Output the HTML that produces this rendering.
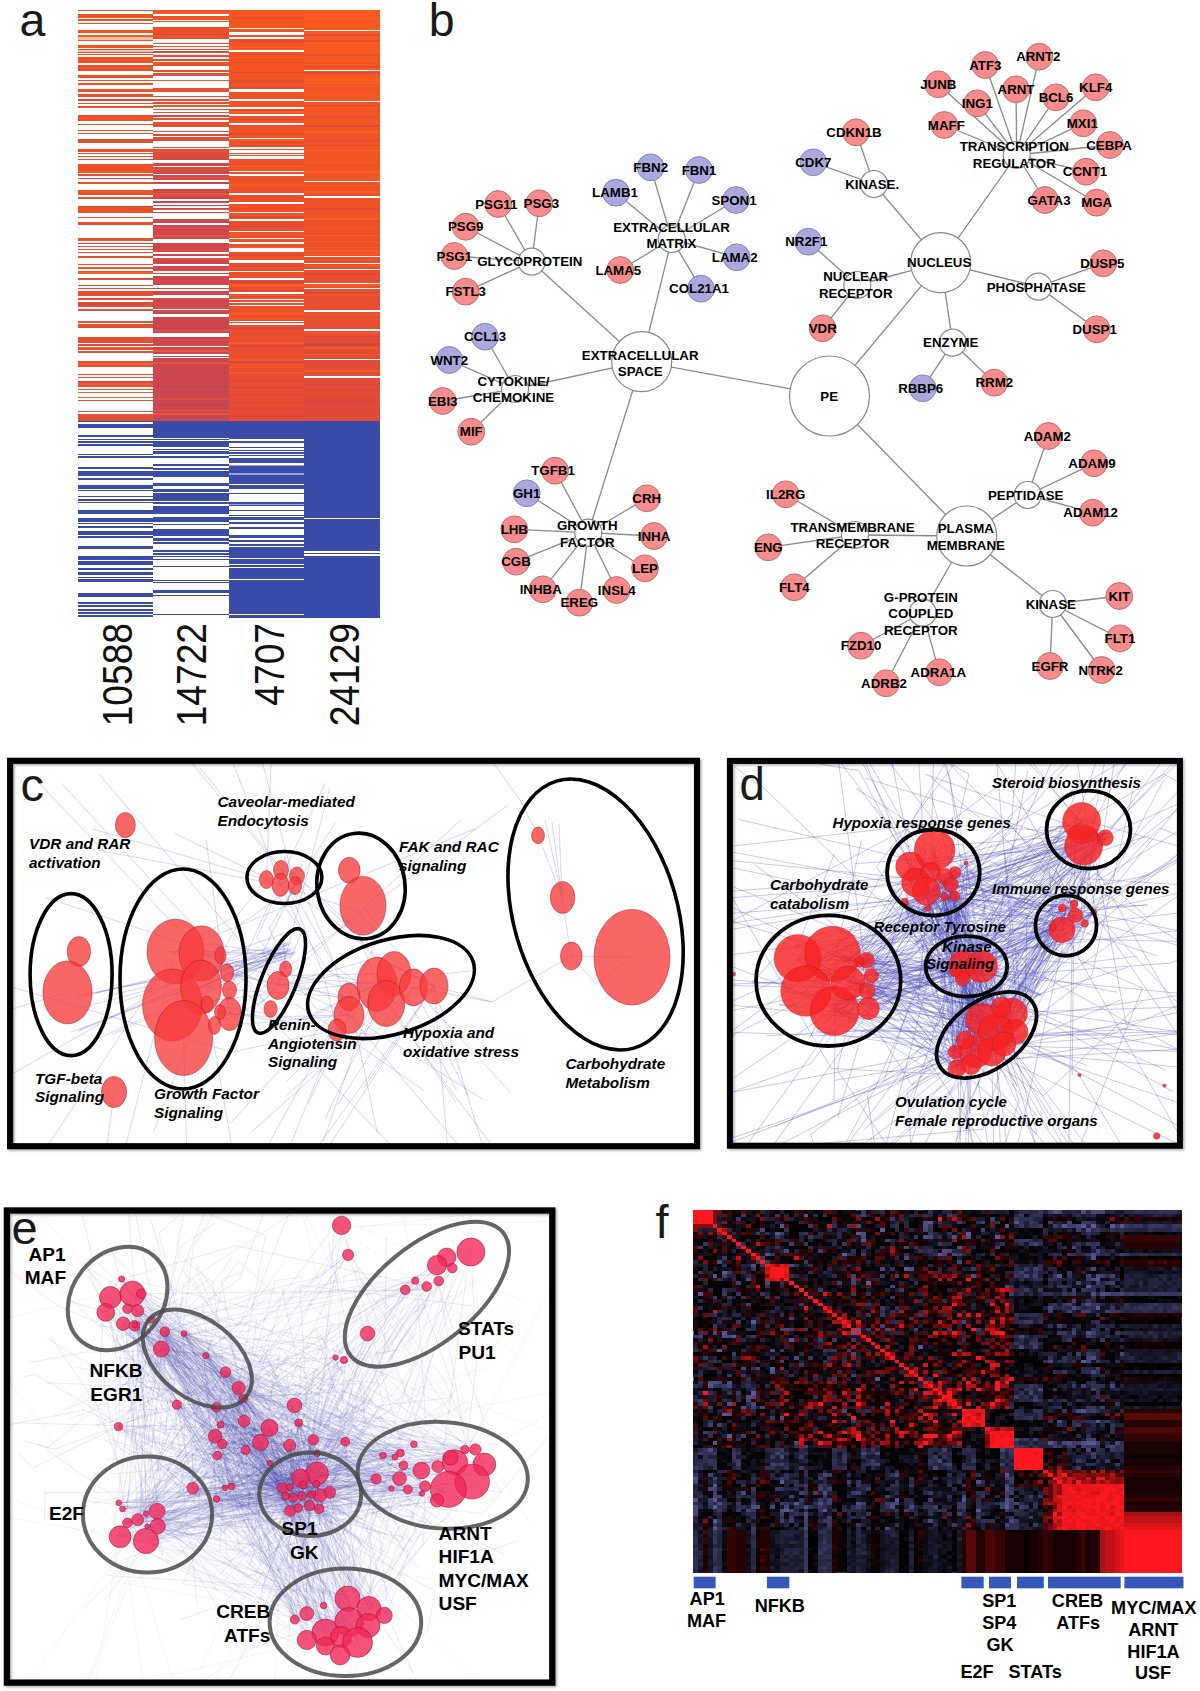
<!DOCTYPE html>
<html><head><meta charset="utf-8"><title>Figure</title>
<style>
html,body{margin:0;padding:0;background:#fff}
svg{display:block}
text{font-family:"Liberation Sans",sans-serif}
.bt{font-weight:bold;font-size:13.3px;fill:#000}
.pl{font-size:44px;fill:#1a1a1a}
.it{font-weight:bold;font-style:italic;font-size:15.35px;fill:#000}
.eb{font-weight:bold;font-size:19.1px;fill:#000}
</style></head><body>
<svg width="1200" height="1691" viewBox="0 0 1200 1691">
<rect width="1200" height="1691" fill="#fff"/>
<defs><filter id="shd" x="-5%" y="-5%" width="110%" height="110%"><feGaussianBlur stdDeviation="1"/></filter></defs>
<g id="pa" shape-rendering="crispEdges">
<defs>
<linearGradient id="ga0" x1="0" y1="0" x2="0" y2="1"><stop offset="0" stop-color="#f4521f"/><stop offset="0.5" stop-color="#ea502a"/><stop offset="1" stop-color="#e2503a"/></linearGradient>
<linearGradient id="ga1" x1="0" y1="0" x2="0" y2="1"><stop offset="0" stop-color="#ee5028"/><stop offset=".3" stop-color="#e84e30"/><stop offset=".42" stop-color="#d2474a"/><stop offset="1" stop-color="#cc4650"/></linearGradient>
<linearGradient id="ga2" x1="0" y1="0" x2="0" y2="1"><stop offset="0" stop-color="#f6551e"/><stop offset="0.5" stop-color="#ee4f28"/><stop offset="1" stop-color="#e84c34"/></linearGradient>
<linearGradient id="ga3" x1="0" y1="0" x2="0" y2="1"><stop offset="0" stop-color="#fb5a1f"/><stop offset="0.55" stop-color="#ee5029"/><stop offset="1" stop-color="#df4a3a"/></linearGradient>
</defs>
<rect x="78" y="9.6" width="74.6" height="411.1" fill="url(#ga0)"/>
<rect x="78" y="420.7" width="74.6" height="44.3" fill="#3b4ba9"/>
<rect x="152.6" y="9.6" width="76.8" height="411.1" fill="url(#ga1)"/>
<rect x="152.6" y="420.7" width="76.8" height="44.3" fill="#3b4ba9"/>
<rect x="229.4" y="9.6" width="74.3" height="411.1" fill="url(#ga2)"/>
<rect x="229.4" y="420.7" width="74.3" height="196.9" fill="#3b4ba9"/>
<rect x="303.7" y="9.6" width="76.3" height="411.1" fill="url(#ga3)"/>
<rect x="303.7" y="420.7" width="76.3" height="196.9" fill="#3b4ba9"/>
<rect x="78" y="18.3" width="74.6" height="2.1" fill="#c04058" fill-opacity="0.18"/>
<rect x="78" y="22.5" width="74.6" height="0.9" fill="#ff6a20" fill-opacity="0.4"/>
<rect x="78" y="25.9" width="74.6" height="0.9" fill="#c04058" fill-opacity="0.25"/>
<rect x="78" y="34.9" width="74.6" height="1.6" fill="#ff6a20" fill-opacity="0.5"/>
<rect x="78" y="43.5" width="74.6" height="1.5" fill="#c04058" fill-opacity="0.35"/>
<rect x="78" y="51.7" width="74.6" height="2" fill="#c04058" fill-opacity="0.35"/>
<rect x="78" y="60.1" width="74.6" height="1.3" fill="#ff6a20" fill-opacity="0.25"/>
<rect x="78" y="65.8" width="74.6" height="1" fill="#c04058" fill-opacity="0.35"/>
<rect x="78" y="68.6" width="74.6" height="1.4" fill="#c04058" fill-opacity="0.25"/>
<rect x="78" y="77.5" width="74.6" height="1.3" fill="#c04058" fill-opacity="0.35"/>
<rect x="78" y="84.9" width="74.6" height="1.2" fill="#ff6a20" fill-opacity="0.4"/>
<rect x="78" y="87.7" width="74.6" height="1.8" fill="#ff6a20" fill-opacity="0.4"/>
<rect x="78" y="94.1" width="74.6" height="1" fill="#c04058" fill-opacity="0.5"/>
<rect x="78" y="99.3" width="74.6" height="1.9" fill="#c04058" fill-opacity="0.5"/>
<rect x="78" y="107.6" width="74.6" height="1.3" fill="#ff6a20" fill-opacity="0.5"/>
<rect x="78" y="114.5" width="74.6" height="1.4" fill="#c04058" fill-opacity="0.35"/>
<rect x="78" y="122.1" width="74.6" height="1.9" fill="#ff6a20" fill-opacity="0.5"/>
<rect x="78" y="125.6" width="74.6" height="2.1" fill="#c04058" fill-opacity="0.5"/>
<rect x="78" y="129.5" width="74.6" height="0.9" fill="#ff6a20" fill-opacity="0.5"/>
<rect x="78" y="135.6" width="74.6" height="0.7" fill="#ff6a20" fill-opacity="0.5"/>
<rect x="78" y="137.2" width="74.6" height="1.9" fill="#ff6a20" fill-opacity="0.25"/>
<rect x="78" y="139.1" width="74.6" height="1.6" fill="#c04058" fill-opacity="0.25"/>
<rect x="78" y="145.8" width="74.6" height="2.1" fill="#ff6a20" fill-opacity="0.25"/>
<rect x="78" y="153.7" width="74.6" height="1" fill="#c04058" fill-opacity="0.18"/>
<rect x="78" y="158.3" width="74.6" height="1.7" fill="#c04058" fill-opacity="0.35"/>
<rect x="78" y="162.5" width="74.6" height="1" fill="#c04058" fill-opacity="0.18"/>
<rect x="78" y="171.2" width="74.6" height="0.6" fill="#ff6a20" fill-opacity="0.25"/>
<rect x="78" y="175.5" width="74.6" height="0.8" fill="#ff6a20" fill-opacity="0.5"/>
<rect x="78" y="178.4" width="74.6" height="1.7" fill="#c04058" fill-opacity="0.18"/>
<rect x="78" y="185.8" width="74.6" height="1" fill="#ff6a20" fill-opacity="0.25"/>
<rect x="78" y="189.9" width="74.6" height="1.6" fill="#ff6a20" fill-opacity="0.25"/>
<rect x="78" y="193.5" width="74.6" height="1.4" fill="#c04058" fill-opacity="0.18"/>
<rect x="78" y="201.8" width="74.6" height="1.8" fill="#ff6a20" fill-opacity="0.5"/>
<rect x="78" y="204.5" width="74.6" height="2.1" fill="#c04058" fill-opacity="0.35"/>
<rect x="78" y="212.3" width="74.6" height="0.6" fill="#ff6a20" fill-opacity="0.25"/>
<rect x="78" y="217.6" width="74.6" height="1.8" fill="#c04058" fill-opacity="0.35"/>
<rect x="78" y="220.2" width="74.6" height="2.1" fill="#c04058" fill-opacity="0.5"/>
<rect x="78" y="226.6" width="74.6" height="1.7" fill="#ff6a20" fill-opacity="0.5"/>
<rect x="78" y="228.5" width="74.6" height="0.7" fill="#c04058" fill-opacity="0.18"/>
<rect x="78" y="233.4" width="74.6" height="1" fill="#ff6a20" fill-opacity="0.5"/>
<rect x="78" y="242" width="74.6" height="2.2" fill="#c04058" fill-opacity="0.5"/>
<rect x="78" y="244" width="74.6" height="0.7" fill="#c04058" fill-opacity="0.35"/>
<rect x="78" y="247.4" width="74.6" height="1.3" fill="#ff6a20" fill-opacity="0.25"/>
<rect x="78" y="250.1" width="74.6" height="1.2" fill="#c04058" fill-opacity="0.18"/>
<rect x="78" y="253.4" width="74.6" height="0.8" fill="#c04058" fill-opacity="0.25"/>
<rect x="78" y="255.7" width="74.6" height="0.6" fill="#ff6a20" fill-opacity="0.4"/>
<rect x="78" y="259.5" width="74.6" height="1.6" fill="#c04058" fill-opacity="0.25"/>
<rect x="78" y="266.4" width="74.6" height="1.3" fill="#ff6a20" fill-opacity="0.5"/>
<rect x="78" y="272.4" width="74.6" height="2" fill="#ff6a20" fill-opacity="0.5"/>
<rect x="78" y="275.2" width="74.6" height="0.8" fill="#ff6a20" fill-opacity="0.4"/>
<rect x="78" y="276.9" width="74.6" height="2.1" fill="#c04058" fill-opacity="0.35"/>
<rect x="78" y="280.6" width="74.6" height="2.2" fill="#c04058" fill-opacity="0.18"/>
<rect x="78" y="288.6" width="74.6" height="1.3" fill="#c04058" fill-opacity="0.25"/>
<rect x="78" y="296.4" width="74.6" height="1.7" fill="#c04058" fill-opacity="0.5"/>
<rect x="78" y="298.4" width="74.6" height="1.6" fill="#c04058" fill-opacity="0.18"/>
<rect x="78" y="299.9" width="74.6" height="0.6" fill="#c04058" fill-opacity="0.18"/>
<rect x="78" y="303.1" width="74.6" height="1.4" fill="#c04058" fill-opacity="0.35"/>
<rect x="78" y="307.5" width="74.6" height="1.3" fill="#ff6a20" fill-opacity="0.4"/>
<rect x="78" y="315.7" width="74.6" height="1" fill="#c04058" fill-opacity="0.35"/>
<rect x="78" y="322" width="74.6" height="2.1" fill="#ff6a20" fill-opacity="0.25"/>
<rect x="78" y="328.1" width="74.6" height="1.4" fill="#c04058" fill-opacity="0.5"/>
<rect x="78" y="331.8" width="74.6" height="2.1" fill="#c04058" fill-opacity="0.35"/>
<rect x="78" y="335.3" width="74.6" height="1.4" fill="#c04058" fill-opacity="0.5"/>
<rect x="78" y="343.8" width="74.6" height="1.9" fill="#c04058" fill-opacity="0.25"/>
<rect x="78" y="346.5" width="74.6" height="1.6" fill="#ff6a20" fill-opacity="0.5"/>
<rect x="78" y="353" width="74.6" height="2.1" fill="#ff6a20" fill-opacity="0.5"/>
<rect x="78" y="355.3" width="74.6" height="1.2" fill="#ff6a20" fill-opacity="0.25"/>
<rect x="78" y="362.8" width="74.6" height="2" fill="#ff6a20" fill-opacity="0.5"/>
<rect x="78" y="371.7" width="74.6" height="1.6" fill="#c04058" fill-opacity="0.35"/>
<rect x="78" y="376.2" width="74.6" height="1.7" fill="#ff6a20" fill-opacity="0.4"/>
<rect x="78" y="381" width="74.6" height="1.4" fill="#c04058" fill-opacity="0.5"/>
<rect x="78" y="383.2" width="74.6" height="1.4" fill="#ff6a20" fill-opacity="0.4"/>
<rect x="78" y="385.9" width="74.6" height="0.9" fill="#ff6a20" fill-opacity="0.25"/>
<rect x="78" y="390.5" width="74.6" height="2.2" fill="#ff6a20" fill-opacity="0.5"/>
<rect x="78" y="397.4" width="74.6" height="1.3" fill="#ff6a20" fill-opacity="0.5"/>
<rect x="78" y="401.8" width="74.6" height="1.8" fill="#c04058" fill-opacity="0.18"/>
<rect x="78" y="406.9" width="74.6" height="1.2" fill="#ff6a20" fill-opacity="0.4"/>
<rect x="78" y="413.7" width="74.6" height="1.4" fill="#ff6a20" fill-opacity="0.4"/>
<rect x="152.6" y="11.7" width="76.8" height="1.9" fill="#ff6a20" fill-opacity="0.5"/>
<rect x="152.6" y="17.9" width="76.8" height="1.2" fill="#ff6a20" fill-opacity="0.5"/>
<rect x="152.6" y="26.2" width="76.8" height="1.1" fill="#ff6a20" fill-opacity="0.4"/>
<rect x="152.6" y="32.6" width="76.8" height="1.9" fill="#c04058" fill-opacity="0.25"/>
<rect x="152.6" y="39.6" width="76.8" height="1.6" fill="#ff6a20" fill-opacity="0.25"/>
<rect x="152.6" y="44" width="76.8" height="1.5" fill="#ff6a20" fill-opacity="0.4"/>
<rect x="152.6" y="51.1" width="76.8" height="1.5" fill="#c04058" fill-opacity="0.25"/>
<rect x="152.6" y="52.6" width="76.8" height="1.7" fill="#c04058" fill-opacity="0.25"/>
<rect x="152.6" y="57.7" width="76.8" height="0.9" fill="#ff6a20" fill-opacity="0.25"/>
<rect x="152.6" y="61.8" width="76.8" height="2" fill="#ff6a20" fill-opacity="0.5"/>
<rect x="152.6" y="68.2" width="76.8" height="1.8" fill="#c04058" fill-opacity="0.35"/>
<rect x="152.6" y="73.2" width="76.8" height="2" fill="#c04058" fill-opacity="0.18"/>
<rect x="152.6" y="79.3" width="76.8" height="1.2" fill="#ff6a20" fill-opacity="0.4"/>
<rect x="152.6" y="82.7" width="76.8" height="1.6" fill="#ff6a20" fill-opacity="0.5"/>
<rect x="152.6" y="85.2" width="76.8" height="0.9" fill="#c04058" fill-opacity="0.5"/>
<rect x="152.6" y="91.8" width="76.8" height="0.8" fill="#c04058" fill-opacity="0.5"/>
<rect x="152.6" y="100.5" width="76.8" height="1.2" fill="#ff6a20" fill-opacity="0.4"/>
<rect x="152.6" y="106.2" width="76.8" height="0.9" fill="#ff6a20" fill-opacity="0.4"/>
<rect x="152.6" y="112.6" width="76.8" height="1.4" fill="#ff6a20" fill-opacity="0.4"/>
<rect x="152.6" y="114.7" width="76.8" height="1.9" fill="#c04058" fill-opacity="0.35"/>
<rect x="152.6" y="121.1" width="76.8" height="1.2" fill="#ff6a20" fill-opacity="0.25"/>
<rect x="152.6" y="126.4" width="76.8" height="0.9" fill="#ff6a20" fill-opacity="0.25"/>
<rect x="152.6" y="133.9" width="76.8" height="1.6" fill="#c04058" fill-opacity="0.25"/>
<rect x="152.6" y="142.5" width="76.8" height="1.5" fill="#ff6a20" fill-opacity="0.25"/>
<rect x="152.6" y="151.2" width="76.8" height="0.8" fill="#ff6a20" fill-opacity="0.4"/>
<rect x="152.6" y="159.1" width="76.8" height="0.9" fill="#c04058" fill-opacity="0.35"/>
<rect x="152.6" y="164" width="76.8" height="0.9" fill="#c04058" fill-opacity="0.35"/>
<rect x="152.6" y="169" width="76.8" height="0.8" fill="#ff6a20" fill-opacity="0.5"/>
<rect x="152.6" y="172.1" width="76.8" height="1" fill="#c04058" fill-opacity="0.25"/>
<rect x="152.6" y="177.1" width="76.8" height="1.8" fill="#ff6a20" fill-opacity="0.25"/>
<rect x="152.6" y="181.3" width="76.8" height="1.9" fill="#c04058" fill-opacity="0.5"/>
<rect x="152.6" y="185.8" width="76.8" height="1.9" fill="#c04058" fill-opacity="0.35"/>
<rect x="152.6" y="192.9" width="76.8" height="1.8" fill="#ff6a20" fill-opacity="0.5"/>
<rect x="152.6" y="200" width="76.8" height="2.2" fill="#c04058" fill-opacity="0.18"/>
<rect x="152.6" y="204.3" width="76.8" height="1.2" fill="#c04058" fill-opacity="0.35"/>
<rect x="152.6" y="209.1" width="76.8" height="0.7" fill="#ff6a20" fill-opacity="0.4"/>
<rect x="152.6" y="217.8" width="76.8" height="0.8" fill="#c04058" fill-opacity="0.35"/>
<rect x="152.6" y="220.5" width="76.8" height="0.7" fill="#ff6a20" fill-opacity="0.5"/>
<rect x="152.6" y="227.8" width="76.8" height="1.3" fill="#ff6a20" fill-opacity="0.25"/>
<rect x="152.6" y="235.4" width="76.8" height="1.6" fill="#ff6a20" fill-opacity="0.4"/>
<rect x="152.6" y="241.7" width="76.8" height="0.8" fill="#c04058" fill-opacity="0.5"/>
<rect x="152.6" y="243.9" width="76.8" height="0.8" fill="#c04058" fill-opacity="0.35"/>
<rect x="152.6" y="246.5" width="76.8" height="1.2" fill="#c04058" fill-opacity="0.25"/>
<rect x="152.6" y="249.9" width="76.8" height="1" fill="#ff6a20" fill-opacity="0.4"/>
<rect x="152.6" y="258.4" width="76.8" height="1.6" fill="#ff6a20" fill-opacity="0.25"/>
<rect x="152.6" y="261.2" width="76.8" height="0.7" fill="#c04058" fill-opacity="0.35"/>
<rect x="152.6" y="263.7" width="76.8" height="1.4" fill="#ff6a20" fill-opacity="0.4"/>
<rect x="152.6" y="270.1" width="76.8" height="1.7" fill="#ff6a20" fill-opacity="0.25"/>
<rect x="152.6" y="279.1" width="76.8" height="1.2" fill="#c04058" fill-opacity="0.35"/>
<rect x="152.6" y="284.7" width="76.8" height="1.6" fill="#c04058" fill-opacity="0.5"/>
<rect x="152.6" y="293.6" width="76.8" height="1.9" fill="#c04058" fill-opacity="0.5"/>
<rect x="152.6" y="298" width="76.8" height="1.3" fill="#ff6a20" fill-opacity="0.4"/>
<rect x="152.6" y="306.9" width="76.8" height="0.8" fill="#ff6a20" fill-opacity="0.5"/>
<rect x="152.6" y="312.2" width="76.8" height="0.9" fill="#c04058" fill-opacity="0.5"/>
<rect x="152.6" y="319.7" width="76.8" height="0.6" fill="#c04058" fill-opacity="0.35"/>
<rect x="152.6" y="322.8" width="76.8" height="0.6" fill="#c04058" fill-opacity="0.18"/>
<rect x="152.6" y="326.8" width="76.8" height="1.9" fill="#c04058" fill-opacity="0.5"/>
<rect x="152.6" y="330.2" width="76.8" height="1.4" fill="#ff6a20" fill-opacity="0.25"/>
<rect x="152.6" y="336.9" width="76.8" height="1.5" fill="#c04058" fill-opacity="0.18"/>
<rect x="152.6" y="344.5" width="76.8" height="1.4" fill="#ff6a20" fill-opacity="0.25"/>
<rect x="152.6" y="347.1" width="76.8" height="1.4" fill="#c04058" fill-opacity="0.18"/>
<rect x="152.6" y="350.4" width="76.8" height="1.3" fill="#ff6a20" fill-opacity="0.5"/>
<rect x="152.6" y="353.6" width="76.8" height="1.2" fill="#ff6a20" fill-opacity="0.4"/>
<rect x="152.6" y="361.8" width="76.8" height="1.7" fill="#ff6a20" fill-opacity="0.5"/>
<rect x="152.6" y="364.6" width="76.8" height="0.8" fill="#ff6a20" fill-opacity="0.5"/>
<rect x="152.6" y="373.2" width="76.8" height="0.9" fill="#c04058" fill-opacity="0.35"/>
<rect x="152.6" y="378" width="76.8" height="1.3" fill="#c04058" fill-opacity="0.35"/>
<rect x="152.6" y="385.6" width="76.8" height="1.5" fill="#c04058" fill-opacity="0.35"/>
<rect x="152.6" y="391" width="76.8" height="1.4" fill="#c04058" fill-opacity="0.5"/>
<rect x="152.6" y="397.8" width="76.8" height="1.7" fill="#ff6a20" fill-opacity="0.25"/>
<rect x="152.6" y="403.8" width="76.8" height="1.8" fill="#c04058" fill-opacity="0.5"/>
<rect x="152.6" y="409.6" width="76.8" height="1.6" fill="#ff6a20" fill-opacity="0.5"/>
<rect x="152.6" y="413.1" width="76.8" height="1.8" fill="#ff6a20" fill-opacity="0.5"/>
<rect x="229.4" y="17.4" width="74.3" height="1.6" fill="#c04058" fill-opacity="0.25"/>
<rect x="229.4" y="26.3" width="74.3" height="0.8" fill="#ff6a20" fill-opacity="0.25"/>
<rect x="229.4" y="33.6" width="74.3" height="0.7" fill="#ff6a20" fill-opacity="0.4"/>
<rect x="229.4" y="39.8" width="74.3" height="2.1" fill="#c04058" fill-opacity="0.35"/>
<rect x="229.4" y="46.5" width="74.3" height="1" fill="#ff6a20" fill-opacity="0.5"/>
<rect x="229.4" y="48.6" width="74.3" height="2" fill="#ff6a20" fill-opacity="0.25"/>
<rect x="229.4" y="53.5" width="74.3" height="1.7" fill="#c04058" fill-opacity="0.35"/>
<rect x="229.4" y="62" width="74.3" height="0.6" fill="#c04058" fill-opacity="0.35"/>
<rect x="229.4" y="67.6" width="74.3" height="1.2" fill="#ff6a20" fill-opacity="0.25"/>
<rect x="229.4" y="72.3" width="74.3" height="0.8" fill="#c04058" fill-opacity="0.5"/>
<rect x="229.4" y="80.3" width="74.3" height="2.2" fill="#c04058" fill-opacity="0.35"/>
<rect x="229.4" y="86.5" width="74.3" height="1.5" fill="#c04058" fill-opacity="0.5"/>
<rect x="229.4" y="94.3" width="74.3" height="1.1" fill="#c04058" fill-opacity="0.35"/>
<rect x="229.4" y="100.4" width="74.3" height="2" fill="#c04058" fill-opacity="0.25"/>
<rect x="229.4" y="107" width="74.3" height="1.1" fill="#c04058" fill-opacity="0.35"/>
<rect x="229.4" y="109.2" width="74.3" height="1.9" fill="#c04058" fill-opacity="0.35"/>
<rect x="229.4" y="111.2" width="74.3" height="1.5" fill="#ff6a20" fill-opacity="0.5"/>
<rect x="229.4" y="115.2" width="74.3" height="1.3" fill="#c04058" fill-opacity="0.18"/>
<rect x="229.4" y="118.9" width="74.3" height="1.5" fill="#c04058" fill-opacity="0.25"/>
<rect x="229.4" y="124.9" width="74.3" height="1.2" fill="#c04058" fill-opacity="0.5"/>
<rect x="229.4" y="133.3" width="74.3" height="1.6" fill="#c04058" fill-opacity="0.25"/>
<rect x="229.4" y="135.9" width="74.3" height="1.1" fill="#ff6a20" fill-opacity="0.25"/>
<rect x="229.4" y="138.9" width="74.3" height="1.7" fill="#ff6a20" fill-opacity="0.5"/>
<rect x="229.4" y="145" width="74.3" height="1.2" fill="#c04058" fill-opacity="0.25"/>
<rect x="229.4" y="150.7" width="74.3" height="1" fill="#c04058" fill-opacity="0.5"/>
<rect x="229.4" y="158.4" width="74.3" height="0.8" fill="#c04058" fill-opacity="0.5"/>
<rect x="229.4" y="163.5" width="74.3" height="1.2" fill="#c04058" fill-opacity="0.25"/>
<rect x="229.4" y="165.4" width="74.3" height="1.4" fill="#ff6a20" fill-opacity="0.5"/>
<rect x="229.4" y="174" width="74.3" height="1.7" fill="#c04058" fill-opacity="0.5"/>
<rect x="229.4" y="178.5" width="74.3" height="1.4" fill="#c04058" fill-opacity="0.35"/>
<rect x="229.4" y="183.9" width="74.3" height="1.9" fill="#ff6a20" fill-opacity="0.5"/>
<rect x="229.4" y="188.9" width="74.3" height="1.7" fill="#c04058" fill-opacity="0.18"/>
<rect x="229.4" y="193.9" width="74.3" height="0.8" fill="#c04058" fill-opacity="0.35"/>
<rect x="229.4" y="197.3" width="74.3" height="0.7" fill="#c04058" fill-opacity="0.35"/>
<rect x="229.4" y="205.8" width="74.3" height="0.8" fill="#ff6a20" fill-opacity="0.25"/>
<rect x="229.4" y="212.4" width="74.3" height="0.8" fill="#ff6a20" fill-opacity="0.25"/>
<rect x="229.4" y="216.2" width="74.3" height="1.7" fill="#c04058" fill-opacity="0.35"/>
<rect x="229.4" y="223.5" width="74.3" height="1.7" fill="#c04058" fill-opacity="0.35"/>
<rect x="229.4" y="225.8" width="74.3" height="1.9" fill="#c04058" fill-opacity="0.35"/>
<rect x="229.4" y="233.3" width="74.3" height="2" fill="#ff6a20" fill-opacity="0.25"/>
<rect x="229.4" y="235" width="74.3" height="1.1" fill="#ff6a20" fill-opacity="0.25"/>
<rect x="229.4" y="239.1" width="74.3" height="2.2" fill="#ff6a20" fill-opacity="0.25"/>
<rect x="229.4" y="247.1" width="74.3" height="0.7" fill="#ff6a20" fill-opacity="0.5"/>
<rect x="229.4" y="254.4" width="74.3" height="1.3" fill="#c04058" fill-opacity="0.25"/>
<rect x="229.4" y="257.1" width="74.3" height="0.7" fill="#ff6a20" fill-opacity="0.5"/>
<rect x="229.4" y="264.8" width="74.3" height="1.7" fill="#c04058" fill-opacity="0.18"/>
<rect x="229.4" y="273.5" width="74.3" height="1.5" fill="#ff6a20" fill-opacity="0.25"/>
<rect x="229.4" y="278.1" width="74.3" height="2.1" fill="#c04058" fill-opacity="0.18"/>
<rect x="229.4" y="281.4" width="74.3" height="1.5" fill="#c04058" fill-opacity="0.5"/>
<rect x="229.4" y="283.5" width="74.3" height="2" fill="#ff6a20" fill-opacity="0.25"/>
<rect x="229.4" y="285.4" width="74.3" height="1.4" fill="#ff6a20" fill-opacity="0.4"/>
<rect x="229.4" y="290.1" width="74.3" height="1.9" fill="#c04058" fill-opacity="0.25"/>
<rect x="229.4" y="295" width="74.3" height="1.2" fill="#ff6a20" fill-opacity="0.5"/>
<rect x="229.4" y="297.9" width="74.3" height="1.9" fill="#ff6a20" fill-opacity="0.5"/>
<rect x="229.4" y="306.5" width="74.3" height="1.9" fill="#ff6a20" fill-opacity="0.25"/>
<rect x="229.4" y="311.8" width="74.3" height="2.2" fill="#ff6a20" fill-opacity="0.25"/>
<rect x="229.4" y="313.4" width="74.3" height="1.7" fill="#ff6a20" fill-opacity="0.5"/>
<rect x="229.4" y="318" width="74.3" height="1.6" fill="#ff6a20" fill-opacity="0.4"/>
<rect x="229.4" y="323" width="74.3" height="1.3" fill="#c04058" fill-opacity="0.25"/>
<rect x="229.4" y="327.2" width="74.3" height="1.6" fill="#c04058" fill-opacity="0.5"/>
<rect x="229.4" y="333.3" width="74.3" height="0.6" fill="#c04058" fill-opacity="0.18"/>
<rect x="229.4" y="342.1" width="74.3" height="1.5" fill="#ff6a20" fill-opacity="0.5"/>
<rect x="229.4" y="345.6" width="74.3" height="1.3" fill="#c04058" fill-opacity="0.5"/>
<rect x="229.4" y="353.9" width="74.3" height="1" fill="#ff6a20" fill-opacity="0.25"/>
<rect x="229.4" y="358.9" width="74.3" height="2.1" fill="#ff6a20" fill-opacity="0.4"/>
<rect x="229.4" y="361.2" width="74.3" height="1.7" fill="#c04058" fill-opacity="0.5"/>
<rect x="229.4" y="363.6" width="74.3" height="1.6" fill="#ff6a20" fill-opacity="0.4"/>
<rect x="229.4" y="365.8" width="74.3" height="1.8" fill="#ff6a20" fill-opacity="0.4"/>
<rect x="229.4" y="371.9" width="74.3" height="1.8" fill="#ff6a20" fill-opacity="0.4"/>
<rect x="229.4" y="380.2" width="74.3" height="1.5" fill="#c04058" fill-opacity="0.25"/>
<rect x="229.4" y="386.7" width="74.3" height="1.6" fill="#c04058" fill-opacity="0.5"/>
<rect x="229.4" y="393.5" width="74.3" height="1.8" fill="#c04058" fill-opacity="0.35"/>
<rect x="229.4" y="401.9" width="74.3" height="1.5" fill="#c04058" fill-opacity="0.35"/>
<rect x="229.4" y="408.4" width="74.3" height="1.7" fill="#c04058" fill-opacity="0.18"/>
<rect x="229.4" y="411.5" width="74.3" height="0.8" fill="#c04058" fill-opacity="0.35"/>
<rect x="229.4" y="415.4" width="74.3" height="1.1" fill="#c04058" fill-opacity="0.35"/>
<rect x="303.7" y="14.7" width="76.3" height="1.6" fill="#c04058" fill-opacity="0.18"/>
<rect x="303.7" y="20.7" width="76.3" height="1.2" fill="#c04058" fill-opacity="0.25"/>
<rect x="303.7" y="27.6" width="76.3" height="0.7" fill="#c04058" fill-opacity="0.5"/>
<rect x="303.7" y="34" width="76.3" height="1.6" fill="#c04058" fill-opacity="0.5"/>
<rect x="303.7" y="40.3" width="76.3" height="1.5" fill="#c04058" fill-opacity="0.35"/>
<rect x="303.7" y="43" width="76.3" height="1.1" fill="#ff6a20" fill-opacity="0.5"/>
<rect x="303.7" y="49" width="76.3" height="1.4" fill="#ff6a20" fill-opacity="0.25"/>
<rect x="303.7" y="54.3" width="76.3" height="1.5" fill="#c04058" fill-opacity="0.35"/>
<rect x="303.7" y="63.1" width="76.3" height="0.9" fill="#c04058" fill-opacity="0.25"/>
<rect x="303.7" y="66.2" width="76.3" height="1.3" fill="#c04058" fill-opacity="0.35"/>
<rect x="303.7" y="72.1" width="76.3" height="1.4" fill="#c04058" fill-opacity="0.5"/>
<rect x="303.7" y="79.4" width="76.3" height="1.8" fill="#ff6a20" fill-opacity="0.5"/>
<rect x="303.7" y="82.3" width="76.3" height="1.7" fill="#ff6a20" fill-opacity="0.4"/>
<rect x="303.7" y="88.5" width="76.3" height="1.9" fill="#c04058" fill-opacity="0.25"/>
<rect x="303.7" y="97.4" width="76.3" height="0.9" fill="#ff6a20" fill-opacity="0.4"/>
<rect x="303.7" y="104.7" width="76.3" height="0.9" fill="#c04058" fill-opacity="0.5"/>
<rect x="303.7" y="110.9" width="76.3" height="0.6" fill="#c04058" fill-opacity="0.18"/>
<rect x="303.7" y="114.7" width="76.3" height="1.5" fill="#c04058" fill-opacity="0.18"/>
<rect x="303.7" y="116.7" width="76.3" height="1.3" fill="#c04058" fill-opacity="0.5"/>
<rect x="303.7" y="125.1" width="76.3" height="1.6" fill="#c04058" fill-opacity="0.5"/>
<rect x="303.7" y="130.6" width="76.3" height="2.1" fill="#ff6a20" fill-opacity="0.5"/>
<rect x="303.7" y="138.1" width="76.3" height="1.1" fill="#c04058" fill-opacity="0.25"/>
<rect x="303.7" y="140.2" width="76.3" height="2.1" fill="#c04058" fill-opacity="0.35"/>
<rect x="303.7" y="145.1" width="76.3" height="0.9" fill="#c04058" fill-opacity="0.35"/>
<rect x="303.7" y="150.1" width="76.3" height="0.7" fill="#ff6a20" fill-opacity="0.5"/>
<rect x="303.7" y="154.2" width="76.3" height="1.1" fill="#ff6a20" fill-opacity="0.25"/>
<rect x="303.7" y="162.1" width="76.3" height="0.8" fill="#ff6a20" fill-opacity="0.25"/>
<rect x="303.7" y="166" width="76.3" height="1" fill="#c04058" fill-opacity="0.18"/>
<rect x="303.7" y="171.3" width="76.3" height="2.1" fill="#ff6a20" fill-opacity="0.5"/>
<rect x="303.7" y="177.4" width="76.3" height="1.2" fill="#ff6a20" fill-opacity="0.5"/>
<rect x="303.7" y="184.5" width="76.3" height="1.1" fill="#ff6a20" fill-opacity="0.25"/>
<rect x="303.7" y="188.5" width="76.3" height="0.8" fill="#c04058" fill-opacity="0.18"/>
<rect x="303.7" y="191.1" width="76.3" height="1.8" fill="#ff6a20" fill-opacity="0.5"/>
<rect x="303.7" y="195.2" width="76.3" height="1.7" fill="#c04058" fill-opacity="0.25"/>
<rect x="303.7" y="204" width="76.3" height="0.8" fill="#ff6a20" fill-opacity="0.25"/>
<rect x="303.7" y="208.1" width="76.3" height="2" fill="#c04058" fill-opacity="0.35"/>
<rect x="303.7" y="215.4" width="76.3" height="1.7" fill="#ff6a20" fill-opacity="0.25"/>
<rect x="303.7" y="217.6" width="76.3" height="2.1" fill="#ff6a20" fill-opacity="0.5"/>
<rect x="303.7" y="220.8" width="76.3" height="1.1" fill="#c04058" fill-opacity="0.25"/>
<rect x="303.7" y="227.3" width="76.3" height="0.9" fill="#ff6a20" fill-opacity="0.25"/>
<rect x="303.7" y="235.1" width="76.3" height="1.1" fill="#ff6a20" fill-opacity="0.5"/>
<rect x="303.7" y="240.8" width="76.3" height="2.1" fill="#ff6a20" fill-opacity="0.25"/>
<rect x="303.7" y="247.2" width="76.3" height="0.7" fill="#ff6a20" fill-opacity="0.4"/>
<rect x="303.7" y="249.8" width="76.3" height="1.8" fill="#ff6a20" fill-opacity="0.5"/>
<rect x="303.7" y="253.3" width="76.3" height="1.5" fill="#ff6a20" fill-opacity="0.25"/>
<rect x="303.7" y="258.7" width="76.3" height="1.5" fill="#ff6a20" fill-opacity="0.25"/>
<rect x="303.7" y="265.1" width="76.3" height="1.6" fill="#ff6a20" fill-opacity="0.5"/>
<rect x="303.7" y="273.7" width="76.3" height="0.8" fill="#c04058" fill-opacity="0.5"/>
<rect x="303.7" y="280.3" width="76.3" height="1.3" fill="#c04058" fill-opacity="0.18"/>
<rect x="303.7" y="284.4" width="76.3" height="1.2" fill="#ff6a20" fill-opacity="0.5"/>
<rect x="303.7" y="291.9" width="76.3" height="1.2" fill="#c04058" fill-opacity="0.5"/>
<rect x="303.7" y="295.1" width="76.3" height="0.8" fill="#ff6a20" fill-opacity="0.5"/>
<rect x="303.7" y="302.9" width="76.3" height="0.9" fill="#c04058" fill-opacity="0.18"/>
<rect x="303.7" y="309.2" width="76.3" height="1.8" fill="#c04058" fill-opacity="0.18"/>
<rect x="303.7" y="313.9" width="76.3" height="1.7" fill="#ff6a20" fill-opacity="0.25"/>
<rect x="303.7" y="318.6" width="76.3" height="0.9" fill="#ff6a20" fill-opacity="0.4"/>
<rect x="303.7" y="326.5" width="76.3" height="0.9" fill="#ff6a20" fill-opacity="0.4"/>
<rect x="303.7" y="332.3" width="76.3" height="2.1" fill="#ff6a20" fill-opacity="0.4"/>
<rect x="303.7" y="336.1" width="76.3" height="1.3" fill="#c04058" fill-opacity="0.5"/>
<rect x="303.7" y="343.3" width="76.3" height="2.2" fill="#c04058" fill-opacity="0.5"/>
<rect x="303.7" y="347" width="76.3" height="1.5" fill="#ff6a20" fill-opacity="0.5"/>
<rect x="303.7" y="353.7" width="76.3" height="1.5" fill="#ff6a20" fill-opacity="0.4"/>
<rect x="303.7" y="362.2" width="76.3" height="2" fill="#c04058" fill-opacity="0.18"/>
<rect x="303.7" y="370.3" width="76.3" height="2" fill="#ff6a20" fill-opacity="0.5"/>
<rect x="303.7" y="376.6" width="76.3" height="0.9" fill="#c04058" fill-opacity="0.18"/>
<rect x="303.7" y="383.6" width="76.3" height="2.2" fill="#c04058" fill-opacity="0.25"/>
<rect x="303.7" y="389" width="76.3" height="2" fill="#c04058" fill-opacity="0.18"/>
<rect x="303.7" y="392.8" width="76.3" height="1.3" fill="#ff6a20" fill-opacity="0.25"/>
<rect x="303.7" y="399.8" width="76.3" height="1.7" fill="#c04058" fill-opacity="0.18"/>
<rect x="303.7" y="404.6" width="76.3" height="0.7" fill="#c04058" fill-opacity="0.35"/>
<rect x="303.7" y="407.8" width="76.3" height="0.9" fill="#c04058" fill-opacity="0.25"/>
<rect x="303.7" y="416" width="76.3" height="2.1" fill="#ff6a20" fill-opacity="0.25"/>
<path fill="#fff" d="M78 10.7h74.6v0.8h-74.6zM78 12.3h74.6v1.3h-74.6zM78 17.9h74.6v1.3h-74.6zM78 20.5h74.6v2.4h-74.6zM78 23.5h74.6v6.7h-74.6zM78 33.3h74.6v1.3h-74.6zM78 40.5h74.6v4.8h-74.6zM78 47.5h74.6v1.6h-74.6zM78 52.5h74.6v1.6h-74.6zM78 54.9h74.6v1.6h-74.6zM78 62.7h74.6v2.1h-74.6zM78 70.7h74.6v4h-74.6zM78 77.9h74.6v1.6h-74.6zM78 80.5h74.6v2.7h-74.6zM78 84.8h74.6v3.7h-74.6zM78 92h74.6v1.9h-74.6zM78 97.3h74.6v1.9h-74.6zM78 100.8h74.6v1.9h-74.6zM78 104h74.6v1.6h-74.6zM78 108h74.6v7.2h-74.6zM78 121.3h74.6v2.7h-74.6zM78 124.8h74.6v5.3h-74.6zM78 131.2h74.6v1.6h-74.6zM78 134.1h74.6v2.4h-74.6zM78 137.3h74.6v1.3h-74.6zM78 142.7h74.6v6.7h-74.6zM78 151.5h74.6v1.6h-74.6zM78 154.1h74.6v1.3h-74.6zM78 156.8h74.6v1.3h-74.6zM152.6 13.9h76.8v2.1h-76.8zM152.6 20h76.8v1.3h-76.8zM152.6 22.4h76.8v4.3h-76.8zM152.6 38.7h76.8v4h-76.8zM152.6 44h76.8v1.9h-76.8zM152.6 46.9h76.8v1.6h-76.8zM152.6 50.1h76.8v0.8h-76.8zM152.6 53.3h76.8v1.6h-76.8zM152.6 56.8h76.8v1.9h-76.8zM152.6 60.8h76.8v1.1h-76.8zM152.6 65.9h76.8v4h-76.8zM152.6 71.5h76.8v1.1h-76.8zM152.6 76h76.8v4h-76.8zM152.6 81.3h76.8v6.7h-76.8zM152.6 92h76.8v3.5h-76.8zM152.6 96.5h76.8v2.7h-76.8zM152.6 100.8h76.8v1.6h-76.8zM152.6 103.5h76.8v1.9h-76.8zM152.6 106.7h76.8v2.1h-76.8zM152.6 109.9h76.8v1.6h-76.8zM152.6 113.3h76.8v1.9h-76.8zM152.6 116.8h76.8v1.6h-76.8zM152.6 120h76.8v2.1h-76.8zM152.6 126.7h76.8v4h-76.8zM152.6 132.3h76.8v1.6h-76.8zM152.6 135.5h76.8v1.6h-76.8zM152.6 141.3h76.8v5.9h-76.8zM152.6 148.3h76.8v1.1h-76.8zM229.4 27.5h74.3v1.9h-74.3zM229.4 31.5h74.3v3.2h-74.3zM229.4 37.3h74.3v1.3h-74.3zM229.4 49.6h74.3v2.1h-74.3zM229.4 89.3h74.3v2.7h-74.3zM229.4 99.2h74.3v1.6h-74.3zM229.4 106.7h74.3v2.1h-74.3zM229.4 114.1h74.3v1.6h-74.3zM229.4 123.2h74.3v1.6h-74.3zM229.4 138.1h74.3v1.1h-74.3zM229.4 146.7h74.3v2.1h-74.3zM229.4 149.9h74.3v2.7h-74.3zM229.4 154.1h74.3v1.1h-74.3zM229.4 157.3h74.3v1.3h-74.3zM303.7 30.4h76.3v0.8h-76.3zM303.7 70.1h76.3v1.1h-76.3zM303.7 100.5h76.3v1.3h-76.3zM78 155h74.6v1.3h-74.6zM78 157.7h74.6v1.1h-74.6zM78 160.3h74.6v3.2h-74.6zM78 173.1h74.6v1.1h-74.6zM78 176.3h74.6v1.6h-74.6zM78 179h74.6v2.7h-74.6zM78 184.3h74.6v6.1h-74.6zM78 195h74.6v2.1h-74.6zM78 198.5h74.6v7.2h-74.6zM78 213.1h74.6v3.7h-74.6zM78 218.2h74.6v3.5h-74.6zM78 224.9h74.6v13.3h-74.6zM78 240.9h74.6v1.6h-74.6zM78 243.8h74.6v1.9h-74.6zM78 247h74.6v1.9h-74.6zM78 249.9h74.6v2.1h-74.6zM78 253.1h74.6v3.2h-74.6zM78 257.7h74.6v6.1h-74.6zM78 265.4h74.6v1.6h-74.6zM78 269.1h74.6v2.1h-74.6zM78 273.7h74.6v4.5h-74.6zM78 279.8h74.6v4.8h-74.6zM78 285.7h74.6v2.1h-74.6zM78 289.1h74.6v1.9h-74.6zM78 295.8h74.6v2.4h-74.6zM78 300.3h74.6v1.9h-74.6zM78 306.5h74.6v2.7h-74.6zM78 311h74.6v1.9h-74.6zM152.6 159.8h76.8v3.2h-76.8zM152.6 165.7h76.8v1.6h-76.8zM152.6 173.7h76.8v1.1h-76.8zM152.6 179.5h76.8v2.1h-76.8zM152.6 183.8h76.8v5.3h-76.8zM152.6 199h76.8v1.9h-76.8zM152.6 203h76.8v1.6h-76.8zM152.6 206.2h76.8v1.6h-76.8zM152.6 209.7h76.8v1.9h-76.8zM152.6 212.9h76.8v6.1h-76.8zM152.6 223h76.8v1.9h-76.8zM152.6 239h76.8v3.5h-76.8zM152.6 252.3h76.8v1.9h-76.8zM152.6 256.3h76.8v2.1h-76.8zM152.6 264.3h76.8v1.6h-76.8zM152.6 271.3h76.8v1.6h-76.8zM152.6 274.2h76.8v1.3h-76.8zM152.6 284.6h76.8v3.2h-76.8zM152.6 289.1h76.8v1.9h-76.8zM152.6 295h76.8v2.7h-76.8zM152.6 309.1h76.8v1.3h-76.8zM229.4 156.3h74.3v2.7h-74.3zM229.4 170.5h74.3v1.6h-74.3zM229.4 174.2h74.3v2.1h-74.3zM229.4 193.1h74.3v1.9h-74.3zM229.4 201.7h74.3v1.9h-74.3zM229.4 211.8h74.3v1.3h-74.3zM229.4 219h74.3v1.6h-74.3zM229.4 230.5h74.3v1.9h-74.3zM229.4 237.7h74.3v1.6h-74.3zM229.4 241.7h74.3v1.9h-74.3zM229.4 248.3h74.3v3.2h-74.3zM229.4 260.3h74.3v2.7h-74.3zM229.4 271h74.3v0.8h-74.3zM229.4 277.7h74.3v2.7h-74.3zM229.4 292.3h74.3v1.3h-74.3zM229.4 298.5h74.3v1.3h-74.3zM229.4 301.7h74.3v1.6h-74.3zM229.4 305.1h74.3v1.1h-74.3zM303.7 180.9h76.3v0.8h-76.3zM303.7 195.8h76.3v1.9h-76.3zM303.7 255.8h76.3v1.1h-76.3zM303.7 263h76.3v0.8h-76.3zM303.7 269.1h76.3v1.3h-76.3zM303.7 282.5h76.3v1.6h-76.3zM303.7 288.3h76.3v1.1h-76.3zM303.7 310.2h76.3v1.6h-76.3zM78 312.1h74.6v8.5h-74.6zM78 322.8h74.6v1.3h-74.6zM78 328.1h74.6v9.3h-74.6zM78 342.5h74.6v1.6h-74.6zM78 346h74.6v1.3h-74.6zM78 350h74.6v0.8h-74.6zM78 352.7h74.6v8h-74.6zM78 366.5h74.6v7.5h-74.6zM78 375.3h74.6v1.3h-74.6zM78 377.7h74.6v3.7h-74.6zM78 387.3h74.6v1.6h-74.6zM78 390h74.6v1.6h-74.6zM78 392.7h74.6v4h-74.6zM78 398h74.6v1.6h-74.6zM78 400.7h74.6v10.1h-74.6zM78 411.9h74.6v1.6h-74.6zM78 422h74.6v2.1h-74.6zM78 428.1h74.6v7.2h-74.6zM78 436.7h74.6v1.9h-74.6zM78 439.9h74.6v1.3h-74.6zM78 442.5h74.6v1.3h-74.6zM78 445.5h74.6v8.5h-74.6zM78 455.3h74.6v0.8h-74.6zM78 458h74.6v6.9h-74.6zM152.6 313.7h76.8v3.2h-76.8zM152.6 332.7h76.8v1.9h-76.8zM152.6 335.3h76.8v2.1h-76.8zM152.6 346.3h76.8v1.1h-76.8zM152.6 353.7h76.8v2.1h-76.8zM152.6 356.9h76.8v1.1h-76.8zM152.6 437.5h76.8v1.6h-76.8zM152.6 439.9h76.8v0.8h-76.8zM152.6 446.5h76.8v2.1h-76.8zM152.6 449.7h76.8v1.1h-76.8zM152.6 454h76.8v2.1h-76.8zM152.6 458h76.8v6.1h-76.8zM229.4 320.7h74.3v1.3h-74.3zM229.4 323.3h74.3v1.3h-74.3zM229.4 439.3h74.3v1.9h-74.3zM229.4 442.5h74.3v4h-74.3zM229.4 448.1h74.3v1.6h-74.3zM229.4 451.3h74.3v1.1h-74.3zM229.4 453.5h74.3v1.1h-74.3zM229.4 456.1h74.3v2.1h-74.3zM229.4 463.3h74.3v1.6h-74.3zM303.7 310h76.3v1.3h-76.3zM303.7 329.2h76.3v1.6h-76.3zM303.7 358.8h76.3v1.1h-76.3zM303.7 375.9h76.3v1.6h-76.3zM229.4 483.7h74.3v1.1h-74.3zM229.4 488.5h74.3v4.3h-74.3zM229.4 493.8h74.3v8.5h-74.3zM229.4 506.3h74.3v3.5h-74.3zM229.4 510.9h74.3v3.7h-74.3zM229.4 515.7h74.3v1.6h-74.3zM229.4 519.7h74.3v1.9h-74.3zM229.4 524.2h74.3v2.7h-74.3zM229.4 529h74.3v5.9h-74.3zM229.4 537.5h74.3v2.9h-74.3zM229.4 542.3h74.3v1.6h-74.3zM229.4 545.5h74.3v1.1h-74.3zM229.4 557.8h74.3v1.1h-74.3zM229.4 564.2h74.3v1.1h-74.3zM229.4 566.9h74.3v1.1h-74.3zM229.4 579.1h74.3v1.1h-74.3zM229.4 613.8h74.3v1.1h-74.3zM303.7 517.5h76.3v1.3h-76.3zM303.7 550.9h76.3v1.6h-76.3zM303.7 554.1h76.3v1.6h-76.3z"/>
<path fill="#3b4ba9" d="M78 467.1h74.6v1.6h-74.6zM78 470.9h74.6v4.8h-74.6zM78 477.8h74.6v1.9h-74.6zM78 485h74.6v3.5h-74.6zM78 490.3h74.6v0.8h-74.6zM78 495.7h74.6v1.3h-74.6zM78 499.1h74.6v1.9h-74.6zM78 502.3h74.6v0.8h-74.6zM78 510.3h74.6v3.2h-74.6zM78 518.3h74.6v3.2h-74.6zM78 523.1h74.6v1.1h-74.6zM78 526.3h74.6v2.1h-74.6zM78 531.1h74.6v3.7h-74.6zM78 535.9h74.6v1.6h-74.6zM78 545.8h74.6v3.2h-74.6zM78 556.2h74.6v3.7h-74.6zM78 561h74.6v3.5h-74.6zM78 567.7h74.6v2.7h-74.6zM78 571.7h74.6v3.2h-74.6zM78 576.5h74.6v1.6h-74.6zM78 579.1h74.6v3.2h-74.6zM78 592.5h74.6v4.3h-74.6zM78 602.3h74.6v1.3h-74.6zM78 604.7h74.6v2.7h-74.6zM78 608.5h74.6v2.7h-74.6zM78 612.2h74.6v1.6h-74.6zM78 614.9h74.6v1.6h-74.6zM152.6 465h76.8v0.8h-76.8zM152.6 467.7h76.8v1.9h-76.8zM152.6 470.9h76.8v6.1h-76.8zM152.6 483.1h76.8v2.7h-76.8zM152.6 488.5h76.8v3.2h-76.8zM152.6 492.7h76.8v8.3h-76.8zM152.6 502.3h76.8v1.3h-76.8zM152.6 506.3h76.8v8h-76.8zM152.6 517h76.8v4.5h-76.8zM152.6 524.2h76.8v1.1h-76.8zM152.6 529h76.8v6.7h-76.8zM152.6 537.5h76.8v3.2h-76.8zM152.6 542.3h76.8v1.6h-76.8zM152.6 550.3h76.8v1.6h-76.8zM152.6 553h76.8v2.1h-76.8zM152.6 556.2h76.8v1.1h-76.8zM152.6 558.9h76.8v1.1h-76.8zM152.6 565.8h76.8v1.1h-76.8zM152.6 579.7h76.8v1.1h-76.8zM152.6 581.8h76.8v0.8h-76.8zM152.6 589.8h76.8v3.2h-76.8zM152.6 594.6h76.8v1.1h-76.8zM152.6 613.8h76.8v1.1h-76.8z"/>
<path fill="#9aa3d8" d="M229.4 465h74.3v1.1h-74.3zM229.4 473h74.3v1.6h-74.3zM229.4 503.7h74.3v1.3h-74.3z"/>
<rect x="78" y="36.5" width="74.6" height="3.5" fill="#f3c4a4"/>
<rect x="78" y="50.1" width="74.6" height="1.6" fill="#f3c4a4"/>
</g>
<text class="pl" style="font-size:46.5px" x="19.6" y="35.9">a</text>
<g font-size="42" fill="#111" text-anchor="end">
<text transform="translate(131.9 623) rotate(-90) scale(.885 1)" x="0" y="0">10588</text>
<text transform="translate(205.7 623) rotate(-90) scale(.885 1)" x="0" y="0">14722</text>
<text transform="translate(283.7 623) rotate(-90) scale(.885 1)" x="0" y="0">4707</text>
<text transform="translate(358.9 623) rotate(-90) scale(.885 1)" x="0" y="0">24129</text>
</g>
<g id="pb">
<text class="pl" style="font-size:46.5px" x="428.8" y="36.2">b</text>
<g stroke="#8a8a8a" stroke-width="1.3" fill="none">
<path d="M829.5 396L641.7 361.7"/>
<path d="M829.5 396L940.7 262.7"/>
<path d="M829.5 396L966.7 536"/>
<path d="M641.7 361.7L531.7 261.7"/>
<path d="M641.7 361.7L671.7 239"/>
<path d="M641.7 361.7L515 389"/>
<path d="M641.7 361.7L588.3 532.7"/>
<path d="M940.7 262.7L874 184"/>
<path d="M940.7 262.7L1016.7 155"/>
<path d="M940.7 262.7L857.3 285"/>
<path d="M940.7 262.7L1038.3 286.7"/>
<path d="M940.7 262.7L952.7 342.7"/>
<path d="M966.7 536L1027.7 495"/>
<path d="M966.7 536L855 535"/>
<path d="M966.7 536L922.7 612.7"/>
<path d="M966.7 536L1052.7 604"/>
<path d="M671.7 239L650.7 167.3"/>
<path d="M671.7 239L699 170"/>
<path d="M671.7 239L616 192.7"/>
<path d="M671.7 239L736 200"/>
<path d="M671.7 239L736.7 257.3"/>
<path d="M671.7 239L701 288.7"/>
<path d="M671.7 239L620.3 270"/>
<path d="M531.7 261.7L498.3 204"/>
<path d="M531.7 261.7L539.3 203.3"/>
<path d="M531.7 261.7L465.7 226.7"/>
<path d="M531.7 261.7L454.3 256"/>
<path d="M531.7 261.7L465.7 291.7"/>
<path d="M515 389L485 336.7"/>
<path d="M515 389L449.3 360"/>
<path d="M515 389L442.7 401"/>
<path d="M515 389L471.3 431.7"/>
<path d="M588.3 532.7L555 470.7"/>
<path d="M588.3 532.7L526.7 493.3"/>
<path d="M588.3 532.7L514.3 529.3"/>
<path d="M588.3 532.7L516 561.7"/>
<path d="M588.3 532.7L542.7 589.3"/>
<path d="M588.3 532.7L579.3 602.7"/>
<path d="M588.3 532.7L616.7 590"/>
<path d="M588.3 532.7L645 568.3"/>
<path d="M588.3 532.7L654 536"/>
<path d="M588.3 532.7L646.7 498.3"/>
<path d="M1016.7 155L1039.3 56.7"/>
<path d="M1016.7 155L985.3 65"/>
<path d="M1016.7 155L938.3 84.3"/>
<path d="M1016.7 155L1016 89.3"/>
<path d="M1016.7 155L1095.7 87.3"/>
<path d="M1016.7 155L1056 97.3"/>
<path d="M1016.7 155L977.3 103.3"/>
<path d="M1016.7 155L944.3 125"/>
<path d="M1016.7 155L1083.3 123.3"/>
<path d="M1016.7 155L1110 145"/>
<path d="M1016.7 155L1086 171.7"/>
<path d="M1016.7 155L1045 200"/>
<path d="M1016.7 155L1096.7 202.7"/>
<path d="M874 184L856 132.3"/>
<path d="M874 184L813.3 162.3"/>
<path d="M857.3 285L808.3 241.7"/>
<path d="M857.3 285L822.7 328.3"/>
<path d="M1038.3 286.7L1103.3 263.3"/>
<path d="M1038.3 286.7L1096.7 329.3"/>
<path d="M952.7 342.7L922.7 388.3"/>
<path d="M952.7 342.7L994.3 382.7"/>
<path d="M1027.7 495L1048.3 436"/>
<path d="M1027.7 495L1094 463.3"/>
<path d="M1027.7 495L1092.7 512.7"/>
<path d="M1052.7 604L1119.3 596"/>
<path d="M1052.7 604L1120 638.3"/>
<path d="M1052.7 604L1101.7 670"/>
<path d="M1052.7 604L1050 666"/>
<path d="M922.7 612.7L861 645.7"/>
<path d="M922.7 612.7L886 683.3"/>
<path d="M922.7 612.7L939.3 672.3"/>
<path d="M855 535L785.7 494.3"/>
<path d="M855 535L768.3 547.3"/>
<path d="M855 535L794.3 587.3"/>
</g>
<g fill="#fff" stroke="#8a8a8a" stroke-width="1.2">
<circle cx="829.5" cy="396" r="40"/>
<circle cx="641.7" cy="361.7" r="30"/>
<circle cx="940.7" cy="262.7" r="30"/>
<circle cx="966.7" cy="536" r="30"/>
<circle cx="531.7" cy="261.7" r="13.5"/>
<circle cx="671.7" cy="239" r="13.5"/>
<circle cx="515" cy="389" r="13.5"/>
<circle cx="588.3" cy="532.7" r="13.5"/>
<circle cx="874" cy="184" r="13.5"/>
<circle cx="1016.7" cy="155" r="13.5"/>
<circle cx="857.3" cy="285" r="13.5"/>
<circle cx="1038.3" cy="286.7" r="13.5"/>
<circle cx="952.7" cy="342.7" r="13.5"/>
<circle cx="1027.7" cy="495" r="13.5"/>
<circle cx="855" cy="535" r="13.5"/>
<circle cx="922.7" cy="612.7" r="13.5"/>
<circle cx="1052.7" cy="604" r="13.5"/>
</g>
<g fill="#f88b8b" stroke="#b87070" stroke-width="1">
<circle cx="620.3" cy="270" r="13.4"/>
<circle cx="498.3" cy="204" r="13.4"/>
<circle cx="539.3" cy="203.3" r="13.4"/>
<circle cx="465.7" cy="226.7" r="13.4"/>
<circle cx="454.3" cy="256" r="13.4"/>
<circle cx="465.7" cy="291.7" r="13.4"/>
<circle cx="442.7" cy="401" r="13.4"/>
<circle cx="471.3" cy="431.7" r="13.4"/>
<circle cx="555" cy="470.7" r="13.4"/>
<circle cx="514.3" cy="529.3" r="13.4"/>
<circle cx="516" cy="561.7" r="13.4"/>
<circle cx="542.7" cy="589.3" r="13.4"/>
<circle cx="579.3" cy="602.7" r="13.4"/>
<circle cx="616.7" cy="590" r="13.4"/>
<circle cx="645" cy="568.3" r="13.4"/>
<circle cx="654" cy="536" r="13.4"/>
<circle cx="646.7" cy="498.3" r="13.4"/>
<circle cx="1039.3" cy="56.7" r="13.4"/>
<circle cx="985.3" cy="65" r="13.4"/>
<circle cx="938.3" cy="84.3" r="13.4"/>
<circle cx="1016" cy="89.3" r="13.4"/>
<circle cx="1095.7" cy="87.3" r="13.4"/>
<circle cx="1056" cy="97.3" r="13.4"/>
<circle cx="977.3" cy="103.3" r="13.4"/>
<circle cx="944.3" cy="125" r="13.4"/>
<circle cx="1083.3" cy="123.3" r="13.4"/>
<circle cx="1110" cy="145" r="13.4"/>
<circle cx="1086" cy="171.7" r="13.4"/>
<circle cx="1045" cy="200" r="13.4"/>
<circle cx="1096.7" cy="202.7" r="13.4"/>
<circle cx="856" cy="132.3" r="13.4"/>
<circle cx="822.7" cy="328.3" r="13.4"/>
<circle cx="1103.3" cy="263.3" r="13.4"/>
<circle cx="1096.7" cy="329.3" r="13.4"/>
<circle cx="994.3" cy="382.7" r="13.4"/>
<circle cx="1048.3" cy="436" r="13.4"/>
<circle cx="1094" cy="463.3" r="13.4"/>
<circle cx="1092.7" cy="512.7" r="13.4"/>
<circle cx="1119.3" cy="596" r="13.4"/>
<circle cx="1120" cy="638.3" r="13.4"/>
<circle cx="1101.7" cy="670" r="13.4"/>
<circle cx="1050" cy="666" r="13.4"/>
<circle cx="861" cy="645.7" r="13.4"/>
<circle cx="886" cy="683.3" r="13.4"/>
<circle cx="939.3" cy="672.3" r="13.4"/>
<circle cx="785.7" cy="494.3" r="13.4"/>
<circle cx="768.3" cy="547.3" r="13.4"/>
<circle cx="794.3" cy="587.3" r="13.4"/>
</g>
<g fill="#aaa8dc" stroke="#8482b8" stroke-width="1">
<circle cx="650.7" cy="167.3" r="13.4"/>
<circle cx="699" cy="170" r="13.4"/>
<circle cx="616" cy="192.7" r="13.4"/>
<circle cx="736" cy="200" r="13.4"/>
<circle cx="736.7" cy="257.3" r="13.4"/>
<circle cx="701" cy="288.7" r="13.4"/>
<circle cx="485" cy="336.7" r="13.4"/>
<circle cx="449.3" cy="360" r="13.4"/>
<circle cx="526.7" cy="493.3" r="13.4"/>
<circle cx="813.3" cy="162.3" r="13.4"/>
<circle cx="808.3" cy="241.7" r="13.4"/>
<circle cx="922.7" cy="388.3" r="13.4"/>
</g>
<g class="bt" text-anchor="middle">
<text x="650.7" y="171.9">FBN2</text>
<text x="699" y="174.6">FBN1</text>
<text x="615" y="197.3">LAMB1</text>
<text x="734" y="204.6">SPON1</text>
<text x="734.7" y="261.9">LAMA2</text>
<text x="699" y="293.3">COL21A1</text>
<text x="618.3" y="274.6">LAMA5</text>
<text x="496.3" y="208.6">PSG11</text>
<text x="541.3" y="207.9">PSG3</text>
<text x="465.7" y="231.3">PSG9</text>
<text x="454.3" y="260.6">PSG1</text>
<text x="465.7" y="296.3">FSTL3</text>
<text x="485" y="341.3">CCL13</text>
<text x="449.3" y="364.6">WNT2</text>
<text x="442.7" y="405.6">EBI3</text>
<text x="471.3" y="436.3">MIF</text>
<text x="553" y="475.3">TGFB1</text>
<text x="526.7" y="497.9">GH1</text>
<text x="514.3" y="533.9">LHB</text>
<text x="516" y="566.3">CGB</text>
<text x="540.7" y="593.9">INHBA</text>
<text x="579.3" y="607.3">EREG</text>
<text x="616.7" y="594.6">INSL4</text>
<text x="645" y="572.9">LEP</text>
<text x="654" y="540.6">INHA</text>
<text x="646.7" y="502.9">CRH</text>
<text x="1038.3" y="61.3">ARNT2</text>
<text x="985.3" y="69.6">ATF3</text>
<text x="938.3" y="88.9">JUNB</text>
<text x="1016" y="93.9">ARNT</text>
<text x="1095.7" y="91.9">KLF4</text>
<text x="1056" y="101.9">BCL6</text>
<text x="977.3" y="107.9">ING1</text>
<text x="946.3" y="129.6">MAFF</text>
<text x="1082.3" y="127.9">MXI1</text>
<text x="1109" y="149.6">CEBPA</text>
<text x="1085" y="176.3">CCNT1</text>
<text x="1049" y="204.6">GATA3</text>
<text x="1096.7" y="207.3">MGA</text>
<text x="854" y="136.9">CDKN1B</text>
<text x="813.3" y="166.9">CDK7</text>
<text x="806.3" y="246.3">NR2F1</text>
<text x="822.7" y="332.9">VDR</text>
<text x="1102.3" y="267.9">DUSP5</text>
<text x="1094.7" y="333.9">DUSP1</text>
<text x="920.7" y="392.9">RBBP6</text>
<text x="994.3" y="387.3">RRM2</text>
<text x="1047.3" y="440.6">ADAM2</text>
<text x="1092" y="467.9">ADAM9</text>
<text x="1090.7" y="517.3">ADAM12</text>
<text x="1119.3" y="600.6">KIT</text>
<text x="1120" y="642.9">FLT1</text>
<text x="1100.7" y="674.6">NTRK2</text>
<text x="1050" y="670.6">EGFR</text>
<text x="861" y="650.3">FZD10</text>
<text x="884" y="687.9">ADRB2</text>
<text x="938.3" y="676.9">ADRA1A</text>
<text x="785.7" y="498.9">IL2RG</text>
<text x="768.3" y="551.9">ENG</text>
<text x="794.3" y="591.9">FLT4</text>
<text x="829.2" y="400.8">PE</text>
<text x="640.2" y="360.4">EXTRACELLULAR</text>
<text x="640.2" y="375.8">SPACE</text>
<text x="939.2" y="267.1">NUCLEUS</text>
<text x="965.8" y="533">PLASMA</text>
<text x="965.8" y="549.8">MEMBRANE</text>
<text x="529.8" y="266.4">GLYCOPROTEIN</text>
<text x="671.5" y="232.4">EXTRACELLULAR</text>
<text x="671.5" y="248.1">MATRIX</text>
<text x="513.5" y="386.4">CYTOKINE/</text>
<text x="513.5" y="402.1">CHEMOKINE</text>
<text x="587.3" y="529.8">GROWTH</text>
<text x="587.3" y="546.5">FACTOR</text>
<text x="872.2" y="189.1">KINASE.</text>
<text x="1014.3" y="151.4">TRANSCRIPTION</text>
<text x="1014.3" y="168.1">REGULATOR</text>
<text x="855.7" y="281.4">NUCLEAR</text>
<text x="855.7" y="298.4">RECEPTOR</text>
<text x="1036.3" y="291.8">PHOSPHATASE</text>
<text x="950.8" y="347.4">ENZYME</text>
<text x="1025.7" y="500.1">PEPTIDASE</text>
<text x="852.5" y="531.5">TRANSMEMBRANE</text>
<text x="852.5" y="548">RECEPTOR</text>
<text x="920.8" y="601.5">G-PROTEIN</text>
<text x="920.8" y="617.8">COUPLED</text>
<text x="920.8" y="634.5">RECEPTOR</text>
<text x="1050.8" y="608.8">KINASE</text>
</g>
</g>
<g id="pc">
<defs><clipPath id="cc"><rect x="13" y="763.5" width="681.5" height="380"/></clipPath></defs>
<g clip-path="url(#cc)" fill="none" stroke="#5a5ac8" stroke-opacity=".42" stroke-width=".6">
<path d="M284.9 950.6L179.2 1008M285 948.7L173.3 1032.3M290.8 957.2L168.5 996.2M286.7 950.9L79.2 996M290.9 951L96.6 992.8M288.5 950.8L93.6 1040.8M292.2 948.8L71 1032.1M287 944.9L171.4 1002.2M294.5 953.7L168.3 951.5M289 954.1L201.7 943.4M292 954.2L106.9 995.8M291 949.3L169.4 952.9M284.8 953.7L77.1 1008.9M287.4 948.2L202.4 966.4M291.3 949.9L164.4 1002.1M288.8 956.7L179.3 996.8M287.3 944.2L118.3 1003M295.8 952.9L188.8 955.1M285.8 952.5L190.3 983.7M287.4 944.3L77.8 1031.6M285.5 955.7L111.9 1034.4M294.5 954.8L77.3 995.6M291.6 943L181.4 997.1M288.1 942.8L77.8 998.2M288.4 942.4L79.1 1030M295.5 951.6L176.8 994.7M349 997L251.9 991.3L201 987M434 986L356.3 910.7L280.5 885M280.5 885L327.8 915.2L394 973.6M285.6 969L261.7 954.4L295 885.6M349 1015L260.5 1022.8L214.5 1025.4M266.4 879.6L328 970.3L386.3 1003.5M297 876L357.7 931.3L377 984.3M285.6 969L266.4 999.2L214.5 1025.4M349 1015L286.2 1016.5L207 1004.4M278 985.5L330.1 980.5L413.4 987.4M270.6 1009L249.9 982.1L227 972.6M266.4 879.6L238.4 913.9L175.5 951.6M278 985.5L333.8 975.6L377 984.3M394 973.6L279.1 975.6L214.5 1025.4M349 997L278.3 983.8L227 972.6M266.4 879.6L298 872.9L280.5 885M297 876L375.1 955.6L434 986M278 985.5L302.6 931.3L280.5 885M377 984.3L292.8 1022.9L172.5 1005M386.3 1003.5L335.7 966.6L297 876M285.6 969L282.6 933.9L220.5 955.5M434 986L433.1 993.4L413.4 987.4M349 997L382.2 930.7L363 905.7M337 1030L231.6 1052L183.6 1038M280.5 885L302.7 863.7L295 885.6M278 985.5L378.4 957.4L434 986M278 985.5L249.1 1014.6L220 1012M377 984.3L305.9 1019.2L229.5 1014M281 870L323.4 973.9L337 1030M349 1015L334.6 965.2L281 870M295 885.6L269.4 927.9L285.6 969M434 986L391.1 965L386.3 1003.5M295 885.6L236.2 927.7L220.5 955.5M280.5 885L256.8 937.9L285.6 969M349 1015L316.2 1008.6L285.6 969M337 1030L254.2 978.3L201.6 953.4M280.5 885L284.9 857L295 885.6M297 876L286.5 904.4L297 876M349 1015L299.6 990.9L227 972.6M337 1030L373.9 1035.2L413.4 987.4M434 986L495.3 1187.1M413.4 987.4L468.8 1096.5M394 973.6L325.6 1117.9M413.4 987.4L337.1 1105.5M434 986L450.9 1187.6M386.3 1003.5L500.6 1157.2M349 997L245.8 1185.9M337 1030L270.3 1194.3M349 1015L483.2 1099.5M413.4 987.4L251.7 1131.8M349 1015L308.5 1103.5M349 997L229.5 1123.9M349 997L377.3 1132.9M377 984.3L323 1142.1M434 986L363.9 1087.7M413.4 987.4L510.9 1092.6M434 986L287 1188.7M386.3 1003.5L286.5 1095.5M349 1015L471.9 1161.1M434 986L329.9 1144.4M337 1030L424.1 1090.7M377 984.3L455.9 1102M394 973.6L286.1 1082M394 973.6L456.5 1090M207 1004.4L241.1 1199M67.5 992.4L-134.7 1052.8M220.5 955.5L-53.2 1111M227 972.6L395.5 1150.3M175.5 951.6L475.7 828.6M201.6 953.4L378.7 1011.4M201.6 953.4L32 775.8M175.5 951.6L115.9 1184.1M114 1092L76.1 1384.2M201.6 953.4L350.8 988.7M220.5 955.5L45.8 897.5M183.6 1038L189.9 1268.4M229.5 990L325.1 783.2M183.6 1038L-113.6 949.8M220.5 955.5L153.5 1131.9M175.5 951.6L10.6 1202M229.5 1014L206.3 840.4M172.5 1005L471.2 970.8M266.4 879.6L92.5 828.9M295 885.6L258.1 746.6M278 985.5L460.4 820.5M295 885.6L335.4 823.1M266.4 879.6L271.3 758.9M270.6 1009L61.7 783.7M285.6 969L507.4 805.6M280.5 885L75.8 845.9M280.5 885L224 740.1M278 985.5L98.6 773.5M280.5 885L174.2 833.1M281 870L181.5 750.8M278 985.5L329.9 787.3M295 885.6L200 767.9M538 835L520 800M562 897L538 835M562 897L545 820M562 897L552 822M562 897L559 824M571 956L562 897M571 956L632 957M571 956L596 984M596 984L632 957M520 800L495 765M571 956L492 1002M492 1002L413 987M492 1002L434 986"/>
</g>
<g fill="#f73b3b" fill-opacity=".78" stroke="#b01818" stroke-opacity=".7" stroke-width=".7">
<ellipse cx="125.4" cy="825" rx="10" ry="12.6"/>
<ellipse cx="78.9" cy="951.6" rx="11.7" ry="15"/>
<ellipse cx="67.5" cy="992.4" rx="24.6" ry="31.5"/>
<ellipse cx="114" cy="1092" rx="12.6" ry="15.6"/>
<ellipse cx="175.5" cy="951.6" rx="28.5" ry="32.4"/>
<ellipse cx="201.6" cy="953.4" rx="22.5" ry="27.6"/>
<ellipse cx="172.5" cy="1005" rx="30" ry="36"/>
<ellipse cx="201" cy="987" rx="20.4" ry="27"/>
<ellipse cx="183.6" cy="1038" rx="29" ry="37.5"/>
<ellipse cx="220.5" cy="955.5" rx="5.5" ry="8.5"/>
<ellipse cx="227" cy="972.6" rx="6.6" ry="9"/>
<ellipse cx="229.5" cy="990" rx="7" ry="9"/>
<ellipse cx="229.5" cy="1014" rx="12" ry="16.5"/>
<ellipse cx="220" cy="1012" rx="5.5" ry="7.5"/>
<ellipse cx="207" cy="1004.4" rx="6" ry="8.4"/>
<ellipse cx="214.5" cy="1025.4" rx="6" ry="9"/>
<ellipse cx="266.4" cy="879.6" rx="7" ry="9"/>
<ellipse cx="281" cy="870" rx="7.5" ry="9.6"/>
<ellipse cx="297" cy="876" rx="7.5" ry="9"/>
<ellipse cx="280.5" cy="885" rx="8.4" ry="11.4"/>
<ellipse cx="295" cy="885.6" rx="6.6" ry="9"/>
<ellipse cx="285.6" cy="969" rx="6" ry="8"/>
<ellipse cx="278" cy="985.5" rx="11" ry="14"/>
<ellipse cx="270.6" cy="1009" rx="6.6" ry="8.4"/>
<ellipse cx="349.3" cy="870.3" rx="10.8" ry="13"/>
<ellipse cx="363" cy="905.7" rx="23" ry="29.3"/>
<ellipse cx="377" cy="984.3" rx="20" ry="27"/>
<ellipse cx="394" cy="973.6" rx="17" ry="22"/>
<ellipse cx="386.3" cy="1003.5" rx="18.5" ry="23"/>
<ellipse cx="413.4" cy="987.4" rx="14" ry="18.5"/>
<ellipse cx="434" cy="986" rx="14" ry="18"/>
<ellipse cx="349" cy="997" rx="11" ry="14"/>
<ellipse cx="349" cy="1015" rx="15" ry="18.5"/>
<ellipse cx="337" cy="1030" rx="9" ry="11"/>
<ellipse cx="538" cy="835.4" rx="6.5" ry="8.3"/>
<ellipse cx="562.6" cy="897.4" rx="12.3" ry="16"/>
<ellipse cx="571.3" cy="956" rx="10.8" ry="13.9"/>
<ellipse cx="632" cy="957.2" rx="38" ry="47.8"/>
</g>
<g fill="none" stroke="#000" stroke-width="3.6">
<ellipse cx="71.1" cy="974.6" rx="41" ry="81"/>
<ellipse cx="183" cy="979" rx="63" ry="110"/>
<ellipse cx="284.4" cy="877.5" rx="37.5" ry="26"/>
<ellipse cx="279" cy="981" rx="17.5" ry="56" transform="rotate(22 279 981)"/>
<ellipse cx="361" cy="886" rx="44" ry="53" transform="rotate(-8 361 886)"/>
<ellipse cx="391" cy="987" rx="86" ry="47" transform="rotate(-17 391 987)"/>
<ellipse cx="595.6" cy="914.5" rx="82" ry="139" transform="rotate(-16 595.6 914.5)"/>
</g>
<rect x="10.1" y="760.8" width="686.9" height="385.4" fill="none" stroke="#000" stroke-opacity=".3" filter="url(#shd)" transform="translate(1.6 1.6)" stroke-width="6.1"/>
<rect x="10.1" y="760.8" width="686.9" height="385.4" fill="none" stroke="#000" stroke-width="6.1"/>
<text class="pl" style="font-size:47px" x="20.5" y="800.8">c</text>
<g class="it">
<text x="29" y="849.3">VDR and RAR</text>
<text x="29" y="867.8">activation</text>
<text x="217.5" y="807.3">Caveolar-mediated</text>
<text x="217.5" y="825.8">Endocytosis</text>
<text x="399" y="852.3">FAK and RAC</text>
<text x="399" y="870.8">signaling</text>
<text x="35" y="1083.8">TGF-beta</text>
<text x="35" y="1102.3">Signaling</text>
<text x="154" y="1099.3">Growth Factor</text>
<text x="154" y="1117.8">Signaling</text>
<text x="268" y="1030.3">Renin-</text>
<text x="268" y="1048.8">Angiotensin</text>
<text x="268" y="1067.3">Signaling</text>
<text x="403" y="1038.3">Hypoxia and</text>
<text x="403" y="1056.8">oxidative stress</text>
<text x="565.5" y="1069.3">Carbohydrate</text>
<text x="565.5" y="1087.8">Metabolism</text>
</g></g>
<g id="pd">
<defs><clipPath id="cd"><rect x="732.8" y="764" width="444.4" height="379"/></clipPath></defs>
<g clip-path="url(#cd)" fill="none" stroke="#4848b8" stroke-opacity=".5" stroke-width=".6">
<path d="M950.6 971.9L984.4 973.2M996 1057.3L926.5 907.2M972.9 958L1037.6 994.6L1014.5 1014.4M976.9 960.8L1010.1 1047.6M962 960.6L975 1052M917.3 898.9L905.5 902M952.3 972L913 1099.7L976.1 1048.2M975.4 1051.8L951.3 883.6M976.7 969.1L1036.3 908L954 873M842.9 1031.3L1015.3 1030.9M964.9 862L955.4 872.7M944.1 876L955.4 969.9M1076.2 913.9L842 1022.6M1072.8 903.1L955.1 892.8L842.4 962.1M866.9 992.2L1002.1 1006.8M1060 940.2L981.5 965.4M921.5 896.3L1083.6 822.8M867.2 1007.8L987.6 1016.3M857.6 960.4L944.6 910.7L1104.9 838.7M1103.7 832.3L961.7 1044.5M986.9 1013.3L938.2 994.6L858.1 960.5M954.7 870.4L927.2 907.2M962.6 965.4L964.1 973.1M964.2 977.2L1028 970.2L994.4 1028.7M960.9 979.6L996.1 1047.7M1018 1030.6L786.9 991.4M1062.6 907.6L956.7 1070.2M961.1 973.3L910.1 936.2L953.1 974.5M904.8 901.9L802.4 993.4M967.1 863.3L960.4 1071.2M837.8 1021L1078.7 808.9M1067.9 842L952.4 893.8M1001.5 1020L957 1054.1M1012.9 1027.3L924.4 921.6L861.8 961.4M1075.6 918L1068.2 928.8M796.8 959.6L900.5 1001.9L955.1 1071.4M983.7 1023.8L967.3 969M957.5 969.6L1094.3 912.8M787 988.3L971.1 1070.4M998.9 1042.2L961.1 978.1M962.5 964.3L976.3 980L949.9 969M954.6 1055L974.6 977.4M1015.1 1021.4L1000.3 1028.9L965.8 982.4M1062.5 909.8L867.1 990.1M955.1 895.9L945.2 953.6L903.3 902.9M1051.3 927.1L982.7 977M966.2 1039L896.9 993.4L836.7 1009.1M951.3 871.5L977.7 1022.3L967.3 1057.7M1009.5 1004.9L1001.6 1030.5L959.4 1039.9M1108.2 835.9L982.7 969.1M1010.4 1012.5L956.1 1039.1L996 1046M962.7 964L984.2 972.3M820.9 1001.1L949.3 873M953.9 1051.5L1076.8 952.4L1087.5 923.2M956.4 1053.5L969 1057.9M834.7 946.8L1066.2 930M960 982.4L944.9 897.3M963.9 952.1L905.5 918.1L936.1 851.3M984.4 1021.6L1060.7 907.4M955.2 970.1L1010.9 1022.7M1001.2 1024.8L863 963.5M959.2 978.1L960.6 978M822.5 1003.8L1083.8 839.3M1001.6 1006.8L1074.2 825M965.9 862.2L980.2 965.4M961.8 965.9L940.3 878.3M952.4 875.5L1035.8 974.9L991.6 963.3M964.2 1044.9L970 1113.3L974.2 958.3M981.4 1019.4L968.1 1033.5L984.7 1055.6M955.4 900.4L1011.9 825.9L1073.2 904.1M1108.2 833.1L949.5 885.5M857.9 964.2L1094 912.1M962.8 979L956 968.2M1101.3 834.8L1007.3 939.9L866.4 986.1M1059.7 934.3L862.7 959.9M960.9 979.1L1002.8 1005.6M866.8 973.1L841.3 954.7L857.8 963.3M927.5 888.4L956.1 962.4M1058.9 927.9L971.9 1064.8M1003.4 1043.1L902.7 903.1M954.8 1070.2L864.7 957.2M1053.8 934.8L1093.8 912.5M953.5 894.2L964.7 959.4M904.4 902.4L971.1 950L969.6 1056.9M996.3 1028.8L797.8 957.8M976.7 1054.9L826.1 1004.9M956.9 974.1L983.4 1043.5M956.8 1050.9L1026.6 984.5L960.2 964.7M869.6 1000.8L877.5 987.9L961.4 961.9M1019.2 1028.5L1052.7 928.3M962 978.7L1084.8 923.5M1006.9 1020.3L974.8 1066.9M969 1071.1L956.3 974M954.2 970.4L1080.8 852.3M1005.9 1020.8L1058.1 922.8M960 1068.7L954.2 910.6L926.8 908.5M1019.9 1037.2L1084.8 920.3M984.8 976.4L944.1 878.4M1074.4 904.3L1025.2 947.5L968.4 970.2M963.3 966.4L1049.2 867.9L1053.7 933.3M918.1 878.2L948.7 874.5M976.8 959L839.6 979L797.5 962.2M929.9 884.1L873.4 998.5L805.7 1003.3M988.9 965.8L981.1 966.2M952 1065.9L983.6 943.5L950.1 880M1010.2 1030.1L955.7 895.6M1005.4 1041L845.8 977.9M858.7 961.9L922.8 858.2M1009.6 1036L990 1008.4L942.4 895.4M943.8 897.7L867.4 942.1L804.9 1003.9M1072.6 903L958.9 869.5M870.4 985.8L946.1 915.4L955.3 871.9M962.7 965L861.7 960.1M1017.9 1029.9L867.5 997.3M972.4 963.8L937 866.3M964.9 1067.8L940.6 1056.8L829 1003.5M944.8 897L919.3 990.2L975.4 1051.7M981.9 966.5L943.5 880M979 1063.8L966.5 974.3M978.2 965.7L931.3 845.5M954.8 1051.2L929.6 907.8M909.4 863.9L941.3 1015.2L994.3 1023.7M994.3 964.6L914.2 879.6M951.4 884.5L989.9 1019.9M979.1 977L988.3 954.3L986 975.9M1008.5 1038.4L955.3 970.6M957.9 1064.4L871.3 1002.9M1016.3 1029.9L955.2 972.9M974.9 1059.8L1007.3 1042.5L1013.8 1030M962.4 978.8L958.4 1064.7M1018.6 1009L1100.7 835.3M1103.5 841.9L962.6 975.4M986.8 974.8L859.1 961.7M808.9 969.8L945.3 897M969 1056.1L1077.6 824.7M1105.7 832.5L1081 823.4M829.6 1016.6L944.9 897.6M1012.8 1022.9L1017.7 1030.8M955.3 1050.7L944.9 882.3M955.2 968L872.1 990.8M913.4 867.4L842.2 977.5M980.9 971.6L984.8 1039.8L980 955.3M950.6 873.9L952.8 1056.3M1078.4 821.7L928.7 938.1L868.1 1008.3M924.2 896.2L989.9 860.7L1074.4 904.6M841 1015.9L893.3 986.3L1016.1 1032.1M991.3 1051.3L986.9 1012.5L970.6 1050.2M957.3 1054.1L949.4 886.1M956.2 876.5L927.2 910.9L943.9 875.1M928.1 907.7L964.2 963.5M951.3 1052.1L985.1 973.3L949.9 879M800.5 984.2L868.9 959.6M1009.6 1045.7L1013.4 1033.2M955.8 1052.2L867.7 1013.4M1085.2 857.5L968.3 964.7M1105.4 837.2L1043.1 882.6L962.2 979.4M836.1 1007.9L857 970.6L943.7 894.3M1093.8 913.4L990.7 961.1M998.2 1014.1L1038.9 977L971.9 1060.1M1105 832.8L925.7 887.9M844.5 995.7L851.3 947.1L861.9 961.7M944.4 896.3L922 881.7M989.7 1047.1L1001.9 1040.4M911.7 864.6L923.4 875.2L944 869.5M964.9 979.9L963.1 983.4M904.2 900.3L970.3 970.7M956.5 1053.4L939.9 1061.2L980.5 1027.6M1105.3 838.2L919.8 866.8M1085.1 821.4L868.6 976.1M862.3 1003L1080.9 861.8M1008.4 1009.2L1040.6 994.3L972.1 964M1087.3 823.9L964.2 973.9M843.6 949.3L994.2 1011.4M1078.8 850.1L904.2 905.3M966.4 962.1L919.4 966.9L832 959.3M867.2 960.9L944.9 876.7M1108.2 833.2L938.9 846M950 873.3L942.3 1032L952.2 1071.6M997.3 1023.3L805.9 969.1M1084 924.7L926.7 907.4M927.6 907.2L898.8 957.8L954.3 1070M952 971.6L1107.5 838.6M857.7 965.1L951.2 928.8L951.8 898.3M904.9 901.5L1014.1 1006.6M1103.3 840.9L960.8 1041.2M904.8 902.4L952.6 817.2L951.7 881.6M1012.6 1011.4L963.3 980.7M993.4 1053.5L958.6 873.2M977 965.5L929.1 908.1M870.2 954.7L976.8 1041.4L998 1039.5M962.8 968.7L944.4 897.6M1064.3 906L980.9 1059.2M957.7 1069.2L861.3 1003.2L822.5 968.5M1009.2 1007.7L863.1 994.5M953.4 973.2L1107.3 837.2M1072.5 905.5L1048.1 852.5L923.7 893.3M951.5 884.3L1062.5 908M1053.1 927.6L983.1 984.5L1004.4 1044.6M1082 914.4L1080 847.6M948.1 880.4L1071.7 820.4M1011.9 1012.2L991.2 963.8M993.2 1008.3L1073.9 904M986.1 1023.3L970.3 1064.2M837.9 956.5L959.1 964.2M952.3 885.2L1012.4 884.7L955.3 971M974.2 971.3L993.4 1000.5L928.7 908.1M993.1 1041.3L1074.8 904.7M1059.3 931.9L975.3 1053.6M873.7 1006.6L960 966.7M955.5 870.5L889.8 918.8L870.9 976.5M827.4 997L810.4 936.1L793.7 967.7M1091.7 822L825.7 1020.9M859.8 962.3L932.1 979.6L953.6 963.4M953.8 870.9L1057 939.2L1009.9 1022.6M809.5 976.8L808.3 958.2M944.7 876.5L921.3 846.8L904.8 900.1M1055.1 928.7L956.6 1067.5M1072.9 906.4L1018.8 1001.9M1003.1 1008.9L1004.6 985.5L1091.5 911.6M991.3 1052.1L956 872M952.4 970.3L993.1 914L982.2 961.8M867.6 976.9L954 1072.2M995.3 1007.4L999.3 1011.1L865.9 956.2M871.7 975.6L1081.4 914.5M960.3 958.7L924.8 884.7M968.3 971L866.6 959.6M954.9 894.5L916.7 875.2M969.9 1044L1052.4 930.1M942.2 864.4L891.6 886.7L904.6 902.8M956 897.4L956.7 893.8M1002.1 1037.9L961.3 981.3M1072.7 904.4L988.3 963.9M875.6 1014.4L983.3 916.3L904.8 901M945.1 876.3L980.4 856.6L839.1 962M975.5 1066.6L1005.4 1037.5M1006.1 1016.8L1011.9 1013M991.6 1054.8L937.8 886.4M972.6 1012.3L1017.1 1086L995.3 1039.8M918.5 873.6L887.8 899.8L979.7 1020.6M1012.9 1013.4L1016.5 993.8L1053.2 928.7M833.5 1023.9L970.5 1059.8M1074.2 904.5L989 1052.8M944.7 898.9L1047.2 922.6L1062.3 908M983.4 1012L907.4 860.5M1077.4 825.9L1039.8 827.3L967.9 964.1M874.4 973.8L1009 1010.6M1079.2 822.7L1085.7 835.9M1003.1 1040.7L798.8 960.9M1000.1 1045.2L1063.5 928.9M1007.2 1045L1073.9 914.5M971.2 1065.2L994.7 967.8M998.7 1036.2L1086.1 924.5M954 970.7L867.4 991M814.8 993.6L1082 821.4M1009.5 1014L1019 952.5L969.1 975M1093.4 913.4L943.5 896.3M955.5 975.5L793.5 993.5M965.4 1044.7L994.2 1026.4M1072.3 903.3L1102.4 833.8M858.6 962.1L955.7 974.6L954.8 970.2M1083 835.6L966.3 863.1M943.1 847L868.5 992.9M979.1 960.4L1003.2 1050.5M992.4 1049.9L1057.7 895.6L1050.9 927.9M1091.9 910.9L1019 976.1L965 964.1M966.1 861.2L981.4 956.8M779.5 949.7L858.8 941.4L868 996.1M1017.2 1024.3L953.1 896.9M1073.9 835.4L930.2 866.9M966.4 1041.1L957.7 1068.8M1105.3 839.2L1012.9 1035.2M833.7 980.6L1001.7 1043.5M1016.4 1017.6L998.1 1047.4M987.2 1049.3L960.6 964M1110.9 836.7L944.6 895.9M1077.3 905.3L1074.3 904.9M954.2 968.3L1090.1 821.2M928.2 867.5L921.6 928.2L988.4 1023.7M866.1 990L979.6 1046.4M832.2 954.5L997.3 1006.8M1010.4 1007.4L944 875.3M925.6 890.2L1099.1 838.8M871.7 975.5L972.4 1062M1074.2 905L1085 921.7M801.7 952L835.6 1005L1073.9 906.2M933.7 850L978.3 1047.2M1092.9 913.5L989.7 1045.2M1012.4 1038.7L933 860.3M954.2 969.2L1003.3 929.3L967.2 862.8M967.3 963.1L966.4 966.1M1073.9 903.5L1015.7 1031.6M1060.3 905.9L1063.6 938.2L944.8 897.6M961.4 1070.2L915.8 925.4L906 899.4M843.3 998.3L970.6 1023.7M973.2 963.8L931.9 1020.7L969.6 1046.3M1004.4 1038.9L1015.4 1029.5M968.7 1041.4L965 930L907 902.7M955 959.1L957.3 925.1L946.4 881.4M1062.9 908.1L948.8 891.7L904.1 903.4M847.9 983.2L954.3 982.3L943.2 880.6M956.7 977.1L954 968M863.3 992.4L980.6 970.6M1073.8 904.7L1103.3 833.2M991.9 956.7L839.4 1013.5M964.1 979.2L962.8 978.7M1080.8 833.5L945.3 882.3M1015.8 1031L980.1 963.6M972.1 965.1L938.3 1062L830.2 1007.7M980.6 978.1L981.5 930.6L1001.2 1008.5M1003.2 1010.6L1063.5 904.9M798.7 957.8L943.7 900M864.9 976L995.9 960.4L1074 914.4M1052.8 927.3L918 979.6L873.2 975M922.5 868.6L942.2 875.6M1072.2 915.4L925.4 915.1L974.9 968.6M933.6 867.9L880.7 901.1L807.1 974.6M935.2 861.9L1082.3 821.9M960.6 962.8L963.1 979.4L996.5 1033.4M953.3 873.6L936.2 903.6L958.4 968.3M859.8 961L1085.7 845.2M1095.2 913.6L847 987.4M1005.7 1047.9L1052.6 928.2M903.5 903.5L861.1 960.4M1003.2 1050.1L997.3 1039L985.9 1056M1063.7 907.6L916.2 894.5M926.4 907.5L890.4 949.3L850.7 991.1M1075.1 847.7L879.8 913.4L811.8 964.3M954.6 1055.5L971.3 1061.9M1051.4 925.2L961.1 916.4L914.4 881.3M999.6 1049.4L962.5 978.8M964.1 1066.5L1069.1 932.4M912.4 870.2L977 955.1L954.7 958.1M969.9 1062.7L981.2 978.9L975.3 1006.9M956.6 968.4L1106.4 839.4M852.3 952.8L856.3 987.2M903.5 902.1L915.6 937.9L957.4 1068M959 1071.3L1016.2 1033.3M834.5 1010.9L870.1 958.9L803 991.3M1080 824.2L1061.9 930.3M967.1 963.8L1083.1 916.2L1094.6 838.1M955.9 973.9L829.1 955.9M958.5 870.1L1083.3 817.8M962.3 982.3L966.5 1039L965.1 975.9M973.7 1052.4L1012.4 1016.8M973.7 1053.9L988.5 973.7M952.1 972.4L961.1 1049.3L970.4 1036.6M984.6 961.8L906 902.4M985 1047.6L928.7 909.7M965.8 863L925.4 907.8L906.3 871.3M937.2 860.1L964.9 1040M957 896.2L1012.6 1032M973 976.7L904.4 901.8M907.7 866.3L939.4 934.1L980.1 970.7M983.2 956.9L1066.8 819.7M1008.3 1028.1L1037.1 1134.1L958 1069.1M869.2 994.6L964 980M985 968L898.1 929.7L859 961.2M1085.4 847.5L1073.2 817.7M1002.8 1045.2L905.4 901.9M972.2 1047.8L955.7 1057.6M963.9 979.7L926.7 908.2M1067.3 845.4L968.2 933.9L970.6 1039M954.3 1050.8L964.3 979.1M857.9 959.4L904.3 889.5L945.1 877.3M1063.4 933.9L974.8 1009.4L957.7 1062.6M962.7 978.5L982 1044.8M932.3 871.6L955.8 1071.9M1075.2 902.6L929.9 866.1M872.8 976.5L1102.7 836M986.9 1050.6L857.4 961.6M1092.5 851.9L1072.2 918.4L961.9 968M1092.8 846.4L997.4 1031.9M961 979.9L956.2 966.1M1077.1 903.2L1050.6 927.2M1101.4 836.9L966.1 886.1L979.9 1018.4M964.7 863.1L1010 931L994 1047.1M1057.5 932.6L986.9 984.2L972.9 1014.2M955.6 872.2L957.1 972.6M953.1 896.3L859 962.1M1001.1 1011.1L953.5 969.3M855.1 943.8L1039 921.6L1080.7 820.1M966.9 977.9L956.3 971.9M1014.2 1028.7L1005.8 1046.1M921.3 862.7L958 1047.8M1105.5 837.5L985.6 897.1L970.7 1018.7M964 1037.2L907.3 901.8M1077.2 917.8L868.1 1007M997 1038.3L1000 1006.3M1075 911.4L1147.4 904.9L1064.4 909.1M951.6 967.8L1083.4 846.1M1084.7 923.7L1007.3 1038.1M968.9 969.4L954.1 1048.6M1081.8 857.7L954.7 960.1M945.6 874.3L920.5 913.2L977.7 964.4M1052.2 927.5L865.9 1011.6M1002.2 1007L995.9 952.6L991.7 1051.3M996.6 1030.1L956.1 1067.8M954.7 970.8L889.4 948.5L905.1 902M979.3 1063.9L976.3 1031.4L1000.9 1014.4M917.5 891.9L1027 913.5L1024.6 1031.8M959.8 965.5L953.9 901.8L970.6 960.5M860.6 963.7L963.5 1025.1L997.4 1045.4M919.4 864.2L1010.9 1032.1M1075 903.7L834.8 1011.2M951.5 876.3L961.9 979.9M963.1 966L864.1 954.8M956.2 881.6L951.3 896.2M907.6 902.8L956.3 877.9L949 872M964.6 1039.9L954.9 887.5M965.9 864L951.2 969.6M1079.5 919.3L929.7 872.2M847.5 959L1088.5 841.5M955 896L1073.3 915.8M1007 1044.3L786.4 950.6M986.9 1053.5L958.8 896.7M1002.6 1020.1L980.3 969M980 972.4L962.6 972.9M921.4 865.5L974.3 963.8M959.5 1063L968.5 1007.5L952.3 1052.7M867 990L937.5 894.9L956.7 896.9M1002.3 1018.3L984.7 970.1L967.3 965M1075.1 819L1086.6 870.9L955.2 896.9M978.6 1023.5L907.2 875M926.2 893.5L985.4 963.3M962.5 965.7L968.2 962.4L930.6 847.8M966.6 1062.2L970.8 958.2M953.8 969.6L951.8 977.5L874.4 972.2M958.3 978.3L972.8 1064.7M954.8 971L854 983.8M960 956.3L961.4 952.5L984.9 1052.4M1051.2 927.8L985.1 1051.7M921.2 886.4L966.1 863.5M980.2 968.1L962.3 1064.7M791.2 972.9L945.1 899.7M960.5 975.5L924.7 999.6L1016.9 1007.5M1014.9 1033.1L779.3 1004.8L813.2 1005.6M931.1 848.9L962.6 1071.5M992.7 1051L895.9 1012.7L876.4 1007.6M904.6 903.8L1022.7 1033.7M835.8 1015.9L943.2 875.4M982.6 980.4L970.4 1061.3M985.6 1047.1L956.6 968.8M950.2 968.6L1041.7 995.4L993.4 974.2M917.2 882.1L1034.7 875.7L1086.4 846.4M970.5 959.3L999.8 1041M1073.3 904.1L1021.8 965.5L867.3 987.5M1082.1 842.4L972.9 950L858.7 966M933.4 895.1L1081.2 927.5L1062.8 928.7M968.3 1044.4L974.2 969M987 1053.4L998.9 1033.5M939.4 879L1100 839.4M865.5 958.2L868.2 981.6L957 892.8M867 989.2L957 1052.2M1085.2 921.7L955.4 964.8M962.9 962.4L954.6 970.9M926.3 891.1L954.9 970.3M1105.5 836.1L1003.3 862.3L957.5 896.3M1011.5 1031.9L857.1 961M987.3 1050.9L911.7 1084.6L862.7 1007.5M943.2 877.3L906.3 937.7L962.3 978.7M1083.1 807.8L952.7 971.3M871.9 981L816.2 1031.2L955 1052.1M910.9 862.9L980.2 1017.7M872.1 1001.1L1080.3 912M927.2 910.1L789.3 996.2M953 970.8L989.6 997L1052.7 925.4M959.9 972L957.9 1075.5M926.2 896.9L957.9 971.3M958.3 1052.6L917.5 1004.6L927 906.3M1094.2 912L954.5 1051M955 874.1L907.7 910.5L839.2 1018.5M1078.9 912.2L967.5 975.5M959.9 977.6L987.4 933.6L1096.5 846.6M1000.5 1029.6L1093 911.8M963.6 977L945 880.4M960.8 1035.3L1103.9 831.9M1076.3 917.1L820.7 966.2M996.2 1007.5L1093 912.5M961.4 983.1L912.8 997.7L955 971.1M933.3 891L1060.2 848.3L1105.2 838.9M981.1 1021.1L953.5 970.7M953.1 970.9L881.8 969.9L785.2 969.2M1009.9 1034.3L959.7 1055.3M1072.3 904.8L978.5 1009.3M1013.3 1036.5L974.7 1063.7M960.5 1074.9L1104.6 831.6M1095.9 913.1L1083.4 846.8M866.9 991L1015 1027.6M979.2 967L958.9 921.2L915.4 891.4M903.5 902.7L1008.1 1008.2M1011.8 1014.6L995 1001.4L859.8 962.3M944.3 872.6L1008.3 1045.1M1063.2 919.7L954.7 871.4M1097.9 844.1L928.7 910.1M921.5 864.2L1107 834M949.7 970.4L955.8 1069.3M803.2 1011.2L962.6 976.8M999.1 1006.7L1093.2 910M987.9 1050.7L990.1 1015.2M904.5 903.5L981 1053.5M847.7 1013.4L937.8 1025.9L957.5 964.8M951.9 968.6L928.3 896.1M970.7 1057.2L966.8 1062L966.1 1059.9M819.4 983.5L955.2 869.6M963.2 969.2L866.4 960.4M870.9 985.7L958.9 1001.5L983.7 1053.4M1061.5 924.3L1096.2 815.9M955.9 896.4L992.9 1003.1L955.7 1067.9M795.8 959.7L865.2 960.6L1022.3 1021.2M786 983.3L751.8 982.9L783.7 947.9M973.8 1053.4L963.1 979.1M957.6 982.4L940.8 986.7L952.6 882.2M927.7 864.4L982.8 1000.9L994 1046.8M1076.8 915.4L947.3 897.4M977.8 1042.5L967.1 1060.7M909.9 870.1L955.9 887.7M943.5 896.2L948.9 982.3L953.7 1053.5M980.8 959.7L970 966.4M965.7 1040.8L1026.8 1041.9L998.5 1025.3M976.8 1060.9L1105.2 837.8M1008.4 1041.8L835 1196.1L958.1 1351.9M944.8 876.6L1019 1101.3L965.1 1265.3M926.9 909L703.9 861.8L607.4 785.8M1073.8 907.1L677.8 962.4M1090.2 831.6L1126.5 1025.5M1086.4 922L1014 863.8L952.9 889.3M962 979.6L1080.5 1162.4M858.7 980L837.2 1069.8L945.4 1234.3M814.2 994.2L666.5 1023.6L621.4 1089.3M1072.1 931.2L1122.4 670L1158.4 386.6M1086.2 806.1L1247.9 637.8M1071.2 817.1L1211.2 854.9M1062.5 929.2L1225.7 1217M964.2 983.3L1185.6 749.7L1293.4 710M955.1 896L1124.6 698.2L1189.9 639.9M955.8 886.5L930.5 792.7M954.8 896L1163.8 774.2L1300.9 848.5M973 1070.8L870.8 1160.9L749.8 1391.8M973.3 967.9L965.7 1143.1M951.2 885.4L1039.4 897.7L1149.5 875.1M1007.8 1052.2L859.2 770.8L726 747.6M987.8 955.7L1076.5 963.5L1137.6 956.2M818.9 992.1L733.9 1034.6L684.2 1161M1022 1013.1L1004.8 853M1004.2 1038.3L907.5 1091.5L920 1302.2M970.7 963.7L1117.1 992.2M999.2 1012.7L1310.6 1003L1442 1125.5M928.1 907.5L1011.9 818.2L1016.9 747.1M796.3 949.2L834.4 854M995.7 1048.8L1278.7 992.5M964.9 1036.7L1131.6 1029.4M1080.8 845.2L1231.5 565.9L1521.1 583.4M866.4 987L724.9 1084M1013.9 1013.3L964 1111.4L995.7 1230.5M1007.9 1035L1279 1179.5M958.4 974.4L1033.4 1138.8L1117.3 1364.7M983.9 1040.8L949.8 777.7L880.8 614.2M913.8 884.9L1142.4 988.3L1064.2 1185.5M980.4 966.8L799.4 1208.4L832.1 1327M970.5 969.5L1009.6 888.3M962.9 965.1L1226.6 835L1410.5 864.6M908.7 879.8L818.4 896.5M995 1045.9L1407.9 1015.3L1487.2 1226.6M957.4 975.6L1056.7 863.9L1298.6 1016.8M1095.3 910.6L1193.4 890.1M959.9 1034.6L1109.9 1035.1L1365.8 923.2M983.4 965.4L1095.4 873.2L1144.7 914.7M1066.4 929.3L991.5 1259.7M1072.7 903.7L1068 1196.3M965.8 1040.5L549.7 1025.8M975.5 1051.4L1080.2 781.1M959.6 969.3L980.7 1052.7L700.3 1148.9M995.7 1031.7L1006.4 1297.8M870.2 1005.9L829.1 688.8M1017.7 1024.3L774.5 1126.7M1076.3 835.8L1010 1021.9L766.8 1035.8M980.4 1019.9L1076 1070L1132.7 1163.7M1076.7 911.3L1176.9 860.4L1336 667.1M1017.1 1008.1L993.5 722.1M1054 927.4L1450.2 881.7M921.8 874.9L989.8 966M957.1 969.3L821.5 1036.2M862.9 962.9L1186.6 994M856.7 958.7L629.7 890.5L555.8 872.6M1082 821.6L929.9 939.1M972.8 1044.1L783.3 1142.9L565.8 1182.1M950 882.2L591.5 846.9L527.7 954.6M952 969.7L1227.7 800.7L1489.5 673.6M936 888.8L1094.8 733.2L1116.6 656.1M867.6 988.1L810.3 1064L609.3 1135.9M960.7 1066.7L960.3 1130.7L927.1 1389.6M927.8 905.8L913.2 674.1M925.8 908.9L855.9 942.9L691.9 1020.5M960.2 979.2L692.5 870.2M958.4 977.4L764.6 788.6L578.4 652.4M1107.1 833.8L928.7 823.9L670.4 853.2M960 977.2L1262.9 816.9L1432.9 960.5M838.7 988L544.3 981.2M958.8 972.3L1172.9 1091.6M836.2 960.5L834 1100.7M1009.6 1045.4L1108.6 1198.2M934.9 833.1L1009.7 777.4M913.5 877.6L886.1 960.4M955.9 897.9L1149.5 835.3M961.8 978.1L1165.6 1070M904.3 901.8L551.7 958L569.2 1174.3M985.4 1013.7L866.9 1093.2L902.7 1326.6M973.1 1058.4L833.6 1080.4M981.1 959.9L1073.5 1271.7L1194.8 1376.1M827.7 1000L926.2 985.4M1087.8 828.4L1041.9 534.3M863.1 1012.9L993 843.6M958 1055.1L926.9 895.1L653.2 934.3M957.2 896.5L875.6 1087.1L798.4 1232M1003.8 1040.4L686.5 1101L665 1287.9M963.8 1044L1259.4 1054.3L1448.6 1122M805.9 991.4L932.5 1071.9M962.9 1038.2L1280.5 1194.6M838.5 979.6L512.1 993.5M931.3 846.2L940 511.9M943.9 894L1023.2 921.6M969.9 1070.8L964.2 1343.3M1091.5 913L1121.7 712.1L975.5 455.9M1068.2 939.1L1296.2 943.7L1530.8 821.5M957.2 870.6L738.7 819.4M962.2 978.7L1236.6 763.2M907 902.4L1227.8 1076.6L1417.9 1050.8M791.3 976.7L887.1 997.3M1063 905.3L942.4 897.5M837.7 1006.4L590.8 913.5M968.2 1066.4L1240 1023.4M1008.6 1035.4L1087 1065.6M1001.1 1021L1332.7 973.1L1538.4 781.3M967 862.7L911.4 598.4L1009.3 545M964.9 1040L898.8 1080.8M1005.5 1010.1L862 983.6L695.2 1217.7M1093.8 912.2L810.7 1134.8L878.3 1340M822.4 1024.7L886.6 924.7M965.9 862.8L841.3 699.3M923.6 891.2L719.3 1040.1M994.6 1043L1083.8 878.5L1287.8 891.7M1060.2 931.9L905.8 829L708.8 933.4M1061.8 938.7L921.4 1109.3L839 1376.3M954.7 876.4L877.6 1178.4M829.7 1004.1L940.9 1003M1093.4 913.5L1354.4 731.6L1487.8 547.8M970.4 966.3L850.1 975.8M997.2 1030.8L981.2 879.3M1014 1025.8L982.8 1129.2L685.2 1155.1M1094.1 912.8L962.6 951.7L843.4 726.9M1002.3 1042.3L1223.4 1118.2M964.5 979.6L1050.2 854.6L906.8 608M956.5 1046.9L1301.5 1078.2M1000.6 1006L1128.5 967.1M802.5 945.2L926.2 1037.1M985.4 1020.7L860.2 1276.6M996.6 1047.5L755.2 865M945.6 897.8L883.7 1081.1M950.6 1048.8L863.4 1130.2M951.8 895.9L751.8 1175.2M965.4 974.1L1098.4 1206.9M845.1 939.4L1016.5 637L1002.2 506.5M968.6 1067.2L836.2 952L861.4 840.4M958.5 895.1L708 847.4L635 999.2M1004.8 1045.4L933.4 875.5L874.1 806.2M963.3 1033.1L862.9 1030.1L837.8 1117.3M944.7 897L550.8 927.2L380.2 868.4M978.4 954L1381 906.6M1053.2 928.1L990.2 1000.5M994 1054.6L1121.1 999.7M965.7 863.5L814.3 1016.3M945.7 878.1L968.9 774.2L794.8 676.2M946.3 881.1L659.8 903.3L432.1 950.4M1089.5 831.4L986.1 714.2L800.1 668.7M990.2 960L855.7 1038.8M971.3 1043L886.9 1027.1L797.4 959M988.8 1010.8L1251.9 1064.9M1012 1013L861.1 748.1M1074.9 827.5L1072.1 1075.9M910.1 866.3L842 974.1L810 1037.5M972.3 1058.7L961 968.7L1038.3 944.2M1094.8 914.4L930.5 777.1M991.1 959.8L1027.6 770.6M1107.5 835L1401.9 706M1083.6 846.8L1190.5 1035.2M993.8 1048.1L687.8 1273.4L743.8 1428M1078.6 821.1L933.1 637.3M1008.6 1037L1381.1 1023.6M973.2 1048.7L1023.7 1380.2M1075.3 917.1L1192.4 949.3L1393.4 972.5M872.8 1006L1077.6 930.2L1156.6 955.6M989.9 1055.3L1088.3 1182.9M1104.8 837.6L1279.4 604.9L1243.4 346.9M982.3 975.2L885.4 823.4L750.3 639.1M872.3 980.1L987.6 955.9M1064.6 922.6L855.9 788.3M1095.4 913.1L1308.5 1145.4M1093.8 912.5L1255.8 1148.8M935.8 849.9L931.5 935.2M975.2 1049.9L1043.3 1095.7L1142.5 1001.2M955.6 970.8L1095.9 666.1L1283.2 513M988.3 1031.5L1275 826.1L1255.6 649.2M954.5 966L1048.8 1129.7M1084.7 923.2L1291.5 666.2L1495.1 594.7M958.5 1067.4L885.2 1020.7L647 996.4M979.2 1060.7L1194.7 1048.3M1094.7 911.3L1028.9 844.8L947.6 762M1072.1 832.2L1130.5 662.1L1284 649.1M1083.7 846L865.1 778M915.5 882.8L859.3 592.3M928.6 907.8L809.7 937.2M1088.3 847.3L854.4 863.7M965.2 964.3L1018.6 854.4M954.7 1068.6L1011.1 940.8L905 888.8M957.4 1068.9L961.9 1168.6L786.1 1231M955.6 1052.3L875.1 1121.4M955 1074.8L831.2 1068.5L695.2 833.4M914.2 876.3L828 675.7L932.5 537.2M1012.1 1036L662.8 1168.3L574.6 1272M954.3 1046.9L1014.6 1359.2M981.7 970.9L910.2 1096.4M848.3 982.4L1260.4 1044.2M955 1052.1L1220.3 816.2L1279.8 796.2M1016.7 1032.1L1092.1 974.7L1136 776M951.2 885.6L964.8 1032M990.7 1050.6L912.4 1256.4L1071.4 1462.1M992 1030.4L1028.8 1312M963 978.6L957.7 907.9L889.8 847.2M928.7 874.8L1050.6 925.2L1181.8 787.6M966.1 1043.6L1111.6 1027.1L1328.2 1053.5M871.6 972.7L565.4 829.3L490.1 719.3M1085.5 856.9L962.9 1036.8M960.8 978L1169.2 963.3L1320.3 911.9M954.6 872.8L553.4 906.1L514.3 747.7M982.5 1009.6L1149.1 1227.5M981.1 1022.4L876.4 866.8L971.4 741.5M964.4 1048.7L1098.2 1208.1M1100.2 836.5L1328.4 620.1M1072.6 902.4L845.9 931.7M864.2 990.1L544.6 965.6M1075.4 915.1L1159.6 827.8L1309.4 889.1M966.4 962.8L1080.7 936.2L1163.7 780.1M991 1019.4L997.9 1350.4M1104.9 838L882.6 1005.2M873 974.4L1018.9 1200.3L1042.3 1365.4M915.7 882L1157.4 740.8M957.3 895.7L793.8 946.8M926 879.3L1212.4 937.7M977.8 1018.3L956.3 1140.6M1105.1 837.7L925.4 774.3"/>
</g>
<g fill="#f62222" fill-opacity=".82" stroke="#c01010" stroke-opacity=".6" stroke-width=".6">
<circle cx="1081.6" cy="821.5" r="19"/>
<circle cx="1083.6" cy="846" r="19"/>
<circle cx="1105.3" cy="837.8" r="8"/>
<circle cx="934.6" cy="850" r="20.4"/>
<circle cx="910" cy="866.4" r="14.3"/>
<circle cx="916" cy="882.7" r="14.3"/>
<circle cx="930.5" cy="872.5" r="10"/>
<circle cx="926.4" cy="891" r="14"/>
<circle cx="944.8" cy="876.6" r="8"/>
<circle cx="955" cy="872.5" r="6"/>
<circle cx="951" cy="884.7" r="7.3"/>
<circle cx="955" cy="896" r="5"/>
<circle cx="944.8" cy="897" r="4"/>
<circle cx="904.8" cy="902" r="3.7"/>
<circle cx="927.6" cy="908.4" r="3"/>
<circle cx="966" cy="863" r="2"/>
<circle cx="797.8" cy="958.2" r="23.7"/>
<circle cx="832.5" cy="954" r="27.8"/>
<circle cx="806" cy="991" r="25.3"/>
<circle cx="834.5" cy="1011" r="24.5"/>
<circle cx="848" cy="983" r="17"/>
<circle cx="866.4" cy="960.3" r="8"/>
<circle cx="871.3" cy="975.8" r="7.3"/>
<circle cx="867.2" cy="991" r="8"/>
<circle cx="868.4" cy="1008.5" r="11"/>
<circle cx="859" cy="962" r="5"/>
<circle cx="963" cy="964.4" r="14"/>
<circle cx="981.5" cy="966.4" r="16"/>
<circle cx="962.3" cy="978.7" r="7.3"/>
<circle cx="955" cy="970.5" r="6"/>
<circle cx="1062" cy="929.7" r="13"/>
<circle cx="1075.5" cy="915.4" r="7.3"/>
<circle cx="1062.4" cy="908" r="4"/>
<circle cx="1074" cy="904" r="4"/>
<circle cx="1084.8" cy="923.5" r="3.7"/>
<circle cx="1093.8" cy="912.5" r="3"/>
<circle cx="1053" cy="927.6" r="3.3"/>
<circle cx="981.5" cy="1019.5" r="16"/>
<circle cx="1012" cy="1013.4" r="15.5"/>
<circle cx="995.8" cy="1031.7" r="18"/>
<circle cx="975.4" cy="1052" r="16"/>
<circle cx="991.7" cy="1052" r="14"/>
<circle cx="965" cy="1040" r="9"/>
<circle cx="955" cy="1052" r="7"/>
<circle cx="957" cy="1068.5" r="9"/>
<circle cx="971.3" cy="1064.4" r="10"/>
<circle cx="1016" cy="1031.7" r="12"/>
<circle cx="1004" cy="1044" r="12"/>
<circle cx="1001" cy="1007" r="10"/>
<circle cx="733.7" cy="974" r="2"/>
<circle cx="1079.5" cy="1075" r="1.7"/>
<circle cx="1164.5" cy="1085.6" r="1.7"/>
<circle cx="1156.7" cy="1136" r="3.3"/>
<ellipse cx="1082.5" cy="834" rx="15" ry="9" fill-opacity=".5"/>
</g>
<g fill="none" stroke="#000" stroke-width="3.8">
<ellipse cx="1088.5" cy="829.6" rx="42" ry="39"/>
<ellipse cx="933.4" cy="872.5" rx="46.3" ry="43"/>
<ellipse cx="828.4" cy="980.7" rx="72.3" ry="65.3"/>
<ellipse cx="966.4" cy="966.4" rx="40.8" ry="30.2"/>
<ellipse cx="1066" cy="925.6" rx="30.6" ry="30.2"/>
<ellipse cx="986.6" cy="1035" rx="56.5" ry="34" transform="rotate(-36 986.6 1035)"/>
</g>
<rect x="729.9" y="760.9" width="450" height="384.8" fill="none" stroke="#000" stroke-opacity=".3" filter="url(#shd)" transform="translate(1.6 1.6)" stroke-width="6"/>
<rect x="729.9" y="760.9" width="450" height="384.8" fill="none" stroke="#000" stroke-width="6"/>
<text class="pl" style="font-size:45.5px" x="739.4" y="800.2">d</text>
<g class="it" style="font-size:15.15px">
<text x="992" y="788">Steroid biosynthesis</text>
<text x="832.5" y="828">Hypoxia response genes</text>
<text x="770" y="890">Carbohydrate</text>
<text x="770" y="909">catabolism</text>
<text x="992" y="894">Immune response genes</text>
<text x="873.5" y="931.5">Receptor Tyrosine</text>
<text x="942" y="952">Kinase</text>
<text x="926" y="969">Signaling</text>
<text x="895" y="1107">Ovulation cycle</text>
<text x="895" y="1125.5">Female reproductive organs</text>
</g></g>
<g id="pe">
<defs><clipPath id="ce"><rect x="10" y="1213.7" width="539" height="465.6"/></clipPath></defs>
<g clip-path="url(#ce)" fill="none" stroke="#3838a8" stroke-opacity=".27" stroke-width=".38">
<path d="M124.1 1537.4L200 1518.6L317.2 1491.6M413.8 1443.3L400.8 1445.7L378.8 1477.3M118.7 1502.8L244.3 1401.7M270.9 1462.1L310.4 1612.2M283 1497.5L223.4 1444.5M128.6 1309.2L212.1 1393.5L300.9 1496.1M354.5 1646.2L135 1324.2M125.5 1287.1L110.7 1289.3M317 1454.6L224.9 1486.2M111.6 1301.7L386.1 1614.3M423.8 1489.3L217.6 1500.5M223.8 1371.7L173.4 1319.3L141.3 1292.5M319.4 1646.2L263.1 1561L160.7 1510.9M165.4 1330.8L136.1 1380L247.6 1449M311.3 1495.7L222.3 1426.2M243.4 1398.8L363.7 1608M126.5 1306.3L165.6 1406.4L300.3 1497.9M291.8 1495.8L249.1 1474.7L213.4 1407.8M421.2 1494.7L296.7 1510.3M291.1 1497.3L307.4 1615.5M192.7 1487.5L245.2 1397.9M216.2 1501.6L400.8 1480.7M216 1496.4L300.7 1491.5L322.4 1499.5M421 1494.5L282.4 1547.7L225.3 1489.4M287.2 1495.6L233.7 1462L303.6 1497.1M285 1496.1L342.1 1440.4M118.1 1503.3L230.7 1486.2M390.4 1488.5L328.4 1440.5L343 1443.7M214.7 1410.7L178.1 1372.8L217.8 1455.3M220.6 1424.7L208.8 1382.4L133.6 1325.3M301.4 1498.1L315.8 1508.5M303 1486.6L189.3 1431L125.3 1306.9M316.9 1477.7L246.9 1374.9L166.4 1330.3M434.3 1496.9L287.1 1511.4M282.5 1487.9L341.8 1399.5L413.7 1279.8M291.5 1497.1L302 1478.7M315 1476.9L311 1465.9L285.4 1487.9M161.6 1511.1L287.2 1603.9L371.5 1630.3M137.7 1309.4L222.7 1370.7M160.2 1346.2L232.3 1377.5L314.8 1439.1M118.3 1536.1L399.6 1452.8M392 1487.8L206.5 1357.2M166.1 1330.2L215.7 1464.5L309.8 1509.2M123 1277.1L251.3 1385.1L298.1 1507.3M289.4 1511.8L165.5 1347.2M311.3 1437L324.9 1471.5L299.6 1507.7M177.6 1404.9L119.3 1279.1M297.3 1403.1L286.9 1416.4L288.7 1447.3M319.7 1509.7L312.6 1492.4M128.7 1308.1L226.9 1386.1L298.6 1473.5M319.9 1494.5L268.6 1424.1M127.1 1522.3L285 1498.2M238.6 1388.2L279 1456L229.2 1487.5M270.8 1461.4L229 1374L134.9 1325.2M293.7 1618.2L172.4 1404.8L123.6 1279.6M352.7 1642.1L270.1 1465M182.3 1332.4L195.6 1497.7L293.7 1618.5M414.6 1444L207.6 1354M244 1395.9L318.9 1394.5L426.6 1487.8M375.1 1611L298.9 1472.5M291 1499.4L166.8 1330.2M437 1500.4L470 1249.1M118.2 1427.1L164.9 1355.4L205.4 1355M134.4 1289.9L98.2 1311.9L109.9 1311M224.6 1487.7L109.8 1302.6M205.8 1355.3L292.2 1497.8M241.1 1386.9L122.7 1323.4M218.5 1407.8L186.2 1414.4L122.7 1321.8M257 1446.2L335.6 1422.2L382.2 1454.8M110.5 1294.9L113.4 1319.9L184.4 1331.9M241.2 1388.2L215.6 1402.9L223.6 1486.7M483.3 1461L480.7 1477.2M422 1493.6L353 1522.2L329.5 1492.8M302.1 1496L323.6 1497.1M361 1631.8L318.3 1603.3L329.2 1492.4M192.2 1488.8L339.3 1636.7M269.1 1461L261 1490.1L261.5 1441.5M298.5 1507.2L162.6 1330.7M390.4 1489L259.9 1444.1M349.4 1601L276 1509.3L269.6 1462.8M301.4 1477.7L281.1 1491.1M350.3 1636.1L285 1551.6L247.2 1421.1M309.2 1502.3L375.2 1475.2M121.2 1510.3L188.7 1523.8L295.2 1620.9M225.5 1372.1L209.8 1446.6L231.8 1486.3M304.9 1496.3L401.8 1542L422 1493.2M121.9 1508.6L222.7 1583.4L293.2 1497.4M220.6 1425L318.5 1509.2M307.5 1508.2L216.5 1406.8M138 1310.4L200 1388.2L401 1482.8M147.1 1526.3L290.3 1508.9M306.6 1639.8L311.2 1476.6M293.5 1511.3L215.7 1435.8M313.7 1441.4L310.3 1490.7L371.1 1611.2M291.7 1511.4L183.9 1333.6M306.4 1613.7L197 1577.8L127.5 1522.9M331 1494.4L270.1 1463.1M216 1455.1L266.2 1450.8L261.4 1442.2M179.7 1404.8L221.6 1505L298.7 1510.4M313.7 1437.4L307 1506.4M226.8 1487.1L437.6 1467.4M239.3 1391.1L448.7 1256.3M285.5 1496L277.6 1448.4L226 1374M162.6 1346.3L306.7 1612.2M145.6 1512.5L248.2 1448.6M422 1493.6L299 1473.9M160.9 1529.3L133.8 1325.5M285.3 1488.7L300.1 1493.4M243.4 1399.9L192.3 1426.8L137.6 1521.1M301.9 1482.6L357.8 1393.5L427.4 1286.2M216.1 1499.3L147.7 1527.1M289.4 1447.7L229.9 1417.4L135.5 1325.4M232 1486.8L270.3 1450.9L314.5 1437.9M289.8 1487.3L323.7 1486L303.2 1494.3M141 1522.1L244.1 1504.8L289.7 1487.8M123.4 1278.3L115.2 1357.1L223.9 1373.2M474.7 1451L122.3 1509M163.4 1329.6L436.7 1467.1M297.4 1617.2L219.3 1425.9M317.7 1453.7L308.7 1507.7M157 1509.7L160.7 1465.7L215.4 1456.9M369.3 1625.6L301.2 1563.4L315.1 1482.4M301.2 1495.6L421.6 1492.5M223.7 1487.1L125.2 1321.7M139.1 1521.2L160.6 1482.1L135.2 1313.4M129.1 1301.7L416.5 1473.2M316.1 1455L330 1419.6L319.4 1477.3M315.9 1473.6L141.7 1294.4M288.6 1488.2L273.7 1473.4L256.9 1437.7M304.8 1645.3L311.1 1438.9M311.6 1494.5L298.4 1508M206.6 1354.9L438.7 1281M333.8 1492.9L248.8 1530.9L120.3 1537.2M165 1331.7L273.9 1361.4L269.1 1425.3M290.5 1510.6L232.8 1410.6L216 1409.3M264.9 1439.9L206.7 1353.6M330.4 1495.1L301.9 1481.6M229.5 1487.3L222.3 1443.6L238.5 1388M126.9 1305.3L258.1 1349.3L464.9 1449.5M452 1456.3L384.5 1464.6L299.1 1509.3M118.7 1425.1L196.4 1427.1L281.3 1485.8M176 1407L292.3 1485.9M284.5 1488.4L274.7 1474.9L319.3 1510M371.7 1603.6L348.3 1583.7L401.2 1452.7M183.8 1333.8L230.4 1350.8L301 1424.4M321.3 1494.4L168.7 1405.5L124.4 1321.2M397.8 1477.1L454.4 1390.6L415.4 1280.8M245 1422.9L355.2 1648.8M282.2 1489L223.1 1421.2L137.6 1310.6M291.5 1508.8L327.9 1473.1L383.6 1456.6M296.2 1496.3L351 1509.1L343.9 1442.6M376.9 1480.4L191.8 1489M246.6 1451L159.7 1481.9L146.6 1512.4M483.3 1467.4L362.8 1483L287 1498.5M392.1 1488.5L273.1 1412.1L127.7 1310.4M296.6 1618.2L226.5 1487M221.8 1445.4L184.4 1440.3L183.7 1332.5M327.6 1494.2L341.2 1532L299.5 1496.2M296.5 1619.1L239.6 1549.1L215.3 1406.6M299.6 1496.7L317.2 1513.4L329.6 1492.4M302.3 1495.6L377.9 1480.5M307.6 1503.6L398.9 1452M124.1 1521.4L315.4 1478.3M139.9 1516.2L168.4 1494.4L231.3 1486.1M165.4 1331.3L197.1 1518.2L328.3 1633.1M239.5 1388.8L231.6 1487.1M402.2 1292.2L326.4 1354.7L343.9 1439.5M349.9 1606L214.3 1538.5L136.1 1522.6M316.2 1493.7L297.5 1568.2L346.9 1639.4M307.5 1505.8L321.7 1495.3M322.2 1647.1L242.3 1518.7L239.6 1383.7M300.7 1477.6L372.9 1556.5L347.1 1622.8M315.5 1451.7L357.8 1644.3M296.3 1498.5L276 1491.7L296.6 1497.7M341.3 1642.6L265.3 1575.3L222.9 1487.9M220.7 1425.5L231 1471.5L262.6 1441.6M475.3 1449.4L360.5 1383.6L238.6 1387.5M318.9 1484.7L289.3 1445.7M400.4 1453.1L293.7 1405.1M121.7 1534.9L179.4 1553.8L287.5 1446.4M400.4 1454.4L241.5 1419.6M191.7 1486.2L231.6 1444.9L314.2 1442.6M325.7 1635.9L394.9 1565.1L464.9 1450.3M118.5 1542.7L241.4 1586.6L345.4 1594.4M403.6 1466.2L412.5 1451.4L282.8 1486.2M156.1 1511.7L312.6 1499.7L420.1 1493.8M357.7 1648.6L307.7 1592.8L287.3 1494.8M223.3 1373.5L285.8 1447.7M316.8 1473.8L327.2 1651M122.1 1509.1L248.3 1517.6L390.4 1489.2M243.9 1397L215.7 1441.1M281.6 1486.8L273 1401.3L295.2 1405.9M203.9 1356.3L215.4 1497.9M298.5 1506.3L189.9 1486.8M287.5 1495.2L289.8 1486.4M215.7 1500.7L317.5 1468.4L396.5 1476.1M127.2 1521.7L178.3 1484L305.2 1477.4M244.5 1421.3L207.2 1355.4M355.8 1623.6L423.4 1544.1L425.2 1483.6M287.4 1487.1L400.2 1453.4M291.5 1512.2L283.1 1490.6M224.5 1487.8L135.5 1324.9M295.1 1405.9L462.5 1447.6M439.2 1498L310.3 1526.7L156.1 1509M318.3 1509.3L123.8 1523.4M225.3 1369.2L319.6 1480.4M343.8 1634.9L226.4 1521.6L117.7 1427.8M333 1489.6L215.3 1480.9L205.7 1354.7M192.7 1488.5L192.3 1453L300 1506.9M145.6 1513.9L184.3 1456.7L244.8 1398.6M426.6 1489.2L301.5 1474M395.5 1456L375.5 1467.8L314.9 1473M243.6 1419L107 1319.2M146.4 1513.6L272.3 1430.7M135 1325L313.3 1472.4M163 1352.1L297.3 1436.9L352.8 1653.2M298.1 1506.4L301.7 1423.8M406.6 1464.8L342.3 1226M248.8 1449L139.6 1291M214.9 1440.4L160.6 1348.1M382.1 1616.6L136.2 1324M474.3 1447L419.7 1421L299.2 1421.4M136.5 1541.7L238.3 1504.7L294.3 1445.2M312.6 1497.3L381.6 1496L403.2 1468.9M223.3 1369.1L348.8 1637.7M203.9 1356.4L216.8 1498.8M317 1454.4L340.7 1513.7L307.5 1508.3M238.2 1388.2L190.9 1486.2M120 1536.9L199.4 1428.1L237.5 1388M216.5 1499L212.9 1436.7M301.6 1484.2L259.7 1441.6M296.9 1508.1L184.9 1333.5M285.5 1496L162.7 1348.9M230 1485L343.8 1227.8M207.1 1354.9L221.2 1290.7L161.9 1330.9M313 1439.7L311.2 1450.2L303.4 1484.1M242.9 1398.8L192.9 1461.7L192.5 1486.3M222.9 1425.1L406.1 1492M205.7 1355.8L123.6 1532.5M345.5 1442.9L292.3 1497.1M423.8 1484.7L302.6 1496.7M231 1486.2L213.5 1425.4L174.9 1406.7M185.3 1335.3L298.2 1423.2M305.4 1494.8L334.8 1504.7L317.3 1454.4M176.4 1403.8L324.5 1645.4M215.5 1404.5L266.6 1437.9L294 1495.9M323.9 1605.2L290.1 1487.1M220.9 1443.9L353.5 1439.1L461.8 1457.9M313.3 1436.5L314.7 1413.7L303.2 1484.9M426.7 1472.7L318.3 1486M347.7 1251.8L263.8 1440.7M404 1468.7L472.8 1479.8M301.2 1495.8L309.5 1484.5L291.5 1497.1M147.7 1526.5L218.8 1444.3M320.8 1497.8L311.9 1494.1M215 1436.4L215.7 1436.9M297 1505.8L260.2 1540.8L222.9 1487.5M328.1 1488.5L289.5 1407.4L239.6 1387.7M230.5 1487.9L362.9 1403.5L438.4 1279.9M284.9 1498.2L396.4 1458.8M345.4 1599.5L319.2 1537.6L218.2 1433.6M296.3 1407.1L316.1 1454.8M135.6 1292.1L200.6 1370.2L231.4 1486.7M328.4 1492.3L362.1 1626.4M301.3 1496L340.7 1474L410.6 1488.4M317.9 1510.2L126.9 1535.8M483.5 1461.4L439.2 1497.5M219.5 1444.7L139.9 1307.5M219 1425.4L161 1349.9M230.1 1484.7L268.9 1462.4M438.9 1465.4L376.9 1465.9L294.4 1475.1M127 1521.7L254.5 1492.6L322.4 1497.1M302.5 1474.9L228.6 1492.6L145.4 1535.9M118.1 1426.9L225.7 1375.4M355.4 1621.8L291.9 1444.9M119.1 1425.5L250.8 1544.8L324.9 1632.1M120.1 1542.7L215.8 1497.7M287.6 1485.5L129.1 1310.2M118.7 1502.6L155.6 1463.4L225.5 1372.2M396.3 1456.9L433.7 1495.3L367.7 1613.5M422.3 1494.1L248.6 1452.6L160.9 1351.6M215.3 1436.3L319.6 1351.7L415.5 1280.5M286.7 1495L290.5 1483.1L290.5 1445.7M377.4 1479.5L408.4 1552.9L386.5 1615.9M326.5 1647.9L183.9 1333.5M215.5 1454.8L299.5 1477.8M165.7 1346.9L232.3 1426.5L328.5 1492.4M473.9 1451.9L399.6 1478.8M283.2 1488.1L448.6 1491.1M348.2 1440.8L224.3 1433.2L119.9 1425.7M301.2 1476L315.5 1482.1M223.1 1447.2L237.6 1463.2L286.2 1495.3M326.9 1495.3L389.7 1464.1L472 1482.3M377 1478.3L339.5 1392.3L227.4 1374.7M164.4 1333.2L187.4 1366.8L242.2 1398.9M326 1649.9L362.9 1585L314.8 1453.8M303.6 1486L237.9 1382.2L132.2 1294M316.3 1482.6L305.3 1470.7L217.5 1435.6M292.7 1444.2L164.1 1331.4M135.3 1325.6L306.8 1635.6M435.4 1264.7L340.2 1350.1L246.5 1453.1M348.7 1636.6L424.5 1470M280.8 1491.2L164.2 1349.6M242.9 1398.3L329 1488M491.7 1464.2L399.3 1500.2L318.5 1454.3M312.8 1471.6L140.2 1518.6M214.7 1455.4L288.5 1448M107.1 1295.9L120.4 1384L243.7 1398.6M238.9 1388L282.3 1405.6L311.5 1494.2M290.5 1508.7L311.3 1492.9M290.6 1510.4L352.5 1401.9L406.2 1291.9M327.6 1489L220.6 1455.7M134.9 1324.8L204.4 1389.4L287.3 1487.5M336.1 1633.2L382 1455.8M244.1 1398.1L177.7 1349.6L116.7 1293M301 1480.5L311.6 1494.5M478.6 1480.7L453 1456.4M107.3 1300.7L267.1 1457.7L370.4 1611.5M223.3 1444.1L219.1 1475.4L304.6 1487.3M377.5 1478.6L285.7 1496.1M342.7 1656.2L132.1 1294.6M317.1 1482.1L317.2 1438.1M131.5 1290.9L220.5 1442.4M318 1473.2L280.9 1488.8M193.1 1491.1L242.7 1502.9L309.5 1505.5M304.1 1637.9L227.7 1369.6M140.7 1522.5L251.6 1505.7L308.8 1505.9M107.7 1313.4L206.8 1410.5L331.4 1495.9M225.1 1445.4L261.5 1433.9L316.8 1472.2M301 1476.9L220.5 1504L146.1 1546.9M422 1492.3L281.5 1487.8M217.6 1455.3L337.5 1651.2M472.4 1251.5L330.4 1624.9M308.7 1508.3L139 1310.7M146 1512.9L174.3 1473.8L215.9 1407.5M343.3 1442.7L269.7 1463.2M293.3 1499.3L439 1466M216 1498.8L252.3 1435.9L219.3 1425.9M245.4 1397.8L413.7 1280.2M146.7 1512.9L292.7 1460.7L373.8 1475.7M375.8 1479.3L122.8 1534.5M443.4 1260.6L380.7 1378.7L329.2 1488.5M316.9 1474.7L274.2 1424M117.5 1541.6L168 1330M123.2 1279.2L186.5 1411.9L283.3 1497M232.3 1488.6L281.6 1462.3L334.8 1356.2M332.1 1491L313 1487.4L217.8 1455.8M177.3 1405.5L148.3 1441.3L158.2 1350.1M330.9 1639.8L345.8 1579L316.4 1484.4M122.5 1508.7L316 1437.1M225.4 1443.3L278.3 1457.5L319.3 1511M321.8 1475.2L298.3 1422.2M297.6 1403.8L298.6 1474.7M301.9 1484.6L349.1 1464.5L475.7 1450.2M320.5 1471L246.4 1423.1M318.7 1480.4L309.1 1495.5M269.6 1463.3L160.6 1322.4L112.7 1296.4M151.2 1319L124.4 1524.7M307.2 1477.9L451.8 1457.1M214.1 1407.6L297.3 1505.2M452.5 1261L352.3 1594.2M214.6 1435.5L245.9 1424.4M308 1504.3L329.6 1636.1M239 1386.6L215.1 1433.3M224 1374.7L249 1439.4L309.6 1505.3M335.3 1358L288.4 1358.5L241.9 1399.9M139.4 1533.6L142.5 1435.3L102.9 1301.1M132.5 1327.9L242.2 1388.7L466.6 1450.5M290.5 1512.5L292.4 1524L315.9 1452.1M207.6 1354.1L271.2 1432L316.7 1455.9M299.1 1505.3L426.7 1485.6M230.7 1486L248.9 1476.5L305.5 1505.5M243.9 1400.1L220.6 1424.7M146.1 1512.4L141.4 1293.8M215 1498.6L338.6 1638M348.2 1254L250.7 1331L183.9 1333.6M138.2 1520L125.7 1326.8M441.6 1501L245 1450M289.8 1488.3L339.1 1575.3L307.1 1609.5M260.5 1447.4L289.9 1487.2M280.6 1488.9L306.1 1480.9L400.1 1452.9M300.4 1478.4L190.4 1471.4L128.2 1522M317.9 1477.2L447.5 1460.2M218.7 1445.2L216 1407.9M334.6 1223.9L315.3 1496.8M318.5 1491.9L304.8 1518.8L311.5 1491.6M183.1 1333.2L204.1 1373.5L221.9 1444M399.8 1453L328.2 1446.5L205.7 1355.9M259.4 1445.7L292.8 1498.1M290.2 1496.4L437.3 1262.7M298.6 1423.4L262.2 1465.8L281.2 1485.7M127.3 1522.3L193.2 1507.9L292.8 1498M320.5 1508.1L178.7 1424.9L117.4 1427.1M225.8 1443L437.5 1271.7M330.2 1493.3L294.2 1496.1M271.2 1462.2L297.9 1452.5L285.3 1496M162.1 1343.4L168.6 1392.3L137.2 1324.1M235.6 1388.6L246 1413.9L289.8 1510.1M425.1 1486.9L299.8 1506.5M301.9 1496L308.7 1507.6M218 1458.6L292.7 1498M147.7 1525.8L259.5 1573L349.9 1621.6M324.2 1604L345.5 1359.7M117.8 1426.4L204.2 1364.5L300.7 1499M214.8 1409.1L132.5 1430L121.5 1509M298.5 1425.1L227.8 1374.3M219.1 1498.9L392.2 1487.7M218.8 1406.7L274.5 1529.1L343 1635.3M104.3 1315.6L164.8 1308.7L245 1397.2M148.9 1538.9L213.6 1447.5L271.6 1430.7M243.1 1397.9L315.3 1496.2M157.3 1511.9L215.5 1520.8L298.4 1506.5M300.2 1498L290.1 1525.3L298 1507.6M328.3 1491.8L355.2 1503.7L270.7 1462.5M136.7 1324.9L165.6 1364.4L224.2 1374.2M466.2 1473.9L318.6 1477.7M238.5 1390.5L291 1511.5M120.2 1544.6L190.7 1455L297.9 1422M293.1 1445.6L320.9 1450.9L316.6 1450.9M285.9 1494.5L183.6 1334.8M330.9 1632.4L300 1478.6M440.9 1260.3L440.5 1255.3L441.2 1279.5M205.3 1355.6L201.9 1360.9L241.8 1398.4M291.3 1487.6L318.6 1509.9M223.9 1376L295.1 1521.2L349.4 1644.7M177.5 1407.6L97.9 1319.6L120.3 1277.5M340.5 1654.7L307.8 1543.7L289 1487.4M165.8 1330L102.9 1293.6M290.7 1488.4L378.8 1448.9L450.6 1457.6M269.6 1464.8L292 1498.7M279.8 1485L164.9 1331.7M264.6 1423.9L284.5 1485M176.1 1403.8L213.4 1437.2M332.6 1495.9L298.3 1422.5M425 1486.3L184.8 1334.4M310.8 1441.6L346 1441.6M301.4 1478L274.7 1481L319.4 1509M207.8 1354.5L253.4 1414L292.9 1498.3M191.2 1487.7L164.6 1392.1L184.8 1335M184.3 1333.5L245.2 1450.4M216.3 1500.2L369.1 1616.3M315.8 1484.5L343.6 1551.7L384.4 1612.4M399.8 1452.5L268.7 1462.3M309.4 1502.5L270.2 1434.5M373.6 1608.2L299.3 1423.5M134.9 1325.8L244.8 1420.5M191.2 1489.3L224.9 1487.8M224.7 1372.5L426.8 1485.1M260.7 1438.1L190.5 1407.2L123.7 1324.3M309.5 1468.8L313.4 1439.8M136.2 1324.6L162.5 1409.3L285.6 1494.5M233.6 1389.1L290.8 1436.5L212.7 1432.9M447.2 1488.1L302.2 1494.6M206 1353.2L173.2 1363.3L182.5 1333.3M438 1466.6L266.5 1388.8L121.9 1324.8M232.3 1488.8L282.8 1427.2L302.3 1486.6M136.6 1519.2L243.1 1404.6L206.5 1355.9M320.2 1493.5L341.1 1642M137.5 1519.4L345.1 1534.3L390.5 1488.5M217 1439.7L330.7 1492.4M315.5 1482L163.9 1332.8M133.4 1286.7L138 1283.8L135.9 1311.6M243.9 1399.5L162.6 1487.5L122.5 1509M391.1 1488.5L316.8 1455.3M317.7 1451.2L406.6 1393.7L472.7 1451M217.7 1457L323.2 1480.7L473.5 1485.2M231.9 1486.1L303.7 1636.6M105.1 1295.1L100.3 1358.6L127.5 1524M437.2 1500.5L146 1540.7M295.2 1619.6L245 1471.3L205.7 1355.6M135.3 1324.7L153.1 1395L225.3 1486.5M365.8 1632L263.8 1446.2M290.1 1499.1L303.2 1484.5M235.3 1385.8L305.5 1505.6M298.5 1506.4L302.3 1494M163.9 1330.6L184.9 1388.6L232.4 1486M297.2 1420.2L173.4 1474.2L125.2 1532.8M158.6 1344.9L208.9 1440.8L289.3 1512.9M260.7 1443.5L272.9 1432.3L241.8 1419.6M485 1457.9L319.6 1512.3M360.8 1606.4L416 1531.2L400.5 1467.5M163.9 1332.8L294.3 1405.3M213.6 1434.1L332.6 1338.1L414.6 1281.2M343.5 1439.9L445.7 1494.1M241.3 1400.2L204.4 1353.7M112.6 1300.4L87.4 1268.4L106 1312.2M217.4 1498.6L289 1456.9L292.8 1444.7M300.8 1477.6L315.5 1482.2M246.1 1449.1L142.7 1441.8L140.9 1518.1M177.5 1403.4L138 1352L157.2 1347.8M399.4 1476.8L347.2 1493.7L422.1 1470.2M285.5 1489.3L140.5 1442.2L118.4 1426.6M240.9 1388.5L346.5 1434.2L484.4 1464.5M352.3 1643.4L116.4 1429.2M319.9 1495.7L246.2 1479.8L225.4 1372.2M324.1 1605.8L227.5 1557.3L216.3 1458.3M395.9 1455.6L254.6 1461.3L232 1484.8M319.1 1508.9L271.7 1486.6L116.6 1428.5M215.8 1455.7L215.1 1418.8L244.9 1424.1M286.1 1496.4L226.5 1372M146.6 1513.9L306.6 1640.4M124.5 1323L153.4 1530.6M452.1 1268.5L309.7 1473.1M224.1 1488.3L324.5 1605.6M216.5 1455.2L177.3 1379.5L156.8 1349.1M235 1385.4L232.5 1435L309.2 1505.6M138.7 1291.8L320.6 1511.8M291 1486.4L179.5 1403M307.9 1502.2L168.8 1491.9L137.7 1519.7M309.1 1474.4L302.2 1553L292 1619.7M303.4 1485.4L452.4 1456.5M421.7 1494.1L386.8 1521.2L305.7 1473.1M137.2 1518.5L317.1 1441.1M305.3 1486.3L120.7 1280.9M305.4 1482.2L300.6 1457.9L396.4 1476.1M288 1510.9L312.3 1514.5L316.4 1483.7M423.1 1493.9L146.5 1541.6M308.1 1475L205.4 1355.7M290.1 1487.6L275.4 1497.6L297.2 1506.2M413.8 1445.4L340 1456.6L317.1 1453.2M318.2 1471.9L244.8 1473L217.8 1438.6M243.1 1448.3L385.8 1613.8M138.9 1521.6L322.3 1508.8M168.1 1329.9L291.4 1488.1M304.1 1483.7L313.1 1494.3M293.6 1496.9L289.6 1443.4M476 1448.3L325.7 1430.6L268.4 1463.9M288 1511L314.1 1469.1L301.5 1482.1M382.7 1456.1L166.1 1345.3M282.5 1487.6L177.9 1360.3L142.2 1292.2M381.4 1455L153 1523.7M163.1 1350.6L212.7 1433.1L292.9 1496.4M451.8 1458.8L135.1 1308.4M237.3 1387.2L422.4 1493.9M122 1277.9L256.9 1309.7L415.6 1281M116.6 1502L192 1527.2L232.4 1488.7M222.8 1374L230.4 1460.4L217.2 1501.5M193.2 1487.3L196.7 1449.3L345.3 1442.1M320.3 1506.3L361.1 1542.9L356.2 1643.1M244.4 1420.7L255.6 1453L243.5 1424.5M324 1605.9L327.4 1625.8M381.5 1457.1L281 1475L224.8 1488.1M309.5 1504.3L187.6 1490.4L136.9 1520.4M395.1 1457L345.4 1441.8M292.9 1499L213.9 1438.5M191.6 1487.3L282.1 1478.6L300.7 1477.1M166.8 1332.8L290.8 1403.2M311.8 1494.3L292.5 1407.3M205 1355.2L289.6 1486.5M281.3 1491.8L367 1338.7M117.9 1427.4L278.3 1474.3L401.1 1475.7M126.3 1525.1L141.8 1293.6M229.8 1484.5L145.2 1512.9M225.9 1368.5L316.4 1474M221.9 1371.5L377.8 1382.8L454 1458M218.8 1409.9L217.7 1453.8M183.4 1333.1L160.3 1368L162.6 1353.2M314.2 1481L292.6 1499.2M379 1479.7L409.8 1472.2L399.6 1452.2M305.4 1610L340.4 1488.4L316 1483.1M293.1 1509.4L274.3 1489.7L190.8 1487.8M120.1 1537.1L291.4 1476.2L415.1 1471.8M301.4 1496.4L300.8 1507.8M157 1511.3L209.5 1489.1L243.6 1398.6M213.5 1407.9L297.2 1501.4L312.1 1497.4M311.6 1505.3L312.7 1492.2M183.1 1333.6L196.6 1431.7L286.8 1508.2M244.1 1421.6L263.4 1520.4L351.2 1600.8M474.9 1449L344.9 1257.3M221.1 1423.8L221.8 1443.3M360.4 1630.1L383.6 1544.2L322.1 1496.1M237.5 1389L315.2 1471.8L383.4 1454.1M316.2 1451.6L297 1423.1M292 1500.7L316.7 1583.1L337 1659.6M298.1 1480.4L248.4 1443L231.9 1485M293.1 1445.6L249 1510.2L309.7 1507.4M176.7 1401.6L294.7 1356.3L445.8 1258M440 1501.2L327.9 1514.3L114.4 1536.2M318.3 1496.7L222.2 1373.2M105.3 1302.3L186.2 1472.2L297.2 1620.8M164.8 1331.6L248.8 1512.4L338.2 1634M371.2 1624.5L370.2 1540.1L375.2 1481.4M303 1484.6L405.3 1487.1M239.3 1392.4L440.3 1469.8M158.2 1350.3L396 1455.9M296.4 1480.3L345.9 1440.1M317.8 1508.5L298.2 1421.6M299 1509.1L275.9 1445.1L242.8 1397.9M380.6 1620.5L150.2 1319.6M126.3 1310L231.3 1486M372.4 1601.1L311.2 1588.7L292.6 1498.1M220.9 1425.1L145.8 1431.3L135.2 1322.6M164.9 1332.6L375.9 1481.7M328.6 1630.4L292 1579.7L193.1 1489.9M231.9 1486.6L363.7 1446.7L474.6 1448.4M439 1265.4L161.3 1513.3M302.1 1484.5L288.2 1513.3L225.4 1487.5M220.5 1425.2L309.8 1504.3M216.9 1500L251.3 1501.6L193.2 1488.6M139.4 1517.3L209.8 1471.2L394.3 1457.2M401.4 1454.1L269.8 1462.6M382.4 1454.6L341.2 1535.9L299.3 1505.5M293 1497.5L296.9 1548.1L326.2 1634.5M225.2 1487.5L295.8 1516.3L291.5 1510.1M269.6 1464.9L121.4 1279.8M285.1 1493.9L242.9 1444.4L242.9 1397.2M400.2 1452.7L269.8 1462.9M296.1 1408.3L136.7 1322.3M124.6 1310.4L294.7 1617.6M245.2 1397.8L245 1447.9M261.6 1441L316.2 1474.6M317.9 1483.4L342.5 1515.9L316.2 1508.7M451.2 1268L362.1 1378L329.5 1494.2M163.8 1345.8L346.6 1483.3L360.6 1641.4M118.7 1424L220.9 1442.8M262.4 1441.7L306.9 1506.2M302.6 1484.2L127.2 1522.3M302.4 1484.9L242.9 1388.5M323.4 1603.8L254.2 1442M293.8 1447.4L292.9 1522.5L290.2 1511M301.9 1499L267.6 1402.2L184.4 1334.1M164.5 1332.1L302.2 1494.6M334 1356.8L382.8 1455.1M238.6 1386.6L269.6 1469.9L194.2 1491M356.3 1641L183.6 1334M237.3 1387L261.9 1529.8L341.3 1655.4M383.3 1454.8L414.5 1483.3L434.5 1503.2M130.2 1301.2L253.1 1500.7L359.6 1641M121.7 1322.2L118.8 1426.1M368.3 1604.2L413.4 1673.3L386.3 1612.6M164.9 1331.6L241.4 1387.3M232.1 1487.3L297.7 1444.6L285.6 1446.3M309.8 1609.8L163.5 1329.6M245.2 1449.3L446.6 1456.5M267.5 1426.9L247.3 1432.8L315.8 1483.1M301.6 1495.8L215.8 1409M298.3 1424.2L300.9 1366.8L167.5 1330M108.6 1311.6L80.2 1263.5L130.1 1292.7M325.5 1474.4L367.7 1489.5L315.9 1509M160.1 1525.1L367.8 1337.8M325.6 1471.4L312.4 1586.5L325.6 1649.3M318.2 1481.8L263.6 1494.6L312.3 1492.6M232 1488L295.3 1478.4M310.7 1495.6L267 1425.9M464.5 1472L425.9 1424L416.4 1280M287.2 1442.8L286.3 1489M216.4 1406.9L136.5 1523.1M311.9 1440.2L304.6 1487.5M323 1648.4L272 1528.1L315.2 1486.4M344.2 1439.2L246.1 1417.4M343.6 1440.8L296.6 1476.9M296 1508.3L251.1 1426.8L205 1356.5M301.2 1477.6L237.2 1484.6L215.3 1457.5M219.2 1445.2L300 1497.5M485.7 1468.3L374.8 1604.1L343 1620.6M222 1426.5L178.7 1406.5M377.3 1477.2L210.1 1492.3L144.8 1515.3M178.9 1405.7L138.7 1519.9M118.6 1501.8L357.6 1639.4M226.6 1373.5L202.3 1462.4L146 1513.6M270.4 1428.2L213.3 1438M298.3 1424.2L141.6 1520.4M120.3 1536.5L145.4 1476.1L193.1 1488.6M164.4 1331.1L436.8 1281.9M248.7 1448.9L434 1269.6M466 1447.6L404.7 1470.8L301.7 1496.2M274 1431.5L225.6 1372.2M321 1631.6L305.2 1612.8M375.7 1479.6L411.6 1443.9M246 1449.7L279.2 1476.8L318.1 1483.8M415.3 1279.3L359 1409.1L319.1 1508.3M126.8 1522.9L399.9 1452.9M229.3 1371.9L294.8 1435L317.8 1483M344 1650.2L343.8 1511.5L298.2 1422.7M128.2 1311.4L159.7 1359.2L224.4 1373.3M399.7 1452.5L326.9 1434.1L242.1 1398.5M315.8 1453.8L225.7 1370.7M413.5 1444.5L289.7 1445.3M164.4 1333.6L205.6 1355.7M317.9 1483.1L317.5 1509.8M298.2 1423.1L349.9 1647.5M297.1 1403.3L363.9 1373.5L446.4 1257.4M134.1 1516.7L361.6 1634.4M303.7 1485L288.9 1487M138.8 1295L318.5 1455.4M161.5 1524.9L146.6 1437.5L136.9 1324.5M155.1 1529.1L270.2 1463.3M320 1632.3L123.5 1320.4M159.4 1528.2L232.5 1524.9L215.8 1436.6M121.2 1508.1L298 1473.6M282.9 1488.6L217.1 1455.3M244.1 1397.9L170 1378.4L128.5 1296.7M141.5 1295L161.2 1375.8L232.5 1486.7M344.8 1439.8L310.9 1477L224.9 1487.8M205.3 1355.9L290.7 1498M367.5 1632.6L262.5 1611.1L117.2 1502.5M178.6 1402.6L265.9 1417.9L293 1497.9M317.6 1477.4L306 1447.9L294.8 1405M161.3 1531L315 1485.7M326.4 1492.6L305.3 1541.8L357.5 1623.3M312.2 1503.1L217.5 1412.6L103.3 1313.2M347.8 1255.6L243.4 1395.4M295.7 1497.6L398.6 1479M207.4 1356.6L253.5 1391L305.2 1484.3M206.9 1357.1L222.9 1375.2M271.8 1464L213.8 1405.1M206.1 1354.3L446.7 1454.6M289.9 1486.9L182.5 1466.4L120.2 1427M299.2 1473.8L289.2 1487.9M216.6 1407.3L268.2 1436.1L314.2 1483.6M156 1527.6L325.1 1514.8L461.1 1480.2M408.3 1492.9L145.4 1526.2M297 1478.7L236.1 1412.5L138 1311.4M328.5 1650.4L302.6 1554.5L289.8 1512.4M311.8 1442.2L434.3 1501.9M121.5 1323.2L214.2 1435M243.4 1398.7L266 1428.5L225.2 1488M258.5 1446.6L207.9 1355M190.9 1487L152.9 1434.3L106.6 1310.7M116.2 1536.7L215.8 1407.2M317.2 1493L301.1 1506.4M223.2 1487.5L394.2 1457.4M214.9 1406.7L182.3 1429.1L177.1 1404.7M305.2 1485.9L350.3 1551.7L309.4 1636.5M368.7 1629.6L464.3 1450.5M297 1423.8L304.9 1570.2L324.3 1645.5M316.2 1485.7L130.6 1523.9M383.1 1456L123.7 1318.5M285.3 1493.3L383.9 1621.6M290.3 1484.9L367.7 1480.1L447.3 1456.9M193.4 1488.8L360.6 1641.1M343.9 1629.2L320.6 1494.7M326.6 1633.3L158.6 1513.5M232.1 1487.8L181.7 1408.4L110.3 1298.1M133.6 1322.1L194 1324.8L239.2 1386.9M413.8 1444.3L122.1 1320.6M372.4 1604.8L421.3 1493.7M298.8 1422.6L274.9 1423.2L218.7 1424.8M385.2 1610.6L293.7 1621M455.6 1498.8L99.2 1313.7M154.4 1521.3L261.1 1507.4L462.7 1477.9M406.5 1291.7L327.5 1382.1L216.7 1499.3M319.7 1498.1L178 1403.5M133.3 1323.9L263.1 1398.2L418.2 1472.5M225.1 1487L209.8 1499.2L122.5 1508.9M346.3 1597.9L291 1513.4M162.1 1329.6L261.8 1403L300.8 1494.4M254.9 1441.6L249.2 1350.3L182.9 1334.2M311.5 1494.5L362.1 1598L375.7 1611.1M290.9 1485.5L248.4 1467.9L224.3 1371.6M310.9 1475L378.4 1475.4L449.3 1456.8M222 1444L161.1 1348.5M417.5 1280.8L324.6 1332.7L241.3 1390M322.2 1507.2L307.6 1430.7L292.6 1487M296.9 1618.7L232.1 1486.7M388 1617.8L268.6 1425.6M327.7 1491.2L418.9 1472.9L421 1493.4M344.1 1442.2L475.7 1448.7M223.9 1486.1L211.5 1436.1L214.1 1436.6M402.7 1452L299.1 1400.3L134.5 1324.9M408.2 1291L413.9 1280.8M316.6 1481.8L232.6 1382.2L138 1309.4M465.7 1257.8L398.6 1401.7L301.2 1484.3M147.4 1515.3L481.6 1480.5M356.6 1639.1L460.1 1251M227.1 1371.6L353 1601.2M121 1326.4L149.9 1318M258.7 1446.7L311.5 1495M318.8 1494.3L218.6 1458.1M220.6 1455.8L220.3 1441.9M451.9 1270.3L136.1 1324.4M299.9 1422.9L347.5 1450.4L320.5 1476.7M486.9 1463.5L406.3 1428.2L298 1423.4M175.5 1405.6L256 1435.3L297.6 1477.2M378.2 1479.9L220.9 1424.9M161.5 1350.9L153 1438.7L137.3 1521.7M310.9 1495.4L245.7 1423.9M316.3 1483.2L331.4 1524L294.9 1499.4M241.8 1396.5L218.8 1352.4L183.8 1333M119.9 1426.9L323.2 1633.1M166.6 1347.7L183 1296.8L135 1325.1M316.4 1441.4L247.8 1427.3L153.8 1320M223.7 1371.3L317.8 1403.3L395.5 1455.4M309.8 1504.7L250.2 1365.2L128.1 1306.7M216.9 1455.2L316.4 1439.1M182.5 1333.9L271.5 1410L300.2 1420.1M213.8 1437.9L227.4 1369.8M120.2 1425.9L281 1489.5M436.5 1280.1L483.7 1419.5L465.8 1450.6M155.4 1521.7L157.1 1537.1L219.6 1456M216.6 1407.1L397.2 1481.3M317.5 1455.5L239.7 1431.3L128.2 1309.6M314.8 1454.6L293.7 1435.9L222.9 1442.9M304.6 1484.7L235.2 1386.6M299.7 1511.1L121.2 1326.7M295.6 1405.9L269.3 1428.9L302.7 1498.4M177.8 1406.2L211.6 1345.8L184 1333.7M133.3 1293.1L460.9 1462.1M167.4 1330.8L215 1435.4M474.6 1448.6L390.7 1460.9L220.1 1422.1M150.8 1319.5L284.7 1497.4M117.3 1428L198.6 1496.5L288.7 1512.4M318.8 1507.7L465.5 1489M360.3 1626.1L227.5 1374M292.2 1485.2L291.1 1410.1M307 1642.4L272 1463.1M185.8 1333.1L240.4 1340.8L346.4 1442.3M315.9 1438.3L311.9 1495.3M282.2 1488.5L193.5 1490.6M485.3 1469.2L315.3 1368.8L205.4 1354.6M313.5 1492.9L224.7 1442M295.4 1408L421.7 1493.5M261.6 1442.3L127.3 1311.1M286.8 1511.4L127.6 1306.7M243.9 1400.1L290.4 1434.3L291.9 1485.9M298.3 1421.5L242.1 1501.5L118.7 1502.3M217.1 1434.6L233.2 1487.4L298.4 1508M459.6 1481.2L429.7 1497L397 1481.8M244 1421.3L345.9 1596.2M347.3 1444.4L258.4 1363.2L159.8 1349.5M217.6 1455.9L466.8 1448.7M221.7 1443.4L163.6 1332.5M316.5 1478.4L293.9 1445.2L290.1 1445.2M293.5 1498.5L297.1 1540.8L319.6 1511.5M217.6 1499.1L138 1310.8M303 1485.9L163.9 1348.3M163.7 1354.9L232.8 1389.6L295.4 1407.4M465.5 1448.2L328.6 1428.6L123.7 1324.2M247.4 1448.2L256.1 1421.9L310.9 1505.6M304.7 1486.5L294.1 1404.3M205.4 1357L287.6 1529.5L304 1644.1M178.5 1406L159.2 1527.1M408 1489.5L260.5 1442.5M143.9 1513.9L132.6 1416L134 1326.4M245.7 1398.1L237.4 1470.5L224.8 1487.9M286.7 1445.8L164.8 1332.4M451.3 1455.4L325.2 1633M287.5 1447.5L217.8 1325.3L136.6 1293.6M243.9 1398.7L202.4 1412.9L226.7 1488.9M298.5 1423.1L367 1444.3L316.3 1483.5M298.7 1422.8L348.1 1454.1L298.1 1509.1M216.1 1409.4L108.8 1289.6M346.4 1439.1L320.9 1484.8L293.6 1497.1M342.7 1442L297.1 1492.1L285.6 1496.2M194.8 1488.6L118.6 1426.7M300.2 1483.6L340.9 1633.9M243.7 1420.9L331 1493.4M299.1 1494.9L140.3 1518.7M333.6 1494.2L299.7 1491L267.6 1427.2M282.9 1496.3L405.5 1287M365.4 1333.4L347.1 1407.8L320.4 1492.4M304.4 1478.1L448 1257M311.7 1436.8L302.4 1483.1M191.1 1488.2L216.3 1499.3M425.5 1468.7L325.6 1427.8L140 1312.3M426.7 1287L404.9 1291.9M309.4 1496.4L281.3 1498.3L290.6 1447.8M264.8 1424.6L221.5 1445.8M119.4 1424.2L196.6 1402.4L286.8 1447.3M121.6 1509.2L290.8 1488.9M165.2 1334.5L274.1 1418.1L452.9 1461.9M123.1 1323.2L268.3 1438.7L301.1 1494.2M309 1493.2L305.6 1616.5M219.2 1424.8L139.5 1519.9M231.9 1484.6L157.7 1528.5M389.5 1612L309.5 1505.5M219.1 1408.9L114.9 1393.1L117.2 1426.2M272.5 1429.7L214.2 1460.4L176.2 1405.9M186 1332.9L205.9 1439.2L118.1 1533.9M161.9 1351.5L164.2 1349.4L205.8 1354.9M185.9 1334.3L235.8 1408.9L318.2 1495.7M315.6 1482.7L140.8 1312.9M125.6 1532.4L260 1441.8M141.2 1293.4L226.4 1487M327.8 1492.2L305.1 1484.8M438.2 1467.6L314.9 1343.9L183.4 1333.7M206 1355L242.3 1388.3M365.4 1646.6L306.9 1558.7L231.2 1487.1M183.9 1333.9L271.1 1499L303.6 1485M220.3 1444.9L266.4 1471L307.7 1504.7M398.2 1477.7L372.7 1549.9L304.3 1494.9M290.7 1403.1L129.4 1520.3M231.3 1485L304.4 1494.6M127.8 1533.3L162.5 1472.9L239.6 1386.4M295.2 1497L298.9 1423M266.2 1430.2L220.8 1426.1M219.1 1458.2L291.9 1429.2L301.8 1493.1M203.5 1355L182.3 1335M298.4 1482.5L263.1 1511.5L193.4 1488.3M215.3 1436.4L292.4 1445.1L299.8 1421.9M155 1523L435.8 1466.5M299.8 1473.3L361.1 1490.6L420.7 1495.2M292.9 1494.6L317 1475.9M428 1484.7L289.4 1486.3M168 1331.3L153.4 1430.2L147 1525.4M192.8 1488.3L104.8 1313.9M373.1 1632.8L225.1 1488.2M130.1 1522.1L199.1 1464.2L285 1490.4M315.7 1498L367.7 1506.7L416.3 1473.6M436.5 1470.9L338.6 1221.7M344.5 1254.3L226.5 1348.2L127.3 1522.8M243.7 1399.4L317.8 1453.4M296.5 1424.1L317.9 1450L290.4 1488.2M216.1 1501.6L271.6 1432.4M367.1 1601.4L120.1 1535.2M281 1486.4L281.8 1408.8L221.5 1371.3M403.8 1291.7L355.6 1370.9L330.2 1491.1M340.5 1657.8L247.6 1467.2L121.3 1278.5M481.4 1473.2L306.7 1487.6L231.9 1488.2M191.6 1492.4L267.2 1496.2L286.9 1494.1M402.6 1474.2L211.3 1437M323.4 1606.8L286.4 1501.2L298.9 1422.4M146.4 1512.4L146.9 1526.8M161.2 1349.1L160.5 1313.8L183.8 1333.6M317.5 1508.5L304.7 1487.1M290.3 1408.9L242.6 1397.8M323.9 1470L240 1471.1L226 1486.7M119.3 1536.5L308.7 1639.6M150.4 1318.8L231.5 1486.3M225.4 1487.5L246.2 1448.4M206.1 1355.7L311.9 1492.6M244 1398.5L156.4 1320.2L161.6 1332.1M118.7 1502.8L332.6 1496M224.6 1486.7L259.5 1470.4L316.6 1440.8M367.5 1332.8L293.9 1497.9M335.2 1653.9L341.9 1552.8L316.9 1473.5M268.1 1464.1L308.5 1513.9L323.7 1496.6M456.2 1458.2L307.1 1381.8L242.8 1400.4M303.6 1472.2L359.9 1474.1L328.9 1492.3M142.2 1294.9L308.3 1636.8M236.8 1389.9L248.8 1404.9L317.4 1451.4M141.3 1290.2L315.7 1373.9L455.5 1499.5M317.1 1473.4L267.7 1358.2L135 1325.6M113 1536.6L128 1419.7L151.2 1319.2M287 1509.6L284.2 1496.4M129 1300.2L223.9 1445M121.3 1323.3L147 1527.4M307.8 1503.4L206 1354.1M215.4 1456L250.8 1481.8L286 1496.1M234.6 1388.7L215.7 1438.6M282.1 1487.4L181.8 1475.1L217.6 1407.8M346.1 1440.5L219.6 1425.1M303.9 1486.9L162.5 1343.7M184.5 1334.5L314.5 1493.5M301.7 1494L289.9 1507.7M191.4 1488.7L478.4 1461.9M162.6 1351.2L256.1 1438.2L281.6 1491M322.7 1509.1L300 1474.3L246.1 1398.3M347.8 1598.5L351.8 1499.7L345.1 1441.6M269.9 1463.5L218.2 1540.5L124.3 1521.9M310.2 1469.7L228.8 1387L134.6 1325.7M370.7 1630.2L266.1 1547.6L128.3 1523.1M392.1 1489.5L261.1 1441.5M458 1461.7L240.5 1469L119.6 1503.8M245.2 1450.1L216.4 1407.3M457 1485.4L501.2 1492.2L485 1465.6M311.4 1507.1L135.4 1324.7M383 1455.5L399.8 1482.7M316.1 1439.3L295.1 1447.4L298.7 1495.9M138.5 1541.8L415.4 1468.7M285.3 1498.7L117.2 1502.8M128.9 1294.2L291.8 1497.8M296.1 1508L243 1503L122.2 1508.5M269.8 1463.5L416.2 1281.5M124.1 1508.7L401.1 1450.8M317.7 1452.9L295.3 1619.8M220.4 1425L322.9 1548.6L360.4 1648.1M156 1348.4L238.7 1419.3L257.2 1438.8M304.3 1483.9L301.1 1477.6M295.7 1508.1L187 1502.4L153.1 1526.2M427.4 1289.6L262.8 1293.9L164.1 1332.3M193.5 1488.2L192.8 1488.4M426.2 1289.6L132.9 1293.9M348.3 1442.6L312.2 1436.2M320 1495.4L336.4 1491.8L423 1486.9M185.5 1335.3L290.6 1314.5L416.1 1280.7M470.7 1251.7L477 1360.9L461.2 1487.8M300.1 1477.7L164.8 1331.8M157.4 1523.1L126.5 1312.1M384 1616.3L179.4 1403.7M292.1 1488.4L288.4 1429.4L243.6 1398.6M315.5 1483.9L225.3 1403.1L125.9 1308.6M286.8 1494L162.7 1333.8M138.3 1520.6L213.6 1527.5L299.5 1494.8M400.7 1452.3L270 1462.9M161.9 1332.2L190 1330.8L182 1332.8M118.5 1427L118.1 1423.6M314 1495.1L316.2 1494.5L295.5 1509.3M219.4 1424.2L299.7 1472M269.9 1463.2L317.5 1472.3M151.3 1317L222.6 1422.6L376.2 1478.1M290.8 1444.6L294.6 1470.6L292.1 1507.8M316.7 1453.3L358.3 1433.6L399.5 1454.1M396.4 1457.9L333.8 1443.1L317.4 1484M316.9 1481.3L300.1 1521.6L223.7 1488.5M154.3 1530.6L166.2 1330.6M136 1324.5L259.7 1442M215.4 1499.6L285.4 1490.6L317.5 1453.2M350.9 1590.6L304.3 1503L301.1 1495.7M393 1489.4L145.9 1540.5M312.4 1496.1L340.3 1442.5L345.3 1443.5M391.9 1488.6L380.8 1417.6L312.5 1440.5M223.6 1446L299 1423M316.8 1454.2L404.6 1357.2L441 1264.4M274.7 1427.5L311 1493.6M165.9 1331.4L168.5 1366.3L193.5 1490M303.3 1482.5L119.5 1425.4M299.6 1511L288.2 1520.3L290.4 1511.4M157.5 1525.5L242.1 1412.5L336.2 1359.6M215.4 1433.3L220.8 1492.1L285.2 1498.9M302.6 1483.5L328.4 1516.4L318.7 1508M370.4 1606.5L219.1 1408.4M331.2 1492.8L380.9 1617.1M204.3 1354.7L325 1494.5M285.7 1495.4L137 1328.6M136.7 1516.5L348.2 1256.1M216.2 1406.9L311.7 1612.2M327 1642L439.9 1278.1M283.6 1495.2L206.6 1356.5M471 1478.6L435.5 1262.6M287.4 1510.7L349.7 1382.1L452.7 1271M305.7 1487L437.2 1463.4M239.6 1386.6L320.4 1497.5L354.9 1635.9M346 1441.4L347.3 1478.9L315.1 1494.3M306 1505.6L306.7 1463.2L290.6 1442.5M183.7 1332L146.6 1527.8M328.8 1490.8L287.2 1497.7M316.7 1455.4L121.2 1322M317.6 1511.3L379.5 1532.8L388.3 1615.7M133.1 1323L283.8 1487.8M141.8 1292.9L364.8 1359.6L483.4 1461.2M309.3 1506.3L290.5 1495.2L344.7 1439.5M163.2 1510.1L268.9 1447.1L392.9 1456.9M462.8 1246.9L301 1498.5M221.3 1422.8L198.8 1496.9L213.3 1437.6M304.6 1646L222.4 1615.8L161.9 1514.1M288.5 1495.5L246.2 1451.2M300.3 1493.2L232.5 1456.3L240.5 1398.4M382.2 1457.1L292.7 1359.1L240.3 1390.9M345.6 1633.6L352.5 1571.6L299.6 1420M343 1223.5L322.9 1352.7L287 1441.6M242.3 1391.3L185.9 1367.1L151.9 1320.4M138.2 1519.4L162.9 1555L157.1 1531M244.7 1451.5L135.7 1288.6M424.6 1483.9L351.2 1467.1L317.2 1453.4M217.2 1410.6L260.2 1537.2L365.7 1624.6M122.2 1509.1L199.7 1454.8L466.7 1448.3M182.2 1333.5L216.4 1408.5M149.9 1537.3L303.5 1485.1M217.1 1433.8L145.1 1457.7L146.2 1525.3M395.4 1455.5L339.9 1500.1L321.5 1493.9M194 1489.4L301.6 1479.8L395.5 1457.9M448 1459.4L344.6 1459.7L242.7 1420.8M292.9 1498.1L135.2 1324.9M324.9 1633.6L289.6 1485.4M281.9 1487.1L216.2 1455.8M330.5 1491.2L218 1500.4M241.6 1396.9L196.4 1384.9L135.1 1326.6M290.6 1486.9L118.2 1502.4M324.1 1644L145.9 1515.4M243.5 1398.5L344.9 1442.3M230.6 1487.7L257 1515.8L216.2 1497.5M205.4 1354L159.7 1348.8M402.3 1463.6L273 1415.6L204.7 1356.6M290.9 1444.7L296.5 1503L306.5 1506.3M448 1494.9L301.1 1464.3L228.4 1375.1M345.3 1441.9L313 1438.2M219.8 1436L119.1 1541.1M176.1 1403.1L294.6 1499.4M301.6 1484.8L327.8 1491.7L397.2 1456.5M403.7 1465.3L438.8 1462.3M296.5 1622.6L268.1 1536.1L346.5 1442.9M322.6 1652.6L238.1 1510.4L214 1405.8M303.8 1485.5L300.7 1503.2L231.9 1484.8M269 1427.9L290.4 1556.2L325.7 1632.9M246.2 1396.6L243.3 1451.2L292.8 1509.9M291.1 1514.8L247.3 1508.5L258.5 1439.5M294.7 1495.1L133.8 1296.8M423.8 1492.7L319.8 1477.8M217.8 1405.7L267.5 1540.3L304.5 1614.8M382 1619.3L385.5 1617.7M151.5 1527.2L299.3 1509.9M289.5 1487.1L391.4 1488.2M215.1 1437.2L193.5 1453.8L138.6 1517.8M312.5 1438L330.5 1492.1M330.7 1489.6L146.1 1514.1M218.9 1424.5L455.4 1455.7M234.5 1385.3L301.2 1469.5L310.1 1504.8M120.5 1279.4L375.2 1481.7M121 1427.7L293.6 1500.7M261.9 1448.4L342 1463.7L301.4 1496.2M223.1 1374.6L272.2 1449L328.5 1496.4M165.5 1332L294.6 1620.1M303.1 1493L309.7 1527L309.2 1505.3M139.6 1537.1L244.8 1399.6M121.7 1279.2L235.3 1245.7L427.8 1286.9M225.2 1486.8L200.4 1524L302.2 1482.7M215.4 1454.1L187.1 1428.5L241.3 1388.8M133.4 1324.3L320.5 1276.8L347.3 1254.8M127.6 1524.8L205.7 1541.2L287.3 1495M288.7 1486.3L322.7 1652.4M309.1 1502.8L239.4 1552.5L160 1524.8M463.8 1452.6L422.1 1486.1M231.7 1487.9L241.7 1522.3L151.1 1545.5M151.3 1319.7L205.9 1402.6L216.8 1455M290.6 1445.4L303.7 1548.1L370.3 1601.9M137.9 1311.3L399.9 1450.6M271.4 1461.8L265.5 1497.9L286.5 1447.4M438.8 1464.9L349.3 1391.6L245.7 1396.7M212.8 1438.5L297 1424.8M314.1 1441.4L270.2 1430.3M151.8 1508.1L309.3 1506M382.7 1453.4L239.8 1404.3L205.9 1355.1M281.3 1486.8L308.9 1461.2L303.8 1486.4M320 1495.4L404.1 1463.7M213.8 1408.4L236.3 1420.7L298.4 1483.6M383.2 1615.2L135 1325M244.5 1422.9L214 1379L247.5 1420M214.3 1406.6L296.7 1504L438 1466.7M137.9 1306.5L334.2 1341.3L424.5 1487.2M476.1 1449.2L290.8 1512.5M157.6 1526.3L268.2 1419.5L439.4 1279.9M194 1487.9L126.6 1528.1L146.4 1526.3M244.2 1420.5L227.2 1371.4M177 1405.5L394.2 1457M312.1 1496.2L285.5 1496M217.3 1455.5L316.2 1510.7M184 1334L244.4 1421.2M450.8 1457.8L157.4 1350M127.7 1522.3L217.6 1528.6L311.6 1471.1M148 1540L290 1488.8M121.1 1508.7L337.7 1221.9M301.4 1477L143.5 1544.7M290.4 1511.3L275 1485.7L301 1422.9M117.5 1427L282 1488.1M216.4 1498.7L209.8 1493.5L221 1426.4M293.7 1496.6L135.4 1325.4M311.4 1491.9L258 1433.6L235.5 1389.3M214.7 1407.3L119 1535.8M288.6 1508.6L452.6 1497.8M322.7 1630.5L284 1496.7M301.3 1499.4L258.6 1501.6L296.2 1508.9M318.2 1476.3L264.8 1604.9L325.1 1632.8M246.4 1398.2L221.2 1480L193.4 1487.9M484.6 1470.6L443.3 1378.4L349.9 1256.4M423.7 1483.4L330.4 1509.4L269.5 1462.2M290.7 1487.3L105.6 1312.8M464.4 1449.3L134.5 1324.5M421.4 1470.3L293.2 1497.4M258.1 1443.5L324.4 1497.8M157.6 1347.6L180.2 1246.9L215.1 1223.3M282.8 1489.7L338.4 1446.3L355.7 1462M316.7 1480.8L333.4 1418.7L374.3 1397.2M279.5 1489L329.1 1547.1L311.7 1574M309.5 1505.8L337.6 1620.7L249.7 1648.8M222.1 1447.1L249.4 1454.3L279.6 1464.8M243.5 1422.3L260.7 1360L270.2 1330.2M220 1408.1L220.6 1371.6L188 1334.1M245 1396.8L154.1 1489.3L92.8 1503.4M300.6 1480.7L255 1575.7L265.2 1587.7M293.2 1497.5L319 1523.1L291.3 1555.7M299.3 1508L257.1 1582L236.4 1608.7M165.1 1331.9L211 1404.3L227.1 1428.1M213.5 1407.3L122.8 1410.5L111.9 1467.7M289.7 1485.2L363.6 1435.4L364.2 1387.1M165.3 1332L239.7 1278.8L290 1141.3M311.1 1507.6L348.8 1557.6L375.8 1529.2M183.7 1333.3L280.5 1452.5L348.2 1456M193 1488.3L155.2 1495.9L88.4 1404.3M326.7 1491.1L461.8 1533.5L503.7 1554.3M183.9 1333.5L208.7 1370.5L227.4 1381.8M243.8 1398.5L294.8 1480L354.2 1508.8M298.6 1508.5L335.8 1358.9L363.6 1305.9M290.9 1489.6L260.3 1549.2L272.5 1574.9M291.4 1487.2L342.1 1362.5L397.6 1349.6M328.2 1492.8L429.6 1462.2L468.3 1407M313.4 1476.2L277.3 1355.7L174.4 1352.2M310.5 1504.5L295 1475.2L269.7 1449.4M294.6 1405.5L381 1337.6L419.1 1303.5M300.3 1509.1L327.5 1350.6L253.2 1338.8M244.2 1399.7L251.4 1419L152.5 1472.7M216.9 1453.5L272.6 1345.8L346.4 1371.8M238.9 1388.5L278.1 1337.2L331 1251.9M289.5 1486.9L304.5 1502.5L353.5 1476.3M321.9 1473.6L170.2 1410.4L95.3 1425.1M345.2 1441.8L362.7 1452.5L369.8 1469.7M312.9 1492.6L292.7 1530.7L276.9 1572.8M320.5 1465.9L274.4 1457.3L269.6 1435.9M165 1331.3L100 1326L127.8 1275.9M158.4 1351.1L101.9 1407.6L70.1 1418.5M223 1425.4L306.6 1439.9L313.6 1368.1M312.5 1440L255.3 1482.7L152.4 1545.2M320.8 1474L345 1467.4L384.6 1480.8M314.3 1484.6L205.2 1506.6L190.3 1538.2M217.2 1497.8L248.4 1503L294.2 1504.9M297.5 1422.7L293.6 1464.5L312.8 1458.6M266 1429.3L307 1559L326.6 1559.1M316.8 1484.3L291 1600.2L289.1 1636.8M237.2 1390.9L350.8 1429.9L440.9 1535.9M311.6 1497.4L411.2 1541.2L449.3 1516.6M241.5 1388.6L246.3 1420.1L273.5 1452.9M243.8 1398.7L314.8 1403.5L299.7 1358.1M222.2 1424L239.7 1447L228.3 1457.4M213 1407.5L237.8 1499.2L284.9 1536.1M242.7 1401L211 1458.2L155.4 1419.4M184.1 1332.1L270.1 1387.5L295.2 1369.7M298.9 1482.5L335.4 1480.2L364.4 1446.1M322.9 1492.7L369 1506.2L418.3 1567.6M291.6 1402.2L333.1 1324.4L307.2 1302.1M318.8 1508L413.9 1516.6L429.5 1495.5M329.5 1492.2L384.7 1350.1L386.5 1237.8M190.3 1491.7L44.8 1492.6L44.7 1520.5M287 1495.8L231.9 1386L185.2 1299.4M262.9 1427.9L279.7 1416.8L400 1460.1M308.8 1506.4L346.5 1523.4L319.6 1605M288.7 1485.3L183 1510.2L160.7 1517.1M238.5 1386.4L162.5 1303.3L190.9 1281.3M160.9 1348L133.5 1202L87.5 1201.7M244.5 1398.9L318.6 1392.1L283.8 1514.2M289 1512.3L435.2 1591L427.4 1632.6M184 1333.5L256.8 1319.5L237.3 1457.6M120.9 1425.8L-45.8 1421.1L-106.4 1474.2M304.7 1483L321.4 1381.6L347.1 1371.2M312.3 1502.7L263.3 1448.5L243 1486.7M305 1484.6L364.2 1490.3L341.3 1548.9M345.3 1443.8L378.2 1486.2L330.2 1549.1M241 1399.5L194.5 1399.1L149.6 1307M306.5 1485.8L310.6 1409.8L364.3 1434.1M342.6 1442.4L405.1 1347.8L429.6 1292.6M213.2 1438.7L200.7 1474.8L259.9 1498M244.4 1400.2L174.7 1369.4L183.6 1284.3M298.8 1423L385.3 1289.9L418 1276.6M217.1 1454.3L117 1459L106.4 1459.3M224.7 1442.1L207.5 1412L192.8 1392.7M329.2 1492.7L380.7 1574.7L399.2 1621M229.2 1485.7L224.8 1459.4L248.2 1357.9M317.1 1453.4L323.8 1488.6L392.2 1448.3M309.7 1494L482.5 1513.6L557.7 1425.7M164.7 1331.6L176.3 1349.1L187 1344.4M299.8 1406.4L232.2 1472.1L220.7 1446.5M309.7 1439.9L366.8 1320.4L392.1 1343.2M300.2 1478.6L354.7 1554.5L240.3 1623.2M165.6 1331.6L220.1 1393.2L252.9 1382.8M177.1 1405.1L104.5 1385.2L46.2 1382.7M161.6 1331.1L177.5 1369.2L220.9 1404.2M260.7 1443.4L254.5 1535.5L218.8 1575.6M298.5 1423.9L383.6 1405.7L353.6 1289M321.8 1493L280.9 1472.3L215.2 1480.8M184.2 1333.6L201.6 1352.9L65.7 1409.2M310.9 1442.2L274 1376.9L264 1367.4M319 1508.8L252.2 1479.8L243.7 1473.3M161.4 1349.1L145.3 1380.2L173.3 1386.8M236.9 1388.8L245.8 1357L369 1400.7M243.9 1395.6L219.7 1368.1L212.3 1348.1M300.3 1477.4L335.9 1487L345.8 1440.7M299.9 1497.3L288.5 1587.1L107.5 1575.5M300.6 1493.1L288 1466.3L230.9 1462.7M224.3 1371.9L212.7 1282.4L183.3 1259.2M324.9 1472.1L198.1 1477.1L103.9 1601.2M315.3 1483.4L353.4 1408.1L300.4 1353.2M238.4 1387.3L265.5 1235.3L207 1213.3M213.8 1438.2L262 1411.1L267.4 1458.4M240 1388.7L265.2 1435.4L296.9 1497.3M204.8 1353.8L240.5 1322.4L284.1 1262.6M175.3 1404.8L54.6 1449.3L23.2 1440.9M289 1486.3L250.6 1454.6L204.2 1528M220.7 1445.2L254.7 1550.3L249.1 1565.9M246.7 1399.3L297.1 1362.3L282.1 1288.4M302.2 1495.9L305.4 1434L270 1362.9M161.2 1348.9L238.5 1335.9L248.8 1319.7M184 1335.4L239.9 1324.4L252.1 1291.6M231.9 1485.9L208 1488.3L113.7 1442.5M312.4 1494.1L407.5 1551.5L459.3 1484.5M329.4 1489.3L356.4 1440.1L392.9 1387.2M221.4 1423.6L266.1 1429L344.1 1347.9M330.4 1490.4L293.3 1522.5L275.9 1549.1M225.4 1372.4L270.5 1405.6L260.2 1441.2M220.5 1424.3L187.9 1487.6L175.4 1496.5M236.6 1388.2L270.7 1347.3L287.9 1329.3M214.8 1457.5L90.3 1364.5L47.1 1338.4M205.7 1357.9L281.8 1348.2L301.7 1379M162.4 1350.3L203.3 1374.2L294.6 1388.3M316.2 1471.8L266.3 1358.8L236 1371.3M164 1354.1L187.7 1396.5L170.4 1413M285.9 1496.7L171.9 1512.8L87.3 1500.7M315.6 1483.1L377 1417.9L419 1393.9M238.3 1389.8L209.5 1349.7L267.9 1296.5M302.4 1485.8L273.2 1491L252.1 1450.8M224.6 1371.8L268 1410L278.9 1433.4M205.9 1355.4L216.9 1391L269.5 1441.5M178.3 1406.8L286.5 1414.7L335.8 1413.5M165 1331.6L117.7 1315.1L66.6 1300.7M162.4 1350.4L85 1352.1L29.2 1362.7M167.6 1331.4L176.8 1288.1L305.3 1205.1M320.1 1508.7L272.7 1515.7L205 1496.7M265.2 1423.6L255.7 1509.1L276.7 1539.3M288.5 1510.6L341.1 1416.7L361 1370.1M158.1 1350.9L193.1 1163.5L219.7 1077.1M182.1 1333.7L159.1 1233.2L228.1 1171M295.3 1481.1L351.4 1378.7L374.7 1339M320.5 1494L368.2 1454.5L403 1442M217.6 1453.3L233.4 1476.7L196 1512.6M306.1 1486L335.8 1467.3L383.4 1473.2M223.2 1487.3L219.8 1550.1L239.9 1549.6M238.5 1393L315.7 1464.9L326.9 1488.4M314.6 1482.4L291.3 1531.7L304.8 1534M300.6 1477.2L348.1 1333.2L328.2 1241.5M318.2 1496.4L290.7 1490.8L272.3 1543.9M165.7 1333.8L185.9 1295.3L209.6 1278.6M310.7 1497.4L419.6 1409.1L427.3 1377.6M312.7 1494.4L357.7 1516L351.9 1554.8M317.6 1468.8L348.3 1462.8L373 1401.3M240.9 1391.5L236.1 1411.2L220.3 1415M159.8 1347.6L153.8 1366.8L109.4 1414.6M247.6 1449.7L218.7 1479.2L109 1438.7M311.7 1508.3L341 1471.1L464.7 1402.8M205.7 1355.4L193.5 1330.1L180.1 1339.8M161.4 1348.1L130.7 1376.7L191.4 1413.1M316.6 1506.8L319.7 1468.3L348.2 1419.5M119.7 1426L84.7 1410L-14.5 1429.5M280.9 1487.6L238.8 1439.3L208.5 1429M301.3 1486.9L357.9 1400.6L418.8 1315.6M271.1 1463L316.1 1447.2L323.9 1469.2M314.9 1473.4L199 1478L199 1526.9M318.3 1482.7L366 1489.5L392 1534.2M300 1510.6L366.1 1524.4L379.8 1580.2M184.8 1335.5L136.2 1310.6L126.9 1189.9M214.7 1456.3L144.5 1424.8L116.4 1434.7M315.9 1482.8L400.5 1385L418.7 1353.7M243.9 1448.9L218.7 1433.6L202.5 1303.4M329.3 1492L377.6 1532.7L402.5 1536.3M163.8 1335.3L191.7 1346.9L204.3 1395.6M205.3 1353.3L253.4 1451.6L333.6 1458.6M231.6 1485.7L302.6 1427.4L260.1 1343.6M225 1373.1L111.1 1385.6L93.7 1386.5M225.4 1373.2L254.4 1408.8L260.4 1563.9M243.2 1397.5L275.2 1280.4L302.4 1277.1M288.2 1446.5L314.1 1377.7L359.4 1349.1M223.4 1442.5L256.9 1464.8L280.5 1348.4M321.2 1493.9L270.8 1489.3L209.4 1432.8M238.5 1392.4L186.3 1455.9L178.5 1496.9M163.8 1351.8L181.7 1377.9L206.5 1429.3M329.5 1492L312.3 1473.7L300.6 1495.2M245.1 1450L165.5 1434.4L167.7 1401.1M313.5 1436.7L488.2 1551.1L518.9 1540.4M315.9 1484.7L349.8 1608.2L294.1 1605.3M282.8 1488L249.5 1487.2L248 1526.9M223.6 1442.1L263.3 1447.7L270.6 1577.5M204.7 1356.4L321.5 1336.5L338.2 1372.6M291.2 1510.9L266.4 1503.2L262.5 1480.7M320.5 1505.4L348.1 1515.2L368.1 1529.6M238.9 1386.2L298.4 1285.1L475.8 1306.2M327.1 1496.1L379.5 1405.5L445.9 1398.3M287.7 1496.5L285.2 1471.2L334.6 1440.1M303.2 1485L263.1 1585.1L259.3 1615.5M165.7 1331.6L134.3 1456.8L103.6 1438.9M312.5 1508.1L303.5 1470.8L382.4 1389.8M289.7 1487.4L289.2 1467.4L312 1457M303.7 1479.6L338.1 1367.9L331.9 1346.2M309.8 1495.2L368.5 1620.1L328 1649.1M295.9 1406.4L341.8 1342.7L368.6 1357.3M282.5 1487.9L310 1483.1L326.4 1493.8M155.9 1349.2L190.8 1367.4L187.9 1393.9M269.3 1431.2L314 1395.8L338.8 1344M165 1331.2L140.8 1351.3L195.9 1398.2M183.9 1332.3L140.2 1321.9L134.5 1298.4M300.8 1496.2L402.6 1576.7L407.9 1586.7M298.9 1483.1L281 1436.8L241.3 1454M297.7 1505.9L191.6 1467.4L110.2 1473.9M311.7 1493.8L223.7 1444.8L197.4 1470.8M226.2 1372.4L324.9 1348L331.3 1322.9M183.6 1333L112.8 1253.8L86.6 1260.7M242.4 1400.6L221.4 1279.8L243.8 1271.4M320.3 1511.1L250.1 1493.4L249 1503.5M303 1477.8L230.4 1493.2L207.8 1465M220.5 1426.6L230.3 1397.5L300.7 1388.6M293.3 1498L153 1385.9L134.2 1405.8M217.8 1498.5L183 1584.1L245.1 1592.9M303.4 1497.6L241.1 1516.5L181.7 1529.5M309.2 1508.7L299.8 1489.8L232 1501.2M318.1 1472.8L352 1464L411.5 1453.4M291.1 1488L305.6 1537.7L223.2 1691.4M288 1510.6L320.5 1484.4L384.7 1466.8M242 1396.8L259.3 1419.6L271.4 1418.7M315.4 1509.6L296.9 1414.2L260 1393.6M309.3 1439L282.4 1459.4L242.3 1444.1M257.7 1438.5L363.4 1410.3L380.2 1381.5M290 1407.1L224.2 1476.6L173 1477M293.3 1496.7L321.2 1541.7L337.3 1605.5M206.8 1355.7L160.7 1322.7L151.5 1313.2M281.5 1487.5L120 1500.9L46.4 1449.7M118.3 1426.5L32.3 1468.2L18.7 1452.2M221.6 1373.5L210.6 1397.1L146.7 1387.1M313.3 1496.4L334.2 1432.9L387.4 1477.5M226.5 1487.4L322.3 1363.2L252.5 1320.9M189.9 1488L221 1491.9L268.7 1521.5M272.5 1433.7L310.3 1395.6L292.2 1377.2M309.5 1441.5L341.2 1394.6L396.8 1412.7M309.2 1506.4L369 1567.4L371 1578.2M163 1334.2L212.1 1405.1L271.9 1423.3M299.3 1421.7L229.9 1408.2L205.1 1382.1M166.1 1331.2L149 1392.8L97.9 1424.9M238.3 1387.9L169.3 1394.3L54.3 1283M301.3 1487L207.1 1433.6L181.6 1389.5M297.1 1475.1L341.3 1527.1L292.1 1549.2M308.7 1505.4L328.2 1519.8L403.4 1567.5M242.9 1389L232.2 1444.5L275.3 1565.4M309.9 1505.4L267.5 1540.1L276.6 1593.2M345.4 1441.9L242 1496.5L183.6 1487M302.6 1472.8L334 1493.1L308.2 1548.4M292.1 1511.8L274.2 1441.5L214.3 1452.4M216 1455.3L177.9 1531.8L219.7 1561.6M243.7 1399L92.4 1257.8L74.1 1180.6M285.4 1495.9L246.7 1423.7L284.2 1288.3M220.7 1424.4L219.7 1401.2L167.9 1367.8M319.3 1508.5L263.3 1562L225.4 1533.1M285.6 1496L379.9 1494.2L428.1 1520.9M280.8 1490.2L329.5 1559.5L243.4 1576.9M310.8 1474.1L267.7 1373L196.4 1265.1M319.7 1496.4L260.3 1484.4L263.7 1462M238.1 1388.4L259.9 1424.1L222.9 1450.9M329.6 1490.9L442.2 1404.4L379.9 1370.9M301.3 1493.7L288 1533.4L277.2 1539.3M161.6 1352.7L47.8 1447.8L37.8 1444.4M164.5 1332.6L135.5 1315.3L123.7 1353.7M267.6 1424L241.5 1398.3L172.4 1406.9M283.6 1496L332.4 1479.6L296.8 1397.5M192.5 1487.4L241.2 1474.9L296.4 1475.2M163.8 1334.7L147 1350.5L133.7 1357M312.6 1495.3L327 1519.7L387.1 1553.1M315.5 1483.6L233.4 1474.6L181.4 1413.7M320.9 1508.5L324.3 1598.3L368.9 1609.8M319.1 1495.2L335.4 1476.7L356.9 1403.9M292.4 1496L261.7 1488.4L190.3 1470.1M292.4 1498.5L319.4 1435.8L366.9 1345M311.1 1508.5L262.8 1493.2L254.8 1535.7M205.2 1355.5L220 1323.4L195.3 1267.8M224.8 1487.3L180.5 1537.7L170.4 1538.4M204.2 1357L216.1 1331.6L238.7 1347.6M205.4 1353.3L197.5 1326.3L186.7 1320.7M290.1 1487.1L173.5 1510.8L217.5 1592.4M224.1 1442.7L301.3 1455.5L320.8 1441.2M164.4 1332.3L159.7 1362.7L108 1382.1M289.9 1485.4L298.8 1424.5L242.8 1368.3M157 1346L143.3 1378.8L75.9 1367.4M311.7 1494.7L286.5 1474.7L220.3 1519M304.9 1483.9L320.2 1397.6L336 1372.6M165.2 1348.5L164.1 1393.8L130.1 1409.6M310.5 1475.8L276.8 1453L203.2 1434.9M245.3 1397.6L262.3 1410.1L328.8 1400.7M244.5 1397.7L211.1 1510.5L198.8 1531.9M316.8 1453.7L319.3 1524L215.1 1566.8M284.6 1495.8L352.1 1415.9L352.6 1404.8M316.3 1484.1L396.2 1433.8L499.3 1444.6M239.5 1387.1L319.2 1327.2L352.9 1321.8M300.4 1510.1L341.8 1526.4L358 1539.9M283 1486.2L309 1490.5L355.4 1541.6M331.5 1492.4L177.1 1515.3L84.8 1607.6M224.9 1372.7L200.2 1386.4L183.4 1398.4M304.8 1475.3L278.7 1509L232.5 1549.2M225.3 1487.5L191.6 1551.4L197.2 1605.3M242.8 1398.2L225.4 1320.3L204.7 1314.8M300.9 1506.2L329.6 1507.6L363.4 1519.6M290.4 1487L349.1 1515L345.1 1530M289.9 1510.2L224.6 1472.5L200.5 1466.6M291.6 1487.4L308.5 1387.6L298.5 1387.1M310.6 1495.8L322.5 1514.8L417.8 1486.8M289.7 1486.7L335.8 1636.7L376.7 1602.7M305.1 1479.2L324.5 1486.8L333.4 1440.2M302.2 1484.1L210.4 1396.6L206.6 1379M182.1 1334.6L193.3 1246.6L225.8 1195.3M311.6 1494.8L356.5 1494.9L385.7 1516.9M283.4 1495.5L294.6 1572.3L332.2 1554.8M163.5 1332.5L197.8 1344.2L211.8 1358.5M319.1 1471.6L349.2 1465.9L383.3 1465.1M314.4 1474.8L321.8 1502L355 1596M303.6 1485.5L316.2 1452.3L291.6 1373.9M225.6 1372L315.6 1289.6L361.2 1269.3M302.6 1498.4L246.7 1482.5L264.1 1459.8M162.7 1352.9L158.5 1395.2L109.4 1423.2M215 1498.6L225.3 1517L284.6 1566.6M293.6 1494.6L181.9 1495.4L154.6 1440.9M161.9 1343.9L172.3 1292.5L151.2 1220.3M245.3 1398.5L229.7 1339.6L192 1277.7M318.5 1474.5L409.1 1314.3L452.3 1295.7M300.1 1507.3L300.8 1541.7L249.3 1555M161.4 1333.2L214.5 1314.4L182.1 1269.5M218.2 1500L299.2 1449.4L270.1 1395.2M307 1505.1L352.2 1479.3L364.7 1516.8M120.4 1425.1L35.6 1374.4L22.8 1376.9M318.5 1511L200.3 1491.1L106.4 1561.2M289.9 1497.7L380.3 1505.8L397.4 1487.7M302.2 1492.7L334.2 1370.1L370.4 1357.3M302.1 1496L319.4 1506.8L353.9 1441.8M206.2 1357.8L192.2 1442.5L222.2 1436.4M283.6 1487.4L302.3 1454.6L330.7 1472.9M179.5 1403.7L233 1365.9L214.3 1353.8M192.3 1491.1L179.5 1516L175.3 1525.5M225.2 1372.9L134.8 1331.1L111.8 1342.7M291.4 1495.2L262 1509.8L240.5 1523M294.5 1406.6L251.8 1450.1L240.5 1437.8M300 1472.5L267.4 1522.7L208 1481M290.3 1487.1L365.4 1486.6L368.1 1500.8M225.4 1370.9L398.7 1350.1L477.9 1277.2M319.5 1495L411.1 1511.1L467.1 1558.5M301.4 1495.4L262.1 1489.9L245.8 1451.9M285.5 1496.1L336.5 1392.7L315.7 1330.3M231.6 1486.3L302.3 1482.5L286.1 1370.4M237.5 1385.8L117.8 1462.2L89.6 1384.6M316.6 1495.8L339.3 1401.4L373.8 1328.8M311.7 1467.9L379 1503.4L412.6 1542.7M300.5 1509.7L395.8 1536.7L409 1560.6M293.8 1407.2L229.2 1484.8L135.2 1451.5M246.4 1424.5L285.8 1449.7L314 1486.9M268.6 1427.2L251.1 1518.6L253.3 1538.7M317.3 1507.6L220.8 1605.8L179.9 1619.7M310.1 1504.8L377 1476.8L299.3 1401M174.7 1406.3L187.7 1530.3L119.9 1562.2M220.4 1436.6L184.7 1322.6L169.6 1308.7M316.4 1484.1L283 1451.1L168.2 1431.9M283.5 1486.4L309.6 1450.6L282.7 1443.1M318.2 1507.3L389.2 1461.7L400.8 1505.5M281.9 1488.1L132.2 1375.2L115.1 1399M293.1 1498.5L284.3 1588.6L306.3 1590M204.9 1354.4L162.7 1394.6L109.5 1333.4M281.6 1489.3L257.2 1406L270.5 1397.5M182.2 1332.5L195.7 1390.8L161.7 1386.9M309.6 1505.9L327.3 1537L337.1 1558.9M299.1 1510.6L263.5 1414.1L203.5 1370.6M215 1432.3L315.9 1327.6L342 1372.2M120.1 1429L98.7 1407.3L50.8 1337.3M298.2 1510.2L261.5 1433.9L244.3 1441.7M310.9 1507L268.8 1458.3L319.6 1397.3M299.9 1477.5L255 1485.8L241.6 1527.8M184.8 1334.6L238.8 1261L272.6 1292M183.5 1333.8L120.6 1377.7L170.4 1422.1M319.3 1475L366 1425L359.9 1386.9M294.9 1496.3L257.3 1603.4L188 1564.3M303.9 1486.9L370.5 1610.5L384.7 1618M312.2 1496L300 1287.8L383 1276M331.3 1496.7L414.1 1513.7L407.5 1537M205.6 1355.6L168 1306L205 1212.5M288.2 1495.7L254.6 1441.6L177.4 1472.8M319.4 1454.1L298.8 1461.4L281 1423.2M283.8 1488.9L142.4 1369.7L119.7 1365.6M184 1333.7L138 1388.2L174.4 1402.8M157.8 1353.2L125.5 1304.6L113.1 1252.5M282.4 1491.8L292.3 1614.1L322.2 1619.5M242.1 1398.9L249.2 1506.1L211.8 1511.2M167.5 1334.2L250.4 1310.7L304.6 1173.3M329.7 1495.2L394.2 1510.8L422.4 1484M315.7 1485.8L281.3 1476.9L223.1 1422.1M281.5 1485.6L262.4 1543.9L235.7 1543.8M293.1 1498.6L238.6 1492.7L239.5 1465.6M317 1481.4L385.6 1427.3L365.9 1405.2M301 1497.4L261.9 1540.8L249.5 1521.7M320.2 1476.6L385.5 1466.1L438.4 1502.2M288.7 1449.5L312.2 1505.7L324.4 1506.5M311.5 1438.8L314.5 1416.6L384.5 1418.5M294.3 1495.4L273.6 1559.1L222.9 1521.8M300.3 1477.7L265.8 1493.6L239.2 1491.4M160.7 1349.5L57.7 1305.5L-77.5 1208.3M287.5 1495.7L319.9 1511.8L314.7 1531.1M308.1 1508.1L283.5 1565.2L327.3 1584.2M185.6 1332.8L265 1371.7L288 1399.3M319.7 1495.5L296.9 1459.5L256 1456.9M344.9 1442.6L370.3 1432.4L495 1564.2M292.2 1511.9L307.7 1489L341.8 1481.8M160.5 1348.6L233.8 1401.2L257.9 1415.4M164.3 1333L219.2 1275.5L232.7 1255.8"/>
<path stroke-opacity=".14" d="M346.4 1252.7L312.9 1578.7M124.7 1323.4L181 1541.2M344.5 1361.4L284.4 1554.9M371.4 1622.7L91.1 1422.2M347.3 1220.8L524.4 1302.6M344.7 1360.2L625.3 1457M272.2 1426.2L493.2 1500.5M302 1482.4L132.5 1581.8M352 1638.5L236.5 1393.4M320.2 1494L204.1 1697.4M306.7 1613.4L183 1693.7M378.3 1607.2L68.7 1527.3M121.7 1508.9L201.4 1776.5M222.6 1444L65.8 1393M347.8 1620.3L382.1 1494.1M351.3 1256.1L531.2 1523.9M243.6 1398.6L116.8 1260.9M222.3 1424.2L34.7 1207.8M147.1 1513.9L-56.9 1803.4M119 1503.2L142.7 1679.3M335.8 1358.3L291.4 1164.6M415.3 1279.4L355.6 977M118 1502.7L240.9 1561.7M118.1 1538.9L434.4 1578.9M349.7 1622.9L122.4 1582.9M414 1444.5L346.1 1632.6M316.3 1438.6L571.2 1388.5M159.5 1510.6L54.3 1761.5M344.1 1226.1L673.5 1218.9M424.3 1486.2L633.1 1364.8M305.6 1617.2L-11.6 1489.1M118.3 1542.8L88.1 1729M400.4 1453.2L505.9 1332.5M122.5 1537L5.3 1375.9M414.4 1279.5L225.6 1310.7M376.1 1611.3L272.8 1900.3M363.4 1331.2L244.5 1090.7M140.3 1545.1L305.7 1402M162.4 1343.4L334.6 1449.3M144.6 1540.3L-219 1479.2M343.8 1441.2L105.9 1530.4M347.6 1256.5L167.2 1375.3M345.6 1228.8L524.4 1207.6M284.9 1488.5L268 1807.8M127 1288.1L-211.3 1373.9M344.2 1361.9L199 1671.7M335.6 1357.5L522.5 1179.2M165 1331.6L40.4 1428.7M367.7 1624.5L110 1516M154.1 1508.1L33.2 1818.2M372 1335.6L344.7 1453.5M295 1621.3L413.1 1714.9M165 1329L343 1643.4M345.3 1441.7L330.8 1155.7M305.2 1642.6L148.9 1680.1M289.7 1508.9L492.8 1693.8M459.1 1465.2L609.6 1174.8M335.9 1225.2L521.5 1358.4M298.8 1422.9L485.9 1368.4M135.1 1325.8L120.7 1497.2"/>
</g>
<g fill="#f2285a" fill-opacity=".8" stroke="#a01030" stroke-opacity=".8" stroke-width=".7">
<circle cx="121.6" cy="1279" r="3.1"/>
<circle cx="110.4" cy="1297.4" r="10.9"/>
<circle cx="132.4" cy="1293.8" r="12.6"/>
<circle cx="141.4" cy="1293.8" r="4.8"/>
<circle cx="105.8" cy="1312.4" r="8.9"/>
<circle cx="127.4" cy="1308.7" r="4.8"/>
<circle cx="137.7" cy="1310.7" r="6"/>
<circle cx="123.2" cy="1323.7" r="6.8"/>
<circle cx="134.6" cy="1325.7" r="5.3"/>
<circle cx="135" cy="1325" r="2.8"/>
<circle cx="151.5" cy="1319.6" r="3.4"/>
<circle cx="164.8" cy="1331.7" r="4.8"/>
<circle cx="183.9" cy="1333.6" r="2.9"/>
<circle cx="161.4" cy="1349.1" r="8"/>
<circle cx="205.7" cy="1355.6" r="3.1"/>
<circle cx="225.5" cy="1372.1" r="5.3"/>
<circle cx="238.5" cy="1388" r="6.5"/>
<circle cx="243.6" cy="1398.6" r="4.1"/>
<circle cx="216.3" cy="1407.3" r="4.8"/>
<circle cx="176.9" cy="1404.7" r="4.6"/>
<circle cx="118.4" cy="1426.7" r="4.1"/>
<circle cx="244.1" cy="1421.1" r="5.8"/>
<circle cx="220.6" cy="1424.7" r="3.4"/>
<circle cx="215.1" cy="1436.3" r="6.8"/>
<circle cx="269.5" cy="1427.9" r="8.5"/>
<circle cx="260.5" cy="1442.4" r="8"/>
<circle cx="222.3" cy="1444" r="4.8"/>
<circle cx="294.5" cy="1405.4" r="7.3"/>
<circle cx="298.8" cy="1422.8" r="3.9"/>
<circle cx="313.3" cy="1439.7" r="5.3"/>
<circle cx="345.2" cy="1441.7" r="4.4"/>
<circle cx="289.7" cy="1445.3" r="6"/>
<circle cx="245.6" cy="1450.1" r="4.5"/>
<circle cx="217.4" cy="1455.5" r="4.2"/>
<circle cx="317" cy="1453.4" r="3.3"/>
<circle cx="269.9" cy="1463" r="2.7"/>
<circle cx="224.9" cy="1487.9" r="2.7"/>
<circle cx="231.5" cy="1486.4" r="3.3"/>
<circle cx="216.5" cy="1499" r="3.3"/>
<circle cx="192.8" cy="1488.3" r="5.8"/>
<circle cx="470.9" cy="1252" r="14"/>
<circle cx="446.7" cy="1257.3" r="9.2"/>
<circle cx="437.1" cy="1265.2" r="9.7"/>
<circle cx="452.3" cy="1268.1" r="4.8"/>
<circle cx="438.8" cy="1281" r="4.8"/>
<circle cx="426.7" cy="1286.5" r="4.8"/>
<circle cx="415.3" cy="1280.7" r="3.6"/>
<circle cx="405.2" cy="1289.9" r="4.8"/>
<circle cx="367.5" cy="1333.6" r="7.3"/>
<circle cx="341.6" cy="1225.4" r="9.2"/>
<circle cx="348.1" cy="1254.9" r="5.6"/>
<circle cx="335.6" cy="1357.6" r="2.7"/>
<circle cx="344" cy="1360" r="3.6"/>
<circle cx="413.9" cy="1444.4" r="3.3"/>
<circle cx="383" cy="1455.5" r="3.3"/>
<circle cx="400.4" cy="1453.1" r="3.9"/>
<circle cx="395" cy="1457" r="3"/>
<circle cx="403.4" cy="1465.4" r="4.5"/>
<circle cx="376.1" cy="1478.9" r="5.1"/>
<circle cx="399.5" cy="1478.6" r="6.9"/>
<circle cx="391.4" cy="1488.5" r="2.7"/>
<circle cx="407.9" cy="1489.4" r="4.5"/>
<circle cx="421.4" cy="1470.5" r="8.4"/>
<circle cx="425" cy="1486.1" r="5.4"/>
<circle cx="422" cy="1493.6" r="2.7"/>
<circle cx="437.9" cy="1466.6" r="6"/>
<circle cx="455" cy="1462.4" r="12.6"/>
<circle cx="450.5" cy="1457.6" r="7.5"/>
<circle cx="464.9" cy="1449.5" r="4.2"/>
<circle cx="475.4" cy="1449.5" r="5.7"/>
<circle cx="484.4" cy="1464.5" r="11.4"/>
<circle cx="472.1" cy="1481.6" r="17.4"/>
<circle cx="448.4" cy="1489.4" r="18"/>
<circle cx="437" cy="1500.5" r="6.6"/>
<circle cx="118.7" cy="1502.8" r="2.9"/>
<circle cx="122.5" cy="1508.9" r="2.9"/>
<circle cx="157.1" cy="1511.3" r="8"/>
<circle cx="146" cy="1513.7" r="2.7"/>
<circle cx="137.7" cy="1519.7" r="6"/>
<circle cx="127.4" cy="1522.9" r="4.8"/>
<circle cx="157.6" cy="1526.3" r="7.7"/>
<circle cx="147.2" cy="1526.3" r="2.4"/>
<circle cx="120.1" cy="1536.7" r="10.9"/>
<circle cx="146" cy="1541" r="12.6"/>
<circle cx="317" cy="1473.5" r="11.4"/>
<circle cx="300.5" cy="1478" r="9"/>
<circle cx="282.5" cy="1487.9" r="5.1"/>
<circle cx="290" cy="1487" r="3.6"/>
<circle cx="303.5" cy="1485" r="3.9"/>
<circle cx="316.4" cy="1484" r="3.6"/>
<circle cx="329.6" cy="1492.4" r="6"/>
<circle cx="320" cy="1495.4" r="6.6"/>
<circle cx="311.6" cy="1494.5" r="3.9"/>
<circle cx="302" cy="1496" r="4.5"/>
<circle cx="293" cy="1497.5" r="4.5"/>
<circle cx="285.5" cy="1496" r="3.9"/>
<circle cx="290" cy="1511" r="5.4"/>
<circle cx="298.4" cy="1508" r="4.2"/>
<circle cx="309.5" cy="1505.6" r="5.1"/>
<circle cx="319.1" cy="1508.9" r="4.8"/>
<circle cx="347.6" cy="1598.6" r="12.6"/>
<circle cx="323.6" cy="1605.5" r="3.3"/>
<circle cx="306.8" cy="1613.6" r="6.9"/>
<circle cx="294.8" cy="1619.6" r="4.5"/>
<circle cx="368.9" cy="1608.5" r="12"/>
<circle cx="384.2" cy="1615.4" r="8.1"/>
<circle cx="349.1" cy="1622" r="14.4"/>
<circle cx="368" cy="1625.6" r="12"/>
<circle cx="325.4" cy="1632.5" r="13.5"/>
<circle cx="306.8" cy="1640" r="9.6"/>
<circle cx="341" cy="1637" r="10.5"/>
<circle cx="357.5" cy="1642.4" r="15"/>
<circle cx="325.4" cy="1646" r="9"/>
<circle cx="340.1" cy="1655" r="9.9"/>
</g>
<g fill="none" stroke="#4a4a4a" stroke-opacity=".85" stroke-width="4">
<ellipse cx="117.6" cy="1298.5" rx="45" ry="56" transform="rotate(40 117.6 1298.5)"/>
<ellipse cx="197.3" cy="1358.5" rx="62" ry="39" transform="rotate(38 197.3 1358.5)"/>
<ellipse cx="426.9" cy="1294.2" rx="98" ry="49" transform="rotate(-39 426.9 1294.2)"/>
<ellipse cx="442.7" cy="1475.3" rx="85.2" ry="53.2" transform="rotate(4 442.7 1475.3)"/>
<ellipse cx="147.5" cy="1514.4" rx="64.6" ry="58"/>
<ellipse cx="310.3" cy="1494.2" rx="50.9" ry="41.7"/>
<ellipse cx="345.4" cy="1622.3" rx="75.8" ry="53.7"/>
</g>
<rect x="6.9" y="1210.5" width="545.4" height="472.1" fill="none" stroke="#000" stroke-opacity=".3" filter="url(#shd)" transform="translate(1.6 1.6)" stroke-width="6.3"/>
<rect x="6.9" y="1210.5" width="545.4" height="472.1" fill="none" stroke="#000" stroke-width="6.3"/>
<text class="pl" style="font-size:47px" x="11.6" y="1244.2">e</text>
<g class="eb">
<text x="47" y="1260.6" text-anchor="middle">AP1</text>
<text x="45.4" y="1284" text-anchor="middle">MAF</text>
<text x="116" y="1377.2" text-anchor="middle">NFKB</text>
<text x="116.3" y="1401.2" text-anchor="middle">EGR1</text>
<text x="458" y="1335.4">STATs</text>
<text x="458.6" y="1359.1">PU1</text>
<text x="49" y="1520.4">E2F</text>
<text x="281.5" y="1535.2">SP1</text>
<text x="290" y="1558.6">GK</text>
<text x="438.6" y="1539.6">ARNT</text>
<text x="438.6" y="1563.1">HIF1A</text>
<text x="438.6" y="1586.8">MYC/MAX</text>
<text x="438.6" y="1610.2">USF</text>
<text x="270.4" y="1618.4" text-anchor="end">CREB</text>
<text x="270.4" y="1642" text-anchor="end">ATFs</text>
</g></g>
<g id="pf">
<rect x="693.4" y="1210.2" width="488.4" height="362.6" fill="#000"/>
<g transform="translate(693.4 1210.2) scale(4.7882 3.5549)" shape-rendering="crispEdges">
<path fill="#585898" d="M65 4h1v1h-1zM39 5h1v1h-1zM57 6h1v1h-1zM63 7h1v1h-1zM31 12h1v1h-1zM44 16h1v1h-1zM84 27h1v1h-1zM12 31h1v1h-1zM34 33h1v1h-1zM33 34h1v1h-1zM5 39h1v1h-1zM16 44h1v1h-1zM6 57h1v1h-1zM7 63h1v1h-1zM4 65h1v1h-1zM27 84h1v1h-1z"/>
<path fill="#585898" d="M23 1h1v1h-1zM81 4h1v1h-1zM83 4h1v1h-1zM87 4h1v1h-1zM51 12h1v1h-1zM84 19h1v1h-1zM36 20h1v1h-1zM1 23h1v1h-1zM20 36h1v1h-1zM12 51h1v1h-1zM84 59h1v1h-1zM83 65h1v1h-1zM4 81h1v1h-1zM4 83h1v1h-1zM65 83h1v1h-1zM19 84h1v1h-1zM59 84h1v1h-1zM4 87h1v1h-1z"/>
<path fill="#565695" d="M49 3h1v1h-1zM18 4h1v1h-1zM77 4h1v1h-1zM89 4h1v1h-1zM17 6h1v1h-1zM34 6h1v1h-1zM35 8h1v1h-1zM6 17h1v1h-1zM4 18h1v1h-1zM76 18h1v1h-1zM82 21h1v1h-1zM6 34h1v1h-1zM8 35h1v1h-1zM47 38h1v1h-1zM81 42h1v1h-1zM38 47h1v1h-1zM3 49h1v1h-1zM81 56h1v1h-1zM74 65h1v1h-1zM82 65h1v1h-1zM65 74h1v1h-1zM18 76h1v1h-1zM4 77h1v1h-1zM42 81h1v1h-1zM56 81h1v1h-1zM21 82h1v1h-1zM65 82h1v1h-1zM4 89h1v1h-1z"/>
<path fill="#4e4e87" d="M75 0h1v1h-1zM81 0h1v1h-1zM48 3h1v1h-1zM67 3h1v1h-1zM48 4h1v1h-1zM82 5h1v1h-1zM35 6h1v1h-1zM48 7h1v1h-1zM54 7h1v1h-1zM57 7h1v1h-1zM55 10h1v1h-1zM52 11h1v1h-1zM15 12h1v1h-1zM83 12h1v1h-1zM83 13h1v1h-1zM12 15h1v1h-1zM45 16h1v1h-1zM58 18h1v1h-1zM84 18h1v1h-1zM83 23h1v1h-1zM85 23h1v1h-1zM82 26h1v1h-1zM79 27h1v1h-1zM82 34h1v1h-1zM6 35h1v1h-1zM83 41h1v1h-1zM16 45h1v1h-1zM3 48h2v1h-2zM7 48h1v1h-1zM11 52h1v1h-1zM7 54h1v1h-1zM10 55h1v1h-1zM7 57h1v1h-1zM18 58h1v1h-1zM76 59h1v1h-1zM78 65h1v1h-1zM81 65h1v1h-1zM3 67h1v1h-1zM0 75h1v1h-1zM59 76h1v1h-1zM65 78h1v1h-1zM27 79h1v1h-1zM0 81h1v1h-1zM65 81h1v1h-1zM5 82h1v1h-1zM26 82h1v1h-1zM34 82h1v1h-1zM12 83h2v1h-2zM23 83h1v1h-1zM41 83h1v1h-1zM18 84h1v1h-1zM23 85h1v1h-1z"/>
<path fill="#46467a" d="M76 0h1v1h-1zM83 0h3v1h-3zM78 3h1v1h-1zM34 4h1v1h-1zM80 4h1v1h-1zM14 5h1v1h-1zM48 5h1v1h-1zM35 7h1v1h-1zM49 7h1v1h-1zM44 10h1v1h-1zM79 10h1v1h-1zM19 11h1v1h-1zM53 11h1v1h-1zM84 11h1v1h-1zM52 12h1v1h-1zM54 12h1v1h-1zM44 13h1v1h-1zM5 14h1v1h-1zM55 14h1v1h-1zM20 15h1v1h-1zM39 16h1v1h-1zM83 16h1v1h-1zM69 18h1v1h-1zM11 19h1v1h-1zM33 19h1v1h-1zM83 19h1v1h-1zM15 20h1v1h-1zM41 21h1v1h-1zM65 21h1v1h-1zM86 23h1v1h-1zM89 23h1v1h-1zM74 27h1v1h-1zM56 31h1v1h-1zM19 33h1v1h-1zM40 33h1v1h-1zM4 34h1v1h-1zM7 35h1v1h-1zM68 35h1v1h-1zM68 38h1v1h-1zM16 39h1v1h-1zM33 40h1v1h-1zM89 40h1v1h-1zM21 41h1v1h-1zM82 41h1v1h-1zM74 42h1v1h-1zM82 42h1v1h-1zM10 44h1v1h-1zM13 44h1v1h-1zM83 45h1v1h-1zM5 48h1v1h-1zM7 49h1v1h-1zM87 49h1v1h-1zM72 50h1v1h-1zM70 51h1v1h-1zM12 52h1v1h-1zM11 53h1v1h-1zM12 54h1v1h-1zM14 55h1v1h-1zM31 56h1v1h-1zM80 56h1v1h-1zM67 64h1v1h-1zM21 65h1v1h-1zM77 65h1v1h-1zM88 65h1v1h-1zM87 66h1v1h-1zM64 67h1v1h-1zM82 67h1v1h-1zM35 68h1v1h-1zM38 68h1v1h-1zM18 69h1v1h-1zM51 70h1v1h-1zM50 72h1v1h-1zM27 74h1v1h-1zM42 74h1v1h-1zM0 76h1v1h-1zM65 77h1v1h-1zM3 78h1v1h-1zM10 79h1v1h-1zM4 80h1v1h-1zM56 80h1v1h-1zM41 82h2v1h-2zM67 82h1v1h-1zM0 83h1v1h-1zM16 83h1v1h-1zM19 83h1v1h-1zM45 83h1v1h-1zM0 84h1v1h-1zM11 84h1v1h-1zM0 85h1v1h-1zM23 86h1v1h-1zM49 87h1v1h-1zM66 87h1v1h-1zM65 88h1v1h-1zM23 89h1v1h-1zM40 89h1v1h-1z"/>
<path fill="#3f3f6d" d="M35 1h1v1h-1zM62 2h1v1h-1zM55 3h1v1h-1zM60 3h1v1h-1zM74 3h1v1h-1zM75 4h1v1h-1zM78 4h2v1h-2zM60 5h1v1h-1zM80 5h1v1h-1zM18 6h1v1h-1zM40 8h1v1h-1zM20 9h1v1h-1zM71 9h1v1h-1zM63 10h1v1h-1zM26 11h1v1h-1zM55 12h1v1h-1zM89 12h1v1h-1zM71 16h1v1h-1zM68 17h1v1h-1zM6 18h1v1h-1zM33 18h1v1h-1zM42 18h1v1h-1zM71 18h1v1h-1zM82 18h1v1h-1zM85 18h1v1h-1zM87 18h1v1h-1zM9 20h1v1h-1zM30 20h1v1h-1zM33 20h1v1h-1zM80 20h1v1h-1zM84 20h1v1h-1zM87 20h1v1h-1zM79 22h1v1h-1zM66 23h1v1h-1zM87 23h2v1h-2zM91 23h1v1h-1zM79 25h1v1h-1zM11 26h1v1h-1zM78 26h1v1h-1zM74 28h1v1h-1zM78 28h1v1h-1zM81 28h2v1h-2zM86 28h1v1h-1zM20 30h1v1h-1zM39 32h1v1h-1zM76 32h1v1h-1zM18 33h1v1h-1zM20 33h1v1h-1zM46 33h1v1h-1zM79 34h1v1h-1zM83 34h1v1h-1zM1 35h1v1h-1zM82 35h1v1h-1zM71 38h1v1h-1zM32 39h1v1h-1zM55 39h1v1h-1zM8 40h1v1h-1zM80 40h1v1h-1zM18 42h1v1h-1zM84 44h1v1h-1zM33 46h1v1h-1zM81 49h1v1h-1zM83 50h1v1h-1zM67 52h1v1h-1zM71 53h1v1h-1zM3 55h1v1h-1zM12 55h1v1h-1zM39 55h1v1h-1zM85 55h1v1h-1zM83 56h1v1h-1zM3 60h1v1h-1zM5 60h1v1h-1zM2 62h1v1h-1zM10 63h1v1h-1zM71 64h1v1h-1zM82 64h2v1h-2zM75 65h1v1h-1zM79 65h2v1h-2zM84 65h1v1h-1zM23 66h1v1h-1zM75 66h1v1h-1zM79 66h1v1h-1zM81 66h1v1h-1zM52 67h1v1h-1zM17 68h1v1h-1zM83 68h1v1h-1zM9 71h1v1h-1zM16 71h1v1h-1zM18 71h1v1h-1zM38 71h1v1h-1zM53 71h1v1h-1zM64 71h1v1h-1zM3 74h1v1h-1zM28 74h1v1h-1zM4 75h1v1h-1zM65 75h2v1h-2zM32 76h1v1h-1zM4 78h1v1h-1zM26 78h1v1h-1zM28 78h1v1h-1zM4 79h1v1h-1zM22 79h1v1h-1zM25 79h1v1h-1zM34 79h1v1h-1zM65 79h2v1h-2zM5 80h1v1h-1zM20 80h1v1h-1zM40 80h1v1h-1zM65 80h1v1h-1zM28 81h1v1h-1zM49 81h1v1h-1zM66 81h1v1h-1zM18 82h1v1h-1zM28 82h1v1h-1zM35 82h1v1h-1zM64 82h1v1h-1zM34 83h1v1h-1zM50 83h1v1h-1zM56 83h1v1h-1zM64 83h1v1h-1zM68 83h1v1h-1zM20 84h1v1h-1zM44 84h1v1h-1zM65 84h1v1h-1zM18 85h1v1h-1zM55 85h1v1h-1zM28 86h1v1h-1zM18 87h1v1h-1zM20 87h1v1h-1zM23 87h1v1h-1zM23 88h1v1h-1zM12 89h1v1h-1zM23 91h1v1h-1z"/>
<path fill="#37375f" d="M35 0h1v1h-1zM72 0h1v1h-1zM74 0h1v1h-1zM10 1h1v1h-1zM17 1h1v1h-1zM53 1h1v1h-1zM68 1h1v1h-1zM9 2h1v1h-1zM41 2h1v1h-1zM67 2h1v1h-1zM70 3h1v1h-1zM81 3h2v1h-2zM24 4h1v1h-1zM32 4h1v1h-1zM49 4h1v1h-1zM68 4h1v1h-1zM72 4h1v1h-1zM88 4h1v1h-1zM90 4h1v1h-1zM92 4h2v1h-2zM95 4h3v1h-3zM100 4h2v1h-2zM84 5h1v1h-1zM13 6h1v1h-1zM23 6h1v1h-1zM49 6h1v1h-1zM17 7h1v1h-1zM24 7h1v1h-1zM46 7h1v1h-1zM68 8h2v1h-2zM2 9h1v1h-1zM23 9h1v1h-1zM31 9h1v1h-1zM51 9h1v1h-1zM70 9h1v1h-1zM82 9h1v1h-1zM84 9h1v1h-1zM1 10h1v1h-1zM46 10h1v1h-1zM16 12h1v1h-1zM35 12h1v1h-1zM78 12h1v1h-1zM82 12h1v1h-1zM84 12h1v1h-1zM90 12h1v1h-1zM6 13h1v1h-1zM14 13h1v1h-1zM13 14h1v1h-1zM15 14h1v1h-1zM23 14h1v1h-1zM14 15h1v1h-1zM12 16h1v1h-1zM58 16h1v1h-1zM69 16h1v1h-1zM1 17h1v1h-1zM7 17h1v1h-1zM71 17h1v1h-1zM78 17h1v1h-1zM39 18h1v1h-1zM67 18h1v1h-1zM75 18h1v1h-1zM82 19h1v1h-1zM86 20h1v1h-1zM26 22h1v1h-1zM43 22h1v1h-1zM69 22h1v1h-1zM72 22h1v1h-1zM81 22h1v1h-1zM6 23h1v1h-1zM9 23h1v1h-1zM14 23h1v1h-1zM33 23h1v1h-1zM77 23h1v1h-1zM79 23h1v1h-1zM90 23h1v1h-1zM93 23h2v1h-2zM96 23h6v1h-6zM4 24h1v1h-1zM7 24h1v1h-1zM41 24h1v1h-1zM22 26h1v1h-1zM36 26h1v1h-1zM75 26h1v1h-1zM77 26h1v1h-1zM81 26h1v1h-1zM83 26h2v1h-2zM96 26h1v1h-1zM39 27h1v1h-1zM80 27h1v1h-1zM87 27h1v1h-1zM93 27h1v1h-1zM95 27h1v1h-1zM100 27h1v1h-1zM87 28h2v1h-2zM36 29h1v1h-1zM39 29h1v1h-1zM47 29h1v1h-1zM9 31h1v1h-1zM69 31h2v1h-2zM4 32h1v1h-1zM23 33h1v1h-1zM36 33h1v1h-1zM53 33h1v1h-1zM59 33h1v1h-1zM79 33h1v1h-1zM76 34h2v1h-2zM88 34h1v1h-1zM0 35h1v1h-1zM12 35h1v1h-1zM26 36h1v1h-1zM29 36h1v1h-1zM33 36h1v1h-1zM78 36h1v1h-1zM85 36h1v1h-1zM67 37h1v1h-1zM70 37h2v1h-2zM18 39h1v1h-1zM27 39h1v1h-1zM29 39h1v1h-1zM82 40h1v1h-1zM2 41h1v1h-1zM24 41h1v1h-1zM84 42h1v1h-1zM22 43h1v1h-1zM77 45h1v1h-1zM7 46h1v1h-1zM10 46h1v1h-1zM29 47h1v1h-1zM4 49h1v1h-1zM6 49h1v1h-1zM70 49h1v1h-1zM79 49h1v1h-1zM69 50h1v1h-1zM9 51h1v1h-1zM71 52h1v1h-1zM1 53h1v1h-1zM33 53h1v1h-1zM88 54h1v1h-1zM82 55h2v1h-2zM77 56h1v1h-1zM82 56h1v1h-1zM16 58h1v1h-1zM70 58h1v1h-1zM33 59h1v1h-1zM86 59h1v1h-1zM80 60h1v1h-1zM69 64h1v1h-1zM67 66h2v1h-2zM76 66h1v1h-1zM78 66h1v1h-1zM82 66h2v1h-2zM86 66h1v1h-1zM2 67h1v1h-1zM18 67h1v1h-1zM37 67h1v1h-1zM66 67h1v1h-1zM87 67h1v1h-1zM1 68h1v1h-1zM4 68h1v1h-1zM8 68h1v1h-1zM66 68h1v1h-1zM8 69h1v1h-1zM16 69h1v1h-1zM22 69h1v1h-1zM31 69h1v1h-1zM50 69h1v1h-1zM64 69h1v1h-1zM83 69h1v1h-1zM3 70h1v1h-1zM9 70h1v1h-1zM31 70h1v1h-1zM37 70h1v1h-1zM49 70h1v1h-1zM58 70h1v1h-1zM80 70h1v1h-1zM86 70h1v1h-1zM17 71h1v1h-1zM37 71h1v1h-1zM52 71h1v1h-1zM88 71h1v1h-1zM0 72h1v1h-1zM4 72h1v1h-1zM22 72h1v1h-1zM80 72h1v1h-1zM0 74h1v1h-1zM18 75h1v1h-1zM26 75h1v1h-1zM34 76h1v1h-1zM66 76h1v1h-1zM23 77h1v1h-1zM26 77h1v1h-1zM34 77h1v1h-1zM45 77h1v1h-1zM56 77h1v1h-1zM12 78h1v1h-1zM17 78h1v1h-1zM36 78h1v1h-1zM66 78h1v1h-1zM23 79h1v1h-1zM33 79h1v1h-1zM49 79h1v1h-1zM27 80h1v1h-1zM60 80h1v1h-1zM70 80h1v1h-1zM72 80h1v1h-1zM3 81h1v1h-1zM22 81h1v1h-1zM26 81h1v1h-1zM3 82h1v1h-1zM9 82h1v1h-1zM12 82h1v1h-1zM19 82h1v1h-1zM40 82h1v1h-1zM55 82h2v1h-2zM66 82h1v1h-1zM26 83h1v1h-1zM55 83h1v1h-1zM66 83h1v1h-1zM69 83h1v1h-1zM5 84h1v1h-1zM9 84h1v1h-1zM12 84h1v1h-1zM26 84h1v1h-1zM42 84h1v1h-1zM36 85h1v1h-1zM20 86h1v1h-1zM59 86h1v1h-1zM66 86h1v1h-1zM70 86h1v1h-1zM27 87h2v1h-2zM67 87h1v1h-1zM4 88h1v1h-1zM28 88h1v1h-1zM34 88h1v1h-1zM54 88h1v1h-1zM71 88h1v1h-1zM4 90h1v1h-1zM12 90h1v1h-1zM23 90h1v1h-1zM4 92h1v1h-1zM4 93h1v1h-1zM23 93h1v1h-1zM27 93h1v1h-1zM23 94h1v1h-1zM4 95h1v1h-1zM27 95h1v1h-1zM4 96h1v1h-1zM23 96h1v1h-1zM26 96h1v1h-1zM4 97h1v1h-1zM23 97h1v1h-1zM23 98h1v1h-1zM23 99h1v1h-1zM4 100h1v1h-1zM23 100h1v1h-1zM27 100h1v1h-1zM4 101h1v1h-1zM23 101h1v1h-1z"/>
<path fill="#2f2f52" d="M39 0h1v1h-1zM49 0h1v1h-1zM82 0h1v1h-1zM92 0h2v1h-2zM95 0h1v1h-1zM97 0h4v1h-4zM27 1h1v1h-1zM34 1h1v1h-1zM48 1h1v1h-1zM54 1h1v1h-1zM71 1h2v1h-2zM80 1h1v1h-1zM68 2h3v1h-3zM51 3h1v1h-1zM59 3h1v1h-1zM62 3h2v1h-2zM68 3h1v1h-1zM71 3h1v1h-1zM83 3h1v1h-1zM29 4h1v1h-1zM42 4h1v1h-1zM70 4h2v1h-2zM76 4h1v1h-1zM91 4h1v1h-1zM98 4h1v1h-1zM19 5h1v1h-1zM49 5h1v1h-1zM83 5h1v1h-1zM87 5h1v1h-1zM89 5h1v1h-1zM95 5h1v1h-1zM100 5h1v1h-1zM15 6h1v1h-1zM22 6h1v1h-1zM53 6h1v1h-1zM82 6h1v1h-1zM51 7h1v1h-1zM67 8h1v1h-1zM70 8h1v1h-1zM10 9h1v1h-1zM64 9h1v1h-1zM68 9h1v1h-1zM72 9h1v1h-1zM80 9h1v1h-1zM83 9h1v1h-1zM9 10h1v1h-1zM17 10h1v1h-1zM24 10h1v1h-1zM77 10h1v1h-1zM83 10h1v1h-1zM33 11h1v1h-1zM47 11h1v1h-1zM49 11h1v1h-1zM32 12h1v1h-1zM44 12h1v1h-1zM50 12h1v1h-1zM62 12h1v1h-1zM75 12h1v1h-1zM79 12h1v1h-1zM81 12h1v1h-1zM86 12h1v1h-1zM93 12h2v1h-2zM100 12h1v1h-1zM6 15h1v1h-1zM21 15h1v1h-1zM24 15h1v1h-1zM72 15h1v1h-1zM41 16h1v1h-1zM72 16h1v1h-1zM10 17h1v1h-1zM24 17h1v1h-1zM67 17h1v1h-1zM20 18h1v1h-1zM29 18h1v1h-1zM68 18h1v1h-1zM78 18h1v1h-1zM86 18h1v1h-1zM5 19h1v1h-1zM68 19h1v1h-1zM71 19h2v1h-2zM74 19h2v1h-2zM18 20h1v1h-1zM46 20h1v1h-1zM15 21h1v1h-1zM66 21h1v1h-1zM76 21h2v1h-2zM83 21h1v1h-1zM85 21h1v1h-1zM6 22h1v1h-1zM82 22h2v1h-2zM36 23h1v1h-1zM68 23h1v1h-1zM73 23h2v1h-2zM78 23h1v1h-1zM92 23h1v1h-1zM95 23h1v1h-1zM10 24h1v1h-1zM15 24h1v1h-1zM17 24h1v1h-1zM83 24h1v1h-1zM52 25h1v1h-1zM82 25h1v1h-1zM90 26h1v1h-1zM95 26h1v1h-1zM100 26h1v1h-1zM1 27h1v1h-1zM42 27h1v1h-1zM77 27h1v1h-1zM82 27h2v1h-2zM90 27h1v1h-1zM92 27h1v1h-1zM94 27h1v1h-1zM97 27h1v1h-1zM101 27h1v1h-1zM39 28h1v1h-1zM41 28h1v1h-1zM89 28h1v1h-1zM94 28h1v1h-1zM97 28h1v1h-1zM99 28h1v1h-1zM4 29h1v1h-1zM18 29h1v1h-1zM67 29h1v1h-1zM70 29h2v1h-2zM84 29h1v1h-1zM45 30h1v1h-1zM42 31h1v1h-1zM68 31h1v1h-1zM72 31h1v1h-1zM84 31h1v1h-1zM12 32h1v1h-1zM74 32h1v1h-1zM11 33h1v1h-1zM83 33h1v1h-1zM86 33h1v1h-1zM1 34h1v1h-1zM67 35h1v1h-1zM69 35h1v1h-1zM83 35h1v1h-1zM86 35h1v1h-1zM23 36h1v1h-1zM56 36h1v1h-1zM68 36h1v1h-1zM71 36h1v1h-1zM0 39h1v1h-1zM28 39h1v1h-1zM83 40h1v1h-1zM16 41h1v1h-1zM28 41h1v1h-1zM74 41h1v1h-1zM77 41h1v1h-1zM4 42h1v1h-1zM27 42h1v1h-1zM31 42h1v1h-1zM73 42h1v1h-1zM76 42h2v1h-2zM79 42h1v1h-1zM88 42h1v1h-1zM12 44h1v1h-1zM30 45h1v1h-1zM51 45h1v1h-1zM75 45h1v1h-1zM82 45h1v1h-1zM84 45h1v1h-1zM20 46h1v1h-1zM11 47h1v1h-1zM1 48h1v1h-1zM83 48h1v1h-1zM0 49h1v1h-1zM5 49h1v1h-1zM11 49h1v1h-1zM71 49h1v1h-1zM83 49h3v1h-3zM12 50h1v1h-1zM70 50h1v1h-1zM75 50h1v1h-1zM3 51h1v1h-1zM7 51h1v1h-1zM45 51h1v1h-1zM68 51h1v1h-1zM84 51h1v1h-1zM25 52h1v1h-1zM69 52h1v1h-1zM84 52h1v1h-1zM6 53h1v1h-1zM72 53h1v1h-1zM74 53h1v1h-1zM77 53h1v1h-1zM80 53h1v1h-1zM85 53h1v1h-1zM1 54h1v1h-1zM66 55h1v1h-1zM76 55h1v1h-1zM36 56h1v1h-1zM71 56h2v1h-2zM84 56h1v1h-1zM67 57h1v1h-1zM72 57h1v1h-1zM69 58h1v1h-1zM72 58h1v1h-1zM3 59h1v1h-1zM74 59h1v1h-1zM79 59h1v1h-1zM82 59h2v1h-2zM85 59h1v1h-1zM76 60h1v1h-1zM79 60h1v1h-1zM87 60h1v1h-1zM87 61h1v1h-1zM3 62h1v1h-1zM12 62h1v1h-1zM87 62h1v1h-1zM3 63h1v1h-1zM82 63h1v1h-1zM9 64h1v1h-1zM68 64h1v1h-1zM67 65h1v1h-1zM70 65h1v1h-1zM89 65h1v1h-1zM21 66h1v1h-1zM55 66h1v1h-1zM69 66h1v1h-1zM71 66h1v1h-1zM84 66h1v1h-1zM88 66h2v1h-2zM8 67h1v1h-1zM17 67h1v1h-1zM29 67h1v1h-1zM35 67h1v1h-1zM57 67h1v1h-1zM65 67h1v1h-1zM84 67h1v1h-1zM88 67h2v1h-2zM2 68h2v1h-2zM9 68h1v1h-1zM18 68h2v1h-2zM23 68h1v1h-1zM31 68h1v1h-1zM36 68h1v1h-1zM51 68h1v1h-1zM64 68h1v1h-1zM2 69h1v1h-1zM35 69h1v1h-1zM52 69h1v1h-1zM58 69h1v1h-1zM66 69h1v1h-1zM2 70h1v1h-1zM4 70h1v1h-1zM8 70h1v1h-1zM29 70h1v1h-1zM50 70h1v1h-1zM65 70h1v1h-1zM1 71h1v1h-1zM3 71h2v1h-2zM19 71h1v1h-1zM29 71h1v1h-1zM36 71h1v1h-1zM49 71h1v1h-1zM56 71h1v1h-1zM66 71h1v1h-1zM82 71h2v1h-2zM1 72h1v1h-1zM9 72h1v1h-1zM15 72h2v1h-2zM19 72h1v1h-1zM31 72h1v1h-1zM53 72h1v1h-1zM56 72h3v1h-3zM23 73h1v1h-1zM42 73h1v1h-1zM19 74h1v1h-1zM23 74h1v1h-1zM32 74h1v1h-1zM41 74h1v1h-1zM53 74h1v1h-1zM59 74h1v1h-1zM12 75h1v1h-1zM19 75h1v1h-1zM45 75h1v1h-1zM50 75h1v1h-1zM4 76h1v1h-1zM21 76h1v1h-1zM42 76h1v1h-1zM55 76h1v1h-1zM60 76h1v1h-1zM10 77h1v1h-1zM21 77h1v1h-1zM27 77h1v1h-1zM41 77h2v1h-2zM53 77h1v1h-1zM18 78h1v1h-1zM23 78h1v1h-1zM12 79h1v1h-1zM42 79h1v1h-1zM59 79h2v1h-2zM1 80h1v1h-1zM9 80h1v1h-1zM53 80h1v1h-1zM12 81h1v1h-1zM0 82h1v1h-1zM6 82h1v1h-1zM22 82h1v1h-1zM25 82h1v1h-1zM27 82h1v1h-1zM45 82h1v1h-1zM59 82h1v1h-1zM63 82h1v1h-1zM71 82h1v1h-1zM3 83h1v1h-1zM5 83h1v1h-1zM9 83h2v1h-2zM21 83h2v1h-2zM24 83h1v1h-1zM27 83h1v1h-1zM33 83h1v1h-1zM35 83h1v1h-1zM40 83h1v1h-1zM48 83h2v1h-2zM59 83h1v1h-1zM71 83h1v1h-1zM29 84h1v1h-1zM31 84h1v1h-1zM45 84h1v1h-1zM49 84h1v1h-1zM51 84h2v1h-2zM56 84h1v1h-1zM66 84h2v1h-2zM21 85h1v1h-1zM49 85h1v1h-1zM53 85h1v1h-1zM59 85h1v1h-1zM12 86h1v1h-1zM18 86h1v1h-1zM33 86h1v1h-1zM35 86h1v1h-1zM5 87h1v1h-1zM60 87h3v1h-3zM42 88h1v1h-1zM66 88h2v1h-2zM5 89h1v1h-1zM28 89h1v1h-1zM65 89h3v1h-3zM26 90h2v1h-2zM4 91h1v1h-1zM0 92h1v1h-1zM23 92h1v1h-1zM27 92h1v1h-1zM0 93h1v1h-1zM12 93h1v1h-1zM12 94h1v1h-1zM27 94h2v1h-2zM0 95h1v1h-1zM5 95h1v1h-1zM23 95h1v1h-1zM26 95h1v1h-1zM0 97h1v1h-1zM27 97h2v1h-2zM0 98h1v1h-1zM4 98h1v1h-1zM0 99h1v1h-1zM28 99h1v1h-1zM0 100h1v1h-1zM5 100h1v1h-1zM12 100h1v1h-1zM26 100h1v1h-1zM27 101h1v1h-1z"/>
<path fill="#282845" d="M14 0h1v1h-1zM53 0h1v1h-1zM68 0h4v1h-4zM79 0h1v1h-1zM87 0h1v1h-1zM90 0h2v1h-2zM94 0h1v1h-1zM96 0h1v1h-1zM101 0h1v1h-1zM19 1h1v1h-1zM25 1h1v1h-1zM45 1h2v1h-2zM49 1h1v1h-1zM67 1h1v1h-1zM70 1h1v1h-1zM83 1h1v1h-1zM96 1h1v1h-1zM43 2h1v1h-1zM22 3h1v1h-1zM29 3h1v1h-1zM42 3h1v1h-1zM44 3h1v1h-1zM41 4h1v1h-1zM44 4h1v1h-1zM67 4h1v1h-1zM82 4h1v1h-1zM84 4h1v1h-1zM94 4h1v1h-1zM99 4h1v1h-1zM7 5h1v1h-1zM28 5h1v1h-1zM31 5h1v1h-1zM42 5h1v1h-1zM45 5h1v1h-1zM73 5h1v1h-1zM85 5h1v1h-1zM88 5h1v1h-1zM90 5h2v1h-2zM96 5h4v1h-4zM101 5h1v1h-1zM8 6h1v1h-1zM26 6h1v1h-1zM30 6h1v1h-1zM50 6h1v1h-1zM73 6h1v1h-1zM83 6h1v1h-1zM5 7h1v1h-1zM30 7h1v1h-1zM6 8h1v1h-1zM19 8h1v1h-1zM29 8h1v1h-1zM33 8h1v1h-1zM41 8h1v1h-1zM72 8h1v1h-1zM29 9h1v1h-1zM52 9h2v1h-2zM88 9h1v1h-1zM36 10h1v1h-1zM39 10h1v1h-1zM18 11h1v1h-1zM35 11h1v1h-1zM48 11h1v1h-1zM54 11h1v1h-1zM80 11h1v1h-1zM85 11h1v1h-1zM87 11h1v1h-1zM33 12h1v1h-1zM56 12h1v1h-1zM60 12h1v1h-1zM76 12h1v1h-1zM85 12h1v1h-1zM88 12h1v1h-1zM91 12h2v1h-2zM95 12h5v1h-5zM42 13h1v1h-1zM0 14h1v1h-1zM32 15h1v1h-1zM49 15h1v1h-1zM63 15h1v1h-1zM67 15h1v1h-1zM28 16h1v1h-1zM67 16h1v1h-1zM74 16h1v1h-1zM27 17h1v1h-1zM50 17h2v1h-2zM54 17h1v1h-1zM75 17h1v1h-1zM81 17h1v1h-1zM11 18h1v1h-1zM70 18h1v1h-1zM1 19h1v1h-1zM8 19h1v1h-1zM88 19h1v1h-1zM96 19h1v1h-1zM98 19h1v1h-1zM82 20h1v1h-1zM85 20h1v1h-1zM93 20h1v1h-1zM74 21h1v1h-1zM78 21h1v1h-1zM84 21h1v1h-1zM88 21h1v1h-1zM96 21h1v1h-1zM3 22h1v1h-1zM40 22h1v1h-1zM67 22h2v1h-2zM77 22h1v1h-1zM85 22h1v1h-1zM89 22h1v1h-1zM70 23h1v1h-1zM84 23h1v1h-1zM1 25h1v1h-1zM47 25h1v1h-1zM61 25h1v1h-1zM6 26h1v1h-1zM58 26h1v1h-1zM74 26h1v1h-1zM85 26h1v1h-1zM87 26h1v1h-1zM93 26h2v1h-2zM97 26h3v1h-3zM101 26h1v1h-1zM17 27h1v1h-1zM75 27h2v1h-2zM78 27h1v1h-1zM81 27h1v1h-1zM89 27h1v1h-1zM91 27h1v1h-1zM96 27h1v1h-1zM98 27h2v1h-2zM5 28h1v1h-1zM16 28h1v1h-1zM47 28h1v1h-1zM91 28h3v1h-3zM95 28h2v1h-2zM100 28h2v1h-2zM3 29h1v1h-1zM8 29h2v1h-2zM52 29h1v1h-1zM68 29h2v1h-2zM72 29h1v1h-1zM6 30h2v1h-2zM67 30h1v1h-1zM72 30h1v1h-1zM5 31h1v1h-1zM41 31h1v1h-1zM67 31h1v1h-1zM83 31h1v1h-1zM15 32h1v1h-1zM77 32h1v1h-1zM80 32h1v1h-1zM84 32h2v1h-2zM87 32h1v1h-1zM8 33h1v1h-1zM12 33h1v1h-1zM84 33h1v1h-1zM42 34h1v1h-1zM56 34h1v1h-1zM59 34h1v1h-1zM84 34h1v1h-1zM89 34h3v1h-3zM93 34h1v1h-1zM95 34h1v1h-1zM11 35h1v1h-1zM56 35h1v1h-1zM71 35h2v1h-2zM77 35h2v1h-2zM96 35h1v1h-1zM10 36h1v1h-1zM70 36h1v1h-1zM77 36h1v1h-1zM89 36h1v1h-1zM55 37h1v1h-1zM68 37h1v1h-1zM72 37h1v1h-1zM66 38h1v1h-1zM10 39h1v1h-1zM61 39h1v1h-1zM84 39h1v1h-1zM22 40h1v1h-1zM78 40h1v1h-1zM4 41h1v1h-1zM8 41h1v1h-1zM31 41h1v1h-1zM91 41h1v1h-1zM101 41h1v1h-1zM3 42h1v1h-1zM5 42h1v1h-1zM13 42h1v1h-1zM34 42h1v1h-1zM2 43h1v1h-1zM45 43h1v1h-1zM3 44h2v1h-2zM81 44h2v1h-2zM1 45h1v1h-1zM5 45h1v1h-1zM43 45h1v1h-1zM76 45h1v1h-1zM81 45h1v1h-1zM1 46h1v1h-1zM85 46h1v1h-1zM25 47h1v1h-1zM28 47h1v1h-1zM49 47h1v1h-1zM11 48h1v1h-1zM79 48h1v1h-1zM82 48h1v1h-1zM1 49h1v1h-1zM15 49h1v1h-1zM47 49h1v1h-1zM67 49h3v1h-3zM6 50h1v1h-1zM17 50h1v1h-1zM67 50h1v1h-1zM71 50h1v1h-1zM84 50h1v1h-1zM88 50h1v1h-1zM17 51h1v1h-1zM72 51h1v1h-1zM9 52h1v1h-1zM29 52h1v1h-1zM68 52h1v1h-1zM86 52h1v1h-1zM0 53h1v1h-1zM9 53h1v1h-1zM68 53h1v1h-1zM70 53h1v1h-1zM76 53h1v1h-1zM11 54h1v1h-1zM17 54h1v1h-1zM66 54h1v1h-1zM78 54h1v1h-1zM37 55h1v1h-1zM75 55h1v1h-1zM12 56h1v1h-1zM34 56h2v1h-2zM67 56h2v1h-2zM79 56h1v1h-1zM89 56h1v1h-1zM68 57h1v1h-1zM26 58h1v1h-1zM67 58h2v1h-2zM34 59h1v1h-1zM81 59h1v1h-1zM12 60h1v1h-1zM83 60h1v1h-1zM85 60h1v1h-1zM25 61h1v1h-1zM39 61h1v1h-1zM15 63h1v1h-1zM80 63h1v1h-1zM72 65h2v1h-2zM86 65h1v1h-1zM38 66h1v1h-1zM54 66h1v1h-1zM74 66h1v1h-1zM1 67h1v1h-1zM4 67h1v1h-1zM15 67h2v1h-2zM22 67h1v1h-1zM30 67h2v1h-2zM49 67h2v1h-2zM56 67h1v1h-1zM58 67h1v1h-1zM85 67h1v1h-1zM0 68h1v1h-1zM22 68h1v1h-1zM29 68h1v1h-1zM37 68h1v1h-1zM49 68h1v1h-1zM52 68h2v1h-2zM56 68h3v1h-3zM82 68h1v1h-1zM84 68h2v1h-2zM0 69h1v1h-1zM29 69h1v1h-1zM49 69h1v1h-1zM0 70h2v1h-2zM18 70h1v1h-1zM23 70h1v1h-1zM36 70h1v1h-1zM53 70h1v1h-1zM81 70h1v1h-1zM84 70h1v1h-1zM0 71h1v1h-1zM35 71h1v1h-1zM50 71h1v1h-1zM8 72h1v1h-1zM29 72h2v1h-2zM35 72h1v1h-1zM37 72h1v1h-1zM51 72h1v1h-1zM65 72h1v1h-1zM5 73h2v1h-2zM65 73h1v1h-1zM16 74h1v1h-1zM21 74h1v1h-1zM26 74h1v1h-1zM66 74h1v1h-1zM17 75h1v1h-1zM27 75h1v1h-1zM55 75h1v1h-1zM12 76h1v1h-1zM27 76h1v1h-1zM45 76h1v1h-1zM53 76h1v1h-1zM22 77h1v1h-1zM32 77h1v1h-1zM35 77h2v1h-2zM21 78h1v1h-1zM27 78h1v1h-1zM35 78h1v1h-1zM40 78h1v1h-1zM54 78h1v1h-1zM0 79h1v1h-1zM48 79h1v1h-1zM56 79h1v1h-1zM11 80h1v1h-1zM32 80h1v1h-1zM63 80h1v1h-1zM17 81h1v1h-1zM27 81h1v1h-1zM44 81h2v1h-2zM59 81h1v1h-1zM70 81h1v1h-1zM4 82h1v1h-1zM20 82h1v1h-1zM44 82h1v1h-1zM48 82h1v1h-1zM68 82h1v1h-1zM1 83h1v1h-1zM6 83h1v1h-1zM31 83h1v1h-1zM60 83h1v1h-1zM4 84h1v1h-1zM21 84h1v1h-1zM23 84h1v1h-1zM32 84h3v1h-3zM39 84h1v1h-1zM50 84h1v1h-1zM68 84h1v1h-1zM70 84h1v1h-1zM5 85h1v1h-1zM11 85h2v1h-2zM20 85h1v1h-1zM22 85h1v1h-1zM26 85h1v1h-1zM32 85h1v1h-1zM46 85h1v1h-1zM60 85h1v1h-1zM67 85h2v1h-2zM52 86h1v1h-1zM65 86h1v1h-1zM0 87h1v1h-1zM11 87h1v1h-1zM26 87h1v1h-1zM32 87h1v1h-1zM5 88h1v1h-1zM9 88h1v1h-1zM12 88h1v1h-1zM19 88h1v1h-1zM21 88h1v1h-1zM50 88h1v1h-1zM22 89h1v1h-1zM27 89h1v1h-1zM34 89h1v1h-1zM36 89h1v1h-1zM56 89h1v1h-1zM0 90h1v1h-1zM5 90h1v1h-1zM34 90h1v1h-1zM0 91h1v1h-1zM5 91h1v1h-1zM12 91h1v1h-1zM27 91h2v1h-2zM34 91h1v1h-1zM41 91h1v1h-1zM12 92h1v1h-1zM28 92h1v1h-1zM20 93h1v1h-1zM26 93h1v1h-1zM28 93h1v1h-1zM34 93h1v1h-1zM0 94h1v1h-1zM4 94h1v1h-1zM26 94h1v1h-1zM12 95h1v1h-1zM28 95h1v1h-1zM34 95h1v1h-1zM0 96h2v1h-2zM5 96h1v1h-1zM12 96h1v1h-1zM19 96h1v1h-1zM21 96h1v1h-1zM27 96h2v1h-2zM35 96h1v1h-1zM5 97h1v1h-1zM12 97h1v1h-1zM26 97h1v1h-1zM5 98h1v1h-1zM12 98h1v1h-1zM19 98h1v1h-1zM26 98h2v1h-2zM4 99h2v1h-2zM12 99h1v1h-1zM26 99h2v1h-2zM28 100h1v1h-1zM0 101h1v1h-1zM5 101h1v1h-1zM26 101h1v1h-1zM28 101h1v1h-1zM41 101h1v1h-1z"/>
<path fill="#212139" d="M18 0h1v1h-1zM38 0h1v1h-1zM46 0h1v1h-1zM52 0h1v1h-1zM62 0h1v1h-1zM65 0h1v1h-1zM73 0h1v1h-1zM77 0h2v1h-2zM80 0h1v1h-1zM86 0h1v1h-1zM5 1h1v1h-1zM21 1h1v1h-1zM36 1h1v1h-1zM51 1h1v1h-1zM79 1h1v1h-1zM82 1h1v1h-1zM89 1h1v1h-1zM97 1h1v1h-1zM99 1h1v1h-1zM15 2h2v1h-2zM20 2h1v1h-1zM71 2h2v1h-2zM5 3h1v1h-1zM17 3h1v1h-1zM56 3h1v1h-1zM69 3h1v1h-1zM76 3h1v1h-1zM86 3h1v1h-1zM5 4h1v1h-1zM51 4h1v1h-1zM53 4h1v1h-1zM69 4h1v1h-1zM1 5h1v1h-1zM3 5h2v1h-2zM30 5h1v1h-1zM56 5h1v1h-1zM78 5h1v1h-1zM81 5h1v1h-1zM86 5h1v1h-1zM92 5h3v1h-3zM43 6h1v1h-1zM55 6h1v1h-1zM60 6h1v1h-1zM63 6h1v1h-1zM81 6h1v1h-1zM84 6h1v1h-1zM89 6h1v1h-1zM18 7h1v1h-1zM22 7h1v1h-1zM25 7h2v1h-2zM43 7h1v1h-1zM50 7h1v1h-1zM53 7h1v1h-1zM59 7h1v1h-1zM82 7h1v1h-1zM11 8h1v1h-1zM18 8h1v1h-1zM22 8h1v1h-1zM24 8h1v1h-1zM28 8h1v1h-1zM35 9h1v1h-1zM63 9h1v1h-1zM67 9h1v1h-1zM76 9h1v1h-1zM79 9h1v1h-1zM81 9h1v1h-1zM15 10h1v1h-1zM30 10h1v1h-1zM48 10h2v1h-2zM58 10h1v1h-1zM76 10h1v1h-1zM80 10h1v1h-1zM8 11h1v1h-1zM15 11h1v1h-1zM21 11h1v1h-1zM50 11h1v1h-1zM55 11h1v1h-1zM83 11h1v1h-1zM49 12h1v1h-1zM65 12h1v1h-1zM74 12h1v1h-1zM80 12h1v1h-1zM101 12h1v1h-1zM31 13h1v1h-1zM52 13h1v1h-1zM55 13h1v1h-1zM75 13h1v1h-1zM36 14h1v1h-1zM2 15h1v1h-1zM10 15h2v1h-2zM23 15h1v1h-1zM70 15h1v1h-1zM2 16h1v1h-1zM31 16h1v1h-1zM53 16h1v1h-1zM56 16h1v1h-1zM68 16h1v1h-1zM70 16h1v1h-1zM75 16h1v1h-1zM82 16h1v1h-1zM88 16h1v1h-1zM100 16h1v1h-1zM3 17h1v1h-1zM65 17h2v1h-2zM69 17h2v1h-2zM72 17h2v1h-2zM0 18h1v1h-1zM7 18h2v1h-2zM21 18h1v1h-1zM72 18h1v1h-1zM90 18h1v1h-1zM92 18h2v1h-2zM97 18h2v1h-2zM100 18h1v1h-1zM23 19h1v1h-1zM36 19h1v1h-1zM38 19h1v1h-1zM41 19h1v1h-1zM45 19h1v1h-1zM63 19h1v1h-1zM66 19h1v1h-1zM70 19h1v1h-1zM76 19h3v1h-3zM87 19h1v1h-1zM90 19h2v1h-2zM95 19h1v1h-1zM100 19h2v1h-2zM2 20h1v1h-1zM43 20h1v1h-1zM74 20h1v1h-1zM76 20h1v1h-1zM78 20h1v1h-1zM90 20h2v1h-2zM95 20h3v1h-3zM99 20h1v1h-1zM101 20h1v1h-1zM1 21h1v1h-1zM11 21h1v1h-1zM18 21h1v1h-1zM68 21h1v1h-1zM90 21h1v1h-1zM93 21h1v1h-1zM95 21h1v1h-1zM100 21h2v1h-2zM7 22h2v1h-2zM42 22h1v1h-1zM53 22h1v1h-1zM70 22h1v1h-1zM95 22h1v1h-1zM97 22h1v1h-1zM99 22h2v1h-2zM15 23h1v1h-1zM19 23h1v1h-1zM47 23h1v1h-1zM56 23h1v1h-1zM67 23h1v1h-1zM72 23h1v1h-1zM75 23h2v1h-2zM8 24h1v1h-1zM85 24h1v1h-1zM7 25h1v1h-1zM83 25h1v1h-1zM7 26h1v1h-1zM37 26h1v1h-1zM79 26h1v1h-1zM91 26h2v1h-2zM40 27h1v1h-1zM43 27h1v1h-1zM58 27h1v1h-1zM66 27h1v1h-1zM73 27h1v1h-1zM8 28h1v1h-1zM42 28h1v1h-1zM77 28h1v1h-1zM79 28h1v1h-1zM83 28h1v1h-1zM90 28h1v1h-1zM98 28h1v1h-1zM34 29h1v1h-1zM5 30h1v1h-1zM10 30h1v1h-1zM59 30h1v1h-1zM70 30h2v1h-2zM13 31h1v1h-1zM16 31h1v1h-1zM71 31h1v1h-1zM47 32h1v1h-1zM55 32h1v1h-1zM86 32h1v1h-1zM90 32h1v1h-1zM96 32h1v1h-1zM100 32h1v1h-1zM51 33h1v1h-1zM29 34h1v1h-1zM41 34h1v1h-1zM78 34h1v1h-1zM85 34h2v1h-2zM92 34h1v1h-1zM96 34h1v1h-1zM98 34h1v1h-1zM100 34h2v1h-2zM9 35h1v1h-1zM73 35h1v1h-1zM79 35h1v1h-1zM84 35h1v1h-1zM88 35h1v1h-1zM91 35h1v1h-1zM94 35h1v1h-1zM98 35h1v1h-1zM1 36h1v1h-1zM14 36h1v1h-1zM19 36h1v1h-1zM39 36h1v1h-1zM61 36h1v1h-1zM67 36h1v1h-1zM26 37h1v1h-1zM42 37h1v1h-1zM0 38h1v1h-1zM19 38h1v1h-1zM67 38h1v1h-1zM69 38h2v1h-2zM75 38h1v1h-1zM89 38h1v1h-1zM36 39h1v1h-1zM42 39h1v1h-1zM82 39h2v1h-2zM27 40h1v1h-1zM73 40h3v1h-3zM84 40h1v1h-1zM90 40h1v1h-1zM101 40h1v1h-1zM19 41h1v1h-1zM34 41h1v1h-1zM50 41h1v1h-1zM78 41h1v1h-1zM80 41h1v1h-1zM84 41h1v1h-1zM89 41h2v1h-2zM98 41h1v1h-1zM22 42h1v1h-1zM28 42h1v1h-1zM37 42h1v1h-1zM39 42h1v1h-1zM78 42h1v1h-1zM85 42h2v1h-2zM91 42h1v1h-1zM93 42h1v1h-1zM100 42h1v1h-1zM6 43h2v1h-2zM20 43h1v1h-1zM27 43h1v1h-1zM53 43h1v1h-1zM83 44h1v1h-1zM19 45h1v1h-1zM86 45h1v1h-1zM92 45h1v1h-1zM94 45h1v1h-1zM96 45h4v1h-4zM101 45h1v1h-1zM0 46h1v1h-1zM69 46h1v1h-1zM83 46h2v1h-2zM23 47h1v1h-1zM32 47h1v1h-1zM48 47h1v1h-1zM53 47h1v1h-1zM59 47h1v1h-1zM10 48h1v1h-1zM47 48h1v1h-1zM87 48h1v1h-1zM10 49h1v1h-1zM12 49h1v1h-1zM72 49h1v1h-1zM77 49h1v1h-1zM82 49h1v1h-1zM89 49h1v1h-1zM7 50h1v1h-1zM11 50h1v1h-1zM41 50h1v1h-1zM87 50h1v1h-1zM97 50h1v1h-1zM1 51h1v1h-1zM4 51h1v1h-1zM33 51h1v1h-1zM67 51h1v1h-1zM71 51h1v1h-1zM79 51h1v1h-1zM0 52h1v1h-1zM13 52h1v1h-1zM72 52h1v1h-1zM83 52h1v1h-1zM4 53h1v1h-1zM7 53h1v1h-1zM16 53h1v1h-1zM22 53h1v1h-1zM43 53h1v1h-1zM47 53h1v1h-1zM69 53h1v1h-1zM81 53h1v1h-1zM83 53h1v1h-1zM6 55h1v1h-1zM11 55h1v1h-1zM13 55h1v1h-1zM32 55h1v1h-1zM74 55h1v1h-1zM84 55h1v1h-1zM92 55h1v1h-1zM3 56h1v1h-1zM5 56h1v1h-1zM16 56h1v1h-1zM23 56h1v1h-1zM74 56h1v1h-1zM85 56h2v1h-2zM66 57h1v1h-1zM69 57h3v1h-3zM10 58h1v1h-1zM27 58h1v1h-1zM71 58h1v1h-1zM7 59h1v1h-1zM30 59h1v1h-1zM47 59h1v1h-1zM77 59h1v1h-1zM80 59h1v1h-1zM87 59h1v1h-1zM6 60h1v1h-1zM77 60h1v1h-1zM88 60h2v1h-2zM36 61h1v1h-1zM71 61h2v1h-2zM79 61h1v1h-1zM82 61h2v1h-2zM0 62h1v1h-1zM77 62h1v1h-1zM82 62h1v1h-1zM6 63h1v1h-1zM9 63h1v1h-1zM19 63h1v1h-1zM86 63h1v1h-1zM70 64h1v1h-1zM72 64h1v1h-1zM0 65h1v1h-1zM12 65h1v1h-1zM17 65h1v1h-1zM68 65h2v1h-2zM76 65h1v1h-1zM17 66h1v1h-1zM19 66h1v1h-1zM27 66h1v1h-1zM57 66h1v1h-1zM70 66h1v1h-1zM72 66h2v1h-2zM77 66h1v1h-1zM9 67h1v1h-1zM23 67h1v1h-1zM36 67h1v1h-1zM38 67h1v1h-1zM51 67h1v1h-1zM78 67h1v1h-1zM80 67h1v1h-1zM16 68h1v1h-1zM21 68h1v1h-1zM65 68h1v1h-1zM78 68h2v1h-2zM88 68h1v1h-1zM3 69h2v1h-2zM17 69h1v1h-1zM38 69h1v1h-1zM46 69h1v1h-1zM53 69h1v1h-1zM57 69h1v1h-1zM65 69h1v1h-1zM80 69h2v1h-2zM85 69h1v1h-1zM88 69h2v1h-2zM15 70h3v1h-3zM19 70h1v1h-1zM22 70h1v1h-1zM30 70h1v1h-1zM38 70h1v1h-1zM57 70h1v1h-1zM64 70h1v1h-1zM66 70h1v1h-1zM89 70h1v1h-1zM2 71h1v1h-1zM30 71h2v1h-2zM51 71h1v1h-1zM57 71h2v1h-2zM61 71h1v1h-1zM2 72h1v1h-1zM17 72h2v1h-2zM23 72h1v1h-1zM49 72h1v1h-1zM52 72h1v1h-1zM61 72h1v1h-1zM64 72h1v1h-1zM66 72h1v1h-1zM79 72h1v1h-1zM85 72h1v1h-1zM0 73h1v1h-1zM17 73h1v1h-1zM27 73h1v1h-1zM35 73h1v1h-1zM40 73h1v1h-1zM66 73h1v1h-1zM12 74h1v1h-1zM20 74h1v1h-1zM40 74h1v1h-1zM55 74h2v1h-2zM13 75h1v1h-1zM16 75h1v1h-1zM23 75h1v1h-1zM38 75h1v1h-1zM40 75h1v1h-1zM3 76h1v1h-1zM9 76h2v1h-2zM19 76h2v1h-2zM23 76h1v1h-1zM65 76h1v1h-1zM0 77h1v1h-1zM19 77h1v1h-1zM28 77h1v1h-1zM49 77h1v1h-1zM59 77h2v1h-2zM62 77h1v1h-1zM66 77h1v1h-1zM0 78h1v1h-1zM5 78h1v1h-1zM19 78h2v1h-2zM34 78h1v1h-1zM41 78h2v1h-2zM67 78h2v1h-2zM1 79h1v1h-1zM9 79h1v1h-1zM26 79h1v1h-1zM28 79h1v1h-1zM35 79h1v1h-1zM51 79h1v1h-1zM61 79h1v1h-1zM68 79h1v1h-1zM72 79h1v1h-1zM0 80h1v1h-1zM10 80h1v1h-1zM12 80h1v1h-1zM41 80h1v1h-1zM59 80h1v1h-1zM67 80h1v1h-1zM69 80h1v1h-1zM5 81h2v1h-2zM9 81h1v1h-1zM53 81h1v1h-1zM69 81h1v1h-1zM1 82h1v1h-1zM7 82h1v1h-1zM16 82h1v1h-1zM39 82h1v1h-1zM49 82h1v1h-1zM61 82h2v1h-2zM11 83h1v1h-1zM25 83h1v1h-1zM28 83h1v1h-1zM39 83h1v1h-1zM44 83h1v1h-1zM46 83h1v1h-1zM52 83h2v1h-2zM61 83h1v1h-1zM6 84h1v1h-1zM35 84h1v1h-1zM40 84h2v1h-2zM46 84h1v1h-1zM55 84h1v1h-1zM24 85h1v1h-1zM34 85h1v1h-1zM42 85h1v1h-1zM56 85h1v1h-1zM69 85h1v1h-1zM72 85h1v1h-1zM0 86h1v1h-1zM3 86h1v1h-1zM5 86h1v1h-1zM32 86h1v1h-1zM34 86h1v1h-1zM42 86h1v1h-1zM45 86h1v1h-1zM56 86h1v1h-1zM63 86h1v1h-1zM19 87h1v1h-1zM48 87h1v1h-1zM50 87h1v1h-1zM59 87h1v1h-1zM16 88h1v1h-1zM35 88h1v1h-1zM60 88h1v1h-1zM68 88h2v1h-2zM1 89h1v1h-1zM6 89h1v1h-1zM38 89h1v1h-1zM41 89h1v1h-1zM49 89h1v1h-1zM60 89h1v1h-1zM69 89h2v1h-2zM18 90h4v1h-4zM28 90h1v1h-1zM32 90h1v1h-1zM40 90h2v1h-2zM19 91h2v1h-2zM26 91h1v1h-1zM35 91h1v1h-1zM42 91h1v1h-1zM5 92h1v1h-1zM18 92h1v1h-1zM26 92h1v1h-1zM34 92h1v1h-1zM45 92h1v1h-1zM55 92h1v1h-1zM5 93h1v1h-1zM18 93h1v1h-1zM21 93h1v1h-1zM42 93h1v1h-1zM5 94h1v1h-1zM35 94h1v1h-1zM45 94h1v1h-1zM19 95h4v1h-4zM20 96h1v1h-1zM32 96h1v1h-1zM34 96h1v1h-1zM45 96h1v1h-1zM1 97h1v1h-1zM18 97h1v1h-1zM20 97h1v1h-1zM22 97h1v1h-1zM45 97h1v1h-1zM50 97h1v1h-1zM18 98h1v1h-1zM28 98h1v1h-1zM34 98h2v1h-2zM41 98h1v1h-1zM45 98h1v1h-1zM1 99h1v1h-1zM20 99h1v1h-1zM22 99h1v1h-1zM45 99h1v1h-1zM16 100h1v1h-1zM18 100h2v1h-2zM21 100h2v1h-2zM32 100h1v1h-1zM34 100h1v1h-1zM42 100h1v1h-1zM12 101h1v1h-1zM19 101h3v1h-3zM34 101h1v1h-1zM40 101h1v1h-1zM45 101h1v1h-1z"/>
<path fill="#19192c" d="M15 0h1v1h-1zM60 0h1v1h-1zM63 0h2v1h-2zM67 0h1v1h-1zM88 0h2v1h-2zM15 1h1v1h-1zM41 1h1v1h-1zM74 1h1v1h-1zM77 1h1v1h-1zM81 1h1v1h-1zM91 1h1v1h-1zM94 1h2v1h-2zM98 1h1v1h-1zM100 1h1v1h-1zM5 2h1v1h-1zM44 2h1v1h-1zM59 2h2v1h-2zM80 2h1v1h-1zM10 3h1v1h-1zM18 3h1v1h-1zM41 3h1v1h-1zM50 3h1v1h-1zM52 3h2v1h-2zM72 3h1v1h-1zM75 3h1v1h-1zM90 3h2v1h-2zM95 3h2v1h-2zM98 3h2v1h-2zM101 3h1v1h-1zM16 4h1v1h-1zM38 4h1v1h-1zM85 4h1v1h-1zM2 5h1v1h-1zM25 5h1v1h-1zM62 5h1v1h-1zM75 5h2v1h-2zM14 6h1v1h-1zM19 6h1v1h-1zM28 6h2v1h-2zM61 6h1v1h-1zM75 6h1v1h-1zM34 7h1v1h-1zM44 7h1v1h-1zM71 7h1v1h-1zM13 8h1v1h-1zM49 8h1v1h-1zM71 8h1v1h-1zM41 9h1v1h-1zM69 9h1v1h-1zM3 10h1v1h-1zM12 10h1v1h-1zM16 10h1v1h-1zM18 10h1v1h-1zM45 10h1v1h-1zM57 10h1v1h-1zM69 10h1v1h-1zM73 10h1v1h-1zM85 10h1v1h-1zM38 11h1v1h-1zM46 11h1v1h-1zM86 11h1v1h-1zM10 12h1v1h-1zM18 12h1v1h-1zM30 12h1v1h-1zM42 12h1v1h-1zM48 12h1v1h-1zM57 12h1v1h-1zM59 12h1v1h-1zM8 13h1v1h-1zM29 13h1v1h-1zM46 13h1v1h-1zM49 13h1v1h-1zM59 13h1v1h-1zM82 13h1v1h-1zM6 14h1v1h-1zM43 14h1v1h-1zM0 15h2v1h-2zM34 15h1v1h-1zM40 15h1v1h-1zM43 15h1v1h-1zM61 15h1v1h-1zM68 15h2v1h-2zM4 16h1v1h-1zM10 16h1v1h-1zM30 16h1v1h-1zM57 16h1v1h-1zM85 16h1v1h-1zM97 16h1v1h-1zM28 17h1v1h-1zM40 17h1v1h-1zM91 17h3v1h-3zM3 18h1v1h-1zM10 18h1v1h-1zM12 18h1v1h-1zM23 18h1v1h-1zM28 18h1v1h-1zM45 18h1v1h-1zM62 18h1v1h-1zM74 18h1v1h-1zM83 18h1v1h-1zM91 18h1v1h-1zM94 18h1v1h-1zM96 18h1v1h-1zM99 18h1v1h-1zM101 18h1v1h-1zM6 19h1v1h-1zM67 19h1v1h-1zM69 19h1v1h-1zM79 19h1v1h-1zM92 19h3v1h-3zM97 19h1v1h-1zM27 20h1v1h-1zM34 20h1v1h-1zM66 20h1v1h-1zM71 20h1v1h-1zM75 20h1v1h-1zM81 20h1v1h-1zM89 20h1v1h-1zM92 20h1v1h-1zM98 20h1v1h-1zM100 20h1v1h-1zM35 21h1v1h-1zM45 21h1v1h-1zM69 21h1v1h-1zM71 21h3v1h-3zM87 21h1v1h-1zM94 21h1v1h-1zM97 21h3v1h-3zM36 22h1v1h-1zM90 22h5v1h-5zM96 22h1v1h-1zM98 22h1v1h-1zM18 23h1v1h-1zM24 23h1v1h-1zM46 23h1v1h-1zM58 23h1v1h-1zM69 23h1v1h-1zM80 23h2v1h-2zM23 24h1v1h-1zM27 24h1v1h-1zM32 24h1v1h-1zM72 24h1v1h-1zM75 24h1v1h-1zM5 25h1v1h-1zM36 25h1v1h-1zM38 25h1v1h-1zM66 25h1v1h-1zM76 25h1v1h-1zM81 25h1v1h-1zM28 26h1v1h-1zM33 26h1v1h-1zM47 26h1v1h-1zM76 26h1v1h-1zM86 26h1v1h-1zM88 26h2v1h-2zM20 27h1v1h-1zM24 27h1v1h-1zM30 27h1v1h-1zM36 27h1v1h-1zM86 27h1v1h-1zM6 28h1v1h-1zM17 28h2v1h-2zM26 28h1v1h-1zM54 28h1v1h-1zM84 28h2v1h-2zM6 29h1v1h-1zM13 29h1v1h-1zM40 29h1v1h-1zM56 29h1v1h-1zM79 29h1v1h-1zM12 30h1v1h-1zM16 30h1v1h-1zM27 30h1v1h-1zM35 30h1v1h-1zM69 30h1v1h-1zM57 31h1v1h-1zM61 31h1v1h-1zM24 32h1v1h-1zM68 32h2v1h-2zM79 32h1v1h-1zM89 32h1v1h-1zM91 32h4v1h-4zM98 32h1v1h-1zM101 32h1v1h-1zM26 33h1v1h-1zM35 33h1v1h-1zM43 33h1v1h-1zM45 33h1v1h-1zM60 33h1v1h-1zM80 33h1v1h-1zM99 33h1v1h-1zM7 34h1v1h-1zM15 34h1v1h-1zM20 34h1v1h-1zM36 34h1v1h-1zM40 34h1v1h-1zM47 34h1v1h-1zM73 34h2v1h-2zM81 34h1v1h-1zM94 34h1v1h-1zM97 34h1v1h-1zM99 34h1v1h-1zM21 35h1v1h-1zM30 35h1v1h-1zM33 35h1v1h-1zM70 35h1v1h-1zM85 35h1v1h-1zM87 35h1v1h-1zM92 35h2v1h-2zM95 35h1v1h-1zM99 35h3v1h-3zM22 36h1v1h-1zM25 36h1v1h-1zM27 36h1v1h-1zM34 36h1v1h-1zM69 36h1v1h-1zM83 36h1v1h-1zM87 36h1v1h-1zM96 36h1v1h-1zM57 37h1v1h-1zM69 37h1v1h-1zM4 38h1v1h-1zM11 38h1v1h-1zM25 38h1v1h-1zM43 38h1v1h-1zM49 38h1v1h-1zM72 38h1v1h-1zM46 39h1v1h-1zM50 39h1v1h-1zM70 39h1v1h-1zM15 40h1v1h-1zM17 40h1v1h-1zM29 40h1v1h-1zM34 40h1v1h-1zM72 40h1v1h-1zM81 40h1v1h-1zM92 40h2v1h-2zM96 40h2v1h-2zM100 40h1v1h-1zM1 41h1v1h-1zM3 41h1v1h-1zM9 41h1v1h-1zM75 41h1v1h-1zM79 41h1v1h-1zM92 41h1v1h-1zM94 41h2v1h-2zM97 41h1v1h-1zM99 41h2v1h-2zM12 42h1v1h-1zM75 42h1v1h-1zM90 42h1v1h-1zM92 42h1v1h-1zM94 42h1v1h-1zM96 42h4v1h-4zM101 42h1v1h-1zM14 43h2v1h-2zM33 43h1v1h-1zM38 43h1v1h-1zM59 43h1v1h-1zM2 44h1v1h-1zM7 44h1v1h-1zM70 44h1v1h-1zM10 45h1v1h-1zM18 45h1v1h-1zM21 45h1v1h-1zM33 45h1v1h-1zM78 45h2v1h-2zM90 45h2v1h-2zM100 45h1v1h-1zM11 46h1v1h-1zM13 46h1v1h-1zM23 46h1v1h-1zM39 46h1v1h-1zM70 46h1v1h-1zM26 47h1v1h-1zM34 47h1v1h-1zM51 47h1v1h-1zM83 47h1v1h-1zM12 48h1v1h-1zM78 48h1v1h-1zM8 49h1v1h-1zM13 49h1v1h-1zM38 49h1v1h-1zM52 49h1v1h-1zM76 49h1v1h-1zM93 49h1v1h-1zM95 49h2v1h-2zM3 50h1v1h-1zM39 50h1v1h-1zM58 50h1v1h-1zM77 50h1v1h-1zM80 50h1v1h-1zM89 50h3v1h-3zM94 50h3v1h-3zM99 50h2v1h-2zM47 51h1v1h-1zM69 51h1v1h-1zM80 51h1v1h-1zM82 51h1v1h-1zM94 51h1v1h-1zM3 52h1v1h-1zM49 52h1v1h-1zM70 52h1v1h-1zM75 52h1v1h-1zM3 53h1v1h-1zM66 53h2v1h-2zM75 53h1v1h-1zM87 53h2v1h-2zM91 53h1v1h-1zM100 53h1v1h-1zM28 54h1v1h-1zM58 54h1v1h-1zM72 54h2v1h-2zM75 54h2v1h-2zM68 55h1v1h-1zM73 55h1v1h-1zM79 55h1v1h-1zM87 55h2v1h-2zM90 55h1v1h-1zM97 55h1v1h-1zM99 55h1v1h-1zM29 56h1v1h-1zM61 56h1v1h-1zM10 57h1v1h-1zM12 57h1v1h-1zM16 57h1v1h-1zM31 57h1v1h-1zM37 57h1v1h-1zM81 57h2v1h-2zM23 58h1v1h-1zM50 58h1v1h-1zM54 58h1v1h-1zM61 58h1v1h-1zM64 58h1v1h-1zM2 59h1v1h-1zM12 59h2v1h-2zM43 59h1v1h-1zM0 60h1v1h-1zM2 60h1v1h-1zM33 60h1v1h-1zM61 60h1v1h-1zM82 60h1v1h-1zM6 61h1v1h-1zM15 61h1v1h-1zM31 61h1v1h-1zM56 61h1v1h-1zM58 61h1v1h-1zM60 61h1v1h-1zM70 61h1v1h-1zM85 61h1v1h-1zM5 62h1v1h-1zM18 62h1v1h-1zM70 62h1v1h-1zM0 63h1v1h-1zM74 63h1v1h-1zM0 64h1v1h-1zM58 64h1v1h-1zM74 64h1v1h-1zM81 64h1v1h-1zM71 65h1v1h-1zM20 66h1v1h-1zM25 66h1v1h-1zM53 66h1v1h-1zM0 67h1v1h-1zM19 67h1v1h-1zM53 67h1v1h-1zM15 68h1v1h-1zM32 68h1v1h-1zM55 68h1v1h-1zM81 68h1v1h-1zM86 68h1v1h-1zM89 68h1v1h-1zM9 69h2v1h-2zM15 69h1v1h-1zM19 69h1v1h-1zM21 69h1v1h-1zM23 69h1v1h-1zM30 69h1v1h-1zM32 69h1v1h-1zM36 69h2v1h-2zM51 69h1v1h-1zM76 69h1v1h-1zM79 69h1v1h-1zM82 69h1v1h-1zM86 69h1v1h-1zM35 70h1v1h-1zM39 70h1v1h-1zM44 70h1v1h-1zM46 70h1v1h-1zM52 70h1v1h-1zM61 70h2v1h-2zM79 70h1v1h-1zM7 71h2v1h-2zM20 71h2v1h-2zM65 71h1v1h-1zM78 71h1v1h-1zM80 71h2v1h-2zM84 71h1v1h-1zM3 72h1v1h-1zM21 72h1v1h-1zM24 72h1v1h-1zM38 72h1v1h-1zM40 72h1v1h-1zM54 72h1v1h-1zM88 72h1v1h-1zM10 73h1v1h-1zM21 73h1v1h-1zM34 73h1v1h-1zM54 73h2v1h-2zM1 74h1v1h-1zM18 74h1v1h-1zM34 74h1v1h-1zM63 74h2v1h-2zM3 75h1v1h-1zM5 75h2v1h-2zM20 75h1v1h-1zM24 75h1v1h-1zM41 75h2v1h-2zM52 75h3v1h-3zM5 76h1v1h-1zM25 76h2v1h-2zM49 76h1v1h-1zM54 76h1v1h-1zM69 76h1v1h-1zM1 77h1v1h-1zM50 77h1v1h-1zM45 78h1v1h-1zM48 78h1v1h-1zM71 78h1v1h-1zM19 79h1v1h-1zM29 79h1v1h-1zM32 79h1v1h-1zM41 79h1v1h-1zM45 79h1v1h-1zM55 79h1v1h-1zM69 79h2v1h-2zM2 80h1v1h-1zM23 80h1v1h-1zM33 80h1v1h-1zM50 80h2v1h-2zM71 80h1v1h-1zM1 81h1v1h-1zM20 81h1v1h-1zM23 81h1v1h-1zM25 81h1v1h-1zM34 81h1v1h-1zM40 81h1v1h-1zM57 81h1v1h-1zM64 81h1v1h-1zM68 81h1v1h-1zM71 81h1v1h-1zM13 82h1v1h-1zM51 82h1v1h-1zM57 82h1v1h-1zM60 82h1v1h-1zM69 82h1v1h-1zM18 83h1v1h-1zM36 83h1v1h-1zM47 83h1v1h-1zM28 84h1v1h-1zM71 84h1v1h-1zM4 85h1v1h-1zM10 85h1v1h-1zM16 85h1v1h-1zM28 85h1v1h-1zM35 85h1v1h-1zM61 85h1v1h-1zM11 86h1v1h-1zM26 86h2v1h-2zM68 86h2v1h-2zM21 87h1v1h-1zM35 87h2v1h-2zM53 87h1v1h-1zM55 87h1v1h-1zM0 88h1v1h-1zM26 88h1v1h-1zM53 88h1v1h-1zM55 88h1v1h-1zM72 88h1v1h-1zM0 89h1v1h-1zM20 89h1v1h-1zM26 89h1v1h-1zM32 89h1v1h-1zM50 89h1v1h-1zM68 89h1v1h-1zM3 90h1v1h-1zM22 90h1v1h-1zM42 90h1v1h-1zM45 90h1v1h-1zM50 90h1v1h-1zM55 90h1v1h-1zM1 91h1v1h-1zM3 91h1v1h-1zM17 91h2v1h-2zM22 91h1v1h-1zM32 91h1v1h-1zM45 91h1v1h-1zM50 91h1v1h-1zM53 91h1v1h-1zM17 92h1v1h-1zM19 92h2v1h-2zM22 92h1v1h-1zM32 92h1v1h-1zM35 92h1v1h-1zM40 92h3v1h-3zM17 93h1v1h-1zM19 93h1v1h-1zM22 93h1v1h-1zM32 93h1v1h-1zM35 93h1v1h-1zM40 93h1v1h-1zM49 93h1v1h-1zM1 94h1v1h-1zM18 94h2v1h-2zM21 94h2v1h-2zM32 94h1v1h-1zM34 94h1v1h-1zM41 94h2v1h-2zM50 94h2v1h-2zM1 95h1v1h-1zM3 95h1v1h-1zM35 95h1v1h-1zM41 95h1v1h-1zM49 95h2v1h-2zM3 96h1v1h-1zM18 96h1v1h-1zM22 96h1v1h-1zM36 96h1v1h-1zM40 96h1v1h-1zM42 96h1v1h-1zM49 96h2v1h-2zM16 97h1v1h-1zM19 97h1v1h-1zM21 97h1v1h-1zM34 97h1v1h-1zM40 97h3v1h-3zM55 97h1v1h-1zM1 98h1v1h-1zM3 98h1v1h-1zM20 98h3v1h-3zM32 98h1v1h-1zM42 98h1v1h-1zM3 99h1v1h-1zM18 99h1v1h-1zM21 99h1v1h-1zM33 99h3v1h-3zM41 99h2v1h-2zM50 99h1v1h-1zM55 99h1v1h-1zM1 100h1v1h-1zM20 100h1v1h-1zM35 100h1v1h-1zM40 100h2v1h-2zM45 100h1v1h-1zM50 100h1v1h-1zM53 100h1v1h-1zM3 101h1v1h-1zM18 101h1v1h-1zM32 101h1v1h-1zM35 101h1v1h-1zM42 101h1v1h-1z"/>
<path fill="#121220" d="M24 0h1v1h-1zM44 0h1v1h-1zM50 0h1v1h-1zM57 0h1v1h-1zM12 1h1v1h-1zM44 1h1v1h-1zM52 1h1v1h-1zM55 1h1v1h-1zM75 1h1v1h-1zM88 1h1v1h-1zM92 1h2v1h-2zM101 1h1v1h-1zM6 2h2v1h-2zM11 2h2v1h-2zM66 2h1v1h-1zM81 2h1v1h-1zM83 2h1v1h-1zM24 3h1v1h-1zM35 3h1v1h-1zM37 3h1v1h-1zM54 3h1v1h-1zM77 3h1v1h-1zM92 3h3v1h-3zM97 3h1v1h-1zM100 3h1v1h-1zM9 4h1v1h-1zM61 4h1v1h-1zM74 4h1v1h-1zM9 5h1v1h-1zM13 5h1v1h-1zM32 5h1v1h-1zM35 5h1v1h-1zM46 5h1v1h-1zM57 5h1v1h-1zM74 5h1v1h-1zM77 5h1v1h-1zM2 6h1v1h-1zM12 6h1v1h-1zM16 6h1v1h-1zM32 6h1v1h-1zM39 6h1v1h-1zM51 6h2v1h-2zM2 7h1v1h-1zM9 7h1v1h-1zM16 7h1v1h-1zM37 7h1v1h-1zM79 7h1v1h-1zM34 8h1v1h-1zM42 8h1v1h-1zM45 8h1v1h-1zM83 8h2v1h-2zM4 9h2v1h-2zM7 9h1v1h-1zM21 9h1v1h-1zM50 9h1v1h-1zM60 9h1v1h-1zM74 9h1v1h-1zM89 9h1v1h-1zM27 10h2v1h-2zM84 10h1v1h-1zM88 10h2v1h-2zM2 11h1v1h-1zM14 11h1v1h-1zM16 11h1v1h-1zM31 11h1v1h-1zM36 11h1v1h-1zM51 11h1v1h-1zM68 11h1v1h-1zM73 11h1v1h-1zM76 11h1v1h-1zM90 11h1v1h-1zM92 11h2v1h-2zM95 11h1v1h-1zM98 11h1v1h-1zM100 11h2v1h-2zM1 12h2v1h-2zM6 12h1v1h-1zM23 12h1v1h-1zM25 12h1v1h-1zM36 12h1v1h-1zM45 12h1v1h-1zM70 12h3v1h-3zM87 12h1v1h-1zM5 13h1v1h-1zM24 13h1v1h-1zM66 13h2v1h-2zM72 13h1v1h-1zM87 13h1v1h-1zM11 14h1v1h-1zM17 14h1v1h-1zM46 14h1v1h-1zM58 14h1v1h-1zM61 14h1v1h-1zM70 14h1v1h-1zM72 14h1v1h-1zM22 15h1v1h-1zM26 15h1v1h-1zM29 15h1v1h-1zM33 15h1v1h-1zM36 15h1v1h-1zM38 15h1v1h-1zM44 15h1v1h-1zM51 15h2v1h-2zM58 15h1v1h-1zM64 15h2v1h-2zM71 15h1v1h-1zM73 15h1v1h-1zM89 15h1v1h-1zM6 16h2v1h-2zM11 16h1v1h-1zM26 16h1v1h-1zM29 16h1v1h-1zM40 16h1v1h-1zM80 16h1v1h-1zM90 16h2v1h-2zM95 16h2v1h-2zM98 16h1v1h-1zM101 16h1v1h-1zM14 17h1v1h-1zM36 17h2v1h-2zM45 17h2v1h-2zM85 17h3v1h-3zM90 17h1v1h-1zM94 17h1v1h-1zM98 17h2v1h-2zM101 17h1v1h-1zM22 18h1v1h-1zM26 18h1v1h-1zM56 18h1v1h-1zM79 18h2v1h-2zM88 18h1v1h-1zM95 18h1v1h-1zM25 19h1v1h-1zM27 19h1v1h-1zM47 19h1v1h-1zM81 19h1v1h-1zM99 19h1v1h-1zM28 20h1v1h-1zM32 20h1v1h-1zM39 20h1v1h-1zM44 20h1v1h-1zM50 20h1v1h-1zM54 20h1v1h-1zM68 20h1v1h-1zM72 20h1v1h-1zM83 20h1v1h-1zM94 20h1v1h-1zM9 21h1v1h-1zM25 21h2v1h-2zM30 21h1v1h-1zM57 21h1v1h-1zM75 21h1v1h-1zM80 21h1v1h-1zM91 21h2v1h-2zM15 22h1v1h-1zM18 22h1v1h-1zM27 22h1v1h-1zM29 22h1v1h-1zM71 22h1v1h-1zM87 22h1v1h-1zM101 22h1v1h-1zM12 23h1v1h-1zM43 23h1v1h-1zM71 23h1v1h-1zM82 23h1v1h-1zM0 24h1v1h-1zM3 24h1v1h-1zM13 24h1v1h-1zM39 24h1v1h-1zM56 24h1v1h-1zM66 24h1v1h-1zM82 24h1v1h-1zM88 24h1v1h-1zM12 25h1v1h-1zM19 25h1v1h-1zM21 25h1v1h-1zM28 25h1v1h-1zM40 25h1v1h-1zM58 25h1v1h-1zM68 25h1v1h-1zM72 25h1v1h-1zM15 26h2v1h-2zM18 26h1v1h-1zM21 26h1v1h-1zM27 26h1v1h-1zM30 26h1v1h-1zM41 26h1v1h-1zM46 26h1v1h-1zM71 26h2v1h-2zM10 27h1v1h-1zM19 27h1v1h-1zM22 27h1v1h-1zM26 27h1v1h-1zM45 27h1v1h-1zM68 27h1v1h-1zM85 27h1v1h-1zM88 27h1v1h-1zM10 28h1v1h-1zM20 28h1v1h-1zM25 28h1v1h-1zM32 28h1v1h-1zM35 28h1v1h-1zM40 28h1v1h-1zM76 28h1v1h-1zM80 28h1v1h-1zM15 29h2v1h-2zM22 29h1v1h-1zM21 30h1v1h-1zM26 30h1v1h-1zM48 30h2v1h-2zM68 30h1v1h-1zM86 30h1v1h-1zM11 31h1v1h-1zM87 31h1v1h-1zM5 32h2v1h-2zM20 32h1v1h-1zM28 32h1v1h-1zM33 32h1v1h-1zM73 32h1v1h-1zM75 32h1v1h-1zM82 32h2v1h-2zM95 32h1v1h-1zM97 32h1v1h-1zM99 32h1v1h-1zM15 33h1v1h-1zM32 33h1v1h-1zM48 33h1v1h-1zM76 33h1v1h-1zM78 33h1v1h-1zM92 33h1v1h-1zM95 33h4v1h-4zM100 33h2v1h-2zM8 34h1v1h-1zM44 34h1v1h-1zM67 34h3v1h-3zM72 34h1v1h-1zM80 34h1v1h-1zM3 35h1v1h-1zM5 35h1v1h-1zM28 35h1v1h-1zM81 35h1v1h-1zM90 35h1v1h-1zM97 35h1v1h-1zM11 36h2v1h-2zM15 36h1v1h-1zM17 36h1v1h-1zM47 36h1v1h-1zM60 36h1v1h-1zM88 36h1v1h-1zM90 36h1v1h-1zM94 36h2v1h-2zM97 36h1v1h-1zM99 36h2v1h-2zM3 37h1v1h-1zM7 37h1v1h-1zM17 37h1v1h-1zM46 37h1v1h-1zM82 37h1v1h-1zM15 38h1v1h-1zM39 38h1v1h-1zM78 38h1v1h-1zM6 39h1v1h-1zM20 39h1v1h-1zM24 39h1v1h-1zM38 39h1v1h-1zM71 39h1v1h-1zM76 39h2v1h-2zM80 39h1v1h-1zM87 39h1v1h-1zM90 39h5v1h-5zM96 39h3v1h-3zM100 39h2v1h-2zM16 40h1v1h-1zM25 40h1v1h-1zM28 40h1v1h-1zM48 40h1v1h-1zM68 40h1v1h-1zM70 40h1v1h-1zM91 40h1v1h-1zM94 40h2v1h-2zM98 40h2v1h-2zM26 41h1v1h-1zM42 41h1v1h-1zM46 41h1v1h-1zM72 41h1v1h-1zM88 41h1v1h-1zM93 41h1v1h-1zM96 41h1v1h-1zM8 42h1v1h-1zM41 42h1v1h-1zM54 42h1v1h-1zM64 42h1v1h-1zM83 42h1v1h-1zM95 42h1v1h-1zM23 43h1v1h-1zM66 43h1v1h-1zM69 43h1v1h-1zM75 43h1v1h-1zM77 43h2v1h-2zM82 43h1v1h-1zM0 44h2v1h-2zM15 44h1v1h-1zM20 44h1v1h-1zM34 44h1v1h-1zM47 44h1v1h-1zM69 44h1v1h-1zM8 45h1v1h-1zM12 45h1v1h-1zM17 45h1v1h-1zM27 45h1v1h-1zM56 45h1v1h-1zM67 45h1v1h-1zM70 45h2v1h-2zM93 45h1v1h-1zM95 45h1v1h-1zM5 46h1v1h-1zM14 46h1v1h-1zM17 46h1v1h-1zM26 46h1v1h-1zM37 46h1v1h-1zM41 46h1v1h-1zM80 46h1v1h-1zM19 47h1v1h-1zM36 47h1v1h-1zM44 47h1v1h-1zM54 47h1v1h-1zM85 47h1v1h-1zM88 47h1v1h-1zM30 48h1v1h-1zM33 48h1v1h-1zM40 48h1v1h-1zM68 48h1v1h-1zM74 48h1v1h-1zM84 48h1v1h-1zM97 48h2v1h-2zM30 49h1v1h-1zM78 49h1v1h-1zM80 49h1v1h-1zM86 49h1v1h-1zM90 49h3v1h-3zM94 49h1v1h-1zM98 49h1v1h-1zM100 49h2v1h-2zM0 50h1v1h-1zM9 50h1v1h-1zM20 50h1v1h-1zM68 50h1v1h-1zM79 50h1v1h-1zM82 50h1v1h-1zM85 50h1v1h-1zM92 50h2v1h-2zM98 50h1v1h-1zM101 50h1v1h-1zM6 51h1v1h-1zM11 51h1v1h-1zM15 51h1v1h-1zM55 51h1v1h-1zM58 51h1v1h-1zM86 51h1v1h-1zM91 51h2v1h-2zM99 51h1v1h-1zM1 52h1v1h-1zM6 52h1v1h-1zM15 52h1v1h-1zM58 52h1v1h-1zM79 52h1v1h-1zM82 52h1v1h-1zM89 52h1v1h-1zM93 52h1v1h-1zM95 52h2v1h-2zM98 52h1v1h-1zM58 53h1v1h-1zM73 53h1v1h-1zM79 53h1v1h-1zM90 53h1v1h-1zM93 53h3v1h-3zM97 53h1v1h-1zM3 54h1v1h-1zM20 54h1v1h-1zM42 54h1v1h-1zM47 54h1v1h-1zM71 54h1v1h-1zM79 54h1v1h-1zM82 54h1v1h-1zM1 55h1v1h-1zM51 55h1v1h-1zM56 55h2v1h-2zM81 55h1v1h-1zM91 55h1v1h-1zM93 55h4v1h-4zM100 55h2v1h-2zM18 56h1v1h-1zM24 56h1v1h-1zM45 56h1v1h-1zM55 56h1v1h-1zM70 56h1v1h-1zM75 56h1v1h-1zM87 56h1v1h-1zM0 57h1v1h-1zM5 57h1v1h-1zM21 57h1v1h-1zM55 57h1v1h-1zM83 57h1v1h-1zM85 57h1v1h-1zM14 58h2v1h-2zM25 58h1v1h-1zM51 58h3v1h-3zM63 58h1v1h-1zM63 59h1v1h-1zM70 59h1v1h-1zM88 59h1v1h-1zM9 60h1v1h-1zM36 60h1v1h-1zM63 60h1v1h-1zM73 60h1v1h-1zM81 60h1v1h-1zM84 60h1v1h-1zM4 61h1v1h-1zM14 61h1v1h-1zM67 61h2v1h-2zM84 61h1v1h-1zM76 62h1v1h-1zM81 62h1v1h-1zM83 62h1v1h-1zM89 62h1v1h-1zM58 63h3v1h-3zM75 63h1v1h-1zM88 63h1v1h-1zM15 64h1v1h-1zM42 64h1v1h-1zM76 64h1v1h-1zM87 64h1v1h-1zM15 65h1v1h-1zM85 65h1v1h-1zM87 65h1v1h-1zM2 66h1v1h-1zM13 66h1v1h-1zM24 66h1v1h-1zM43 66h1v1h-1zM13 67h1v1h-1zM34 67h1v1h-1zM45 67h1v1h-1zM61 67h1v1h-1zM11 68h1v1h-1zM20 68h1v1h-1zM25 68h1v1h-1zM27 68h1v1h-1zM30 68h1v1h-1zM34 68h1v1h-1zM40 68h1v1h-1zM48 68h1v1h-1zM50 68h1v1h-1zM61 68h1v1h-1zM87 68h1v1h-1zM34 69h1v1h-1zM43 69h2v1h-2zM78 69h1v1h-1zM84 69h1v1h-1zM87 69h1v1h-1zM12 70h1v1h-1zM14 70h1v1h-1zM40 70h1v1h-1zM45 70h1v1h-1zM56 70h1v1h-1zM59 70h1v1h-1zM85 70h1v1h-1zM12 71h1v1h-1zM15 71h1v1h-1zM22 71h2v1h-2zM26 71h1v1h-1zM39 71h1v1h-1zM45 71h1v1h-1zM54 71h1v1h-1zM85 71h1v1h-1zM87 71h1v1h-1zM89 71h1v1h-1zM12 72h3v1h-3zM20 72h1v1h-1zM25 72h2v1h-2zM34 72h1v1h-1zM41 72h1v1h-1zM75 72h1v1h-1zM82 72h1v1h-1zM84 72h1v1h-1zM86 72h1v1h-1zM89 72h1v1h-1zM11 73h1v1h-1zM15 73h1v1h-1zM32 73h1v1h-1zM53 73h1v1h-1zM60 73h1v1h-1zM4 74h2v1h-2zM9 74h1v1h-1zM48 74h1v1h-1zM1 75h1v1h-1zM21 75h1v1h-1zM32 75h1v1h-1zM43 75h1v1h-1zM56 75h1v1h-1zM63 75h1v1h-1zM72 75h1v1h-1zM11 76h1v1h-1zM28 76h1v1h-1zM33 76h1v1h-1zM39 76h1v1h-1zM62 76h1v1h-1zM64 76h1v1h-1zM3 77h1v1h-1zM5 77h1v1h-1zM39 77h1v1h-1zM43 77h1v1h-1zM33 78h1v1h-1zM38 78h1v1h-1zM43 78h1v1h-1zM49 78h1v1h-1zM69 78h1v1h-1zM7 79h1v1h-1zM18 79h1v1h-1zM50 79h1v1h-1zM52 79h3v1h-3zM16 80h1v1h-1zM18 80h1v1h-1zM21 80h1v1h-1zM28 80h1v1h-1zM34 80h1v1h-1zM39 80h1v1h-1zM46 80h1v1h-1zM49 80h1v1h-1zM2 81h1v1h-1zM19 81h1v1h-1zM35 81h1v1h-1zM55 81h1v1h-1zM60 81h1v1h-1zM62 81h1v1h-1zM23 82h2v1h-2zM32 82h1v1h-1zM37 82h1v1h-1zM43 82h1v1h-1zM50 82h1v1h-1zM52 82h1v1h-1zM54 82h1v1h-1zM72 82h1v1h-1zM2 83h1v1h-1zM8 83h1v1h-1zM20 83h1v1h-1zM32 83h1v1h-1zM42 83h1v1h-1zM57 83h1v1h-1zM62 83h1v1h-1zM8 84h1v1h-1zM10 84h1v1h-1zM48 84h1v1h-1zM60 84h2v1h-2zM69 84h1v1h-1zM72 84h1v1h-1zM17 85h1v1h-1zM27 85h1v1h-1zM47 85h1v1h-1zM50 85h1v1h-1zM57 85h1v1h-1zM65 85h1v1h-1zM70 85h2v1h-2zM17 86h1v1h-1zM30 86h1v1h-1zM49 86h1v1h-1zM51 86h1v1h-1zM72 86h1v1h-1zM12 87h2v1h-2zM17 87h1v1h-1zM22 87h1v1h-1zM31 87h1v1h-1zM39 87h1v1h-1zM56 87h1v1h-1zM64 87h2v1h-2zM68 87h2v1h-2zM71 87h1v1h-1zM1 88h1v1h-1zM10 88h1v1h-1zM18 88h1v1h-1zM24 88h1v1h-1zM27 88h1v1h-1zM36 88h1v1h-1zM41 88h1v1h-1zM47 88h1v1h-1zM59 88h1v1h-1zM63 88h1v1h-1zM9 89h2v1h-2zM15 89h1v1h-1zM52 89h1v1h-1zM62 89h1v1h-1zM71 89h2v1h-2zM11 90h1v1h-1zM16 90h2v1h-2zM35 90h2v1h-2zM39 90h1v1h-1zM49 90h1v1h-1zM53 90h1v1h-1zM16 91h1v1h-1zM21 91h1v1h-1zM39 91h2v1h-2zM49 91h1v1h-1zM51 91h1v1h-1zM55 91h1v1h-1zM1 92h1v1h-1zM3 92h1v1h-1zM11 92h1v1h-1zM21 92h1v1h-1zM33 92h1v1h-1zM39 92h1v1h-1zM49 92h3v1h-3zM1 93h1v1h-1zM3 93h1v1h-1zM11 93h1v1h-1zM39 93h1v1h-1zM41 93h1v1h-1zM45 93h1v1h-1zM50 93h1v1h-1zM52 93h2v1h-2zM55 93h1v1h-1zM3 94h1v1h-1zM17 94h1v1h-1zM20 94h1v1h-1zM36 94h1v1h-1zM39 94h2v1h-2zM49 94h1v1h-1zM53 94h1v1h-1zM55 94h1v1h-1zM11 95h1v1h-1zM16 95h1v1h-1zM18 95h1v1h-1zM32 95h2v1h-2zM36 95h1v1h-1zM40 95h1v1h-1zM42 95h1v1h-1zM45 95h1v1h-1zM52 95h2v1h-2zM55 95h1v1h-1zM16 96h1v1h-1zM33 96h1v1h-1zM39 96h1v1h-1zM41 96h1v1h-1zM52 96h1v1h-1zM55 96h1v1h-1zM3 97h1v1h-1zM32 97h2v1h-2zM35 97h2v1h-2zM39 97h1v1h-1zM48 97h1v1h-1zM53 97h1v1h-1zM11 98h1v1h-1zM16 98h2v1h-2zM33 98h1v1h-1zM39 98h2v1h-2zM48 98h3v1h-3zM52 98h1v1h-1zM17 99h1v1h-1zM19 99h1v1h-1zM32 99h1v1h-1zM36 99h1v1h-1zM40 99h1v1h-1zM51 99h1v1h-1zM3 100h1v1h-1zM11 100h1v1h-1zM33 100h1v1h-1zM36 100h1v1h-1zM39 100h1v1h-1zM49 100h1v1h-1zM55 100h1v1h-1zM1 101h1v1h-1zM11 101h1v1h-1zM16 101h2v1h-2zM22 101h1v1h-1zM33 101h1v1h-1zM39 101h1v1h-1zM49 101h2v1h-2zM55 101h1v1h-1z"/>
<path fill="#0c0c14" d="M6 0h1v1h-1zM9 0h1v1h-1zM12 0h1v1h-1zM23 0h1v1h-1zM26 0h1v1h-1zM31 0h1v1h-1zM33 0h1v1h-1zM36 0h1v1h-1zM43 0h1v1h-1zM48 0h1v1h-1zM51 0h1v1h-1zM56 0h1v1h-1zM59 0h1v1h-1zM14 1h1v1h-1zM29 1h1v1h-1zM57 1h1v1h-1zM61 1h1v1h-1zM64 1h2v1h-2zM69 1h1v1h-1zM73 1h1v1h-1zM76 1h1v1h-1zM78 1h1v1h-1zM84 1h2v1h-2zM87 1h1v1h-1zM90 1h1v1h-1zM18 2h1v1h-1zM21 2h1v1h-1zM45 2h1v1h-1zM63 2h1v1h-1zM82 2h1v1h-1zM14 3h1v1h-1zM26 3h2v1h-2zM34 3h1v1h-1zM84 3h1v1h-1zM88 3h1v1h-1zM15 4h1v1h-1zM31 4h1v1h-1zM35 4h1v1h-1zM47 4h1v1h-1zM57 4h1v1h-1zM59 4h1v1h-1zM11 5h1v1h-1zM16 5h1v1h-1zM26 5h1v1h-1zM29 5h1v1h-1zM63 5h1v1h-1zM65 5h3v1h-3zM69 5h1v1h-1zM79 5h1v1h-1zM0 6h1v1h-1zM48 6h1v1h-1zM54 6h1v1h-1zM67 6h1v1h-1zM70 6h1v1h-1zM88 6h1v1h-1zM91 6h3v1h-3zM95 6h1v1h-1zM99 6h1v1h-1zM101 6h1v1h-1zM19 7h1v1h-1zM23 7h1v1h-1zM27 7h1v1h-1zM29 7h1v1h-1zM31 7h1v1h-1zM36 7h1v1h-1zM45 7h1v1h-1zM52 7h1v1h-1zM62 7h1v1h-1zM68 7h1v1h-1zM80 7h1v1h-1zM83 7h1v1h-1zM86 7h1v1h-1zM31 8h1v1h-1zM39 8h1v1h-1zM50 8h1v1h-1zM53 8h1v1h-1zM56 8h1v1h-1zM65 8h1v1h-1zM0 9h1v1h-1zM26 9h1v1h-1zM43 9h1v1h-1zM49 9h1v1h-1zM55 9h1v1h-1zM61 9h1v1h-1zM65 9h1v1h-1zM78 9h1v1h-1zM86 9h2v1h-2zM19 10h1v1h-1zM25 10h1v1h-1zM29 10h1v1h-1zM32 10h1v1h-1zM34 10h1v1h-1zM37 10h1v1h-1zM60 10h2v1h-2zM66 10h2v1h-2zM71 10h1v1h-1zM5 11h1v1h-1zM12 11h2v1h-2zM32 11h1v1h-1zM40 11h1v1h-1zM72 11h1v1h-1zM74 11h1v1h-1zM81 11h2v1h-2zM88 11h1v1h-1zM91 11h1v1h-1zM96 11h2v1h-2zM99 11h1v1h-1zM0 12h1v1h-1zM11 12h1v1h-1zM22 12h1v1h-1zM61 12h1v1h-1zM67 12h1v1h-1zM11 13h1v1h-1zM25 13h1v1h-1zM60 13h1v1h-1zM1 14h1v1h-1zM3 14h1v1h-1zM28 14h1v1h-1zM37 14h1v1h-1zM40 14h1v1h-1zM45 14h1v1h-1zM48 14h1v1h-1zM54 14h1v1h-1zM63 14h1v1h-1zM67 14h1v1h-1zM82 14h1v1h-1zM4 15h1v1h-1zM30 15h1v1h-1zM46 15h1v1h-1zM48 15h1v1h-1zM79 15h1v1h-1zM81 15h1v1h-1zM5 16h1v1h-1zM23 16h1v1h-1zM49 16h1v1h-1zM60 16h1v1h-1zM77 16h1v1h-1zM84 16h1v1h-1zM92 16h3v1h-3zM99 16h1v1h-1zM26 17h1v1h-1zM38 17h1v1h-1zM56 17h1v1h-1zM61 17h1v1h-1zM74 17h1v1h-1zM76 17h1v1h-1zM79 17h1v1h-1zM84 17h1v1h-1zM95 17h2v1h-2zM100 17h1v1h-1zM2 18h1v1h-1zM27 18h1v1h-1zM7 19h1v1h-1zM10 19h1v1h-1zM21 19h1v1h-1zM24 19h1v1h-1zM30 19h1v1h-1zM35 19h1v1h-1zM39 19h1v1h-1zM56 19h1v1h-1zM73 19h1v1h-1zM80 19h1v1h-1zM85 19h1v1h-1zM89 19h1v1h-1zM40 20h1v1h-1zM67 20h1v1h-1zM70 20h1v1h-1zM79 20h1v1h-1zM2 21h1v1h-1zM19 21h1v1h-1zM22 21h1v1h-1zM46 21h1v1h-1zM55 21h1v1h-1zM67 21h1v1h-1zM70 21h1v1h-1zM79 21h1v1h-1zM81 21h1v1h-1zM86 21h1v1h-1zM89 21h1v1h-1zM12 22h1v1h-1zM21 22h1v1h-1zM37 22h1v1h-1zM41 22h1v1h-1zM58 22h1v1h-1zM74 22h3v1h-3zM78 22h1v1h-1zM84 22h1v1h-1zM0 23h1v1h-1zM7 23h1v1h-1zM16 23h1v1h-1zM26 23h1v1h-1zM31 23h1v1h-1zM19 24h1v1h-1zM28 24h1v1h-1zM45 24h1v1h-1zM58 24h1v1h-1zM67 24h2v1h-2zM70 24h1v1h-1zM76 24h1v1h-1zM80 24h1v1h-1zM95 24h1v1h-1zM101 24h1v1h-1zM10 25h1v1h-1zM13 25h1v1h-1zM48 25h1v1h-1zM63 25h1v1h-1zM71 25h1v1h-1zM74 25h1v1h-1zM80 25h1v1h-1zM85 25h1v1h-1zM97 25h1v1h-1zM99 25h1v1h-1zM0 26h1v1h-1zM3 26h1v1h-1zM5 26h1v1h-1zM9 26h1v1h-1zM17 26h1v1h-1zM23 26h1v1h-1zM40 26h1v1h-1zM53 26h1v1h-1zM57 26h1v1h-1zM61 26h1v1h-1zM68 26h1v1h-1zM70 26h1v1h-1zM3 27h1v1h-1zM7 27h1v1h-1zM18 27h1v1h-1zM33 27h2v1h-2zM46 27h1v1h-1zM60 27h1v1h-1zM69 27h1v1h-1zM14 28h1v1h-1zM24 28h1v1h-1zM45 28h1v1h-1zM58 28h1v1h-1zM73 28h1v1h-1zM1 29h1v1h-1zM5 29h1v1h-1zM7 29h1v1h-1zM10 29h1v1h-1zM37 29h1v1h-1zM74 29h1v1h-1zM82 29h2v1h-2zM15 30h1v1h-1zM19 30h1v1h-1zM0 31h1v1h-1zM4 31h1v1h-1zM7 31h2v1h-2zM23 31h1v1h-1zM35 31h1v1h-1zM60 31h1v1h-1zM74 31h2v1h-2zM82 31h1v1h-1zM10 32h2v1h-2zM58 32h1v1h-1zM70 32h1v1h-1zM78 32h1v1h-1zM88 32h1v1h-1zM0 33h1v1h-1zM27 33h1v1h-1zM42 33h1v1h-1zM49 33h1v1h-1zM74 33h1v1h-1zM82 33h1v1h-1zM90 33h2v1h-2zM94 33h1v1h-1zM3 34h1v1h-1zM10 34h1v1h-1zM27 34h1v1h-1zM75 34h1v1h-1zM4 35h1v1h-1zM19 35h1v1h-1zM31 35h1v1h-1zM44 35h2v1h-2zM80 35h1v1h-1zM0 36h1v1h-1zM7 36h1v1h-1zM38 36h1v1h-1zM42 36h2v1h-2zM72 36h1v1h-1zM74 36h3v1h-3zM81 36h1v1h-1zM91 36h3v1h-3zM98 36h1v1h-1zM101 36h1v1h-1zM10 37h1v1h-1zM14 37h1v1h-1zM22 37h1v1h-1zM29 37h1v1h-1zM17 38h1v1h-1zM36 38h1v1h-1zM48 38h1v1h-1zM50 38h1v1h-1zM8 39h1v1h-1zM19 39h1v1h-1zM48 39h1v1h-1zM58 39h2v1h-2zM72 39h1v1h-1zM78 39h2v1h-2zM85 39h1v1h-1zM95 39h1v1h-1zM99 39h1v1h-1zM11 40h1v1h-1zM14 40h1v1h-1zM20 40h1v1h-1zM26 40h1v1h-1zM76 40h1v1h-1zM88 40h1v1h-1zM22 41h1v1h-1zM62 41h1v1h-1zM73 41h1v1h-1zM76 41h1v1h-1zM85 41h1v1h-1zM33 42h1v1h-1zM36 42h1v1h-1zM43 42h1v1h-1zM67 42h1v1h-1zM80 42h1v1h-1zM89 42h1v1h-1zM0 43h1v1h-1zM9 43h1v1h-1zM36 43h1v1h-1zM42 43h1v1h-1zM65 43h1v1h-1zM70 43h1v1h-1zM76 43h1v1h-1zM86 43h3v1h-3zM35 44h1v1h-1zM72 44h1v1h-1zM77 44h2v1h-2zM92 44h1v1h-1zM100 44h1v1h-1zM2 45h1v1h-1zM7 45h1v1h-1zM14 45h1v1h-1zM24 45h1v1h-1zM28 45h1v1h-1zM35 45h1v1h-1zM69 45h1v1h-1zM73 45h1v1h-1zM89 45h1v1h-1zM15 46h1v1h-1zM21 46h1v1h-1zM27 46h1v1h-1zM68 46h1v1h-1zM72 46h1v1h-1zM82 46h1v1h-1zM87 46h1v1h-1zM4 47h1v1h-1zM61 47h1v1h-1zM78 47h1v1h-1zM0 48h1v1h-1zM6 48h1v1h-1zM14 48h2v1h-2zM25 48h1v1h-1zM38 48h2v1h-2zM67 48h1v1h-1zM71 48h1v1h-1zM75 48h2v1h-2zM85 48h1v1h-1zM90 48h7v1h-7zM99 48h3v1h-3zM9 49h1v1h-1zM16 49h1v1h-1zM33 49h1v1h-1zM66 49h1v1h-1zM88 49h1v1h-1zM97 49h1v1h-1zM99 49h1v1h-1zM8 50h1v1h-1zM38 50h1v1h-1zM74 50h1v1h-1zM78 50h1v1h-1zM86 50h1v1h-1zM0 51h1v1h-1zM59 51h1v1h-1zM78 51h1v1h-1zM81 51h1v1h-1zM87 51h2v1h-2zM90 51h1v1h-1zM93 51h1v1h-1zM95 51h4v1h-4zM100 51h2v1h-2zM7 52h1v1h-1zM76 52h1v1h-1zM78 52h1v1h-1zM80 52h2v1h-2zM90 52h1v1h-1zM94 52h1v1h-1zM99 52h2v1h-2zM8 53h1v1h-1zM26 53h1v1h-1zM56 53h1v1h-1zM78 53h1v1h-1zM82 53h1v1h-1zM84 53h1v1h-1zM89 53h1v1h-1zM92 53h1v1h-1zM99 53h1v1h-1zM101 53h1v1h-1zM6 54h1v1h-1zM14 54h1v1h-1zM56 54h1v1h-1zM74 54h1v1h-1zM81 54h1v1h-1zM89 54h1v1h-1zM9 55h1v1h-1zM21 55h1v1h-1zM80 55h1v1h-1zM86 55h1v1h-1zM98 55h1v1h-1zM0 56h1v1h-1zM8 56h1v1h-1zM17 56h1v1h-1zM19 56h1v1h-1zM53 56h2v1h-2zM62 56h1v1h-1zM69 56h1v1h-1zM73 56h1v1h-1zM88 56h1v1h-1zM1 57h1v1h-1zM4 57h1v1h-1zM26 57h1v1h-1zM64 57h2v1h-2zM22 58h1v1h-1zM24 58h1v1h-1zM28 58h1v1h-1zM32 58h1v1h-1zM39 58h1v1h-1zM82 58h1v1h-1zM0 59h1v1h-1zM4 59h1v1h-1zM39 59h1v1h-1zM51 59h1v1h-1zM65 59h1v1h-1zM67 59h1v1h-1zM73 59h1v1h-1zM10 60h1v1h-1zM13 60h1v1h-1zM16 60h1v1h-1zM27 60h1v1h-1zM31 60h1v1h-1zM62 60h1v1h-1zM71 60h1v1h-1zM75 60h1v1h-1zM1 61h1v1h-1zM9 61h2v1h-2zM12 61h1v1h-1zM17 61h1v1h-1zM26 61h1v1h-1zM47 61h1v1h-1zM77 61h1v1h-1zM88 61h1v1h-1zM7 62h1v1h-1zM41 62h1v1h-1zM56 62h1v1h-1zM60 62h1v1h-1zM72 62h1v1h-1zM84 62h1v1h-1zM2 63h1v1h-1zM5 63h1v1h-1zM14 63h1v1h-1zM25 63h1v1h-1zM70 63h1v1h-1zM76 63h1v1h-1zM78 63h1v1h-1zM83 63h1v1h-1zM85 63h1v1h-1zM89 63h1v1h-1zM1 64h1v1h-1zM57 64h1v1h-1zM77 64h1v1h-1zM1 65h1v1h-1zM5 65h1v1h-1zM8 65h2v1h-2zM43 65h1v1h-1zM57 65h1v1h-1zM59 65h1v1h-1zM5 66h1v1h-1zM10 66h1v1h-1zM49 66h1v1h-1zM80 66h1v1h-1zM5 67h2v1h-2zM10 67h1v1h-1zM12 67h1v1h-1zM14 67h1v1h-1zM20 67h2v1h-2zM24 67h1v1h-1zM42 67h1v1h-1zM48 67h1v1h-1zM59 67h1v1h-1zM83 67h1v1h-1zM86 67h1v1h-1zM7 68h1v1h-1zM24 68h1v1h-1zM26 68h1v1h-1zM46 68h1v1h-1zM1 69h1v1h-1zM5 69h1v1h-1zM27 69h1v1h-1zM45 69h1v1h-1zM56 69h1v1h-1zM6 70h1v1h-1zM20 70h2v1h-2zM24 70h1v1h-1zM26 70h1v1h-1zM32 70h1v1h-1zM43 70h1v1h-1zM63 70h1v1h-1zM78 70h1v1h-1zM82 70h2v1h-2zM87 70h1v1h-1zM10 71h1v1h-1zM25 71h1v1h-1zM48 71h1v1h-1zM60 71h1v1h-1zM86 71h1v1h-1zM11 72h1v1h-1zM36 72h1v1h-1zM39 72h1v1h-1zM44 72h1v1h-1zM46 72h1v1h-1zM62 72h1v1h-1zM78 72h1v1h-1zM81 72h1v1h-1zM87 72h1v1h-1zM1 73h1v1h-1zM19 73h1v1h-1zM28 73h1v1h-1zM41 73h1v1h-1zM45 73h1v1h-1zM56 73h1v1h-1zM59 73h1v1h-1zM11 74h1v1h-1zM17 74h1v1h-1zM22 74h1v1h-1zM25 74h1v1h-1zM29 74h1v1h-1zM31 74h1v1h-1zM33 74h1v1h-1zM36 74h1v1h-1zM50 74h1v1h-1zM54 74h1v1h-1zM22 75h1v1h-1zM31 75h1v1h-1zM34 75h1v1h-1zM36 75h1v1h-1zM48 75h1v1h-1zM60 75h1v1h-1zM1 76h1v1h-1zM17 76h1v1h-1zM22 76h1v1h-1zM24 76h1v1h-1zM36 76h1v1h-1zM40 76h2v1h-2zM43 76h1v1h-1zM48 76h1v1h-1zM52 76h1v1h-1zM63 76h1v1h-1zM16 77h1v1h-1zM44 77h1v1h-1zM61 77h1v1h-1zM64 77h1v1h-1zM1 78h1v1h-1zM9 78h1v1h-1zM22 78h1v1h-1zM32 78h1v1h-1zM39 78h1v1h-1zM44 78h1v1h-1zM47 78h1v1h-1zM50 78h4v1h-4zM63 78h1v1h-1zM70 78h1v1h-1zM72 78h1v1h-1zM5 79h1v1h-1zM15 79h1v1h-1zM17 79h1v1h-1zM20 79h2v1h-2zM39 79h1v1h-1zM7 80h1v1h-1zM19 80h1v1h-1zM24 80h2v1h-2zM35 80h1v1h-1zM42 80h1v1h-1zM52 80h1v1h-1zM55 80h1v1h-1zM66 80h1v1h-1zM11 81h1v1h-1zM15 81h1v1h-1zM21 81h1v1h-1zM36 81h1v1h-1zM51 81h2v1h-2zM54 81h1v1h-1zM72 81h1v1h-1zM2 82h1v1h-1zM11 82h1v1h-1zM14 82h1v1h-1zM29 82h1v1h-1zM31 82h1v1h-1zM33 82h1v1h-1zM46 82h1v1h-1zM53 82h1v1h-1zM58 82h1v1h-1zM70 82h1v1h-1zM7 83h1v1h-1zM29 83h1v1h-1zM63 83h1v1h-1zM67 83h1v1h-1zM70 83h1v1h-1zM1 84h1v1h-1zM3 84h1v1h-1zM16 84h2v1h-2zM22 84h1v1h-1zM53 84h1v1h-1zM62 84h1v1h-1zM1 85h1v1h-1zM19 85h1v1h-1zM25 85h1v1h-1zM39 85h1v1h-1zM41 85h1v1h-1zM48 85h1v1h-1zM63 85h1v1h-1zM7 86h1v1h-1zM9 86h1v1h-1zM21 86h1v1h-1zM43 86h1v1h-1zM50 86h1v1h-1zM55 86h1v1h-1zM67 86h1v1h-1zM71 86h1v1h-1zM1 87h1v1h-1zM9 87h1v1h-1zM43 87h1v1h-1zM46 87h1v1h-1zM51 87h1v1h-1zM70 87h1v1h-1zM72 87h1v1h-1zM3 88h1v1h-1zM6 88h1v1h-1zM11 88h1v1h-1zM32 88h1v1h-1zM40 88h1v1h-1zM43 88h1v1h-1zM49 88h1v1h-1zM51 88h1v1h-1zM56 88h1v1h-1zM61 88h1v1h-1zM19 89h1v1h-1zM21 89h1v1h-1zM42 89h1v1h-1zM45 89h1v1h-1zM53 89h2v1h-2zM63 89h1v1h-1zM1 90h1v1h-1zM33 90h1v1h-1zM48 90h1v1h-1zM51 90h2v1h-2zM6 91h1v1h-1zM11 91h1v1h-1zM33 91h1v1h-1zM36 91h1v1h-1zM48 91h1v1h-1zM6 92h1v1h-1zM16 92h1v1h-1zM36 92h1v1h-1zM44 92h1v1h-1zM48 92h1v1h-1zM53 92h1v1h-1zM6 93h1v1h-1zM16 93h1v1h-1zM36 93h1v1h-1zM48 93h1v1h-1zM51 93h1v1h-1zM16 94h1v1h-1zM33 94h1v1h-1zM48 94h1v1h-1zM52 94h1v1h-1zM6 95h1v1h-1zM17 95h1v1h-1zM24 95h1v1h-1zM39 95h1v1h-1zM48 95h1v1h-1zM51 95h1v1h-1zM11 96h1v1h-1zM17 96h1v1h-1zM48 96h1v1h-1zM51 96h1v1h-1zM11 97h1v1h-1zM25 97h1v1h-1zM49 97h1v1h-1zM51 97h1v1h-1zM36 98h1v1h-1zM51 98h1v1h-1zM55 98h1v1h-1zM6 99h1v1h-1zM11 99h1v1h-1zM16 99h1v1h-1zM25 99h1v1h-1zM39 99h1v1h-1zM48 99h2v1h-2zM52 99h2v1h-2zM17 100h1v1h-1zM44 100h1v1h-1zM48 100h1v1h-1zM51 100h2v1h-2zM6 101h1v1h-1zM24 101h1v1h-1zM36 101h1v1h-1zM48 101h1v1h-1zM51 101h1v1h-1zM53 101h1v1h-1z"/>
<path fill="#050509" d="M8 0h1v1h-1zM17 0h1v1h-1zM25 0h1v1h-1zM40 0h1v1h-1zM45 0h1v1h-1zM66 0h1v1h-1zM11 1h1v1h-1zM20 1h1v1h-1zM26 1h1v1h-1zM28 1h1v1h-1zM31 1h1v1h-1zM38 1h1v1h-1zM50 1h1v1h-1zM59 1h1v1h-1zM66 1h1v1h-1zM8 2h1v1h-1zM10 2h1v1h-1zM27 2h1v1h-1zM36 2h1v1h-1zM47 2h1v1h-1zM56 2h1v1h-1zM65 2h1v1h-1zM74 2h1v1h-1zM84 2h2v1h-2zM25 3h1v1h-1zM28 3h1v1h-1zM45 3h1v1h-1zM58 3h1v1h-1zM79 3h2v1h-2zM85 3h1v1h-1zM87 3h1v1h-1zM13 4h1v1h-1zM17 4h1v1h-1zM20 4h1v1h-1zM36 4h1v1h-1zM50 4h1v1h-1zM54 4h1v1h-1zM63 4h1v1h-1zM86 4h1v1h-1zM22 5h2v1h-2zM43 5h1v1h-1zM50 5h1v1h-1zM70 5h1v1h-1zM72 5h1v1h-1zM21 6h1v1h-1zM62 6h1v1h-1zM65 6h1v1h-1zM68 6h2v1h-2zM72 6h1v1h-1zM85 6h1v1h-1zM90 6h1v1h-1zM94 6h1v1h-1zM98 6h1v1h-1zM100 6h1v1h-1zM13 7h1v1h-1zM15 7h1v1h-1zM20 7h1v1h-1zM38 7h1v1h-1zM41 7h1v1h-1zM47 7h1v1h-1zM58 7h1v1h-1zM67 7h1v1h-1zM69 7h2v1h-2zM0 8h1v1h-1zM2 8h1v1h-1zM10 8h1v1h-1zM12 8h1v1h-1zM25 8h1v1h-1zM59 8h1v1h-1zM79 8h1v1h-1zM81 8h1v1h-1zM18 9h1v1h-1zM25 9h1v1h-1zM28 9h1v1h-1zM30 9h1v1h-1zM42 9h1v1h-1zM54 9h1v1h-1zM59 9h1v1h-1zM73 9h1v1h-1zM85 9h1v1h-1zM2 10h1v1h-1zM8 10h1v1h-1zM13 10h1v1h-1zM20 10h1v1h-1zM38 10h1v1h-1zM50 10h2v1h-2zM59 10h1v1h-1zM72 10h1v1h-1zM75 10h1v1h-1zM82 10h1v1h-1zM87 10h1v1h-1zM1 11h1v1h-1zM25 11h1v1h-1zM30 11h1v1h-1zM45 11h1v1h-1zM60 11h1v1h-1zM63 11h1v1h-1zM65 11h1v1h-1zM67 11h1v1h-1zM70 11h1v1h-1zM79 11h1v1h-1zM89 11h1v1h-1zM94 11h1v1h-1zM8 12h1v1h-1zM17 12h1v1h-1zM29 12h1v1h-1zM58 12h1v1h-1zM68 12h1v1h-1zM73 12h1v1h-1zM4 13h1v1h-1zM7 13h1v1h-1zM10 13h1v1h-1zM19 13h2v1h-2zM26 13h2v1h-2zM56 13h1v1h-1zM70 13h2v1h-2zM86 13h1v1h-1zM100 13h1v1h-1zM18 14h1v1h-1zM25 14h1v1h-1zM39 14h1v1h-1zM41 14h1v1h-1zM68 14h2v1h-2zM81 14h1v1h-1zM7 15h1v1h-1zM41 15h1v1h-1zM45 15h1v1h-1zM56 15h1v1h-1zM75 15h1v1h-1zM78 15h1v1h-1zM85 15h1v1h-1zM20 16h1v1h-1zM22 16h1v1h-1zM32 16h1v1h-1zM37 16h2v1h-2zM42 16h1v1h-1zM66 16h1v1h-1zM87 16h1v1h-1zM0 17h1v1h-1zM4 17h1v1h-1zM12 17h1v1h-1zM39 17h1v1h-1zM41 17h1v1h-1zM43 17h1v1h-1zM58 17h1v1h-1zM64 17h1v1h-1zM77 17h1v1h-1zM82 17h2v1h-2zM97 17h1v1h-1zM9 18h1v1h-1zM14 18h1v1h-1zM24 18h1v1h-1zM31 18h1v1h-1zM64 18h1v1h-1zM73 18h1v1h-1zM81 18h1v1h-1zM89 18h1v1h-1zM13 19h1v1h-1zM28 19h1v1h-1zM43 19h1v1h-1zM64 19h1v1h-1zM1 20h1v1h-1zM4 20h1v1h-1zM7 20h1v1h-1zM10 20h1v1h-1zM13 20h1v1h-1zM16 20h1v1h-1zM41 20h1v1h-1zM61 20h1v1h-1zM69 20h1v1h-1zM88 20h1v1h-1zM6 21h1v1h-1zM24 21h1v1h-1zM38 21h1v1h-1zM40 21h1v1h-1zM42 21h1v1h-1zM56 21h1v1h-1zM5 22h1v1h-1zM16 22h1v1h-1zM28 22h1v1h-1zM30 22h2v1h-2zM38 22h1v1h-1zM45 22h1v1h-1zM86 22h1v1h-1zM5 23h1v1h-1zM29 23h1v1h-1zM44 23h1v1h-1zM18 24h1v1h-1zM21 24h1v1h-1zM26 24h1v1h-1zM40 24h1v1h-1zM47 24h1v1h-1zM49 24h1v1h-1zM52 24h1v1h-1zM73 24h2v1h-2zM78 24h1v1h-1zM84 24h1v1h-1zM86 24h1v1h-1zM90 24h1v1h-1zM0 25h1v1h-1zM3 25h1v1h-1zM8 25h2v1h-2zM11 25h1v1h-1zM14 25h1v1h-1zM56 25h1v1h-1zM67 25h1v1h-1zM70 25h1v1h-1zM77 25h1v1h-1zM87 25h1v1h-1zM91 25h1v1h-1zM95 25h2v1h-2zM98 25h1v1h-1zM100 25h2v1h-2zM1 26h1v1h-1zM13 26h1v1h-1zM24 26h1v1h-1zM29 26h1v1h-1zM42 26h1v1h-1zM45 26h1v1h-1zM49 26h1v1h-1zM64 26h1v1h-1zM69 26h1v1h-1zM2 27h1v1h-1zM13 27h1v1h-1zM31 27h2v1h-2zM41 27h1v1h-1zM47 27h1v1h-1zM56 27h1v1h-1zM61 27h1v1h-1zM67 27h1v1h-1zM70 27h1v1h-1zM72 27h1v1h-1zM1 28h1v1h-1zM3 28h1v1h-1zM9 28h1v1h-1zM19 28h1v1h-1zM22 28h1v1h-1zM33 28h1v1h-1zM59 28h1v1h-1zM68 28h3v1h-3zM12 29h1v1h-1zM23 29h1v1h-1zM26 29h1v1h-1zM30 29h1v1h-1zM62 29h1v1h-1zM78 29h1v1h-1zM85 29h1v1h-1zM9 30h1v1h-1zM11 30h1v1h-1zM22 30h1v1h-1zM29 30h1v1h-1zM36 30h1v1h-1zM39 30h1v1h-1zM42 30h1v1h-1zM75 30h1v1h-1zM80 30h1v1h-1zM82 30h1v1h-1zM87 30h1v1h-1zM1 31h1v1h-1zM18 31h1v1h-1zM22 31h1v1h-1zM27 31h1v1h-1zM58 31h1v1h-1zM63 31h1v1h-1zM80 31h2v1h-2zM85 31h1v1h-1zM16 32h1v1h-1zM27 32h1v1h-1zM56 32h1v1h-1zM59 32h1v1h-1zM67 32h1v1h-1zM71 32h1v1h-1zM81 32h1v1h-1zM28 33h1v1h-1zM44 33h1v1h-1zM52 33h1v1h-1zM75 33h1v1h-1zM81 33h1v1h-1zM87 33h1v1h-1zM93 33h1v1h-1zM49 34h1v1h-1zM71 34h1v1h-1zM87 34h1v1h-1zM2 36h1v1h-1zM4 36h1v1h-1zM30 36h1v1h-1zM44 36h1v1h-1zM50 36h1v1h-1zM79 36h1v1h-1zM82 36h1v1h-1zM84 36h1v1h-1zM16 37h1v1h-1zM43 37h1v1h-1zM54 37h1v1h-1zM74 37h1v1h-1zM77 37h2v1h-2zM85 37h1v1h-1zM88 37h1v1h-1zM1 38h1v1h-1zM7 38h1v1h-1zM10 38h1v1h-1zM16 38h1v1h-1zM21 38h2v1h-2zM41 38h1v1h-1zM59 38h1v1h-1zM82 38h1v1h-1zM84 38h1v1h-1zM14 39h1v1h-1zM17 39h1v1h-1zM30 39h1v1h-1zM44 39h1v1h-1zM49 39h1v1h-1zM54 39h1v1h-1zM57 39h1v1h-1zM67 39h1v1h-1zM75 39h1v1h-1zM86 39h1v1h-1zM88 39h1v1h-1zM0 40h1v1h-1zM21 40h1v1h-1zM24 40h1v1h-1zM43 40h1v1h-1zM59 40h1v1h-1zM69 40h1v1h-1zM71 40h1v1h-1zM77 40h1v1h-1zM86 40h1v1h-1zM7 41h1v1h-1zM14 41h2v1h-2zM17 41h1v1h-1zM20 41h1v1h-1zM27 41h1v1h-1zM38 41h1v1h-1zM48 41h1v1h-1zM52 41h1v1h-1zM54 41h1v1h-1zM66 41h1v1h-1zM86 41h1v1h-1zM9 42h1v1h-1zM16 42h1v1h-1zM21 42h1v1h-1zM26 42h1v1h-1zM30 42h1v1h-1zM47 42h2v1h-2zM53 42h1v1h-1zM71 42h1v1h-1zM87 42h1v1h-1zM5 43h1v1h-1zM17 43h1v1h-1zM19 43h1v1h-1zM37 43h1v1h-1zM40 43h1v1h-1zM49 43h1v1h-1zM52 43h1v1h-1zM61 43h1v1h-1zM68 43h1v1h-1zM95 43h1v1h-1zM23 44h1v1h-1zM33 44h1v1h-1zM36 44h1v1h-1zM39 44h1v1h-1zM67 44h2v1h-2zM71 44h1v1h-1zM90 44h1v1h-1zM94 44h1v1h-1zM96 44h1v1h-1zM98 44h2v1h-2zM101 44h1v1h-1zM0 45h1v1h-1zM3 45h1v1h-1zM11 45h1v1h-1zM15 45h1v1h-1zM22 45h1v1h-1zM26 45h1v1h-1zM65 45h2v1h-2zM68 45h1v1h-1zM72 45h1v1h-1zM74 45h1v1h-1zM87 45h1v1h-1zM49 46h1v1h-1zM52 46h1v1h-1zM66 46h1v1h-1zM71 46h1v1h-1zM79 46h1v1h-1zM93 46h2v1h-2zM96 46h1v1h-1zM101 46h1v1h-1zM2 47h1v1h-1zM7 47h1v1h-1zM24 47h1v1h-1zM27 47h1v1h-1zM42 47h1v1h-1zM79 47h2v1h-2zM89 47h1v1h-1zM41 48h2v1h-2zM60 48h1v1h-1zM66 48h1v1h-1zM72 48h1v1h-1zM77 48h1v1h-1zM88 48h1v1h-1zM24 49h1v1h-1zM26 49h1v1h-1zM34 49h1v1h-1zM39 49h1v1h-1zM43 49h1v1h-1zM46 49h1v1h-1zM75 49h1v1h-1zM1 50h1v1h-1zM4 50h2v1h-2zM10 50h1v1h-1zM36 50h1v1h-1zM76 50h1v1h-1zM10 51h1v1h-1zM56 51h1v1h-1zM73 51h1v1h-1zM76 51h1v1h-1zM85 51h1v1h-1zM24 52h1v1h-1zM33 52h1v1h-1zM41 52h1v1h-1zM43 52h1v1h-1zM46 52h1v1h-1zM56 52h1v1h-1zM60 52h1v1h-1zM73 52h1v1h-1zM77 52h1v1h-1zM91 52h2v1h-2zM97 52h1v1h-1zM101 52h1v1h-1zM42 53h1v1h-1zM60 53h1v1h-1zM96 53h1v1h-1zM98 53h1v1h-1zM4 54h1v1h-1zM9 54h1v1h-1zM37 54h1v1h-1zM39 54h1v1h-1zM41 54h1v1h-1zM84 54h2v1h-2zM93 54h1v1h-1zM96 54h1v1h-1zM99 54h2v1h-2zM67 55h1v1h-1zM69 55h1v1h-1zM71 55h1v1h-1zM2 56h1v1h-1zM13 56h1v1h-1zM15 56h1v1h-1zM21 56h1v1h-1zM25 56h1v1h-1zM27 56h1v1h-1zM32 56h1v1h-1zM51 56h2v1h-2zM65 56h2v1h-2zM76 56h1v1h-1zM39 57h1v1h-1zM87 57h1v1h-1zM3 58h1v1h-1zM7 58h1v1h-1zM12 58h1v1h-1zM17 58h1v1h-1zM31 58h1v1h-1zM62 58h1v1h-1zM66 58h1v1h-1zM76 58h2v1h-2zM1 59h1v1h-1zM8 59h3v1h-3zM28 59h1v1h-1zM32 59h1v1h-1zM38 59h1v1h-1zM40 59h1v1h-1zM64 59h1v1h-1zM68 59h2v1h-2zM75 59h1v1h-1zM89 59h1v1h-1zM11 60h1v1h-1zM48 60h1v1h-1zM52 60h2v1h-2zM66 60h1v1h-1zM69 60h2v1h-2zM72 60h1v1h-1zM86 60h1v1h-1zM20 61h1v1h-1zM27 61h1v1h-1zM43 61h1v1h-1zM80 61h1v1h-1zM6 62h1v1h-1zM29 62h1v1h-1zM58 62h1v1h-1zM69 62h1v1h-1zM85 62h1v1h-1zM4 63h1v1h-1zM11 63h1v1h-1zM31 63h1v1h-1zM67 63h1v1h-1zM71 63h1v1h-1zM77 63h1v1h-1zM79 63h1v1h-1zM81 63h1v1h-1zM17 64h3v1h-3zM26 64h1v1h-1zM59 64h1v1h-1zM78 64h1v1h-1zM80 64h1v1h-1zM84 64h1v1h-1zM88 64h1v1h-1zM2 65h1v1h-1zM6 65h1v1h-1zM11 65h1v1h-1zM45 65h1v1h-1zM56 65h1v1h-1zM0 66h2v1h-2zM16 66h1v1h-1zM41 66h1v1h-1zM45 66h2v1h-2zM48 66h1v1h-1zM56 66h1v1h-1zM58 66h1v1h-1zM60 66h1v1h-1zM7 67h1v1h-1zM11 67h1v1h-1zM25 67h1v1h-1zM27 67h1v1h-1zM32 67h1v1h-1zM39 67h1v1h-1zM44 67h1v1h-1zM55 67h1v1h-1zM63 67h1v1h-1zM79 67h1v1h-1zM81 67h1v1h-1zM6 68h1v1h-1zM12 68h1v1h-1zM14 68h1v1h-1zM28 68h1v1h-1zM43 68h3v1h-3zM59 68h1v1h-1zM80 68h1v1h-1zM6 69h2v1h-2zM14 69h1v1h-1zM20 69h1v1h-1zM26 69h1v1h-1zM28 69h1v1h-1zM40 69h1v1h-1zM55 69h1v1h-1zM59 69h2v1h-2zM62 69h1v1h-1zM5 70h1v1h-1zM7 70h1v1h-1zM11 70h1v1h-1zM13 70h1v1h-1zM25 70h1v1h-1zM27 70h2v1h-2zM60 70h1v1h-1zM13 71h1v1h-1zM32 71h1v1h-1zM34 71h1v1h-1zM40 71h1v1h-1zM42 71h1v1h-1zM44 71h1v1h-1zM46 71h1v1h-1zM55 71h1v1h-1zM63 71h1v1h-1zM74 71h1v1h-1zM79 71h1v1h-1zM5 72h2v1h-2zM10 72h1v1h-1zM27 72h1v1h-1zM45 72h1v1h-1zM48 72h1v1h-1zM60 72h1v1h-1zM73 72h1v1h-1zM83 72h1v1h-1zM9 73h1v1h-1zM12 73h1v1h-1zM18 73h1v1h-1zM24 73h1v1h-1zM51 73h2v1h-2zM72 73h1v1h-1zM2 74h1v1h-1zM24 74h1v1h-1zM37 74h1v1h-1zM45 74h1v1h-1zM71 74h1v1h-1zM10 75h1v1h-1zM15 75h1v1h-1zM30 75h1v1h-1zM33 75h1v1h-1zM39 75h1v1h-1zM49 75h1v1h-1zM59 75h1v1h-1zM50 76h2v1h-2zM56 76h1v1h-1zM58 76h1v1h-1zM17 77h1v1h-1zM25 77h1v1h-1zM37 77h1v1h-1zM40 77h1v1h-1zM48 77h1v1h-1zM52 77h1v1h-1zM58 77h1v1h-1zM63 77h1v1h-1zM15 78h1v1h-1zM24 78h1v1h-1zM29 78h1v1h-1zM37 78h1v1h-1zM64 78h1v1h-1zM3 79h1v1h-1zM8 79h1v1h-1zM11 79h1v1h-1zM36 79h1v1h-1zM46 79h2v1h-2zM63 79h1v1h-1zM67 79h1v1h-1zM71 79h1v1h-1zM3 80h1v1h-1zM30 80h2v1h-2zM47 80h1v1h-1zM61 80h1v1h-1zM64 80h1v1h-1zM68 80h1v1h-1zM8 81h1v1h-1zM14 81h1v1h-1zM18 81h1v1h-1zM31 81h3v1h-3zM63 81h1v1h-1zM67 81h1v1h-1zM10 82h1v1h-1zM17 82h1v1h-1zM30 82h1v1h-1zM36 82h1v1h-1zM38 82h1v1h-1zM17 83h1v1h-1zM72 83h1v1h-1zM2 84h1v1h-1zM24 84h1v1h-1zM36 84h1v1h-1zM38 84h1v1h-1zM54 84h1v1h-1zM64 84h1v1h-1zM2 85h2v1h-2zM6 85h1v1h-1zM9 85h1v1h-1zM15 85h1v1h-1zM29 85h1v1h-1zM31 85h1v1h-1zM37 85h1v1h-1zM51 85h1v1h-1zM54 85h1v1h-1zM62 85h1v1h-1zM4 86h1v1h-1zM13 86h1v1h-1zM22 86h1v1h-1zM24 86h1v1h-1zM39 86h3v1h-3zM60 86h1v1h-1zM3 87h1v1h-1zM10 87h1v1h-1zM16 87h1v1h-1zM25 87h1v1h-1zM30 87h1v1h-1zM33 87h2v1h-2zM42 87h1v1h-1zM45 87h1v1h-1zM57 87h1v1h-1zM20 88h1v1h-1zM37 88h1v1h-1zM39 88h1v1h-1zM48 88h1v1h-1zM64 88h1v1h-1zM11 89h1v1h-1zM18 89h1v1h-1zM47 89h1v1h-1zM59 89h1v1h-1zM6 90h1v1h-1zM24 90h1v1h-1zM44 90h1v1h-1zM25 91h1v1h-1zM52 91h1v1h-1zM52 92h1v1h-1zM33 93h1v1h-1zM46 93h1v1h-1zM54 93h1v1h-1zM6 94h1v1h-1zM11 94h1v1h-1zM44 94h1v1h-1zM46 94h1v1h-1zM25 95h1v1h-1zM43 95h1v1h-1zM25 96h1v1h-1zM44 96h1v1h-1zM46 96h1v1h-1zM53 96h2v1h-2zM17 97h1v1h-1zM52 97h1v1h-1zM6 98h1v1h-1zM25 98h1v1h-1zM44 98h1v1h-1zM53 98h1v1h-1zM44 99h1v1h-1zM54 99h1v1h-1zM6 100h1v1h-1zM13 100h1v1h-1zM25 100h1v1h-1zM54 100h1v1h-1zM25 101h1v1h-1zM44 101h1v1h-1zM46 101h1v1h-1zM52 101h1v1h-1z"/>
<path fill="#090001" d="M19 0h2v1h-2zM30 0h1v1h-1zM9 1h1v1h-1zM30 1h1v1h-1zM40 1h1v1h-1zM60 1h1v1h-1zM62 1h2v1h-2zM31 2h1v1h-1zM33 2h1v1h-1zM35 2h1v1h-1zM37 2h1v1h-1zM61 2h1v1h-1zM7 3h1v1h-1zM16 3h1v1h-1zM61 3h1v1h-1zM64 3h1v1h-1zM73 3h1v1h-1zM12 4h1v1h-1zM21 4h2v1h-2zM26 4h1v1h-1zM37 4h1v1h-1zM40 4h1v1h-1zM45 4h1v1h-1zM60 4h1v1h-1zM73 4h1v1h-1zM17 5h2v1h-2zM33 5h1v1h-1zM40 5h1v1h-1zM53 5h1v1h-1zM71 5h1v1h-1zM20 6h1v1h-1zM25 6h1v1h-1zM36 6h1v1h-1zM42 6h1v1h-1zM46 6h1v1h-1zM58 6h2v1h-2zM74 6h1v1h-1zM79 6h1v1h-1zM3 7h1v1h-1zM12 7h1v1h-1zM32 7h1v1h-1zM40 7h1v1h-1zM65 7h1v1h-1zM84 7h1v1h-1zM9 8h1v1h-1zM16 8h1v1h-1zM26 8h1v1h-1zM38 8h1v1h-1zM46 8h1v1h-1zM55 8h1v1h-1zM85 8h2v1h-2zM1 9h1v1h-1zM8 9h1v1h-1zM11 9h1v1h-1zM19 9h1v1h-1zM24 9h1v1h-1zM27 9h1v1h-1zM38 9h3v1h-3zM44 9h1v1h-1zM47 9h1v1h-1zM75 9h1v1h-1zM22 10h1v1h-1zM33 10h1v1h-1zM53 10h1v1h-1zM74 10h1v1h-1zM81 10h1v1h-1zM9 11h1v1h-1zM37 11h1v1h-1zM59 11h1v1h-1zM64 11h1v1h-1zM77 11h1v1h-1zM4 12h1v1h-1zM7 12h1v1h-1zM46 12h1v1h-1zM69 12h1v1h-1zM16 13h1v1h-1zM28 13h1v1h-1zM36 13h1v1h-1zM43 13h1v1h-1zM48 13h1v1h-1zM61 13h2v1h-2zM69 13h1v1h-1zM76 13h1v1h-1zM90 13h3v1h-3zM96 13h1v1h-1zM98 13h2v1h-2zM101 13h1v1h-1zM49 14h1v1h-1zM88 14h1v1h-1zM27 15h1v1h-1zM77 15h1v1h-1zM83 15h1v1h-1zM3 16h1v1h-1zM8 16h1v1h-1zM13 16h1v1h-1zM35 16h2v1h-2zM50 16h1v1h-1zM52 16h1v1h-1zM86 16h1v1h-1zM89 16h1v1h-1zM5 17h1v1h-1zM23 17h1v1h-1zM33 17h1v1h-1zM57 17h1v1h-1zM5 18h1v1h-1zM0 19h1v1h-1zM9 19h1v1h-1zM26 19h1v1h-1zM29 19h1v1h-1zM40 19h1v1h-1zM52 19h1v1h-1zM0 20h1v1h-1zM6 20h1v1h-1zM21 20h2v1h-2zM26 20h1v1h-1zM45 20h1v1h-1zM58 20h1v1h-1zM63 20h1v1h-1zM73 20h1v1h-1zM4 21h1v1h-1zM20 21h1v1h-1zM29 21h1v1h-1zM31 21h1v1h-1zM37 21h1v1h-1zM39 21h1v1h-1zM47 21h1v1h-1zM60 21h2v1h-2zM4 22h1v1h-1zM10 22h1v1h-1zM20 22h1v1h-1zM34 22h1v1h-1zM46 22h1v1h-1zM52 22h1v1h-1zM60 22h1v1h-1zM62 22h1v1h-1zM17 23h1v1h-1zM52 23h1v1h-1zM65 23h1v1h-1zM9 24h1v1h-1zM33 24h1v1h-1zM38 24h1v1h-1zM42 24h1v1h-1zM62 24h1v1h-1zM69 24h1v1h-1zM71 24h1v1h-1zM96 24h1v1h-1zM6 25h1v1h-1zM31 25h1v1h-1zM44 25h1v1h-1zM59 25h1v1h-1zM75 25h1v1h-1zM86 25h1v1h-1zM4 26h1v1h-1zM8 26h1v1h-1zM19 26h2v1h-2zM63 26h1v1h-1zM67 26h1v1h-1zM9 27h1v1h-1zM15 27h1v1h-1zM71 27h1v1h-1zM13 28h1v1h-1zM36 28h1v1h-1zM57 28h1v1h-1zM61 28h1v1h-1zM67 28h1v1h-1zM19 29h1v1h-1zM21 29h1v1h-1zM77 29h1v1h-1zM89 29h1v1h-1zM0 30h2v1h-2zM50 30h1v1h-1zM74 30h1v1h-1zM88 30h1v1h-1zM94 30h1v1h-1zM96 30h1v1h-1zM98 30h3v1h-3zM2 31h1v1h-1zM21 31h1v1h-1zM25 31h1v1h-1zM37 31h1v1h-1zM39 31h1v1h-1zM53 31h1v1h-1zM73 31h1v1h-1zM88 31h1v1h-1zM91 31h2v1h-2zM95 31h1v1h-1zM99 31h1v1h-1zM7 32h1v1h-1zM36 32h1v1h-1zM48 32h2v1h-2zM66 32h1v1h-1zM72 32h1v1h-1zM2 33h1v1h-1zM5 33h1v1h-1zM10 33h1v1h-1zM17 33h1v1h-1zM24 33h1v1h-1zM54 33h1v1h-1zM64 33h1v1h-1zM68 33h1v1h-1zM73 33h1v1h-1zM77 33h1v1h-1zM22 34h1v1h-1zM2 35h1v1h-1zM16 35h1v1h-1zM37 35h1v1h-1zM42 35h1v1h-1zM58 35h1v1h-1zM61 35h1v1h-1zM6 36h1v1h-1zM13 36h1v1h-1zM16 36h1v1h-1zM28 36h1v1h-1zM32 36h1v1h-1zM58 36h1v1h-1zM86 36h1v1h-1zM2 37h1v1h-1zM4 37h1v1h-1zM11 37h1v1h-1zM21 37h1v1h-1zM31 37h1v1h-1zM35 37h1v1h-1zM73 37h1v1h-1zM76 37h1v1h-1zM80 37h1v1h-1zM84 37h1v1h-1zM91 37h1v1h-1zM93 37h1v1h-1zM98 37h1v1h-1zM100 37h2v1h-2zM8 38h2v1h-2zM24 38h1v1h-1zM42 38h1v1h-1zM44 38h1v1h-1zM53 38h1v1h-1zM58 38h1v1h-1zM73 38h1v1h-1zM77 38h1v1h-1zM80 38h1v1h-1zM92 38h2v1h-2zM95 38h2v1h-2zM99 38h3v1h-3zM9 39h1v1h-1zM21 39h1v1h-1zM31 39h1v1h-1zM47 39h1v1h-1zM1 40h1v1h-1zM4 40h2v1h-2zM7 40h1v1h-1zM9 40h1v1h-1zM19 40h1v1h-1zM46 40h2v1h-2zM87 40h1v1h-1zM53 41h1v1h-1zM56 41h2v1h-2zM63 41h1v1h-1zM68 41h2v1h-2zM87 41h1v1h-1zM6 42h1v1h-1zM24 42h1v1h-1zM35 42h1v1h-1zM38 42h1v1h-1zM59 42h1v1h-1zM72 42h1v1h-1zM13 43h1v1h-1zM47 43h1v1h-1zM71 43h1v1h-1zM81 43h1v1h-1zM83 43h1v1h-1zM90 43h1v1h-1zM92 43h2v1h-2zM96 43h1v1h-1zM98 43h2v1h-2zM101 43h1v1h-1zM9 44h1v1h-1zM25 44h1v1h-1zM38 44h1v1h-1zM49 44h3v1h-3zM66 44h1v1h-1zM86 44h2v1h-2zM95 44h1v1h-1zM4 45h1v1h-1zM20 45h1v1h-1zM49 45h1v1h-1zM80 45h1v1h-1zM85 45h1v1h-1zM6 46h1v1h-1zM8 46h1v1h-1zM12 46h1v1h-1zM22 46h1v1h-1zM40 46h1v1h-1zM64 46h1v1h-1zM67 46h1v1h-1zM74 46h2v1h-2zM98 46h1v1h-1zM9 47h1v1h-1zM21 47h1v1h-1zM39 47h2v1h-2zM43 47h1v1h-1zM60 47h1v1h-1zM77 47h1v1h-1zM96 47h1v1h-1zM100 47h1v1h-1zM13 48h1v1h-1zM32 48h1v1h-1zM56 48h1v1h-1zM70 48h1v1h-1zM73 48h1v1h-1zM14 49h1v1h-1zM32 49h1v1h-1zM44 49h2v1h-2zM74 49h1v1h-1zM16 50h1v1h-1zM30 50h1v1h-1zM44 50h1v1h-1zM44 51h1v1h-1zM57 51h1v1h-1zM74 51h1v1h-1zM83 51h1v1h-1zM89 51h1v1h-1zM16 52h1v1h-1zM19 52h1v1h-1zM22 52h2v1h-2zM87 52h1v1h-1zM5 53h1v1h-1zM10 53h1v1h-1zM31 53h1v1h-1zM38 53h1v1h-1zM41 53h1v1h-1zM33 54h1v1h-1zM68 54h1v1h-1zM70 54h1v1h-1zM80 54h1v1h-1zM98 54h1v1h-1zM8 55h1v1h-1zM58 55h1v1h-1zM72 55h1v1h-1zM77 55h1v1h-1zM41 56h1v1h-1zM48 56h1v1h-1zM17 57h1v1h-1zM28 57h1v1h-1zM41 57h1v1h-1zM51 57h1v1h-1zM79 57h2v1h-2zM84 57h1v1h-1zM6 58h1v1h-1zM20 58h1v1h-1zM35 58h2v1h-2zM38 58h1v1h-1zM55 58h1v1h-1zM65 58h1v1h-1zM83 58h2v1h-2zM89 58h1v1h-1zM6 59h1v1h-1zM11 59h1v1h-1zM25 59h1v1h-1zM42 59h1v1h-1zM66 59h1v1h-1zM1 60h1v1h-1zM4 60h1v1h-1zM21 60h2v1h-2zM47 60h1v1h-1zM64 60h1v1h-1zM67 60h1v1h-1zM74 60h1v1h-1zM78 60h1v1h-1zM2 61h2v1h-2zM13 61h1v1h-1zM21 61h1v1h-1zM28 61h1v1h-1zM35 61h1v1h-1zM69 61h1v1h-1zM76 61h1v1h-1zM1 62h1v1h-1zM13 62h1v1h-1zM22 62h1v1h-1zM24 62h1v1h-1zM74 62h1v1h-1zM1 63h1v1h-1zM20 63h1v1h-1zM26 63h1v1h-1zM41 63h1v1h-1zM68 63h1v1h-1zM73 63h1v1h-1zM3 64h1v1h-1zM11 64h1v1h-1zM33 64h1v1h-1zM46 64h1v1h-1zM60 64h1v1h-1zM7 65h1v1h-1zM23 65h1v1h-1zM58 65h1v1h-1zM32 66h1v1h-1zM44 66h1v1h-1zM59 66h1v1h-1zM26 67h1v1h-1zM28 67h1v1h-1zM46 67h1v1h-1zM60 67h1v1h-1zM75 67h2v1h-2zM33 68h1v1h-1zM41 68h1v1h-1zM54 68h1v1h-1zM63 68h1v1h-1zM12 69h2v1h-2zM24 69h1v1h-1zM41 69h1v1h-1zM61 69h1v1h-1zM73 69h1v1h-1zM90 69h12v1h-12zM48 70h1v1h-1zM54 70h1v1h-1zM75 70h1v1h-1zM5 71h1v1h-1zM24 71h1v1h-1zM27 71h1v1h-1zM43 71h1v1h-1zM75 71h1v1h-1zM32 72h1v1h-1zM42 72h1v1h-1zM55 72h1v1h-1zM3 73h2v1h-2zM20 73h1v1h-1zM31 73h1v1h-1zM33 73h1v1h-1zM37 73h2v1h-2zM48 73h1v1h-1zM63 73h1v1h-1zM69 73h1v1h-1zM6 74h1v1h-1zM10 74h1v1h-1zM30 74h1v1h-1zM46 74h1v1h-1zM49 74h1v1h-1zM51 74h1v1h-1zM60 74h1v1h-1zM62 74h1v1h-1zM9 75h1v1h-1zM25 75h1v1h-1zM46 75h1v1h-1zM67 75h1v1h-1zM70 75h2v1h-2zM13 76h1v1h-1zM37 76h1v1h-1zM61 76h1v1h-1zM67 76h1v1h-1zM73 76h1v1h-1zM11 77h1v1h-1zM15 77h1v1h-1zM29 77h1v1h-1zM33 77h1v1h-1zM38 77h1v1h-1zM47 77h1v1h-1zM55 77h1v1h-1zM73 77h1v1h-1zM60 78h1v1h-1zM6 79h1v1h-1zM57 79h1v1h-1zM37 80h2v1h-2zM45 80h1v1h-1zM54 80h1v1h-1zM57 80h1v1h-1zM10 81h1v1h-1zM43 81h1v1h-1zM15 83h1v1h-1zM43 83h1v1h-1zM51 83h1v1h-1zM58 83h1v1h-1zM7 84h1v1h-1zM37 84h1v1h-1zM57 84h2v1h-2zM73 84h1v1h-1zM8 85h1v1h-1zM45 85h1v1h-1zM8 86h1v1h-1zM16 86h1v1h-1zM25 86h1v1h-1zM36 86h1v1h-1zM44 86h1v1h-1zM40 87h2v1h-2zM44 87h1v1h-1zM52 87h1v1h-1zM14 88h1v1h-1zM30 88h2v1h-2zM16 89h1v1h-1zM29 89h1v1h-1zM51 89h1v1h-1zM58 89h1v1h-1zM13 90h1v1h-1zM43 90h1v1h-1zM69 90h1v1h-1zM13 91h1v1h-1zM31 91h1v1h-1zM37 91h1v1h-1zM69 91h1v1h-1zM13 92h1v1h-1zM31 92h1v1h-1zM38 92h1v1h-1zM43 92h1v1h-1zM69 92h1v1h-1zM37 93h2v1h-2zM43 93h1v1h-1zM69 93h1v1h-1zM30 94h1v1h-1zM69 94h1v1h-1zM31 95h1v1h-1zM38 95h1v1h-1zM44 95h1v1h-1zM69 95h1v1h-1zM13 96h1v1h-1zM24 96h1v1h-1zM30 96h1v1h-1zM38 96h1v1h-1zM43 96h1v1h-1zM47 96h1v1h-1zM69 96h1v1h-1zM69 97h1v1h-1zM13 98h1v1h-1zM30 98h1v1h-1zM37 98h1v1h-1zM43 98h1v1h-1zM46 98h1v1h-1zM54 98h1v1h-1zM69 98h1v1h-1zM13 99h1v1h-1zM30 99h2v1h-2zM38 99h1v1h-1zM43 99h1v1h-1zM69 99h1v1h-1zM30 100h1v1h-1zM37 100h2v1h-2zM47 100h1v1h-1zM69 100h1v1h-1zM13 101h1v1h-1zM37 101h2v1h-2zM43 101h1v1h-1zM69 101h1v1h-1z"/>
<path fill="#160202" d="M58 0h1v1h-1zM42 1h1v1h-1zM32 2h1v1h-1zM76 2h2v1h-2zM86 2h1v1h-1zM91 2h1v1h-1zM94 2h1v1h-1zM97 2h2v1h-2zM100 2h1v1h-1zM15 3h1v1h-1zM38 3h1v1h-1zM40 3h1v1h-1zM47 3h1v1h-1zM30 4h1v1h-1zM56 4h1v1h-1zM64 4h1v1h-1zM37 5h1v1h-1zM51 5h1v1h-1zM77 6h2v1h-2zM80 6h1v1h-1zM86 6h1v1h-1zM11 7h1v1h-1zM28 7h1v1h-1zM39 7h1v1h-1zM78 7h1v1h-1zM30 8h1v1h-1zM47 8h2v1h-2zM64 8h1v1h-1zM66 8h1v1h-1zM73 8h1v1h-1zM88 8h1v1h-1zM48 9h1v1h-1zM56 9h1v1h-1zM62 9h1v1h-1zM35 10h1v1h-1zM42 10h1v1h-1zM78 10h1v1h-1zM7 11h1v1h-1zM23 11h1v1h-1zM28 11h1v1h-1zM43 11h1v1h-1zM69 11h1v1h-1zM75 11h1v1h-1zM24 12h1v1h-1zM26 12h1v1h-1zM28 12h1v1h-1zM37 12h1v1h-1zM40 12h1v1h-1zM66 12h1v1h-1zM32 13h1v1h-1zM74 13h1v1h-1zM79 13h1v1h-1zM81 13h1v1h-1zM84 13h1v1h-1zM93 13h2v1h-2zM97 13h1v1h-1zM19 14h1v1h-1zM33 14h1v1h-1zM47 14h1v1h-1zM50 14h1v1h-1zM52 14h1v1h-1zM56 14h1v1h-1zM64 14h1v1h-1zM71 14h1v1h-1zM77 14h1v1h-1zM83 14h1v1h-1zM3 15h1v1h-1zM25 15h1v1h-1zM47 15h1v1h-1zM57 15h1v1h-1zM80 15h1v1h-1zM88 15h1v1h-1zM63 16h2v1h-2zM79 16h1v1h-1zM21 17h1v1h-1zM52 17h1v1h-1zM34 18h1v1h-1zM38 18h1v1h-1zM43 18h1v1h-1zM46 18h1v1h-1zM55 18h1v1h-1zM14 19h1v1h-1zM31 19h2v1h-2zM50 19h1v1h-1zM54 19h2v1h-2zM65 19h1v1h-1zM86 19h1v1h-1zM35 20h1v1h-1zM51 20h1v1h-1zM53 20h1v1h-1zM60 20h1v1h-1zM64 20h1v1h-1zM17 21h1v1h-1zM49 21h1v1h-1zM54 21h1v1h-1zM23 22h1v1h-1zM39 22h1v1h-1zM55 22h1v1h-1zM73 22h1v1h-1zM11 23h1v1h-1zM22 23h1v1h-1zM37 23h1v1h-1zM53 23h1v1h-1zM59 23h1v1h-1zM62 23h1v1h-1zM12 24h1v1h-1zM25 24h1v1h-1zM44 24h1v1h-1zM46 24h1v1h-1zM57 24h1v1h-1zM89 24h1v1h-1zM15 25h1v1h-1zM24 25h1v1h-1zM29 25h1v1h-1zM32 25h1v1h-1zM41 25h1v1h-1zM60 25h1v1h-1zM73 25h1v1h-1zM84 25h1v1h-1zM12 26h1v1h-1zM44 26h1v1h-1zM50 26h1v1h-1zM80 26h1v1h-1zM29 27h1v1h-1zM49 27h1v1h-1zM51 27h1v1h-1zM62 27h1v1h-1zM64 27h1v1h-1zM7 28h1v1h-1zM11 28h2v1h-2zM46 28h1v1h-1zM55 28h1v1h-1zM75 28h1v1h-1zM25 29h1v1h-1zM27 29h1v1h-1zM32 29h1v1h-1zM49 29h2v1h-2zM65 29h2v1h-2zM90 29h2v1h-2zM96 29h2v1h-2zM99 29h1v1h-1zM4 30h1v1h-1zM8 30h1v1h-1zM32 30h1v1h-1zM37 30h1v1h-1zM43 30h1v1h-1zM54 30h1v1h-1zM77 30h1v1h-1zM90 30h4v1h-4zM95 30h1v1h-1zM19 31h1v1h-1zM76 31h1v1h-1zM78 31h1v1h-1zM94 31h1v1h-1zM2 32h1v1h-1zM13 32h1v1h-1zM19 32h1v1h-1zM25 32h1v1h-1zM29 32h2v1h-2zM14 33h1v1h-1zM56 33h1v1h-1zM67 33h1v1h-1zM18 34h1v1h-1zM57 34h2v1h-2zM10 35h1v1h-1zM20 35h1v1h-1zM43 35h1v1h-1zM48 35h1v1h-1zM51 35h2v1h-2zM75 35h1v1h-1zM37 36h1v1h-1zM53 36h1v1h-1zM63 36h1v1h-1zM80 36h1v1h-1zM5 37h1v1h-1zM12 37h1v1h-1zM23 37h1v1h-1zM30 37h1v1h-1zM36 37h1v1h-1zM39 37h1v1h-1zM49 37h1v1h-1zM51 37h2v1h-2zM58 37h2v1h-2zM62 37h1v1h-1zM90 37h1v1h-1zM92 37h1v1h-1zM94 37h3v1h-3zM99 37h1v1h-1zM3 38h1v1h-1zM18 38h1v1h-1zM46 38h1v1h-1zM51 38h1v1h-1zM54 38h2v1h-2zM57 38h1v1h-1zM60 38h1v1h-1zM63 38h1v1h-1zM74 38h1v1h-1zM79 38h1v1h-1zM88 38h1v1h-1zM90 38h1v1h-1zM94 38h1v1h-1zM98 38h1v1h-1zM7 39h1v1h-1zM22 39h1v1h-1zM37 39h1v1h-1zM51 39h1v1h-1zM64 39h1v1h-1zM66 39h1v1h-1zM3 40h1v1h-1zM12 40h1v1h-1zM42 40h1v1h-1zM50 40h2v1h-2zM25 41h1v1h-1zM61 41h1v1h-1zM64 41h2v1h-2zM1 42h1v1h-1zM10 42h1v1h-1zM40 42h1v1h-1zM50 42h1v1h-1zM58 42h1v1h-1zM60 42h1v1h-1zM11 43h1v1h-1zM18 43h1v1h-1zM30 43h1v1h-1zM35 43h1v1h-1zM46 43h1v1h-1zM56 43h2v1h-2zM64 43h1v1h-1zM24 44h1v1h-1zM26 44h1v1h-1zM56 44h1v1h-1zM59 44h1v1h-1zM63 44h1v1h-1zM88 45h1v1h-1zM18 46h1v1h-1zM24 46h1v1h-1zM28 46h1v1h-1zM38 46h1v1h-1zM43 46h1v1h-1zM53 46h1v1h-1zM56 46h1v1h-1zM59 46h1v1h-1zM3 47h1v1h-1zM8 47h1v1h-1zM14 47h2v1h-2zM57 47h1v1h-1zM67 47h1v1h-1zM69 47h1v1h-1zM72 47h1v1h-1zM81 47h1v1h-1zM93 47h2v1h-2zM97 47h1v1h-1zM99 47h1v1h-1zM101 47h1v1h-1zM8 48h2v1h-2zM35 48h1v1h-1zM54 48h1v1h-1zM21 49h1v1h-1zM27 49h1v1h-1zM29 49h1v1h-1zM37 49h1v1h-1zM73 49h1v1h-1zM14 50h1v1h-1zM19 50h1v1h-1zM26 50h1v1h-1zM29 50h1v1h-1zM40 50h1v1h-1zM42 50h1v1h-1zM56 50h1v1h-1zM5 51h1v1h-1zM20 51h1v1h-1zM27 51h1v1h-1zM35 51h1v1h-1zM37 51h4v1h-4zM61 51h1v1h-1zM75 51h1v1h-1zM77 51h1v1h-1zM14 52h1v1h-1zM17 52h1v1h-1zM35 52h1v1h-1zM37 52h1v1h-1zM54 52h1v1h-1zM59 52h1v1h-1zM62 52h1v1h-1zM88 52h1v1h-1zM20 53h1v1h-1zM23 53h1v1h-1zM36 53h1v1h-1zM46 53h1v1h-1zM62 53h1v1h-1zM19 54h1v1h-1zM21 54h1v1h-1zM30 54h1v1h-1zM38 54h1v1h-1zM48 54h1v1h-1zM52 54h1v1h-1zM83 54h1v1h-1zM86 54h2v1h-2zM18 55h2v1h-2zM22 55h1v1h-1zM28 55h1v1h-1zM38 55h1v1h-1zM4 56h1v1h-1zM9 56h1v1h-1zM14 56h1v1h-1zM33 56h1v1h-1zM43 56h2v1h-2zM46 56h1v1h-1zM50 56h1v1h-1zM15 57h1v1h-1zM24 57h1v1h-1zM34 57h1v1h-1zM38 57h1v1h-1zM43 57h1v1h-1zM47 57h1v1h-1zM0 58h1v1h-1zM34 58h1v1h-1zM37 58h1v1h-1zM42 58h1v1h-1zM23 59h1v1h-1zM37 59h1v1h-1zM44 59h1v1h-1zM46 59h1v1h-1zM52 59h1v1h-1zM20 60h1v1h-1zM25 60h1v1h-1zM38 60h1v1h-1zM42 60h1v1h-1zM41 61h1v1h-1zM51 61h1v1h-1zM73 61h3v1h-3zM9 62h1v1h-1zM23 62h1v1h-1zM27 62h1v1h-1zM37 62h1v1h-1zM52 62h2v1h-2zM75 62h1v1h-1zM78 62h1v1h-1zM80 62h1v1h-1zM16 63h1v1h-1zM36 63h1v1h-1zM38 63h1v1h-1zM44 63h1v1h-1zM72 63h1v1h-1zM4 64h1v1h-1zM8 64h1v1h-1zM14 64h1v1h-1zM16 64h1v1h-1zM20 64h1v1h-1zM27 64h1v1h-1zM39 64h1v1h-1zM41 64h1v1h-1zM43 64h1v1h-1zM89 64h1v1h-1zM19 65h1v1h-1zM29 65h1v1h-1zM41 65h1v1h-1zM90 65h12v1h-12zM8 66h1v1h-1zM12 66h1v1h-1zM29 66h1v1h-1zM39 66h1v1h-1zM90 66h12v1h-12zM33 67h1v1h-1zM47 67h1v1h-1zM73 67h1v1h-1zM77 67h1v1h-1zM90 67h12v1h-12zM75 68h1v1h-1zM90 68h12v1h-12zM11 69h1v1h-1zM47 69h1v1h-1zM74 69h2v1h-2zM76 70h1v1h-1zM90 70h12v1h-12zM14 71h1v1h-1zM90 71h12v1h-12zM47 72h1v1h-1zM63 72h1v1h-1zM8 73h1v1h-1zM22 73h1v1h-1zM25 73h1v1h-1zM49 73h1v1h-1zM61 73h1v1h-1zM67 73h1v1h-1zM13 74h1v1h-1zM38 74h1v1h-1zM61 74h1v1h-1zM69 74h1v1h-1zM11 75h1v1h-1zM28 75h1v1h-1zM35 75h1v1h-1zM51 75h1v1h-1zM61 75h2v1h-2zM68 75h2v1h-2zM90 75h12v1h-12zM2 76h1v1h-1zM31 76h1v1h-1zM70 76h1v1h-1zM90 76h12v1h-12zM2 77h1v1h-1zM6 77h1v1h-1zM14 77h1v1h-1zM30 77h1v1h-1zM51 77h1v1h-1zM67 77h1v1h-1zM90 77h12v1h-12zM6 78h2v1h-2zM10 78h1v1h-1zM31 78h1v1h-1zM62 78h1v1h-1zM90 78h12v1h-12zM13 79h1v1h-1zM16 79h1v1h-1zM38 79h1v1h-1zM90 79h12v1h-12zM6 80h1v1h-1zM15 80h1v1h-1zM26 80h1v1h-1zM36 80h1v1h-1zM62 80h1v1h-1zM73 80h1v1h-1zM13 81h1v1h-1zM47 81h1v1h-1zM90 82h12v1h-12zM14 83h1v1h-1zM54 83h1v1h-1zM74 83h1v1h-1zM13 84h1v1h-1zM25 84h1v1h-1zM2 86h1v1h-1zM6 86h1v1h-1zM19 86h1v1h-1zM54 86h1v1h-1zM54 87h1v1h-1zM8 88h1v1h-1zM15 88h1v1h-1zM38 88h1v1h-1zM45 88h1v1h-1zM52 88h1v1h-1zM24 89h1v1h-1zM64 89h1v1h-1zM29 90h2v1h-2zM37 90h2v1h-2zM65 90h4v1h-4zM70 90h2v1h-2zM75 90h5v1h-5zM82 90h1v1h-1zM2 91h1v1h-1zM29 91h2v1h-2zM65 91h4v1h-4zM70 91h2v1h-2zM75 91h5v1h-5zM82 91h1v1h-1zM30 92h1v1h-1zM37 92h1v1h-1zM65 92h4v1h-4zM70 92h2v1h-2zM75 92h5v1h-5zM82 92h1v1h-1zM13 93h1v1h-1zM30 93h1v1h-1zM47 93h1v1h-1zM65 93h4v1h-4zM70 93h2v1h-2zM75 93h5v1h-5zM82 93h1v1h-1zM2 94h1v1h-1zM13 94h1v1h-1zM31 94h1v1h-1zM37 94h2v1h-2zM47 94h1v1h-1zM65 94h4v1h-4zM70 94h2v1h-2zM75 94h5v1h-5zM82 94h1v1h-1zM30 95h1v1h-1zM37 95h1v1h-1zM65 95h4v1h-4zM70 95h2v1h-2zM75 95h5v1h-5zM82 95h1v1h-1zM29 96h1v1h-1zM37 96h1v1h-1zM65 96h4v1h-4zM70 96h2v1h-2zM75 96h5v1h-5zM82 96h1v1h-1zM2 97h1v1h-1zM13 97h1v1h-1zM29 97h1v1h-1zM47 97h1v1h-1zM65 97h4v1h-4zM70 97h2v1h-2zM75 97h5v1h-5zM82 97h1v1h-1zM2 98h1v1h-1zM38 98h1v1h-1zM65 98h4v1h-4zM70 98h2v1h-2zM75 98h5v1h-5zM82 98h1v1h-1zM29 99h1v1h-1zM37 99h1v1h-1zM47 99h1v1h-1zM65 99h4v1h-4zM70 99h2v1h-2zM75 99h5v1h-5zM82 99h1v1h-1zM2 100h1v1h-1zM65 100h4v1h-4zM70 100h2v1h-2zM75 100h5v1h-5zM82 100h1v1h-1zM47 101h1v1h-1zM65 101h4v1h-4zM70 101h2v1h-2zM75 101h5v1h-5zM82 101h1v1h-1z"/>
<path fill="#250304" d="M13 0h1v1h-1zM16 0h1v1h-1zM32 0h1v1h-1zM54 0h1v1h-1zM18 1h1v1h-1zM22 1h1v1h-1zM37 1h1v1h-1zM22 2h1v1h-1zM24 2h2v1h-2zM30 2h1v1h-1zM49 2h1v1h-1zM52 2h1v1h-1zM78 2h1v1h-1zM88 2h1v1h-1zM95 2h2v1h-2zM99 2h1v1h-1zM31 3h1v1h-1zM6 4h2v1h-2zM8 5h1v1h-1zM12 5h1v1h-1zM27 5h1v1h-1zM58 5h1v1h-1zM4 6h1v1h-1zM31 6h1v1h-1zM33 6h1v1h-1zM87 6h1v1h-1zM4 7h1v1h-1zM8 7h1v1h-1zM55 7h1v1h-1zM74 7h1v1h-1zM77 7h1v1h-1zM87 7h1v1h-1zM5 8h1v1h-1zM7 8h1v1h-1zM15 8h1v1h-1zM44 8h1v1h-1zM52 8h1v1h-1zM57 8h2v1h-2zM63 8h1v1h-1zM78 8h1v1h-1zM80 8h1v1h-1zM82 8h1v1h-1zM87 8h1v1h-1zM89 8h1v1h-1zM16 9h1v1h-1zM34 9h1v1h-1zM58 9h1v1h-1zM90 9h12v1h-12zM62 10h1v1h-1zM65 10h1v1h-1zM90 10h12v1h-12zM22 11h1v1h-1zM78 11h1v1h-1zM5 12h1v1h-1zM38 12h1v1h-1zM47 12h1v1h-1zM0 13h1v1h-1zM23 13h1v1h-1zM33 13h2v1h-2zM41 13h1v1h-1zM50 13h1v1h-1zM58 13h1v1h-1zM64 13h2v1h-2zM80 13h1v1h-1zM89 13h1v1h-1zM24 14h1v1h-1zM26 14h1v1h-1zM32 14h1v1h-1zM35 14h1v1h-1zM51 14h1v1h-1zM60 14h1v1h-1zM85 14h1v1h-1zM90 14h5v1h-5zM96 14h1v1h-1zM99 14h1v1h-1zM101 14h1v1h-1zM8 15h1v1h-1zM42 15h1v1h-1zM50 15h1v1h-1zM90 15h5v1h-5zM96 15h6v1h-6zM0 16h1v1h-1zM9 16h1v1h-1zM21 16h1v1h-1zM46 16h2v1h-2zM61 16h1v1h-1zM73 16h1v1h-1zM81 16h1v1h-1zM20 17h1v1h-1zM22 17h1v1h-1zM25 17h1v1h-1zM29 17h3v1h-3zM34 17h2v1h-2zM44 17h1v1h-1zM48 17h1v1h-1zM62 17h1v1h-1zM88 17h1v1h-1zM1 18h1v1h-1zM30 18h1v1h-1zM37 18h1v1h-1zM20 19h1v1h-1zM49 19h1v1h-1zM58 19h2v1h-2zM17 20h1v1h-1zM19 20h1v1h-1zM23 20h1v1h-1zM31 20h1v1h-1zM37 20h1v1h-1zM42 20h1v1h-1zM49 20h1v1h-1zM52 20h1v1h-1zM57 20h1v1h-1zM65 20h1v1h-1zM16 21h1v1h-1zM50 21h1v1h-1zM63 21h1v1h-1zM1 22h2v1h-2zM11 22h1v1h-1zM17 22h1v1h-1zM44 22h1v1h-1zM50 22h1v1h-1zM59 22h1v1h-1zM13 23h1v1h-1zM20 23h1v1h-1zM34 23h1v1h-1zM38 23h1v1h-1zM40 23h1v1h-1zM49 23h1v1h-1zM63 23h1v1h-1zM2 24h1v1h-1zM14 24h1v1h-1zM29 24h1v1h-1zM43 24h1v1h-1zM77 24h1v1h-1zM81 24h1v1h-1zM87 24h1v1h-1zM2 25h1v1h-1zM17 25h1v1h-1zM30 25h1v1h-1zM34 25h2v1h-2zM37 25h1v1h-1zM42 25h1v1h-1zM45 25h1v1h-1zM88 25h1v1h-1zM14 26h1v1h-1zM52 26h1v1h-1zM59 26h1v1h-1zM5 27h1v1h-1zM38 27h1v1h-1zM54 27h1v1h-1zM57 27h1v1h-1zM59 27h1v1h-1zM64 28h1v1h-1zM17 29h1v1h-1zM24 29h1v1h-1zM38 29h1v1h-1zM43 29h1v1h-1zM45 29h1v1h-1zM60 29h1v1h-1zM75 29h1v1h-1zM88 29h1v1h-1zM92 29h4v1h-4zM98 29h1v1h-1zM100 29h2v1h-2zM2 30h1v1h-1zM17 30h2v1h-2zM25 30h1v1h-1zM44 30h1v1h-1zM52 30h1v1h-1zM58 30h1v1h-1zM76 30h1v1h-1zM81 30h1v1h-1zM3 31h1v1h-1zM6 31h1v1h-1zM17 31h1v1h-1zM20 31h1v1h-1zM33 31h1v1h-1zM36 31h1v1h-1zM50 31h1v1h-1zM65 31h1v1h-1zM0 32h1v1h-1zM14 32h1v1h-1zM38 32h1v1h-1zM41 32h1v1h-1zM6 33h1v1h-1zM13 33h1v1h-1zM31 33h1v1h-1zM65 33h1v1h-1zM69 33h1v1h-1zM71 33h1v1h-1zM88 33h1v1h-1zM9 34h1v1h-1zM13 34h1v1h-1zM17 34h1v1h-1zM23 34h1v1h-1zM25 34h1v1h-1zM61 34h1v1h-1zM14 35h1v1h-1zM17 35h1v1h-1zM25 35h1v1h-1zM60 35h1v1h-1zM62 35h1v1h-1zM76 35h1v1h-1zM31 36h1v1h-1zM51 36h1v1h-1zM1 37h1v1h-1zM18 37h1v1h-1zM20 37h1v1h-1zM25 37h1v1h-1zM47 37h1v1h-1zM64 37h1v1h-1zM83 37h1v1h-1zM97 37h1v1h-1zM12 38h1v1h-1zM23 38h1v1h-1zM27 38h1v1h-1zM29 38h1v1h-1zM32 38h1v1h-1zM65 38h1v1h-1zM86 38h1v1h-1zM43 39h1v1h-1zM52 39h2v1h-2zM62 39h2v1h-2zM74 39h1v1h-1zM23 40h1v1h-1zM53 40h1v1h-1zM13 41h1v1h-1zM32 41h1v1h-1zM43 41h1v1h-1zM58 41h1v1h-1zM15 42h1v1h-1zM20 42h1v1h-1zM25 42h1v1h-1zM46 42h1v1h-1zM52 42h1v1h-1zM55 42h1v1h-1zM63 42h1v1h-1zM24 43h1v1h-1zM29 43h1v1h-1zM39 43h1v1h-1zM41 43h1v1h-1zM79 43h2v1h-2zM89 43h1v1h-1zM8 44h1v1h-1zM17 44h1v1h-1zM22 44h1v1h-1zM30 44h1v1h-1zM48 44h1v1h-1zM60 44h1v1h-1zM64 44h1v1h-1zM74 44h1v1h-1zM80 44h1v1h-1zM25 45h1v1h-1zM29 45h1v1h-1zM53 45h1v1h-1zM16 46h1v1h-1zM42 46h1v1h-1zM54 46h1v1h-1zM58 46h1v1h-1zM73 46h1v1h-1zM77 46h1v1h-1zM12 47h1v1h-1zM16 47h1v1h-1zM37 47h1v1h-1zM68 47h1v1h-1zM70 47h1v1h-1zM74 47h1v1h-1zM76 47h1v1h-1zM91 47h2v1h-2zM95 47h1v1h-1zM98 47h1v1h-1zM17 48h1v1h-1zM44 48h1v1h-1zM50 48h1v1h-1zM58 48h1v1h-1zM89 48h1v1h-1zM2 49h1v1h-1zM19 49h2v1h-2zM23 49h1v1h-1zM53 49h1v1h-1zM56 49h1v1h-1zM59 49h1v1h-1zM13 50h1v1h-1zM15 50h1v1h-1zM21 50h2v1h-2zM31 50h1v1h-1zM48 50h1v1h-1zM81 50h1v1h-1zM14 51h1v1h-1zM36 51h1v1h-1zM63 51h1v1h-1zM2 52h1v1h-1zM8 52h1v1h-1zM20 52h1v1h-1zM26 52h1v1h-1zM30 52h1v1h-1zM39 52h1v1h-1zM42 52h1v1h-1zM61 52h1v1h-1zM65 52h1v1h-1zM39 53h2v1h-2zM45 53h1v1h-1zM49 53h1v1h-1zM86 53h1v1h-1zM0 54h1v1h-1zM27 54h1v1h-1zM46 54h1v1h-1zM7 55h1v1h-1zM42 55h1v1h-1zM60 55h1v1h-1zM64 55h1v1h-1zM89 55h1v1h-1zM49 56h1v1h-1zM78 56h1v1h-1zM90 56h12v1h-12zM8 57h1v1h-1zM20 57h1v1h-1zM27 57h1v1h-1zM73 57h1v1h-1zM75 57h1v1h-1zM5 58h1v1h-1zM8 58h2v1h-2zM13 58h1v1h-1zM19 58h1v1h-1zM30 58h1v1h-1zM41 58h1v1h-1zM46 58h1v1h-1zM48 58h1v1h-1zM78 58h1v1h-1zM88 58h1v1h-1zM19 59h1v1h-1zM22 59h1v1h-1zM26 59h2v1h-2zM49 59h1v1h-1zM90 59h12v1h-12zM14 60h1v1h-1zM29 60h1v1h-1zM35 60h1v1h-1zM44 60h1v1h-1zM55 60h1v1h-1zM90 60h12v1h-12zM16 61h1v1h-1zM34 61h1v1h-1zM52 61h1v1h-1zM89 61h1v1h-1zM10 62h1v1h-1zM17 62h1v1h-1zM35 62h1v1h-1zM39 62h1v1h-1zM8 63h1v1h-1zM21 63h1v1h-1zM23 63h1v1h-1zM39 63h1v1h-1zM42 63h1v1h-1zM51 63h1v1h-1zM13 64h1v1h-1zM28 64h1v1h-1zM37 64h1v1h-1zM44 64h1v1h-1zM55 64h1v1h-1zM10 65h1v1h-1zM13 65h1v1h-1zM20 65h1v1h-1zM31 65h1v1h-1zM33 65h1v1h-1zM38 65h1v1h-1zM52 65h1v1h-1zM47 68h1v1h-1zM33 69h1v1h-1zM47 70h1v1h-1zM33 71h1v1h-1zM90 72h12v1h-12zM16 73h1v1h-1zM46 73h1v1h-1zM57 73h1v1h-1zM84 73h1v1h-1zM88 73h1v1h-1zM7 74h1v1h-1zM39 74h1v1h-1zM44 74h1v1h-1zM47 74h1v1h-1zM90 74h12v1h-12zM29 75h1v1h-1zM57 75h1v1h-1zM74 75h1v1h-1zM30 76h1v1h-1zM35 76h1v1h-1zM47 76h1v1h-1zM7 77h1v1h-1zM24 77h1v1h-1zM46 77h1v1h-1zM2 78h1v1h-1zM8 78h1v1h-1zM11 78h1v1h-1zM56 78h1v1h-1zM58 78h1v1h-1zM43 79h1v1h-1zM8 80h1v1h-1zM13 80h1v1h-1zM43 80h2v1h-2zM90 80h12v1h-12zM16 81h1v1h-1zM24 81h1v1h-1zM30 81h1v1h-1zM50 81h1v1h-1zM8 82h1v1h-1zM37 83h1v1h-1zM90 83h12v1h-12zM90 84h12v1h-12zM14 85h1v1h-1zM38 86h1v1h-1zM53 86h1v1h-1zM6 87h3v1h-3zM24 87h1v1h-1zM2 88h1v1h-1zM17 88h1v1h-1zM25 88h1v1h-1zM29 88h1v1h-1zM33 88h1v1h-1zM58 88h1v1h-1zM8 89h1v1h-1zM13 89h1v1h-1zM43 89h1v1h-1zM48 89h1v1h-1zM55 89h1v1h-1zM61 89h1v1h-1zM9 90h2v1h-2zM14 90h2v1h-2zM56 90h1v1h-1zM59 90h2v1h-2zM72 90h1v1h-1zM74 90h1v1h-1zM80 90h1v1h-1zM83 90h2v1h-2zM9 91h2v1h-2zM14 91h2v1h-2zM47 91h1v1h-1zM56 91h1v1h-1zM59 91h2v1h-2zM72 91h1v1h-1zM74 91h1v1h-1zM80 91h1v1h-1zM83 91h2v1h-2zM9 92h2v1h-2zM14 92h2v1h-2zM29 92h1v1h-1zM47 92h1v1h-1zM56 92h1v1h-1zM59 92h2v1h-2zM72 92h1v1h-1zM74 92h1v1h-1zM80 92h1v1h-1zM83 92h2v1h-2zM9 93h2v1h-2zM14 93h2v1h-2zM29 93h1v1h-1zM56 93h1v1h-1zM59 93h2v1h-2zM72 93h1v1h-1zM74 93h1v1h-1zM80 93h1v1h-1zM83 93h2v1h-2zM9 94h2v1h-2zM14 94h2v1h-2zM29 94h1v1h-1zM56 94h1v1h-1zM59 94h2v1h-2zM72 94h1v1h-1zM74 94h1v1h-1zM80 94h1v1h-1zM83 94h2v1h-2zM2 95h1v1h-1zM9 95h2v1h-2zM29 95h1v1h-1zM47 95h1v1h-1zM56 95h1v1h-1zM59 95h2v1h-2zM72 95h1v1h-1zM74 95h1v1h-1zM80 95h1v1h-1zM83 95h2v1h-2zM2 96h1v1h-1zM9 96h2v1h-2zM14 96h2v1h-2zM56 96h1v1h-1zM59 96h2v1h-2zM72 96h1v1h-1zM74 96h1v1h-1zM80 96h1v1h-1zM83 96h2v1h-2zM9 97h2v1h-2zM15 97h1v1h-1zM37 97h1v1h-1zM56 97h1v1h-1zM59 97h2v1h-2zM72 97h1v1h-1zM74 97h1v1h-1zM80 97h1v1h-1zM83 97h2v1h-2zM9 98h2v1h-2zM15 98h1v1h-1zM29 98h1v1h-1zM47 98h1v1h-1zM56 98h1v1h-1zM59 98h2v1h-2zM72 98h1v1h-1zM74 98h1v1h-1zM80 98h1v1h-1zM83 98h2v1h-2zM2 99h1v1h-1zM9 99h2v1h-2zM14 99h2v1h-2zM56 99h1v1h-1zM59 99h2v1h-2zM72 99h1v1h-1zM74 99h1v1h-1zM80 99h1v1h-1zM83 99h2v1h-2zM9 100h2v1h-2zM15 100h1v1h-1zM29 100h1v1h-1zM56 100h1v1h-1zM59 100h2v1h-2zM72 100h1v1h-1zM74 100h1v1h-1zM80 100h1v1h-1zM83 100h2v1h-2zM9 101h2v1h-2zM14 101h2v1h-2zM29 101h1v1h-1zM56 101h1v1h-1zM59 101h2v1h-2zM72 101h1v1h-1zM74 101h1v1h-1zM80 101h1v1h-1zM83 101h2v1h-2z"/>
<path fill="#350506" d="M7 0h1v1h-1zM11 0h1v1h-1zM22 0h1v1h-1zM7 1h1v1h-1zM56 1h1v1h-1zM40 2h1v1h-1zM42 2h1v1h-1zM48 2h1v1h-1zM57 2h1v1h-1zM75 2h1v1h-1zM92 2h2v1h-2zM101 2h1v1h-1zM8 3h1v1h-1zM12 3h1v1h-1zM33 3h1v1h-1zM10 4h1v1h-1zM14 4h1v1h-1zM34 5h1v1h-1zM36 5h1v1h-1zM47 5h1v1h-1zM52 5h1v1h-1zM7 6h1v1h-1zM9 6h1v1h-1zM44 6h1v1h-1zM47 6h1v1h-1zM0 7h2v1h-2zM6 7h1v1h-1zM75 7h1v1h-1zM90 7h12v1h-12zM3 8h1v1h-1zM21 8h1v1h-1zM27 8h1v1h-1zM36 8h1v1h-1zM51 8h1v1h-1zM61 8h1v1h-1zM90 8h12v1h-12zM6 9h1v1h-1zM12 9h1v1h-1zM22 9h1v1h-1zM37 9h1v1h-1zM46 9h1v1h-1zM57 9h1v1h-1zM66 9h1v1h-1zM4 10h1v1h-1zM11 10h1v1h-1zM40 10h1v1h-1zM43 10h1v1h-1zM52 10h1v1h-1zM0 11h1v1h-1zM10 11h1v1h-1zM29 11h1v1h-1zM39 11h1v1h-1zM42 11h1v1h-1zM3 12h1v1h-1zM9 12h1v1h-1zM14 12h1v1h-1zM39 12h1v1h-1zM43 12h1v1h-1zM53 12h1v1h-1zM47 13h1v1h-1zM4 14h1v1h-1zM12 14h1v1h-1zM31 14h1v1h-1zM42 14h1v1h-1zM53 14h1v1h-1zM73 14h2v1h-2zM79 14h2v1h-2zM84 14h1v1h-1zM89 14h1v1h-1zM97 14h1v1h-1zM100 14h1v1h-1zM39 15h1v1h-1zM55 15h1v1h-1zM60 15h1v1h-1zM62 15h1v1h-1zM74 15h1v1h-1zM86 15h1v1h-1zM95 15h1v1h-1zM24 16h1v1h-1zM47 17h1v1h-1zM53 17h1v1h-1zM59 17h1v1h-1zM80 17h1v1h-1zM49 18h1v1h-1zM63 18h1v1h-1zM66 18h1v1h-1zM60 19h1v1h-1zM25 20h1v1h-1zM8 21h1v1h-1zM27 21h1v1h-1zM44 21h1v1h-1zM0 22h1v1h-1zM9 22h1v1h-1zM24 22h2v1h-2zM32 23h1v1h-1zM35 23h1v1h-1zM42 23h1v1h-1zM51 23h1v1h-1zM54 23h1v1h-1zM16 24h1v1h-1zM22 24h1v1h-1zM61 24h1v1h-1zM79 24h1v1h-1zM20 25h1v1h-1zM22 25h1v1h-1zM50 25h1v1h-1zM53 25h1v1h-1zM57 25h1v1h-1zM78 25h1v1h-1zM89 25h1v1h-1zM31 26h2v1h-2zM43 26h1v1h-1zM51 26h1v1h-1zM8 27h1v1h-1zM21 27h1v1h-1zM48 27h1v1h-1zM55 27h1v1h-1zM38 28h1v1h-1zM50 28h1v1h-1zM62 28h1v1h-1zM11 29h1v1h-1zM44 29h1v1h-1zM58 29h1v1h-1zM61 29h1v1h-1zM63 29h1v1h-1zM73 29h1v1h-1zM76 29h1v1h-1zM87 29h1v1h-1zM34 30h1v1h-1zM57 30h1v1h-1zM60 30h1v1h-1zM89 30h1v1h-1zM14 31h1v1h-1zM26 31h1v1h-1zM45 31h1v1h-1zM47 31h1v1h-1zM49 31h1v1h-1zM23 32h1v1h-1zM26 32h1v1h-1zM40 32h1v1h-1zM44 32h1v1h-1zM63 32h1v1h-1zM65 32h1v1h-1zM3 33h1v1h-1zM39 33h1v1h-1zM72 33h1v1h-1zM5 34h1v1h-1zM30 34h1v1h-1zM35 34h1v1h-1zM23 35h1v1h-1zM34 35h1v1h-1zM41 35h1v1h-1zM53 35h1v1h-1zM5 36h1v1h-1zM8 36h1v1h-1zM41 36h1v1h-1zM48 36h1v1h-1zM65 36h1v1h-1zM9 37h1v1h-1zM38 37h1v1h-1zM86 37h1v1h-1zM28 38h1v1h-1zM37 38h1v1h-1zM76 38h1v1h-1zM11 39h2v1h-2zM15 39h1v1h-1zM33 39h1v1h-1zM41 39h1v1h-1zM2 40h1v1h-1zM10 40h1v1h-1zM32 40h1v1h-1zM58 40h1v1h-1zM62 40h1v1h-1zM35 41h2v1h-2zM39 41h1v1h-1zM45 41h1v1h-1zM51 41h1v1h-1zM55 41h1v1h-1zM2 42h1v1h-1zM11 42h1v1h-1zM14 42h1v1h-1zM23 42h1v1h-1zM44 42h1v1h-1zM49 42h1v1h-1zM10 43h1v1h-1zM12 43h1v1h-1zM26 43h1v1h-1zM44 43h1v1h-1zM54 43h1v1h-1zM74 43h1v1h-1zM6 44h1v1h-1zM21 44h1v1h-1zM29 44h1v1h-1zM32 44h1v1h-1zM42 44h2v1h-2zM57 44h2v1h-2zM61 44h1v1h-1zM73 44h1v1h-1zM85 44h1v1h-1zM31 45h1v1h-1zM41 45h1v1h-1zM47 45h1v1h-1zM59 45h1v1h-1zM9 46h1v1h-1zM76 46h1v1h-1zM86 46h1v1h-1zM88 46h1v1h-1zM5 47h2v1h-2zM13 47h1v1h-1zM17 47h1v1h-1zM31 47h1v1h-1zM45 47h1v1h-1zM63 47h1v1h-1zM71 47h1v1h-1zM90 47h1v1h-1zM2 48h1v1h-1zM27 48h1v1h-1zM36 48h1v1h-1zM18 49h1v1h-1zM31 49h1v1h-1zM42 49h1v1h-1zM60 49h1v1h-1zM25 50h1v1h-1zM28 50h1v1h-1zM62 50h1v1h-1zM8 51h1v1h-1zM23 51h1v1h-1zM26 51h1v1h-1zM41 51h1v1h-1zM60 51h1v1h-1zM5 52h1v1h-1zM10 52h1v1h-1zM55 52h1v1h-1zM57 52h1v1h-1zM12 53h1v1h-1zM14 53h1v1h-1zM17 53h1v1h-1zM25 53h1v1h-1zM35 53h1v1h-1zM61 53h1v1h-1zM23 54h1v1h-1zM43 54h1v1h-1zM15 55h1v1h-1zM27 55h1v1h-1zM41 55h1v1h-1zM52 55h1v1h-1zM1 56h1v1h-1zM2 57h1v1h-1zM9 57h1v1h-1zM25 57h1v1h-1zM30 57h1v1h-1zM44 57h1v1h-1zM52 57h1v1h-1zM76 57h3v1h-3zM89 57h1v1h-1zM29 58h1v1h-1zM40 58h1v1h-1zM44 58h1v1h-1zM79 58h1v1h-1zM81 58h1v1h-1zM17 59h1v1h-1zM45 59h1v1h-1zM15 60h1v1h-1zM19 60h1v1h-1zM30 60h1v1h-1zM49 60h1v1h-1zM51 60h1v1h-1zM8 61h1v1h-1zM24 61h1v1h-1zM29 61h1v1h-1zM44 61h1v1h-1zM53 61h1v1h-1zM81 61h1v1h-1zM15 62h1v1h-1zM28 62h1v1h-1zM40 62h1v1h-1zM50 62h1v1h-1zM88 62h1v1h-1zM18 63h1v1h-1zM29 63h1v1h-1zM32 63h1v1h-1zM47 63h1v1h-1zM90 63h12v1h-12zM75 64h1v1h-1zM79 64h1v1h-1zM85 64h1v1h-1zM90 64h12v1h-12zM32 65h1v1h-1zM36 65h1v1h-1zM9 66h1v1h-1zM18 66h1v1h-1zM73 68h1v1h-1zM77 69h1v1h-1zM77 70h1v1h-1zM47 71h1v1h-1zM33 72h1v1h-1zM77 72h1v1h-1zM14 73h1v1h-1zM29 73h1v1h-1zM44 73h1v1h-1zM68 73h1v1h-1zM75 73h1v1h-1zM82 73h1v1h-1zM86 73h1v1h-1zM90 73h12v1h-12zM14 74h2v1h-2zM43 74h1v1h-1zM2 75h1v1h-1zM7 75h1v1h-1zM64 75h1v1h-1zM73 75h1v1h-1zM29 76h1v1h-1zM38 76h1v1h-1zM46 76h1v1h-1zM57 76h1v1h-1zM57 77h1v1h-1zM69 77h2v1h-2zM72 77h1v1h-1zM25 78h1v1h-1zM57 78h1v1h-1zM14 79h1v1h-1zM24 79h1v1h-1zM58 79h1v1h-1zM64 79h1v1h-1zM14 80h1v1h-1zM17 80h1v1h-1zM58 81h1v1h-1zM61 81h1v1h-1zM90 81h12v1h-12zM14 84h1v1h-1zM44 85h1v1h-1zM64 85h1v1h-1zM15 86h1v1h-1zM37 86h1v1h-1zM46 86h1v1h-1zM29 87h1v1h-1zM74 87h1v1h-1zM46 88h1v1h-1zM62 88h1v1h-1zM14 89h1v1h-1zM25 89h1v1h-1zM30 89h1v1h-1zM57 89h1v1h-1zM7 90h2v1h-2zM47 90h1v1h-1zM63 90h2v1h-2zM73 90h1v1h-1zM81 90h1v1h-1zM7 91h2v1h-2zM63 91h2v1h-2zM73 91h1v1h-1zM81 91h1v1h-1zM2 92h1v1h-1zM7 92h2v1h-2zM63 92h2v1h-2zM73 92h1v1h-1zM81 92h1v1h-1zM2 93h1v1h-1zM7 93h2v1h-2zM63 93h2v1h-2zM73 93h1v1h-1zM81 93h1v1h-1zM7 94h2v1h-2zM63 94h2v1h-2zM73 94h1v1h-1zM81 94h1v1h-1zM7 95h2v1h-2zM15 95h1v1h-1zM63 95h2v1h-2zM73 95h1v1h-1zM81 95h1v1h-1zM7 96h2v1h-2zM63 96h2v1h-2zM73 96h1v1h-1zM81 96h1v1h-1zM7 97h2v1h-2zM14 97h1v1h-1zM63 97h2v1h-2zM73 97h1v1h-1zM81 97h1v1h-1zM7 98h2v1h-2zM63 98h2v1h-2zM73 98h1v1h-1zM81 98h1v1h-1zM7 99h2v1h-2zM63 99h2v1h-2zM73 99h1v1h-1zM81 99h1v1h-1zM7 100h2v1h-2zM14 100h1v1h-1zM63 100h2v1h-2zM73 100h1v1h-1zM81 100h1v1h-1zM2 101h1v1h-1zM7 101h2v1h-2zM63 101h2v1h-2zM73 101h1v1h-1zM81 101h1v1h-1z"/>
<path fill="#470608" d="M21 0h1v1h-1zM29 0h1v1h-1zM61 0h1v1h-1zM39 1h1v1h-1zM17 2h1v1h-1zM23 2h1v1h-1zM90 2h1v1h-1zM23 3h1v1h-1zM39 3h1v1h-1zM43 3h1v1h-1zM66 3h1v1h-1zM89 3h1v1h-1zM58 4h1v1h-1zM44 5h1v1h-1zM64 5h1v1h-1zM11 6h1v1h-1zM24 6h1v1h-1zM27 6h1v1h-1zM41 6h1v1h-1zM66 6h1v1h-1zM14 7h1v1h-1zM33 7h1v1h-1zM73 7h1v1h-1zM76 7h1v1h-1zM89 7h1v1h-1zM17 8h1v1h-1zM20 8h1v1h-1zM37 8h1v1h-1zM74 8h1v1h-1zM15 9h1v1h-1zM26 10h1v1h-1zM47 10h1v1h-1zM6 11h1v1h-1zM17 11h1v1h-1zM24 11h1v1h-1zM27 11h1v1h-1zM21 12h1v1h-1zM64 12h1v1h-1zM17 13h1v1h-1zM35 13h1v1h-1zM39 13h1v1h-1zM45 13h1v1h-1zM77 13h1v1h-1zM7 14h1v1h-1zM16 14h1v1h-1zM34 14h1v1h-1zM38 14h1v1h-1zM75 14h1v1h-1zM86 14h1v1h-1zM95 14h1v1h-1zM98 14h1v1h-1zM9 15h1v1h-1zM28 15h1v1h-1zM31 15h1v1h-1zM66 15h1v1h-1zM76 15h1v1h-1zM14 16h1v1h-1zM25 16h1v1h-1zM33 16h1v1h-1zM2 17h1v1h-1zM8 17h1v1h-1zM11 17h1v1h-1zM13 17h1v1h-1zM32 17h1v1h-1zM42 17h1v1h-1zM36 18h1v1h-1zM47 18h1v1h-1zM51 18h1v1h-1zM22 19h1v1h-1zM46 19h1v1h-1zM8 20h1v1h-1zM38 20h1v1h-1zM59 20h1v1h-1zM62 20h1v1h-1zM0 21h1v1h-1zM12 21h1v1h-1zM43 21h1v1h-1zM59 21h1v1h-1zM62 21h1v1h-1zM19 22h1v1h-1zM54 22h1v1h-1zM2 23h2v1h-2zM25 23h1v1h-1zM39 23h1v1h-1zM60 23h2v1h-2zM6 24h1v1h-1zM11 24h1v1h-1zM35 24h1v1h-1zM37 24h1v1h-1zM48 24h1v1h-1zM51 24h1v1h-1zM53 24h1v1h-1zM64 24h1v1h-1zM16 25h1v1h-1zM23 25h1v1h-1zM26 25h1v1h-1zM43 25h1v1h-1zM49 25h1v1h-1zM51 25h1v1h-1zM10 26h1v1h-1zM25 26h1v1h-1zM6 27h1v1h-1zM11 27h1v1h-1zM35 27h1v1h-1zM15 28h1v1h-1zM29 28h1v1h-1zM49 28h1v1h-1zM60 28h1v1h-1zM0 29h1v1h-1zM28 29h1v1h-1zM35 29h1v1h-1zM42 29h1v1h-1zM51 29h1v1h-1zM40 30h2v1h-2zM46 30h1v1h-1zM63 30h1v1h-1zM65 30h1v1h-1zM73 30h1v1h-1zM15 31h1v1h-1zM52 31h1v1h-1zM17 32h1v1h-1zM35 32h1v1h-1zM42 32h1v1h-1zM7 33h1v1h-1zM16 33h1v1h-1zM14 34h1v1h-1zM13 35h1v1h-1zM24 35h1v1h-1zM27 35h1v1h-1zM29 35h1v1h-1zM32 35h1v1h-1zM46 35h1v1h-1zM55 35h1v1h-1zM63 35h1v1h-1zM18 36h1v1h-1zM55 36h1v1h-1zM8 37h1v1h-1zM24 37h1v1h-1zM41 37h1v1h-1zM45 37h1v1h-1zM53 37h1v1h-1zM79 37h1v1h-1zM14 38h1v1h-1zM20 38h1v1h-1zM56 38h1v1h-1zM1 39h1v1h-1zM3 39h1v1h-1zM13 39h1v1h-1zM23 39h1v1h-1zM40 39h1v1h-1zM56 39h1v1h-1zM30 40h1v1h-1zM39 40h1v1h-1zM66 40h1v1h-1zM85 40h1v1h-1zM6 41h1v1h-1zM30 41h1v1h-1zM37 41h1v1h-1zM17 42h1v1h-1zM29 42h1v1h-1zM32 42h1v1h-1zM57 42h1v1h-1zM3 43h1v1h-1zM21 43h1v1h-1zM25 43h1v1h-1zM51 43h1v1h-1zM58 43h1v1h-1zM5 44h1v1h-1zM52 44h1v1h-1zM54 44h1v1h-1zM65 44h1v1h-1zM13 45h1v1h-1zM37 45h1v1h-1zM57 45h1v1h-1zM61 45h1v1h-1zM63 45h1v1h-1zM19 46h1v1h-1zM30 46h1v1h-1zM35 46h1v1h-1zM51 46h1v1h-1zM10 47h1v1h-1zM18 47h1v1h-1zM52 47h1v1h-1zM75 47h1v1h-1zM24 48h1v1h-1zM25 49h1v1h-1zM28 49h1v1h-1zM62 49h1v1h-1zM52 50h1v1h-1zM65 50h1v1h-1zM18 51h1v1h-1zM24 51h2v1h-2zM29 51h1v1h-1zM43 51h1v1h-1zM46 51h1v1h-1zM62 51h1v1h-1zM64 51h2v1h-2zM31 52h1v1h-1zM44 52h1v1h-1zM47 52h1v1h-1zM50 52h1v1h-1zM24 53h1v1h-1zM37 53h1v1h-1zM22 54h1v1h-1zM44 54h1v1h-1zM64 54h1v1h-1zM35 55h2v1h-2zM38 56h2v1h-2zM42 57h1v1h-1zM45 57h1v1h-1zM61 57h1v1h-1zM4 58h1v1h-1zM43 58h1v1h-1zM73 58h1v1h-1zM75 58h1v1h-1zM80 58h1v1h-1zM87 58h1v1h-1zM20 59h2v1h-2zM23 60h1v1h-1zM28 60h1v1h-1zM0 61h1v1h-1zM23 61h1v1h-1zM45 61h1v1h-1zM57 61h1v1h-1zM90 61h12v1h-12zM20 62h2v1h-2zM49 62h1v1h-1zM51 62h1v1h-1zM90 62h12v1h-12zM30 63h1v1h-1zM35 63h1v1h-1zM45 63h1v1h-1zM5 64h1v1h-1zM12 64h1v1h-1zM24 64h1v1h-1zM51 64h1v1h-1zM54 64h1v1h-1zM30 65h1v1h-1zM44 65h1v1h-1zM50 65h2v1h-2zM3 66h1v1h-1zM6 66h1v1h-1zM15 66h1v1h-1zM40 66h1v1h-1zM74 68h1v1h-1zM74 70h1v1h-1zM76 71h2v1h-2zM7 73h1v1h-1zM30 73h1v1h-1zM58 73h1v1h-1zM8 74h1v1h-1zM68 74h1v1h-1zM70 74h1v1h-1zM89 74h1v1h-1zM14 75h1v1h-1zM47 75h1v1h-1zM58 75h1v1h-1zM7 76h1v1h-1zM15 76h1v1h-1zM71 76h1v1h-1zM13 77h1v1h-1zM71 77h1v1h-1zM74 77h1v1h-1zM37 79h1v1h-1zM58 80h1v1h-1zM73 83h1v1h-1zM74 84h1v1h-1zM40 85h1v1h-1zM73 85h2v1h-2zM14 86h1v1h-1zM58 87h1v1h-1zM73 88h1v1h-1zM3 89h1v1h-1zM7 89h1v1h-1zM2 90h1v1h-1zM61 90h2v1h-2zM61 91h2v1h-2zM61 92h2v1h-2zM61 93h2v1h-2zM61 94h2v1h-2zM14 95h1v1h-1zM61 95h2v1h-2zM61 96h2v1h-2zM61 97h2v1h-2zM14 98h1v1h-1zM61 98h2v1h-2zM61 99h2v1h-2zM61 100h2v1h-2zM61 101h2v1h-2z"/>
<path fill="#59080a" d="M10 0h1v1h-1zM27 0h2v1h-2zM37 0h1v1h-1zM42 0h1v1h-1zM33 1h1v1h-1zM47 1h1v1h-1zM53 2h1v1h-1zM55 2h1v1h-1zM58 2h1v1h-1zM64 2h1v1h-1zM9 3h1v1h-1zM19 4h1v1h-1zM25 4h1v1h-1zM39 4h1v1h-1zM52 4h1v1h-1zM10 6h1v1h-1zM56 6h1v1h-1zM32 8h1v1h-1zM75 8h1v1h-1zM3 9h1v1h-1zM14 9h1v1h-1zM17 9h1v1h-1zM32 9h1v1h-1zM45 9h1v1h-1zM0 10h1v1h-1zM6 10h1v1h-1zM56 11h1v1h-1zM62 11h1v1h-1zM19 12h2v1h-2zM22 13h1v1h-1zM38 13h1v1h-1zM51 13h1v1h-1zM9 14h1v1h-1zM29 14h1v1h-1zM66 14h1v1h-1zM54 15h1v1h-1zM59 16h1v1h-1zM9 17h1v1h-1zM55 17h1v1h-1zM35 18h1v1h-1zM41 18h1v1h-1zM48 18h1v1h-1zM53 18h1v1h-1zM65 18h1v1h-1zM4 19h1v1h-1zM12 19h1v1h-1zM37 19h1v1h-1zM48 19h1v1h-1zM12 20h1v1h-1zM29 20h1v1h-1zM58 21h1v1h-1zM13 22h1v1h-1zM47 22h2v1h-2zM56 22h1v1h-1zM31 24h1v1h-1zM59 24h1v1h-1zM4 25h1v1h-1zM33 25h1v1h-1zM55 25h1v1h-1zM65 25h1v1h-1zM48 26h1v1h-1zM55 26h1v1h-1zM66 26h1v1h-1zM0 27h1v1h-1zM0 28h1v1h-1zM66 28h1v1h-1zM14 29h1v1h-1zM20 29h1v1h-1zM64 29h1v1h-1zM80 29h2v1h-2zM38 30h1v1h-1zM56 30h1v1h-1zM24 31h1v1h-1zM66 31h1v1h-1zM8 32h2v1h-2zM45 32h1v1h-1zM51 32h1v1h-1zM1 33h1v1h-1zM25 33h1v1h-1zM55 33h1v1h-1zM66 33h1v1h-1zM39 34h1v1h-1zM46 34h1v1h-1zM48 34h1v1h-1zM18 35h1v1h-1zM36 35h1v1h-1zM38 35h2v1h-2zM59 35h1v1h-1zM35 36h1v1h-1zM45 36h2v1h-2zM52 36h1v1h-1zM64 36h1v1h-1zM0 37h1v1h-1zM19 37h1v1h-1zM48 37h1v1h-1zM50 37h1v1h-1zM56 37h1v1h-1zM13 38h1v1h-1zM30 38h1v1h-1zM35 38h1v1h-1zM4 39h1v1h-1zM34 39h2v1h-2zM60 39h1v1h-1zM81 39h1v1h-1zM44 40h1v1h-1zM55 40h1v1h-1zM61 40h1v1h-1zM18 41h1v1h-1zM0 42h1v1h-1zM40 44h1v1h-1zM45 44h1v1h-1zM9 45h1v1h-1zM32 45h1v1h-1zM36 45h1v1h-1zM44 45h1v1h-1zM58 45h1v1h-1zM62 45h1v1h-1zM34 46h1v1h-1zM36 46h1v1h-1zM48 46h1v1h-1zM57 46h1v1h-1zM60 46h1v1h-1zM1 47h1v1h-1zM22 47h1v1h-1zM73 47h1v1h-1zM18 48h2v1h-2zM22 48h1v1h-1zM26 48h1v1h-1zM34 48h1v1h-1zM37 48h1v1h-1zM46 48h1v1h-1zM53 48h1v1h-1zM37 50h1v1h-1zM61 50h1v1h-1zM66 50h1v1h-1zM13 51h1v1h-1zM32 51h1v1h-1zM4 52h1v1h-1zM36 52h1v1h-1zM64 52h1v1h-1zM66 52h1v1h-1zM85 52h1v1h-1zM2 53h1v1h-1zM18 53h1v1h-1zM48 53h1v1h-1zM59 53h1v1h-1zM15 54h1v1h-1zM61 54h1v1h-1zM2 55h1v1h-1zM17 55h1v1h-1zM25 55h2v1h-2zM33 55h1v1h-1zM40 55h1v1h-1zM61 55h1v1h-1zM6 56h1v1h-1zM11 56h1v1h-1zM22 56h1v1h-1zM30 56h1v1h-1zM37 56h1v1h-1zM46 57h1v1h-1zM90 57h12v1h-12zM2 58h1v1h-1zM21 58h1v1h-1zM45 58h1v1h-1zM90 58h12v1h-12zM16 59h1v1h-1zM24 59h1v1h-1zM35 59h1v1h-1zM53 59h1v1h-1zM39 60h1v1h-1zM46 60h1v1h-1zM40 61h1v1h-1zM50 61h1v1h-1zM54 61h2v1h-2zM11 62h1v1h-1zM45 62h1v1h-1zM2 64h1v1h-1zM29 64h1v1h-1zM36 64h1v1h-1zM52 64h1v1h-1zM18 65h1v1h-1zM25 65h1v1h-1zM14 66h1v1h-1zM26 66h1v1h-1zM28 66h1v1h-1zM31 66h1v1h-1zM33 66h1v1h-1zM50 66h1v1h-1zM52 66h1v1h-1zM77 68h1v1h-1zM73 71h1v1h-1zM74 72h1v1h-1zM47 73h1v1h-1zM71 73h1v1h-1zM79 73h2v1h-2zM72 74h1v1h-1zM75 74h1v1h-1zM78 74h1v1h-1zM88 74h1v1h-1zM8 75h1v1h-1zM83 75h1v1h-1zM68 77h1v1h-1zM74 78h1v1h-1zM74 79h1v1h-1zM29 80h1v1h-1zM74 80h1v1h-1zM29 81h1v1h-1zM39 81h1v1h-1zM52 85h1v1h-1zM73 89h1v1h-1zM57 90h2v1h-2zM57 91h2v1h-2zM57 92h2v1h-2zM57 93h2v1h-2zM57 94h2v1h-2zM57 95h2v1h-2zM57 96h2v1h-2zM57 97h2v1h-2zM57 98h2v1h-2zM57 99h2v1h-2zM57 100h2v1h-2zM57 101h2v1h-2z"/>
<path fill="#6c0a0c" d="M41 0h1v1h-1zM55 0h1v1h-1zM6 1h1v1h-1zM43 1h1v1h-1zM19 2h1v1h-1zM29 2h1v1h-1zM1 6h1v1h-1zM60 8h1v1h-1zM36 9h1v1h-1zM41 12h1v1h-1zM30 13h1v1h-1zM53 13h1v1h-1zM76 14h1v1h-1zM59 15h1v1h-1zM48 16h1v1h-1zM51 16h1v1h-1zM54 16h1v1h-1zM62 16h1v1h-1zM32 18h1v1h-1zM57 18h1v1h-1zM59 18h1v1h-1zM2 19h1v1h-1zM55 20h1v1h-1zM23 21h1v1h-1zM33 21h1v1h-1zM36 21h1v1h-1zM61 22h1v1h-1zM21 23h1v1h-1zM28 23h1v1h-1zM45 23h1v1h-1zM57 23h1v1h-1zM38 26h1v1h-1zM56 26h1v1h-1zM37 27h1v1h-1zM44 27h1v1h-1zM23 28h1v1h-1zM30 28h1v1h-1zM34 28h1v1h-1zM2 29h1v1h-1zM46 29h1v1h-1zM53 29h1v1h-1zM13 30h1v1h-1zM28 30h1v1h-1zM33 30h1v1h-1zM85 30h1v1h-1zM40 31h1v1h-1zM48 31h1v1h-1zM18 32h1v1h-1zM50 32h1v1h-1zM61 32h1v1h-1zM64 32h1v1h-1zM21 33h1v1h-1zM30 33h1v1h-1zM28 34h1v1h-1zM43 34h1v1h-1zM53 34h1v1h-1zM50 35h1v1h-1zM57 35h1v1h-1zM65 35h2v1h-2zM9 36h1v1h-1zM21 36h1v1h-1zM59 36h1v1h-1zM62 36h1v1h-1zM27 37h1v1h-1zM60 37h1v1h-1zM66 37h1v1h-1zM26 38h1v1h-1zM62 38h1v1h-1zM64 38h1v1h-1zM81 38h1v1h-1zM31 40h1v1h-1zM45 40h1v1h-1zM0 41h1v1h-1zM12 41h1v1h-1zM44 41h1v1h-1zM47 41h1v1h-1zM66 42h1v1h-1zM1 43h1v1h-1zM34 43h1v1h-1zM27 44h1v1h-1zM41 44h1v1h-1zM23 45h1v1h-1zM40 45h1v1h-1zM50 45h1v1h-1zM52 45h1v1h-1zM29 46h1v1h-1zM55 46h1v1h-1zM41 47h1v1h-1zM16 48h1v1h-1zM31 48h1v1h-1zM61 48h1v1h-1zM64 48h1v1h-1zM50 49h1v1h-1zM32 50h1v1h-1zM35 50h1v1h-1zM45 50h1v1h-1zM49 50h1v1h-1zM60 50h1v1h-1zM16 51h1v1h-1zM52 51h1v1h-1zM45 52h1v1h-1zM51 52h1v1h-1zM63 52h1v1h-1zM13 53h1v1h-1zM29 53h1v1h-1zM34 53h1v1h-1zM55 53h1v1h-1zM57 53h1v1h-1zM65 53h1v1h-1zM16 54h1v1h-1zM55 54h1v1h-1zM65 54h1v1h-1zM0 55h1v1h-1zM20 55h1v1h-1zM46 55h1v1h-1zM53 55h1v1h-1zM63 55h1v1h-1zM26 56h1v1h-1zM18 57h1v1h-1zM23 57h1v1h-1zM35 57h1v1h-1zM53 57h1v1h-1zM74 58h1v1h-1zM15 59h1v1h-1zM18 59h1v1h-1zM36 59h1v1h-1zM8 60h1v1h-1zM37 60h1v1h-1zM50 60h1v1h-1zM22 61h1v1h-1zM32 61h1v1h-1zM48 61h1v1h-1zM16 62h1v1h-1zM36 62h1v1h-1zM38 62h1v1h-1zM52 63h1v1h-1zM55 63h1v1h-1zM32 64h1v1h-1zM38 64h1v1h-1zM48 64h1v1h-1zM73 64h1v1h-1zM35 65h1v1h-1zM53 65h2v1h-2zM61 65h1v1h-1zM35 66h1v1h-1zM37 66h1v1h-1zM42 66h1v1h-1zM64 73h1v1h-1zM77 73h1v1h-1zM87 73h1v1h-1zM58 74h1v1h-1zM82 74h2v1h-2zM86 74h1v1h-1zM14 76h1v1h-1zM79 76h1v1h-1zM38 81h1v1h-1zM74 81h1v1h-1zM75 83h1v1h-1zM30 85h1v1h-1zM73 87h1v1h-1zM74 88h1v1h-1z"/>
<path fill="#800c0f" d="M4 0h2v1h-2zM4 1h1v1h-1zM13 1h1v1h-1zM4 2h1v1h-1zM14 2h1v1h-1zM34 2h1v1h-1zM87 2h1v1h-1zM4 3h1v1h-1zM36 3h1v1h-1zM0 4h4v1h-4zM11 4h1v1h-1zM62 4h1v1h-1zM0 5h1v1h-1zM54 5h1v1h-1zM38 6h1v1h-1zM66 7h1v1h-1zM43 8h1v1h-1zM56 10h1v1h-1zM4 11h1v1h-1zM57 11h1v1h-1zM13 12h1v1h-1zM1 13h1v1h-1zM12 13h1v1h-1zM63 13h1v1h-1zM2 14h1v1h-1zM57 14h1v1h-1zM52 18h1v1h-1zM34 19h1v1h-1zM61 19h1v1h-1zM48 23h1v1h-1zM64 23h1v1h-1zM50 24h1v1h-1zM60 24h1v1h-1zM54 25h1v1h-1zM62 25h1v1h-1zM64 25h1v1h-1zM50 27h1v1h-1zM63 27h1v1h-1zM52 28h2v1h-2zM56 28h1v1h-1zM41 29h1v1h-1zM48 29h1v1h-1zM53 30h1v1h-1zM62 30h1v1h-1zM38 31h1v1h-1zM43 31h1v1h-1zM46 31h1v1h-1zM55 31h1v1h-1zM37 32h1v1h-1zM52 32h2v1h-2zM62 32h1v1h-1zM63 33h1v1h-1zM2 34h1v1h-1zM19 34h1v1h-1zM37 34h1v1h-1zM51 34h1v1h-1zM60 34h1v1h-1zM54 35h1v1h-1zM3 36h1v1h-1zM32 37h1v1h-1zM34 37h1v1h-1zM63 37h1v1h-1zM65 37h1v1h-1zM6 38h1v1h-1zM31 38h1v1h-1zM45 38h1v1h-1zM45 39h1v1h-1zM64 40h1v1h-1zM29 41h1v1h-1zM51 42h1v1h-1zM8 43h1v1h-1zM31 43h1v1h-1zM50 43h1v1h-1zM55 43h1v1h-1zM38 45h2v1h-2zM31 46h1v1h-1zM62 46h2v1h-2zM64 47h1v1h-1zM23 48h1v1h-1zM29 48h1v1h-1zM52 48h1v1h-1zM55 48h1v1h-1zM59 48h1v1h-1zM55 49h1v1h-1zM61 49h1v1h-1zM24 50h1v1h-1zM27 50h1v1h-1zM43 50h1v1h-1zM34 51h1v1h-1zM42 51h1v1h-1zM50 51h1v1h-1zM54 51h1v1h-1zM18 52h1v1h-1zM28 52h1v1h-1zM32 52h1v1h-1zM48 52h1v1h-1zM28 53h1v1h-1zM30 53h1v1h-1zM32 53h1v1h-1zM5 54h1v1h-1zM25 54h1v1h-1zM35 54h1v1h-1zM51 54h1v1h-1zM60 54h1v1h-1zM63 54h1v1h-1zM31 55h1v1h-1zM43 55h1v1h-1zM48 55h2v1h-2zM10 56h1v1h-1zM28 56h1v1h-1zM11 57h1v1h-1zM14 57h1v1h-1zM86 57h1v1h-1zM48 59h1v1h-1zM24 60h1v1h-1zM34 60h1v1h-1zM54 60h1v1h-1zM19 61h1v1h-1zM49 61h1v1h-1zM63 61h1v1h-1zM78 61h1v1h-1zM4 62h1v1h-1zM25 62h1v1h-1zM30 62h1v1h-1zM32 62h1v1h-1zM46 62h1v1h-1zM13 63h1v1h-1zM27 63h1v1h-1zM33 63h1v1h-1zM37 63h1v1h-1zM46 63h1v1h-1zM54 63h1v1h-1zM61 63h1v1h-1zM23 64h1v1h-1zM25 64h1v1h-1zM40 64h1v1h-1zM47 64h1v1h-1zM61 64h1v1h-1zM37 65h1v1h-1zM7 66h1v1h-1zM74 73h1v1h-1zM78 73h1v1h-1zM81 73h1v1h-1zM89 73h1v1h-1zM73 74h1v1h-1zM85 74h1v1h-1zM81 75h1v1h-1zM86 75h1v1h-1zM88 75h1v1h-1zM74 76h1v1h-1zM83 76h1v1h-1zM88 76h1v1h-1zM61 78h1v1h-1zM73 78h1v1h-1zM73 79h1v1h-1zM76 79h1v1h-1zM73 81h1v1h-1zM57 86h1v1h-1zM73 86h2v1h-2zM2 87h1v1h-1zM74 89h1v1h-1z"/>
<path fill="#940e11" d="M6 3h1v1h-1zM33 4h1v1h-1zM3 6h1v1h-1zM64 7h1v1h-1zM41 10h1v1h-1zM34 16h1v1h-1zM49 17h1v1h-1zM15 18h1v1h-1zM50 18h1v1h-1zM18 19h1v1h-1zM48 21h1v1h-1zM33 22h1v1h-1zM63 22h1v1h-1zM30 23h1v1h-1zM55 23h1v1h-1zM46 25h1v1h-1zM34 26h2v1h-2zM28 27h1v1h-1zM52 27h1v1h-1zM27 28h1v1h-1zM51 28h1v1h-1zM23 30h1v1h-1zM66 30h1v1h-1zM59 31h1v1h-1zM4 33h1v1h-1zM22 33h1v1h-1zM16 34h1v1h-1zM26 34h1v1h-1zM55 34h1v1h-1zM26 35h1v1h-1zM49 35h1v1h-1zM64 35h1v1h-1zM40 36h1v1h-1zM61 37h1v1h-1zM36 40h1v1h-1zM65 40h1v1h-1zM10 41h1v1h-1zM49 41h1v1h-1zM60 41h1v1h-1zM62 42h1v1h-1zM65 42h1v1h-1zM25 46h1v1h-1zM21 48h1v1h-1zM17 49h1v1h-1zM35 49h1v1h-1zM41 49h1v1h-1zM65 49h1v1h-1zM18 50h1v1h-1zM54 50h1v1h-1zM57 50h1v1h-1zM28 51h1v1h-1zM27 52h1v1h-1zM50 54h1v1h-1zM23 55h1v1h-1zM34 55h1v1h-1zM50 57h1v1h-1zM88 57h1v1h-1zM31 59h1v1h-1zM41 60h1v1h-1zM37 61h1v1h-1zM42 62h1v1h-1zM22 63h1v1h-1zM7 64h1v1h-1zM35 64h1v1h-1zM40 65h1v1h-1zM42 65h1v1h-1zM49 65h1v1h-1zM30 66h1v1h-1zM61 66h1v1h-1zM76 72h1v1h-1zM79 74h3v1h-3zM84 74h1v1h-1zM77 75h1v1h-1zM80 75h1v1h-1zM89 75h1v1h-1zM72 76h1v1h-1zM75 76h1v1h-1zM81 76h1v1h-1zM85 76h1v1h-1zM87 76h1v1h-1zM89 76h1v1h-1zM76 77h1v1h-1zM76 78h1v1h-1zM73 82h1v1h-1zM75 82h1v1h-1zM76 85h1v1h-1zM57 88h1v1h-1z"/>
<path fill="#a91014" d="M38 2h1v1h-1zM6 5h1v1h-1zM5 6h1v1h-1zM56 7h1v1h-1zM54 8h1v1h-1zM41 11h1v1h-1zM17 15h1v1h-1zM54 18h1v1h-1zM53 19h1v1h-1zM57 22h1v1h-1zM66 22h1v1h-1zM54 24h1v1h-1zM63 24h1v1h-1zM53 27h1v1h-1zM65 27h1v1h-1zM37 28h1v1h-1zM48 28h1v1h-1zM65 28h1v1h-1zM31 29h1v1h-1zM31 30h1v1h-1zM29 31h2v1h-2zM54 31h1v1h-1zM34 32h1v1h-1zM57 32h1v1h-1zM38 33h1v1h-1zM41 33h1v1h-1zM32 34h1v1h-1zM28 37h1v1h-1zM2 38h1v1h-1zM33 38h1v1h-1zM40 38h1v1h-1zM65 39h1v1h-1zM38 40h1v1h-1zM41 40h1v1h-1zM57 40h1v1h-1zM63 40h1v1h-1zM11 41h1v1h-1zM33 41h1v1h-1zM40 41h1v1h-1zM56 42h1v1h-1zM46 45h1v1h-1zM48 45h1v1h-1zM45 46h1v1h-1zM65 46h1v1h-1zM65 47h1v1h-1zM28 48h1v1h-1zM45 48h1v1h-1zM64 49h1v1h-1zM19 53h1v1h-1zM27 53h1v1h-1zM64 53h1v1h-1zM8 54h1v1h-1zM18 54h1v1h-1zM24 54h1v1h-1zM31 54h1v1h-1zM7 56h1v1h-1zM42 56h1v1h-1zM22 57h1v1h-1zM32 57h1v1h-1zM40 57h1v1h-1zM59 57h1v1h-1zM65 61h2v1h-2zM24 63h1v1h-1zM40 63h1v1h-1zM49 64h1v1h-1zM53 64h1v1h-1zM27 65h2v1h-2zM39 65h1v1h-1zM46 65h2v1h-2zM22 66h1v1h-1zM87 75h1v1h-1zM77 76h1v1h-1zM82 76h1v1h-1zM75 78h1v1h-1zM75 79h1v1h-1zM74 82h1v1h-1zM75 84h1v1h-1zM90 85h12v1h-12zM76 87h1v1h-1zM75 88h1v1h-1zM75 89h1v1h-1zM85 90h1v1h-1zM85 91h1v1h-1zM85 92h1v1h-1zM85 93h1v1h-1zM85 94h1v1h-1zM85 95h1v1h-1zM85 96h1v1h-1zM85 97h1v1h-1zM85 98h1v1h-1zM85 99h1v1h-1zM85 100h1v1h-1zM85 101h1v1h-1z"/>
<path fill="#bf1216" d="M54 2h1v1h-1zM13 9h1v1h-1zM9 13h1v1h-1zM15 16h1v1h-1zM44 18h1v1h-1zM51 19h1v1h-1zM65 22h1v1h-1zM55 24h1v1h-1zM43 28h1v1h-1zM32 31h1v1h-1zM64 31h1v1h-1zM31 32h1v1h-1zM61 33h2v1h-2zM52 34h1v1h-1zM56 40h1v1h-1zM61 42h1v1h-1zM28 43h1v1h-1zM18 44h1v1h-1zM46 44h1v1h-1zM62 44h1v1h-1zM44 46h1v1h-1zM56 47h1v1h-1zM58 47h1v1h-1zM49 48h1v1h-1zM48 49h1v1h-1zM57 49h2v1h-2zM51 50h1v1h-1zM53 50h1v1h-1zM19 51h1v1h-1zM34 52h1v1h-1zM50 53h1v1h-1zM52 53h1v1h-1zM2 54h1v1h-1zM24 55h1v1h-1zM54 55h1v1h-1zM59 55h1v1h-1zM62 55h1v1h-1zM65 55h1v1h-1zM40 56h1v1h-1zM47 56h1v1h-1zM49 57h1v1h-1zM47 58h1v1h-1zM49 58h1v1h-1zM55 59h1v1h-1zM59 60h1v1h-1zM33 61h1v1h-1zM42 61h1v1h-1zM62 61h1v1h-1zM64 61h1v1h-1zM33 62h1v1h-1zM44 62h1v1h-1zM55 62h1v1h-1zM61 62h1v1h-1zM31 64h1v1h-1zM22 65h1v1h-1zM55 65h1v1h-1zM76 73h1v1h-1zM83 73h1v1h-1zM85 73h1v1h-1zM76 74h1v1h-1zM87 74h1v1h-1zM79 75h1v1h-1zM84 76h1v1h-1zM86 76h1v1h-1zM75 77h1v1h-1zM75 80h1v1h-1zM75 81h2v1h-2zM76 82h1v1h-1zM90 86h12v1h-12zM90 87h12v1h-12zM76 88h1v1h-1zM86 90h2v1h-2zM86 91h2v1h-2zM86 92h2v1h-2zM86 93h2v1h-2zM86 94h2v1h-2zM86 95h2v1h-2zM86 96h2v1h-2zM86 97h2v1h-2zM86 98h2v1h-2zM86 99h2v1h-2zM86 100h2v1h-2zM86 101h2v1h-2z"/>
<path fill="#d51419" d="M28 4h1v1h-1zM21 13h1v1h-1zM16 15h1v1h-1zM19 15h1v1h-1zM15 17h1v1h-1zM19 18h1v1h-1zM15 19h2v1h-2zM13 21h1v1h-1zM64 22h1v1h-1zM4 28h1v1h-1zM63 28h1v1h-1zM55 29h1v1h-1zM57 29h1v1h-1zM64 30h1v1h-1zM51 31h1v1h-1zM43 32h1v1h-1zM62 34h1v1h-1zM54 40h1v1h-1zM32 43h1v1h-1zM48 43h1v1h-1zM63 43h1v1h-1zM60 45h1v1h-1zM43 48h1v1h-1zM51 49h1v1h-1zM31 51h1v1h-1zM49 51h1v1h-1zM54 53h1v1h-1zM40 54h1v1h-1zM53 54h1v1h-1zM29 55h1v1h-1zM29 57h1v1h-1zM58 57h1v1h-1zM57 58h1v1h-1zM59 58h1v1h-1zM45 60h1v1h-1zM56 60h1v1h-1zM58 60h1v1h-1zM34 62h1v1h-1zM28 63h1v1h-1zM43 63h1v1h-1zM22 64h1v1h-1zM30 64h1v1h-1zM76 75h1v1h-1zM78 75h1v1h-1zM82 75h1v1h-1zM78 76h1v1h-1zM79 77h1v1h-1zM80 78h1v1h-1zM83 79h2v1h-2zM76 83h1v1h-1zM78 83h1v1h-1zM87 83h1v1h-1zM76 84h1v1h-1zM79 84h1v1h-1zM87 85h1v1h-1zM75 86h1v1h-1zM75 87h1v1h-1zM90 88h12v1h-12zM84 89h1v1h-1zM88 90h1v1h-1zM88 91h1v1h-1zM88 92h1v1h-1zM88 93h1v1h-1zM88 94h1v1h-1zM88 95h1v1h-1zM88 96h1v1h-1zM88 97h1v1h-1zM88 98h1v1h-1zM88 99h1v1h-1zM88 100h1v1h-1zM88 101h1v1h-1z"/>
<path fill="#eb161c" d="M0 2h1v1h-1zM18 15h1v1h-1zM19 16h1v1h-1zM19 17h1v1h-1zM17 19h1v1h-1zM27 23h1v1h-1zM62 26h1v1h-1zM23 27h1v1h-1zM59 29h1v1h-1zM34 31h1v1h-1zM62 31h1v1h-1zM31 34h1v1h-1zM50 34h1v1h-1zM62 43h1v1h-1zM66 47h1v1h-1zM51 48h1v1h-1zM34 50h1v1h-1zM55 50h1v1h-1zM48 51h1v1h-1zM57 54h1v1h-1zM50 55h1v1h-1zM57 56h4v1h-4zM54 57h1v1h-1zM56 57h1v1h-1zM60 57h1v1h-1zM56 58h1v1h-1zM29 59h1v1h-1zM57 59h2v1h-2zM60 59h1v1h-1zM26 62h1v1h-1zM31 62h1v1h-1zM43 62h1v1h-1zM63 62h1v1h-1zM65 62h1v1h-1zM62 63h1v1h-1zM64 63h1v1h-1zM66 63h1v1h-1zM62 64h1v1h-1zM62 65h1v1h-1zM66 65h1v1h-1zM47 66h1v1h-1zM64 66h1v1h-1zM71 68h1v1h-1zM84 75h2v1h-2zM78 77h1v1h-1zM80 77h4v1h-4zM86 77h3v1h-3zM77 78h1v1h-1zM79 78h1v1h-1zM81 78h5v1h-5zM88 78h2v1h-2zM77 79h2v1h-2zM80 79h1v1h-1zM82 79h1v1h-1zM87 79h2v1h-2zM76 80h4v1h-4zM81 80h3v1h-3zM86 80h2v1h-2zM89 80h1v1h-1zM77 81h4v1h-4zM86 81h2v1h-2zM89 81h1v1h-1zM77 82h1v1h-1zM79 82h1v1h-1zM83 82h1v1h-1zM85 82h1v1h-1zM89 82h1v1h-1zM79 83h2v1h-2zM85 83h1v1h-1zM77 84h2v1h-2zM81 84h1v1h-1zM83 84h1v1h-1zM85 84h3v1h-3zM89 84h1v1h-1zM79 85h1v1h-1zM82 85h2v1h-2zM86 85h1v1h-1zM76 86h1v1h-1zM78 86h1v1h-1zM80 86h1v1h-1zM85 86h1v1h-1zM88 86h2v1h-2zM77 87h1v1h-1zM79 87h1v1h-1zM81 87h2v1h-2zM84 87h3v1h-3zM88 87h1v1h-1zM77 88h3v1h-3zM82 88h2v1h-2zM85 88h3v1h-3zM89 88h1v1h-1zM76 89h1v1h-1zM78 89h3v1h-3zM82 89h2v1h-2zM85 89h1v1h-1zM87 89h2v1h-2zM90 89h12v1h-12zM89 90h1v1h-1zM89 91h1v1h-1zM89 92h1v1h-1zM89 93h1v1h-1zM89 94h1v1h-1zM89 95h1v1h-1zM89 96h1v1h-1zM89 97h1v1h-1zM89 98h1v1h-1zM89 99h1v1h-1zM89 100h1v1h-1zM89 101h1v1h-1z"/>
<path fill="#fc181e" d="M0 0h4v1h-4zM0 1h4v1h-4zM1 2h3v1h-3zM51 2h1v1h-1zM0 3h4v1h-4zM4 4h1v1h-1zM5 5h1v1h-1zM6 6h1v1h-1zM7 7h1v1h-1zM8 8h1v1h-1zM9 9h1v1h-1zM10 10h1v1h-1zM11 11h1v1h-1zM12 12h1v1h-1zM13 13h1v1h-1zM14 14h1v1h-1zM15 15h1v1h-1zM16 16h3v1h-3zM16 17h3v1h-3zM16 18h3v1h-3zM19 19h1v1h-1zM57 19h1v1h-1zM20 20h1v1h-1zM21 21h1v1h-1zM22 22h1v1h-1zM23 23h1v1h-1zM24 24h1v1h-1zM25 25h1v1h-1zM26 26h1v1h-1zM54 26h1v1h-1zM65 26h1v1h-1zM27 27h1v1h-1zM28 28h1v1h-1zM29 29h1v1h-1zM30 30h1v1h-1zM31 31h1v1h-1zM32 32h1v1h-1zM33 33h1v1h-1zM58 33h1v1h-1zM34 34h1v1h-1zM54 34h1v1h-1zM63 34h2v1h-2zM35 35h1v1h-1zM36 36h1v1h-1zM37 37h1v1h-1zM38 38h1v1h-1zM39 39h1v1h-1zM40 40h1v1h-1zM41 41h1v1h-1zM59 41h1v1h-1zM42 42h1v1h-1zM43 43h1v1h-1zM44 44h1v1h-1zM45 45h1v1h-1zM46 46h1v1h-1zM50 46h1v1h-1zM47 47h1v1h-1zM48 48h1v1h-1zM57 48h1v1h-1zM63 48h1v1h-1zM65 48h1v1h-1zM49 49h1v1h-1zM63 49h1v1h-1zM46 50h1v1h-1zM50 50h1v1h-1zM59 50h1v1h-1zM63 50h1v1h-1zM2 51h1v1h-1zM51 51h1v1h-1zM53 51h1v1h-1zM52 52h2v1h-2zM51 53h1v1h-1zM53 53h1v1h-1zM63 53h1v1h-1zM26 54h1v1h-1zM34 54h1v1h-1zM54 54h1v1h-1zM62 54h1v1h-1zM55 55h1v1h-1zM56 56h1v1h-1zM19 57h1v1h-1zM48 57h1v1h-1zM57 57h1v1h-1zM33 58h1v1h-1zM58 58h1v1h-1zM60 58h1v1h-1zM41 59h1v1h-1zM50 59h1v1h-1zM56 59h1v1h-1zM59 59h1v1h-1zM57 60h1v1h-1zM60 60h1v1h-1zM61 61h1v1h-1zM54 62h1v1h-1zM62 62h1v1h-1zM64 62h1v1h-1zM66 62h1v1h-1zM34 63h1v1h-1zM48 63h3v1h-3zM53 63h1v1h-1zM63 63h1v1h-1zM65 63h1v1h-1zM34 64h1v1h-1zM63 64h4v1h-4zM26 65h1v1h-1zM48 65h1v1h-1zM63 65h3v1h-3zM62 66h2v1h-2zM65 66h2v1h-2zM67 67h6v1h-6zM67 68h4v1h-4zM72 68h1v1h-1zM67 69h6v1h-6zM67 70h6v1h-6zM67 71h6v1h-6zM67 72h6v1h-6zM73 73h1v1h-1zM74 74h1v1h-1zM77 74h1v1h-1zM75 75h1v1h-1zM76 76h1v1h-1zM80 76h1v1h-1zM77 77h1v1h-1zM84 77h2v1h-2zM89 77h1v1h-1zM78 78h1v1h-1zM86 78h2v1h-2zM79 79h1v1h-1zM81 79h1v1h-1zM85 79h2v1h-2zM89 79h1v1h-1zM80 80h1v1h-1zM84 80h2v1h-2zM88 80h1v1h-1zM81 81h5v1h-5zM88 81h1v1h-1zM78 82h1v1h-1zM80 82h3v1h-3zM84 82h1v1h-1zM86 82h3v1h-3zM77 83h1v1h-1zM81 83h4v1h-4zM86 83h1v1h-1zM88 83h2v1h-2zM80 84h1v1h-1zM82 84h1v1h-1zM84 84h1v1h-1zM88 84h1v1h-1zM75 85h1v1h-1zM77 85h2v1h-2zM80 85h2v1h-2zM84 85h2v1h-2zM88 85h2v1h-2zM77 86h1v1h-1zM79 86h1v1h-1zM81 86h4v1h-4zM86 86h2v1h-2zM78 87h1v1h-1zM80 87h1v1h-1zM83 87h1v1h-1zM87 87h1v1h-1zM89 87h1v1h-1zM80 88h2v1h-2zM84 88h1v1h-1zM88 88h1v1h-1zM77 89h1v1h-1zM81 89h1v1h-1zM86 89h1v1h-1zM89 89h1v1h-1zM90 90h12v1h-12zM90 91h12v1h-12zM90 92h12v1h-12zM90 93h12v1h-12zM90 94h12v1h-12zM90 95h12v1h-12zM90 96h12v1h-12zM90 97h12v1h-12zM90 98h12v1h-12zM90 99h12v1h-12zM90 100h12v1h-12zM90 101h12v1h-12z"/>
</g>
<g fill="#3457b8">
<rect x="693.7" y="1576.7" width="21.9" height="11.6"/>
<rect x="766.9" y="1576.7" width="22.4" height="11.6"/>
<rect x="961.4" y="1576.7" width="22.3" height="11.6"/>
<rect x="989" y="1576.7" width="22" height="11.6"/>
<rect x="1017" y="1576.7" width="26.8" height="11.6"/>
<rect x="1048" y="1576.7" width="72.7" height="11.6"/>
<rect x="1124.4" y="1576.7" width="59.1" height="11.6"/>
</g>
<text class="pl" style="font-size:47px" x="655.4" y="1238.2">f</text>
<g class="eb" style="font-size:18.1px" text-anchor="middle">
<text x="707.2" y="1604.6">AP1</text>
<text x="706.5" y="1626.6">MAF</text>
<text x="779.8" y="1611.6">NFKB</text>
<text x="999.3" y="1607">SP1</text>
<text x="999.3" y="1629">SP4</text>
<text x="1000" y="1651.3">GK</text>
<text x="977" y="1678.4">E2F</text>
<text x="1035.2" y="1678.4">STATs</text>
<text x="1077.5" y="1607">CREB</text>
<text x="1078.2" y="1629">ATFs</text>
<text x="1153.8" y="1614">MYC/MAX</text>
<text x="1153.3" y="1635.9">ARNT</text>
<text x="1153.5" y="1658.3">HIF1A</text>
<text x="1153" y="1679.3">USF</text>
</g></g>
</svg>
</body></html>
